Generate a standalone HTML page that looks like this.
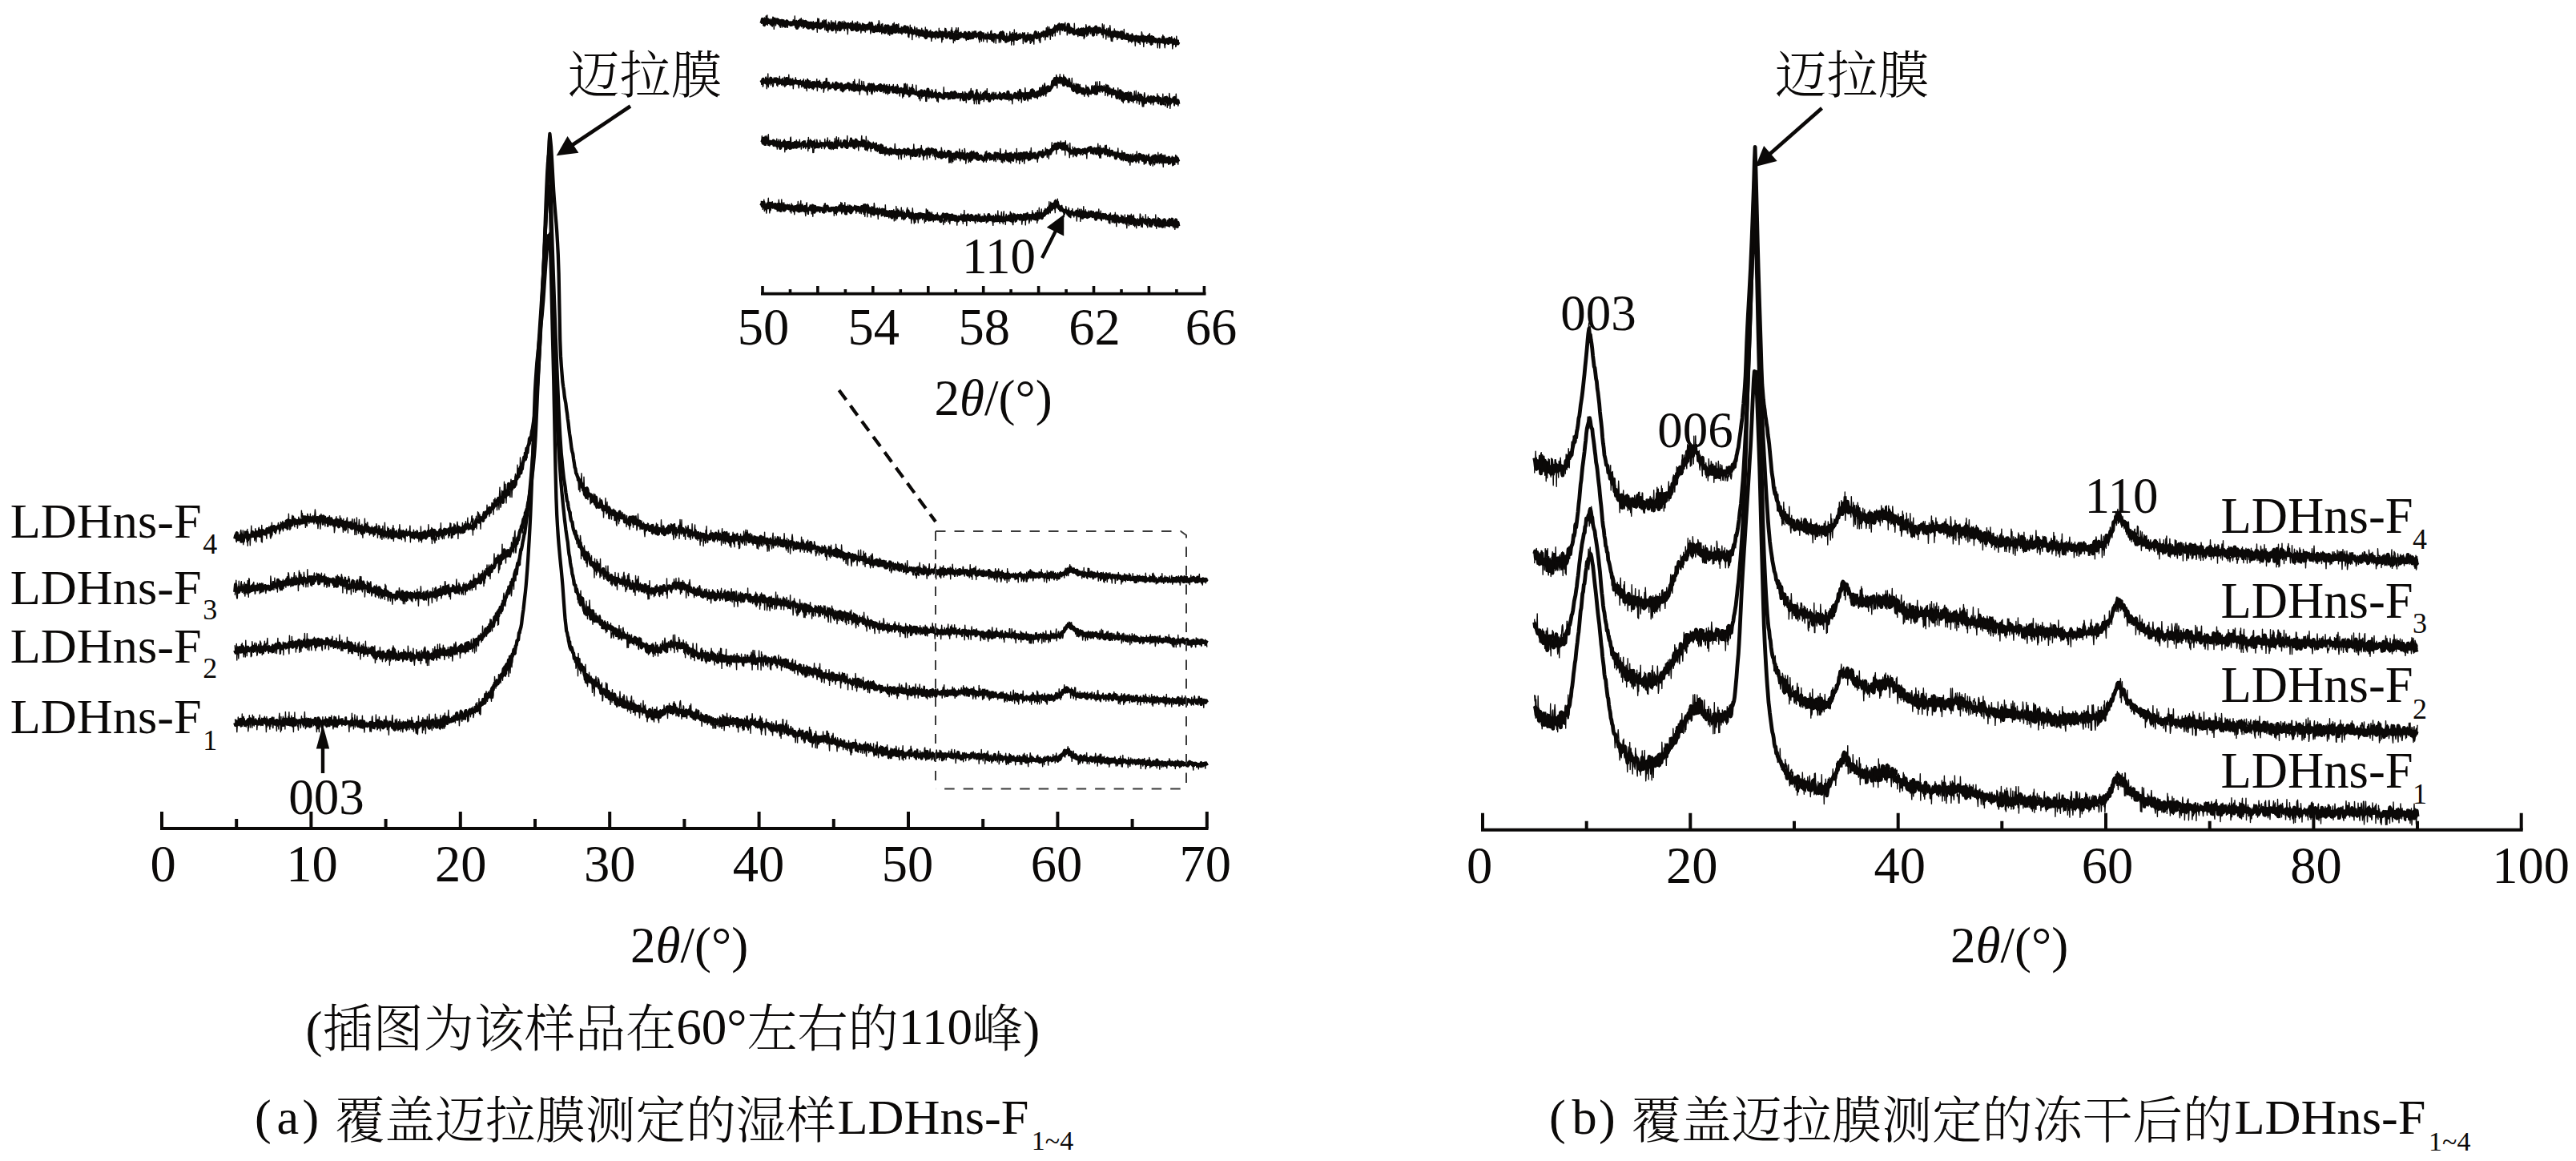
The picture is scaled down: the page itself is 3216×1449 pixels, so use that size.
<!DOCTYPE html><html><head><meta charset="utf-8"><style>html,body{margin:0;padding:0;background:#fff}svg{display:block}</style></head><body><svg width="3216" height="1449" viewBox="0 0 3216 1449">
<rect width="3216" height="1449" fill="#fff"/>
<path d="M293.3 672.5l.8 -3.7 .8 -1.3 .8 -2.3 .8 4.7 .8 3.4 .8 -2.7 .8 .9 .8 1 .8 -4.2 .8 7.4 .8 -7.6 .8 2.6 .8 4.7 .8 -6 .8 .3 .8 -1.4 .8 1.7 .8 -5.5 .8 3.1 .8 4.9 .8 -3.4 .8 -1.1 .8 1.2 .8 -.1 .8 -.7 .8 .8 .8 -5 .8 4.7 .8 -2.9 .8 3 .8 -2 .9 -2.3 .8 1.8 .8 -2.2 .8 4.1 .8 -2.4 .8 1.7 .8 -4.5 .8 5.7 .8 -4.4 .8 3.3 .8 -1.3 .8 -4.5 .8 2.9 .8 -2.1 .8 1.7 .8 2 .8 -1.9 .8 .6 .8 -5.1 .8 2.7 .8 .1 .8 1.3 .8 -3.9 .8 2.3 .8 -.5 .8 -4.5 .8 .8 .8 2.9 .8 -3.7 .8 -.4 .8 4.4 .8 -1.6 .8 -1.4 .8 .5 .8 -1.4 .8 -.5 .8 -.1 .8 1.5 .8 1.7 .8 -4.1 .8 .6 .8 -.6 .8 -2.6 .8 3 .8 1 .8 -3.9 .8 3.3 .8 -3.3 .8 3.4 .8 -.1 .8 -3.7 .8 -3.8 .8 3.3 .8 -2.5 .8 -.1 .8 2.1 .8 3.2 .8 -3.4 .8 -.5 .8 -3.7 .8 2.5 .8 -1.9 .8 3.9 .8 -2.5 .8 .9 .8 -.1 .8 -.6 .8 2.3 .8 -1.2 .8 -1.9 .8 .9 .8 .6 .8 1.6 .8 -2.8 .8 2.6 .8 -4.5 .8 .6 .8 -2.9 .8 4.8 .8 -4.1 .8 -.2 .8 3.9 .8 -3.1 .8 -.6 .8 3.6 .8 -2.6 .8 2.3 .8 -3 .8 2.4 .8 .7 .8 -2.2 .8 3.6 .8 -4.7 .8 .3 .8 .7 .8 2 .8 -2.8 .8 -.2 .8 1.6 .8 2.2 .8 -3.4 .8 -1.8 .8 2.7 .8 1.8 .8 -2.4 .8 1.7 .8 -4.1 .8 4.3 .8 .4 .8 1.3 .8 -.4 .8 1.2 .8 -3.5 .8 3.8 .8 -4.8 .8 2.5 .8 3.9 .8 -.3 .8 -5.6 .8 5.5 .8 -2 .8 -.6 .8 2.3 .8 0 .8 2.9 .8 -5.9 .8 2.3 .8 .8 .8 -3.5 .8 6.7 .8 1.4 .8 -5 .8 2.4 .8 -1.3 .8 1.4 .8 -1.9 .8 3.4 .8 -4.1 .8 5.6 .8 -2 .8 4.6 .8 -8.6 .8 3.5 .8 -2.4 .8 2.6 .8 1.4 .8 -2.7 .8 -1 .8 -.5 .8 4.4 .8 2.4 .8 0 .8 -2.3 .8 -2 .8 1.4 .8 -2.3 .8 0 .8 5.9 .8 -2.8 .8 1.4 .8 -1.1 .8 3.6 .8 .4 .8 -4.6 .8 1 .8 -.5 .8 4.4 .8 0 .8 -3.2 .8 5.7 .8 -4.7 .8 -2.6 .8 -1.6 .8 4.2 .8 1.2 .8 -1.8 .8 2.1 .8 2 .8 -2.6 .8 2.1 .8 1.9 .8 -2.4 .8 -2.2 .8 2.4 .8 .4 .8 3.6 .8 -5.4 .8 -2.3 .8 4.2 .8 .2 .8 -1.4 .8 2.3 .8 -.4 .8 2.1 .8 -4.2 .8 .4 .8 1.7 .8 -.9 .8 4 .8 -1.3 .8 -1.2 .8 3.6 .8 -2.1 .8 1.2 .8 -.2 .8 -1.9 .8 .1 .8 .5 .8 -2.3 .8 1.8 .8 2.7 .8 -1.1 .8 -2.6 .8 7.3 .8 -7.3 .8 3.7 .8 .3 .8 1.3 .8 -4.6 .8 2 .8 -.5 .8 3 .8 -1.7 .8 .1 .8 .3 .8 3.1 .8 -2.7 .8 .4 .8 -3.9 .9 3.6 .8 -4.2 .8 4.7 .8 -1.6 .8 -2.2 .8 -.6 .8 2.3 .8 .5 .8 -1.5 .8 .5 .8 .1 .8 -.5 .8 .8 .8 1 .8 2.2 .8 -1.4 .8 -2.6 .8 4.7 .8 -.9 .8 -3 .8 2.7 .8 -3.3 .8 -.5 .8 .1 .8 5 .8 -3.1 .8 .4 .8 -.6 .8 -.9 .8 1.9 .8 .4 .8 2.7 .8 -6 .8 5.1 .8 -1.8 .8 -5.1 .8 5.8 .8 1.3 .8 -1.1 .8 -1.8 .8 -.2 .8 -4.5 .8 4.8 .8 -.3 .8 -2.4 .8 2.3 .8 -1.9 .8 6.1 .8 -7.4 .8 .5 .8 -2.8 .8 3.6 .8 1 .8 -.4 .8 -1.5 .8 3.1 .8 -1.6 .8 1.9 .8 -2.9 .8 -3.7 .8 3.3 .8 -2 .8 3.7 .8 -3.2 .8 .6 .8 .3 .8 -3.4 .8 2.3 .8 2.5 .8 -3.3 .8 .7 .8 .6 .8 -1.9 .8 .6 .8 1.4 .8 -1.9 .8 .8 .8 -.6 .8 -2 .8 -.7 .8 6.8 .8 -1.4 .8 -3.3 .8 2.1 .8 .2 .8 -.5 .8 -2.9 .8 -2.4 .8 .2 .8 2 .8 3.2 .8 .3 .8 -4 .8 -.4 .8 3.1 .8 1.6 .8 -6.5 .8 2.8 .8 -.9 .8 -1.2 .8 -.2 .8 -.3 .8 .5 .8 -3.5 .8 3 .8 1.4 .8 -.4 .8 -.2 .8 -1.2 .8 -.6 .8 3.4 .8 -5 .8 .2 .8 1.8 .8 -3.2 .8 -3.5 .8 .9 .8 -.5 .8 -.1 .8 -1.4 .8 2.3 .8 -1.4 .8 -1.2 .8 -2.7 .8 2.4 .8 -.8 .8 1.9 .8 -6.9 .8 .4 .8 2.6 .8 -6.3 .8 2.3 .8 -.9 .8 -1.1 .8 -3.1 .8 1.5 .8 -4.4 .8 5.5 .8 -4.8 .8 .7 .8 -1.2 .8 -.4 .8 -1 .8 -.1 .8 -2.7 .8 .1 .8 -3.7 .8 -.8 .8 -.4 .8 -1.3 .8 -1.8 .8 1.1 .8 2.4 .8 -1.4 .8 -3.1 .8 1.2 .8 -.7 .8 5.4 .8 -12.5 .8 4.3 .8 -5.3 .8 6.5 .8 -5.1 .8 1 .8 -1.6 .8 .6 .8 -10.9 .8 3.4 .8 2.7 .8 -5.3 .8 4.6 .8 1 .8 -8.8 .8 1.4 .8 2 .8 2.3 .8 -3.8 .8 -2.3 .8 -6.1 .8 1 .8 -1.4 .8 -3.8 .8 1 .8 -3.9 .8 -2.3 .8 4.9 .8 -8.2 .8 3.2 .8 -8.1 .8 -1.4 .8 -5.2 .8 -.6 .8 3.1 .8 -6.3 .8 -7.3 .8 5.5 .8 -8 .8 -1.7 .8 -2.2 .8 -6.7 .8 3 .8 -4.2 .8 -6.6 .8 -3.2 .8 -5.5 .8 -5.3 .8 -5.1 .8 -7.1 .8 -5.7 .8 -7.4 .8 -8.1 .8 -12.2 .8 -11.4 .8 -13.3 .8 -13.6 .8 -14.3 .8 -15 .8 -16.5 .8 -17.3 .8 -17.4 .8 -17.4 .8 -16.9 .8 -17.3 .8 -16.9 .8 -17 .8 -17.7 .8 -17.6 .8 -22.2 .9 -23.1 .8 -17.6 .8 -9.7 .8 7.6 .8 8.2 .8 12.5 .8 14.5 .8 14.5 .8 14 .8 11.4 .8 9.9 .8 9.6 .8 9.4 .8 10.3 .8 13.5 .8 15.5 .8 23.6 .8 41.7 .8 40.9 .8 20.4 .8 12 .8 10.2 .8 10 .8 5.9 .8 4.9 .8 7.6 .8 4.4 .8 4.3 .8 7 .8 4.9 .8 7.1 .8 5.6 .8 7.5 .8 6.2 .8 5.2 .8 6.4 .8 6.4 .8 3.8 .8 2.3 .8 6.5 .8 4.7 .8 5.8 .8 2 .8 5.7 .8 .8 .8 2.8 .8 1.4 .8 2.6 .8 1.5 .8 3 .8 -1.2 .8 .8 .8 4 .8 2.1 .8 -.2 .8 3.5 .8 1 .8 4.9 .8 -7.8 .8 10.8 .8 -11.4 .8 2.6 .8 6.7 .8 -2.6 .8 2.7 .8 .3 .8 -1.6 .8 .6 .8 3.5 .8 2.7 .8 1.3 .8 -.5 .8 -.7 .8 4.7 .8 -8.4 .8 6.4 .8 3.9 .8 1.4 .8 -.5 .8 .9 .8 -.3 .8 -1.7 .8 -5.3 .8 4.8 .8 1.2 .8 5 .8 -4.3 .8 .7 .8 3 .8 -3.3 .8 2.9 .8 1.7 .8 -1.5 .8 1.1 .8 -3.4 .8 1.7 .8 2.7 .8 3.6 .8 -3.4 .8 -.3 .8 .7 .8 3.7 .8 -4.2 .8 3.9 .8 -.7 .8 1.3 .8 -1.4 .8 2.2 .8 3.2 .8 -3.3 .8 -.1 .8 -4 .8 6.8 .8 -2.2 .8 2.6 .8 -.3 .8 -1.7 .8 .6 .8 -1.2 .8 7.7 .8 -2.1 .8 .1 .8 1.1 .8 .7 .8 -.8 .8 .7 .8 3.5 .8 -8.9 .8 4.6 .8 -1.5 .8 1.8 .8 -5.2 .8 3.4 .8 4.5 .8 -4.2 .8 4.3 .8 -2.6 .8 1.8 .8 -2.7 .8 2.3 .8 -1.6 .8 4.9 .8 -4.7 .8 4.8 .8 -1.6 .8 1.2 .8 3.8 .8 -3.4 .8 -.6 .8 1.8 .8 1.8 .8 -2.5 .8 5.3 .8 -3 .8 -.9 .8 -.3 .8 1.4 .8 1.9 .8 1.4 .8 -1.9 .8 -1.1 .8 1.4 .8 -4.2 .8 7.3 .8 -.5 .8 -2 .8 2.1 .8 -3.6 .8 6.3 .8 -4.2 .8 -.6 .8 5.7 .8 -6.6 .8 3.1 .8 -2.8 .8 .7 .8 .6 .8 -.7 .8 4.5 .8 -.9 .8 -3.6 .8 6.3 .8 -5.2 .8 -.4 .8 1.3 .8 -3.2 .8 5.1 .8 -4.9 .8 -.8 .8 5 .8 -4.4 .8 1.4 .8 -2.2 .8 1.7 .8 1.1 .8 -5.5 .8 5 .8 -1.6 .8 4.7 .8 1.4 .8 -3.3 .8 .1 .8 1 .8 0 .8 -5.3 .8 .3 .8 1.9 .8 -1.9 .8 2.5 .8 1.1 .8 -1.7 .8 3 .8 2.3 .8 -2.7 .8 1.1 .8 -.7 .8 .2 .8 -.6 .8 -1 .8 4 .8 1.4 .8 -2.1 .8 .7 .8 -2.9 .8 2.8 .8 1.4 .8 -.5 .8 .6 .9 -2 .8 -.4 .8 2.4 .8 4 .8 -3.9 .8 -2.3 .8 2 .8 1 .8 3.1 .8 -.2 .8 -3.9 .8 -.4 .8 1.7 .8 .5 .8 -2 .8 4.2 .8 -2.9 .8 1.5 .8 -.9 .8 1.6 .8 -1.3 .8 .8 .8 2.1 .8 -2.1 .8 2.6 .8 -5.7 .8 2.3 .8 -1.8 .8 -.7 .8 3 .8 4.1 .8 -3.5 .8 1.7 .8 -6.2 .8 4.6 .8 -2.9 .8 3 .8 1.8 .8 -3.2 .8 3.4 .8 -4 .8 2 .8 -1.5 .8 1.5 .8 -.4 .8 -4.3 .8 3.9 .8 -.2 .8 4.7 .8 -8.8 .8 5.5 .8 1.7 .8 2.3 .8 -1.2 .8 -2.8 .8 3.3 .8 -3.3 .8 -.1 .8 -.2 .8 0 .8 4.1 .8 -6.7 .8 .3 .8 5.3 .8 -.9 .8 .9 .8 -2.3 .8 2 .8 -1.9 .8 -.5 .8 .2 .8 1.3 .8 -.1 .8 -.9 .8 4.3 .8 -2.3 .8 -1.7 .8 -1.9 .8 2.7 .8 -3.3 .8 1.7 .8 -.5 .8 .6 .8 2.3 .8 -5.4 .8 8.2 .8 -2.1 .8 -1.8 .8 -.3 .8 2.9 .8 -1.7 .8 4 .8 -3.9 .8 -1.5 .8 -1 .8 2.9 .8 2.4 .8 -4.6 .8 5.3 .8 -.8 .8 -2.4 .8 3.5 .8 -6.3 .8 -.9 .8 5.3 .8 .4 .8 0 .8 -.8 .8 -2.9 .8 4.3 .8 -1.8 .8 2.7 .8 -1.3 .8 -2.8 .8 3.8 .8 .5 .8 .1 .8 -3.1 .8 -.7 .8 4 .8 -1.7 .8 0 .8 2.4 .8 .2 .8 -1.1 .8 -1.4 .8 3.7 .8 -5.3 .8 2.3 .8 .8 .8 -3.5 .8 1.4 .8 3.5 .8 -1.9 .8 -2 .8 5.8 .8 -3 .8 -.1 .8 3.7 .8 -6.9 .8 2.1 .8 -.7 .8 4.8 .8 -4.4 .8 6.8 .8 -3.9 .8 -.2 .8 1.5 .8 -2.5 .8 -1.3 .8 .7 .8 1.4 .8 -2 .8 2.4 .8 -1.5 .8 1 .8 .4 .8 3.6 .8 1.6 .8 -.7 .8 -4 .8 -1 .8 3.8 .8 .7 .8 -.6 .8 -3.1 .8 2 .8 -1.1 .8 2.9 .8 -.1 .8 -1.3 .8 -1.3 .8 4.7 .8 -3.1 .8 1.5 .8 -.5 .8 .6 .8 1 .8 -3 .8 -.1 .8 2.4 .8 -6.7 .8 5.5 .8 -.7 .8 2.7 .8 -.6 .8 -1 .8 -1.8 .8 2.2 .8 -.1 .8 .9 .8 .5 .8 -1.7 .8 2.7 .8 -2 .8 2.1 .8 0 .8 2.2 .8 -2.5 .8 3.6 .8 -3.9 .8 -.9 .8 3.4 .8 -3.8 .8 3.6 .8 .2 .8 -.2 .8 .7 .8 -.3 .8 2.5 .8 -2.7 .8 -3.6 .8 3.5 .8 2.7 .8 .5 .8 -.4 .8 -1.1 .8 -1.8 .8 5.3 .8 -4.2 .8 -.9 .8 -2.5 .8 9.1 .8 -3.7 .8 -3.6 .8 5.8 .8 -.2 .8 -4.6 .8 5.2 .9 -1.3 .8 1.5 .8 1.6 .8 -3.4 .8 5.4 .8 -4.4 .8 -.8 .8 3.8 .8 -3.6 .8 .8 .8 2.6 .8 -3.3 .8 -.7 .8 3.4 .8 -.4 .8 -1 .8 3.2 .8 -4 .8 4 .8 -3.4 .8 3.2 .8 -3.1 .8 3.8 .8 -1.2 .8 -.5 .8 1.2 .8 -.3 .8 2.1 .8 -2.7 .8 2.3 .8 -1.2 .8 -.4 .8 .4 .8 -1 .8 3 .8 -.3 .8 .7 .8 -3.6 .8 2.4 .8 4 .8 -.3 .8 -2.4 .8 .4 .8 .6 .8 1.9 .8 1 .8 -2.1 .8 .1 .8 -.3 .8 .9 .8 2.9 .8 -4.4 .8 2.7 .8 -3.2 .8 .3 .8 -1 .8 2.3 .8 4 .8 .5 .8 -1.4 .8 -1.4 .8 2.3 .8 -3.8 .8 -.5 .8 1.1 .8 1.4 .8 -2.8 .8 2.1 .8 4.7 .8 -3.3 .8 -.2 .8 -.3 .8 2.6 .8 0 .8 -.9 .8 -.3 .8 -3.5 .8 1.4 .8 2.1 .8 -.2 .8 .6 .8 -.1 .8 4.2 .8 -1 .8 -3.9 .8 3.5 .8 -.5 .8 -.7 .8 -.2 .8 1.3 .8 2.8 .8 -4.1 .8 .8 .8 .2 .8 -2.6 .8 3.1 .8 -1.3 .8 2.1 .8 .4 .8 2.6 .8 -3.4 .8 0 .8 2 .8 2.3 .8 -3 .8 .7 .8 .2 .8 .1 .8 -1.7 .8 -.3 .8 .3 .8 .7 .8 1.2 .8 -1.9 .8 .3 .8 1.5 .8 -.2 .8 .5 .8 -2.2 .8 5.5 .8 -3.5 .8 0 .8 -.9 .8 2.3 .8 1 .8 -1.7 .8 0 .8 -.2 .8 4.2 .8 -2.7 .8 -1.6 .8 1.1 .8 1.5 .8 -1.4 .8 .3 .8 -.2 .8 -.6 .8 1.3 .8 1.8 .8 -1.9 .8 -1.2 .8 -.9 .8 1.3 .8 -.8 .8 -.4 .8 2.4 .8 -.5 .8 1.3 .8 -1 .8 -1.3 .8 2.1 .8 -.8 .8 1.6 .8 -3.8 .8 1 .8 .7 .8 2.4 .8 -1.7 .8 -2.6 .8 .4 .8 2.3 .8 -3.3 .8 1.4 .8 .9 .8 -.3 .8 1 .8 .8 .8 -.8 .8 -2.5 .8 4.1 .8 -.4 .8 -2.9 .8 .8 .8 -1.6 .8 4.3 .8 -2.9 .8 1.4 .8 .1 .8 1.3 .8 -1.8 .8 -.7 .8 1.5 .8 .6 .8 -2.4 .8 .7 .8 -2.2 .8 4.6 .8 -3.2 .8 2.5 .8 -.1 .8 -.1 .8 .2 .8 -2.6 .8 1.5 .8 -1.3 .8 .9 .8 -1 .8 4.9 .8 -3.3 .8 1.2 .8 -2.5 .8 3.8 .8 -2.8 .8 -.1 .8 -.2 .8 -1.8 .8 -.7 .8 3.4 .8 -1.9 .8 1.4 .8 3.4 .8 -3.4 .8 3.6 .8 -2.5 .8 -2.1 .8 2.6 .8 .9 .8 -.4 .8 -2.2 .8 -.5 .8 3.1 .8 1.6 .8 -.1 .8 -3.1 .8 .3 .8 .9 .8 1.3 .8 -.9 .9 .1 .8 -.5 .8 -3.9 .8 2.3 .8 2.1 .8 -2.4 .8 5.5 .8 -4.2 .8 2.4 .8 .5 .8 .4 .8 -3.4 .8 1.6 .8 2.6 .8 -2 .8 1.2 .8 -4.8 .8 4.3 .8 -.3 .8 -.3 .8 -2.4 .8 1.6 .8 .8 .8 -.1 .8 -1 .8 3.3 .8 -.1 .8 -1.9 .8 2.8 .8 -3.9 .8 2.3 .8 2 .8 -1.6 .8 -1 .8 1 .8 -.9 .8 -.6 .8 -.4 .8 1.2 .8 -.2 .8 .7 .8 -1.7 .8 1.6 .8 1 .8 -2.3 .8 3.3 .8 -3.5 .8 0 .8 .2 .8 -.9 .8 -.5 .8 .5 .8 1.4 .8 -.8 .8 3.3 .8 -2.4 .8 -.4 .8 -.2 .8 1.5 .8 -.5 .8 .3 .8 .8 .8 1 .8 -3.5 .8 2.3 .8 -.9 .8 .3 .8 -1.2 .8 1.7 .8 0 .8 -.3 .8 -1.7 .8 2.1 .8 -2.3 .8 -.9 .8 3.4 .8 -1.4 .8 -2.1 .8 1.3 .8 1 .8 1.4 .8 -1.7 .8 -.9 .8 -.3 .8 -.5 .8 1.8 .8 -1 .8 2 .8 -1.9 .8 2.5 .8 -1.8 .8 .3 .8 -.2 .8 -.1 .8 2.5 .8 -3.3 .8 .2 .8 .4 .8 1.2 .8 -2.3 .8 3.3 .8 -3.4 .8 .6 .8 .8 .8 0 .8 -1.5 .8 2.4 .8 1.3 .8 -2.7 .8 1 .8 -.2 .8 2.5 .8 -3.4 .8 .1 .8 -1.1 .8 .6 .8 -1.1 .8 -.4 .8 -.2 .8 1.2 .8 -2.1 .8 1.1 .8 -1.9 .8 1.1 .8 -3.8 .8 -.5 .8 1.8 .8 .8 .8 -2.9 .8 -2.3 .8 4.5 .8 -.7 .8 -1.5 .8 3.2 .8 .3 .8 -2.3 .8 .6 .8 1.8 .8 .4 .8 1.3 .8 -.8 .8 2.3 .8 -2.9 .8 -.4 .8 .6 .8 .1 .8 1 .8 -.7 .8 2.4 .8 .7 .8 .7 .8 -2.7 .8 -.9 .8 1.3 .8 .7 .8 -.6 .8 1.4 .8 .1 .8 -.2 .8 -1.5 .8 2.4 .8 -2.3 .8 -2.1 .8 3.1 .8 1.8 .8 -1.6 .8 -2.1 .8 1.7 .8 2.1 .8 -1.3 .8 -.4 .8 -1.4 .8 1.6 .8 -.8 .8 2.9 .8 -1.5 .8 .8 .8 -3.2 .8 2.2 .8 1.1 .8 1.3 .8 -.5 .8 -2.7 .8 5 .8 -4 .8 -.1 .8 .1 .8 -1 .8 1.1 .8 -.4 .8 .4 .8 -.2 .8 .6 .8 1.3 .8 -1.7 .8 -.6 .8 2.4 .8 -.7 .8 1.1 .8 -2.1 .8 1.2 .8 -.9 .8 -.6 .8 1.2 .8 .6 .8 .6 .8 -1.8 .8 2.6 .8 .5 .8 -.9 .8 -.9 .8 -.5 .8 2.5 .8 -2.3 .8 2.9 .8 -4.1 .8 0 .8 3.1 .8 -2.1 .8 3 .8 -1.8 .8 0 .8 1.1 .8 1.1 .8 -.3 .8 -1.3 .8 -.1 .8 1.5 .9 -2 .8 -.2 .8 .1 .8 5.1 .8 -1.8 .8 -1.3 .8 -1 .8 1.2 .8 -2.8 .8 1.8 .8 1.6 .8 -.9 .8 -1.8 .8 1.5 .8 -.2 .8 2.1 .8 -.7 .8 -.8 .8 2.7 .8 -3.5 .8 2.2 .8 -.8 .8 -.7 .8 -.5 .8 1.3 .8 1.3 .8 -4 .8 2.3 .8 1 .8 -2.1 .8 .1 .8 2.7 .8 -2.1 .8 -.1 .8 1 .8 -.1 .8 .4 .8 0 .8 1.1 .8 -1.3 .8 .7 .8 -2.2 .8 1.4 .8 -1 .8 2.6 .8 -1.5 .8 1.2 .8 -1.8 .8 -.9 .8 2.2 .8 -1.2 .8 -1.6 .8 1.5 .8 -.6 .8 2.8 .8 -1.9 .8 1 .8 -.2 .8 .9 .8 -.9 .8 0 .8 -.1 .8 -2.2 .8 1.7 .8 -1.5 .8 0 .8 1.6 .8 -2.4 .8 1.9 .8 1.6 .8 -1.4 .8 1 .8 -2.3 .8 1.3 .8 -3.2 .8 1.8 .8 .6 .8 3 .8 .3 .8 -4.9 .8 1.9 .8 -.4 .8 3 .8 -.9 .8 -1.5 .8 1.4 .8 .5 .8 -2.3 .8 2.1 .8 -.5 .8 .3 .8 -3.1 .8 2 .8 -2.8 .8 3.3 .8 -1.3 .8 2.7 .8 .1 .8 -3.9 .8 4.1 .8 -2.5 .8 1.8 .8 -1.1 .8 -.6 .8 .2 .8 -.3 .8 2.4 .8 -1.7 .8 -1.4 .8 2.1 .8 -1.4 .8 1.2 .8 -1.6 .8 1.4 .8 -1.6" fill="none" stroke="#0b0908" stroke-width="4.3" stroke-linejoin="round"/>
<path d="M293.3 666.9l.5 5.1 .5 -5.4 .5 8.5 .5 1.5 .5 -4.9 .5 -2.8 .5 2.4 .5 -1.9 .5 -2.1 .5 1.2 .5 2.5 .5 3.4 .5 -2.1 .5 -8.9 .5 -1.9 .5 3.8 .5 2 .5 7 .5 -5.6 .5 -6.8 .5 17.8 .5 -4.8 .5 -4.8 .5 -7.1 .5 4.1 .5 2.9 .5 .4 .5 -5.1 .5 .4 .5 10.8 .5 -16 .5 20.8 .5 -17.5 .5 10.9 .5 -3.7 .5 .1 .5 -2.1 .5 11.7 .5 -10.2 .5 -2.5 .5 -11.9 .5 14 .5 -.7 .5 -3.6 .5 -3.2 .5 5.4 .5 .7 .5 -3.8 .5 9.8 .5 -2.4 .5 -12.6 .5 2.9 .5 13.9 .5 -7.9 .5 1.1 .5 -6.2 .5 2.2 .5 -1.2 .5 -4.5 .5 -1.7 .5 4 .5 1.9 .5 -3.6 .5 3.8 .5 -3 .5 14.7 .5 -20.7 .5 21.6 .5 -12.2 .5 1.2 .5 -2.5 .5 3.1 .5 .7 .6 -3.7 .5 -.6 .5 1.7 .5 1.5 .5 2.3 .5 3.7 .5 -12.9 .5 4.9 .5 -2.1 .5 -2.7 .5 -.7 .5 -1.5 .5 1.3 .5 .3 .5 11.3 .5 2 .5 -9.6 .5 7.5 .5 -17.7 .5 15.6 .5 -11.4 .5 4.7 .5 -5 .5 4.5 .5 3.7 .5 -6.7 .5 5.2 .5 3.2 .5 -.4 .5 -2.4 .5 -1.1 .5 -2.8 .5 .1 .5 -2.8 .5 -4.2 .5 3.6 .5 -.2 .5 10.3 .5 -7 .5 3.5 .5 -11.3 .5 4.2 .5 1.7 .5 -.8 .5 3.7 .5 -9.7 .5 12.3 .5 -3.3 .5 -4.3 .5 -2.8 .5 4.9 .5 -.9 .5 -7 .5 10.1 .5 -10.7 .5 4 .5 8.6 .5 -6.9 .5 -6.8 .5 12.8 .5 -19.3 .5 14.7 .5 -4.6 .5 10.1 .5 -4.1 .5 2.4 .5 -7.9 .5 2.7 .5 -8 .5 -3.4 .5 10.9 .5 1.6 .5 -11.5 .5 6.2 .5 1.5 .5 5.8 .5 -6.1 .5 -.7 .5 3.5 .5 .1 .5 -5.4 .5 4.3 .5 5.9 .5 -4.5 .5 -4.5 .5 -5.1 .5 3 .5 7.2 .5 -5.2 .5 4.9 .5 -3.7 .5 2 .5 -16.2 .5 7.8 .5 -4.1 .5 6.3 .5 5.9 .5 -9.4 .5 4.5 .5 -1.6 .5 7.3 .5 -5.4 .5 10 .5 -5.9 .5 3 .5 -7.4 .5 8.5 .5 -15.4 .5 1.3 .5 8 .5 -2.4 .5 5.1 .5 -4.1 .5 1.8 .5 -9.6 .5 10.6 .5 -1 .5 1.2 .5 -4.6 .5 1.1 .5 -4.5 .5 -.5 .5 6.2 .5 4.2 .5 -7.8 .5 -4.1 .5 -6.2 .5 4.6 .5 7.3 .5 6 .5 -2.1 .5 -6.9 .5 4.5 .5 10.3 .5 -4.5 .5 -2 .5 -2.1 .5 -6.2 .5 5.8 .5 9.5 .5 -9.8 .5 -8.8 .5 2.6 .5 7.6 .5 2.8 .5 .7 .5 -11.3 .5 10.7 .5 -7 .5 4.5 .5 -3.6 .5 8.2 .5 -12.2 .5 6.1 .5 2.2 .5 -5.2 .5 3.1 .5 6.7 .5 -5.7 .5 5.1 .5 -7.7 .5 -2.4 .5 -3.1 .5 11.4 .5 -4.6 .5 5.4 .5 -5 .5 .7 .5 3.6 .5 0 .5 -5.4 .5 7.3 .5 -5.8 .5 1.1 .5 12.4 .5 -3.1 .5 -7.7 .5 -2.5 .5 -4.5 .5 -2.1 .5 9.6 .5 -1.8 .5 -2.2 .5 3.4 .5 -1.6 .5 4 .5 -7.5 .5 5 .5 -10 .5 9.5 .5 .9 .5 -7.3 .5 3.4 .5 4.6 .5 -5.7 .5 7.9 .5 7.3 .5 -16.9 .5 12.3 .5 -3.9 .5 -5 .5 11.8 .5 -8.5 .5 3.6 .5 -4.7 .5 -4.8 .5 -2.2 .5 6.1 .5 13 .5 -13.8 .5 .6 .5 -.5 .5 7.3 .5 -6.4 .5 1.4 .5 .1 .5 0 .5 2.5 .5 -5.9 .5 -2.8 .5 9.3 .5 3.1 .5 -.5 .5 -4.4 .5 -7.1 .5 19.4 .5 -12.9 .5 -2.3 .5 7 .5 8.2 .5 -21.4 .5 12.5 .5 0 .5 -2.3 .5 9.4 .5 -10.5 .5 -6.6 .5 7.9 .5 2.1 .5 7.1 .5 -3.4 .5 .8 .5 4.2 .5 -12.9 .5 8.5 .5 8.3 .5 -10.8 .5 -2.6 .5 -.4 .5 5.3 .5 -15.4 .5 16.3 .5 -9.7 .5 8.2 .5 -2.8 .5 5.3 .5 -12.3 .5 -.2 .5 11.5 .5 -3.2 .5 -3.5 .5 2.2 .5 8.9 .5 -9.9 .5 1 .5 2.5 .5 -.7 .5 -.5 .5 -3.6 .5 4.5 .5 2.9 .5 -1.6 .5 7 .5 -11 .5 6.7 .5 -.1 .5 -2.4 .5 -4.9 .5 2.2 .5 -6.4 .5 6.2 .5 -3.1 .5 14.6 .5 -7.5 .5 2.5 .5 -10.5 .5 5.2 .5 -4.4 .5 3.8 .5 11.3 .5 -2.7 .5 -2.3 .5 -6.7 .5 13.4 .5 -7.2 .5 -9.8 .5 10.4 .5 3.6 .5 1.5 .5 -10.3 .5 -9.5 .5 12.6 .5 -2.3 .5 8.6 .5 -.4 .5 -1.6 .5 -2.4 .5 -8.9 .5 15 .5 -9.9 .5 -3.4 .5 12.1 .5 -7.3 .5 5 .5 -7.4 .5 -1.1 .5 10.6 .5 -6.1 .5 1.6 .5 -7.9 .5 4.1 .5 -7.2 .5 19.6 .5 -15.8 .5 5.7 .5 4.9 .5 -.6 .5 -6.6 .5 5.5 .5 -4.5 .5 -2.2 .5 3.2 .5 .6 .5 6.4 .5 -4.1 .5 -7.8 .5 12.4 .5 -17.7 .5 9.6 .5 4.2 .5 1 .5 -8.2 .5 12.3 .5 -10.4 .5 .8 .5 -2.2 .5 -.5 .5 8.4 .5 1.8 .5 -9 .5 8.6 .5 4.7 .5 -11.4 .5 .1 .5 -4.5 .5 4.6 .5 4.5 .5 -3.9 .5 -1.7 .5 4.7 .5 -5.5 .5 4.1 .5 -4 .5 -6.8 .5 20.6 .5 -12.9 .5 4.6 .5 -2.3 .5 -1 .5 4.8 .5 -2.7 .5 3.8 .5 -9.9 .5 3.9 .5 7.9 .5 -6.6 .5 -2.8 .5 7.9 .5 -7 .5 2.4 .5 -5.1 .5 7.8 .5 -6.7 .5 4.6 .5 .9 .5 7.7 .5 -11.2 .5 7.1 .5 .4 .5 1.9 .5 -17.3 .5 12.7 .5 7.3 .5 -8.4 .5 -.1 .5 3.2 .5 -4.3 .5 2.6 .5 .3 .5 -1.4 .5 3.7 .5 -5.6 .5 -2.2 .5 8.5 .5 -4.2 .5 .6 .5 -6.6 .5 -.8 .5 6.7 .5 -14.2 .5 13.1 .5 .5 .5 -1.9 .5 -4.5 .5 3.6 .5 -4.9 .5 6.3 .5 -8.5 .5 20.1 .5 -18.7 .5 1 .5 7.5 .5 .2 .5 6.4 .5 -8.1 .5 11 .5 -5.2 .5 .7 .5 -6.6 .5 7.6 .5 -7.1 .5 1.6 .5 -2 .5 -1.1 .5 2.5 .5 5.1 .5 -12.5 .5 4.2 .5 -4.7 .5 3.9 .5 -11.5 .5 18 .5 -1 .5 -5.2 .5 8.1 .5 -5.8 .5 -3.4 .5 .9 .5 8.2 .5 -7.4 .5 .6 .5 -4.6 .5 6.9 .5 -8.2 .5 7.4 .5 -6.9 .5 4.3 .5 -3.3 .5 -2.1 .5 12.1 .5 -9.6 .5 -3.5 .5 10.6 .5 -16.2 .5 3.1 .5 -2.3 .5 18.3 .5 -10.6 .5 .6 .5 9.6 .5 -12.4 .5 4.2 .5 -3.6 .5 -5.9 .5 3.1 .5 5 .5 -6.5 .5 8.9 .5 1.7 .5 -5.3 .5 -4.4 .5 -4.8 .5 4.4 .5 16.7 .5 -11.3 .5 -2.6 .5 2.7 .5 -2.5 .5 7.3 .5 -7 .5 1.4 .5 -1.1 .5 4.1 .5 2.4 .5 -13.4 .5 8.5 .5 -.6 .5 .3 .5 -4.2 .5 -2.6 .5 10.5 .5 -2.2 .5 -11.3 .5 6.5 .5 3.6 .5 -6.9 .5 -.2 .5 -7.7 .5 15.3 .5 -.3 .5 -6.1 .5 4.9 .5 -4.7 .5 1.1 .5 .6 .5 -5.7 .5 .1 .5 -7 .5 -.6 .5 11.2 .5 13.1 .5 -20.5 .5 13.7 .6 -.2 .5 -8.5 .5 -.8 .5 -4 .5 7.6 .5 -11 .5 15.7 .5 -6.4 .5 -2.1 .5 -12.7 .5 7.3 .5 -6.2 .5 5.4 .5 2.6 .5 -5.6 .5 4.6 .5 13.3 .5 -11.3 .5 -2.5 .5 .1 .5 1.5 .5 -2.3 .5 -4.4 .5 -2.7 .5 9.7 .5 -9.2 .5 3 .5 3.8 .5 -2.7 .5 -2 .5 -1.5 .5 5.9 .5 -15.5 .5 8.4 .5 -3.8 .5 3.4 .5 -1.7 .5 .6 .5 7.5 .5 -4.5 .5 -5.1 .5 -.6 .5 -1.1 .5 2.1 .5 -7.8 .5 8.7 .5 -8.2 .5 3.6 .5 10.6 .5 -18.6 .5 11.4 .5 -6.8 .5 -6.6 .5 9.3 .5 -2.1 .5 3.2 .5 -8.3 .5 12.9 .5 -5 .5 -1.6 .5 -4.4 .5 1.1 .5 9.3 .5 -18.1 .5 -9.8 .5 17.4 .5 7.7 .5 -1.6 .5 -15.3 .5 -4 .5 9 .5 -7.1 .5 12.2 .5 -8.8 .5 5.9 .5 -22.2 .5 19.5 .5 -13.6 .5 -3 .5 15.1 .5 8.6 .5 -16.8 .5 8.2 .5 -15.1 .5 10.3 .5 4 .5 -1.2 .5 .5 .5 -4.7 .5 6.9 .5 .4 .5 -18.1 .5 -4.1 .5 5.8 .5 16.6 .5 -10.3 .5 -10.6 .5 2.5 .5 5.7 .5 -8.4 .5 9.7 .5 -9.2 .5 -4.2 .5 -4.3 .5 11.5 .5 2.6 .5 -.2 .5 -8.5 .5 -16.8 .5 18.4 .5 -1.3 .5 -13 .5 12.2 .5 -14.3 .5 13.4 .5 -24.5 .5 11.3 .5 2.8 .5 -6.9 .5 6.9 .5 1.7 .5 -12.5 .5 -.8 .5 7.2 .5 -4.4 .5 -11.6 .5 3.5 .5 -3.1 .5 4.5 .5 -8 .5 5.2 .5 -4 .5 8.6 .5 -14.7 .5 1.3 .5 -10.6 .5 1.7 .5 6.3 .5 -6.5 .5 .5 .5 4.3 .5 -8.7 .5 3.9 .5 -12.6 .5 .5 .5 5 .5 -6.5 .5 -8.6 .5 1.3 .5 -5.3 .5 -.6 .5 -8.3 .5 -3.6 .5 1.8 .5 -10 .5 -2.1 .5 -4.4 .5 -8.5 .5 -5.4 .5 -7 .5 -7.3 .5 -8.5 .5 -8.4 .5 -8.3 .5 -9 .5 -8.5 .5 -10.9 .5 -9.7 .5 -10.5 .5 -10.6 .5 -10.9 .5 -9.9 .5 -11.5 .5 -10.8 .5 -9.7 .5 -11.9 .5 -9.9 .5 -10.7 .5 -11 .5 -10.2 .5 -11.2 .5 -10.7 .5 -10.9 .5 -12.9 .5 -14.6 .5 -14.7 .5 -12.8 .5 -10.4 .5 -7.3 .5 3.1 .5 -3.9 .5 5.7 .5 6.7 .5 8.2 .5 8.4 .5 9.3 .5 9.9 .5 9.5 .5 8.2 .5 7.7 .5 7.8 .5 4.3 .5 5.8 .5 8.2 .5 3.8 .5 6 .5 7.6 .5 6.8 .5 8.9 .5 9.5 .5 10.5 .5 15.8 .5 24.1 .5 27.8 .5 26 .5 19 .5 10.1 .5 6.4 .5 8.8 .5 5.2 .5 5.3 .5 8.4 .5 1.6 .5 7.4 .5 -1.7 .5 6.4 .5 4 .5 4 .5 -1.1 .5 1.4 .5 7.3 .5 1.6 .5 8.9 .5 -1.6 .5 6.6 .5 4 .5 4.2 .5 6 .5 .4 .5 8.7 .5 2.4 .5 1.7 .5 .7 .5 5.7 .5 3.5 .5 2.3 .5 4.4 .5 7.4 .5 -6.8 .5 6.7 .5 -.5 .5 3.6 .5 5.3 .5 .3 .5 3.5 .5 5.4 .5 -5.4 .5 11.7 .5 -5.7 .5 1.6 .5 4.2 .5 11.3 .5 -8.9 .5 2.9 .5 8.6 .5 -14.4 .5 -1.9 .5 8.7 .5 -15.4 .5 10.7 .5 10.8 .5 -.1 .5 -8.8 .5 13.7 .5 -21.9 .5 14.9 .5 2.5 .5 -1.1 .5 -2.9 .5 4.7 .5 3.6 .5 .4 .5 -9.2 .5 12.7 .5 2.7 .5 -6 .5 -1.2 .5 .9 .5 .9 .5 -.4 .5 11.3 .5 -2.5 .5 -7.1 .5 8.2 .5 -9.8 .5 8.3 .5 .1 .5 .1 .5 -7 .5 -3.1 .5 10 .5 -4.5 .5 -4.5 .5 15.3 .5 .6 .5 1.5 .5 -8.3 .5 3.6 .5 -.6 .5 .5 .5 3.5 .5 -4.5 .5 -2.4 .5 5.2 .5 -9.8 .5 8.2 .5 1.7 .5 -5.6 .5 -1.9 .5 12.3 .5 -5 .5 2.5 .5 -1.6 .5 13.5 .5 -7.6 .5 -6.5 .5 3 .5 -.4 .5 -12.8 .5 17.5 .5 2.5 .5 -10.1 .5 -5 .5 13.6 .5 -.9 .5 1.3 .5 6.9 .5 -11.5 .5 11.9 .5 -8.3 .5 1.6 .5 -.6 .5 -1.6 .5 9.1 .5 -11 .5 3.5 .5 -2.8 .5 5.3 .5 -7.8 .5 3.1 .5 11.2 .5 -8.2 .5 8.2 .5 -12 .5 2.4 .5 14.1 .5 2.2 .5 -8.3 .5 -1.3 .5 -2.2 .5 .4 .5 8.9 .5 -11.3 .5 7.9 .5 -13.1 .5 6.5 .5 -.4 .5 -2.2 .5 1.4 .5 .2 .5 -3.2 .5 5.5 .5 .7 .5 2.9 .5 1.2 .5 2 .5 -3.6 .5 -4.1 .5 3.9 .5 .1 .5 9.4 .5 -14.1 .5 10.8 .5 -5.8 .5 .4 .5 -2.6 .5 4.1 .5 -.4 .5 10.9 .5 -7.1 .5 -5.9 .5 8.2 .5 -7.4 .5 1.5 .5 .6 .5 -6.1 .5 1.8 .5 11.9 .5 -7.4 .5 -7.1 .5 10.7 .5 -1.2 .5 -8.9 .5 8.7 .5 -9.4 .5 4.8 .5 13.4 .5 -2.4 .5 -10.7 .5 -7.6 .5 7.8 .5 5.8 .5 -1.8 .5 -3.5 .5 11.3 .5 -3.1 .5 -.3 .5 -3.7 .5 -3.7 .5 5.6 .5 -.6 .5 5.4 .5 -5.8 .5 -2.7 .5 6.1 .5 7 .5 4.8 .5 -6.7 .5 -7 .5 .4 .5 2 .5 -3.7 .5 2.7 .5 -4.6 .5 5.4 .5 -4.8 .5 9.2 .5 -6.3 .5 6 .5 -7 .5 5.7 .5 -1.6 .5 -3.3 .5 9.6 .5 -6.6 .5 7.6 .5 -6.7 .5 -5.6 .5 11.4 .5 -5.7 .5 .1 .5 -.8 .5 -1 .5 -2.1 .5 3.5 .5 -6.9 .5 10.4 .5 2.1 .5 -11 .5 9.9 .5 -1.6 .5 -4.5 .5 8.7 .5 -3.8 .5 -2.3 .5 1.7 .5 .3 .5 -14.1 .5 8.6 .5 -.1 .5 1.1 .5 5.5 .5 -8.2 .5 6.4 .5 -5.1 .5 5.6 .5 -2 .5 1.4 .5 .7 .5 3.9 .5 -5.2 .5 1.1 .5 -1 .5 -4.4 .5 -1.4 .5 10.8 .5 -11.5 .5 5.5 .5 -4.3 .5 6.4 .5 1.3 .5 -10.3 .5 8.1 .5 -7.4 .5 4.3 .5 8.4 .5 -11.3 .5 12.7 .5 5.1 .5 -19.9 .5 10.6 .5 -10.4 .5 8.6 .5 9 .5 -7.3 .5 -5.6 .5 10.2 .5 -7.7 .5 1.6 .5 -.2 .5 -4.1 .5 -2.8 .5 16.9 .5 -8.4 .5 -15.6 .5 8.2 .5 9.6 .5 .7 .5 -18.1 .5 13.2 .5 3.5 .5 -1.5 .6 -1.8 .5 7.1 .5 -.6 .5 -.6 .5 -1.6 .5 6.8 .5 -16.7 .5 4.2 .5 -.5 .5 4 .5 -6.2 .5 11.4 .5 -13.8 .5 4.8 .5 10.3 .5 -1.6 .5 -.4 .5 -8.3 .5 13 .5 -5.1 .5 -3 .5 1.6 .5 -13.3 .5 18.2 .5 -3.5 .5 -4.1 .5 4.2 .5 -.9 .5 -8.3 .5 -4.4 .5 15.8 .5 -10 .5 1.2 .5 5.8 .5 -3.1 .5 2.1 .5 7.7 .5 -6.9 .5 -2.1 .5 -1.2 .5 8.2 .5 -5 .5 13.1 .5 -16.3 .5 5.1 .5 6.3 .5 -10 .5 1.5 .5 3.8 .5 -5.1 .5 15.8 .5 -12.6 .5 1.3 .5 4.1 .5 -4.1 .5 7.8 .5 -16.5 .5 15.3 .5 -20.2 .5 15.2 .5 -.1 .5 5.4 .5 -4 .5 .2 .5 -6 .5 4.3 .5 -5.8 .5 1.1 .5 1.3 .5 -6.5 .5 8.4 .5 -4.6 .5 -.5 .5 9.9 .5 -.3 .5 -7.3 .5 6 .5 3.1 .5 -7.1 .5 -4.3 .5 6.4 .5 -2.7 .5 -4 .5 4.9 .5 -3.5 .5 9.5 .5 -4.9 .5 -5.9 .5 -3.5 .5 3.9 .5 2.1 .5 7.1 .5 -9.3 .5 2.3 .5 1.7 .5 11.4 .5 -14.6 .5 -6.3 .5 13.4 .5 2.7 .5 2.4 .5 -12.8 .5 2.2 .5 -4.1 .5 14 .5 1.4 .5 -10.3 .5 -.6 .5 4.7 .5 -9.3 .5 8.6 .5 -3.3 .5 -2.4 .5 11.3 .5 -12.4 .5 10.8 .5 5.2 .5 -9.2 .5 -.6 .5 11.7 .5 -9.5 .5 2.7 .5 -.4 .5 -4.2 .5 -7.4 .5 12.2 .5 2.4 .5 -5.2 .5 8.9 .5 -12 .5 -1.8 .5 1.6 .5 -2.6 .5 -1.5 .5 4 .5 -4.8 .5 2 .5 11.9 .5 -6.2 .5 11.5 .5 -8.6 .5 7.9 .5 -11.9 .5 -5.7 .5 7.6 .5 -4.9 .5 5.5 .5 2.3 .5 1.8 .5 -7 .5 3.3 .5 -12 .5 4.7 .5 12.7 .5 -8.8 .5 -6 .5 -4.3 .5 19.2 .5 -15.9 .5 7.8 .5 -10.6 .5 5.6 .5 7 .5 1.3 .5 -5.4 .5 2.9 .5 1.2 .5 -9 .5 4.5 .5 2.2 .5 1.1 .5 -6.3 .5 2.3 .5 2.3 .5 8.9 .5 -5.7 .5 -6 .5 7.7 .5 2 .5 -5.5 .5 3.9 .5 1.9 .5 -2.5 .5 -.4 .5 8.5 .5 -7.6 .5 .8 .5 7.8 .5 -7.8 .5 -1.3 .5 -4 .5 9.5 .5 -6.7 .5 -1.5 .5 3.8 .5 3.3 .5 -6.5 .5 7.8 .5 -10.6 .5 -1.9 .5 2.4 .5 8.2 .5 -1.3 .5 -14.6 .5 13.5 .5 -2.9 .5 4.6 .5 1.2 .5 -.6 .5 -1.5 .5 9.7 .5 -14 .5 4.3 .5 4.5 .5 4.8 .5 -5.7 .5 -1.7 .5 -5.7 .5 -3.6 .5 4.9 .5 -2.3 .5 11.4 .5 -4 .5 -11.4 .5 -4.5 .5 18.8 .5 -8.2 .5 4.3 .5 -5.4 .5 -4.8 .5 4.7 .5 3.2 .5 -1.7 .5 -1.7 .5 -2.5 .5 -2.2 .5 13.2 .5 -8.1 .5 -4.7 .5 5.3 .5 -.1 .5 1.9 .5 -6.8 .5 5.8 .5 5.9 .5 -1.9 .5 0 .5 -5.6 .5 3.6 .5 -2 .5 -.3 .5 6.7 .5 -16.7 .5 9.8 .5 4.4 .5 .7 .5 1.9 .5 4.1 .5 -10.9 .5 -4.1 .5 9.4 .5 -1.4 .5 9.6 .5 -15.8 .5 5.9 .5 -.6 .5 -.5 .5 12.8 .5 -12.6 .5 -3.8 .5 9.1 .5 -12.8 .5 -4 .5 4.6 .5 13.7 .5 2 .5 -1.8 .5 -5.3 .5 1.9 .5 -5.8 .5 2.4 .5 3 .5 .9 .5 -7 .5 5.1 .5 1.6 .5 2.5 .5 -8.5 .5 8.7 .5 -3.9 .5 -.7 .5 -2 .5 10.5 .5 -3.5 .5 -1.2 .5 -13.9 .5 7.1 .5 9.2 .5 -3.3 .5 -9.6 .5 4.9 .5 -2 .5 12.8 .5 -10.2 .5 3 .5 -.1 .5 -3.9 .5 -.7 .5 -1.7 .5 13 .5 .4 .5 -15.2 .5 4.5 .5 8.8 .5 -9.6 .5 3 .5 8.1 .5 -6.2 .5 -2.3 .5 10.4 .5 -1.5 .5 -10.2 .5 5.8 .5 -1.9 .5 -1.8 .5 2.3 .5 1.1 .5 -8.8 .5 1.2 .5 11.3 .5 .4 .5 5.2 .5 -2.4 .5 -6.8 .5 5.5 .5 -5.1 .5 -1 .5 .3 .5 3.8 .5 4.9 .5 -9.2 .5 4.5 .5 -1.4 .5 -3 .5 6 .5 1.4 .5 -10.4 .5 5.3 .5 -3.5 .5 5.3 .5 -2.6 .5 -1.9 .5 1.3 .5 -4.4 .5 12.1 .5 2 .5 -10.9 .5 7.4 .5 8.1 .5 -8.3 .5 .5 .5 -.8 .5 -6.9 .5 -2 .5 12.6 .5 -11.8 .5 12.3 .5 1.5 .5 -7.2 .5 -8.7 .5 9.9 .5 4 .5 -6.7 .5 2.5 .5 -3.7 .5 .6 .5 1 .5 -2.1 .5 1.5 .5 4.8 .5 2.1 .5 -14.9 .5 7 .5 5.8 .5 -1.4 .5 5.3 .5 -2 .5 -2.6 .5 2.8 .5 -8.4 .5 9.8 .5 -4.1 .5 2.1 .5 2.9 .5 -2.4 .5 -14.1 .5 6.7 .5 8.1 .5 -2 .5 -4.4 .5 11.9 .5 -11.1 .5 .4 .5 3.6 .5 2.3 .5 -4.2 .5 12.2 .5 -11.4 .5 -1.6 .5 .1 .5 13.7 .5 1.2 .5 -16.5 .5 7.7 .5 -6.9 .5 5.7 .5 -3.2 .5 .8 .5 1.8 .5 7.7 .5 3.9 .5 -12.9 .5 -2.8 .5 7.6 .5 3.1 .5 -6.4 .5 2.4 .5 2.9 .5 -1 .5 -1.4 .5 -1.1 .5 -4.6 .5 2.9 .5 -1.5 .5 12.3 .5 -10.9 .5 1.7 .5 -10.1 .5 8.9 .5 1.6 .5 4 .5 -4.3 .5 -2.2 .5 -8.4 .5 12.5 .5 .6 .5 -3.1 .5 -1.9 .5 1.1 .5 9.3 .5 -16.9 .5 11.7 .5 -8.5 .5 12.7 .5 3.4 .5 -17.1 .5 12 .5 -4.8 .5 5 .5 -3.6 .5 .7 .5 -1.7 .5 -.9 .5 6.6 .5 -8.8 .5 7.8 .5 .5 .5 6 .5 -15.6 .5 10.6 .5 2.1 .5 -13.6 .5 -1.4 .5 5.3 .5 12.2 .5 -8.3 .5 .4 .5 1.2 .5 2.1 .5 -1.6 .5 3.5 .5 -5.7 .5 -2.1 .5 5.6 .5 -.9 .5 2.3 .5 -5.7 .5 -.9 .5 3.2 .5 4.9 .5 -10.1 .5 8.6 .5 -.1 .5 -7 .5 8.3 .5 -1.7 .5 2.5 .5 -4.6 .5 4.4 .5 -6.2 .5 3.7 .5 4.2 .5 -5.8 .5 2.1 .5 5.3 .5 -9.9 .5 -.4 .5 10.2 .5 -3.8 .5 -1.7 .5 5.2 .5 -3.8 .5 -1.9 .5 1.6 .5 -5.6 .5 12.5 .5 -5.3 .5 -3 .5 -3 .5 13.7 .5 -2.9 .5 .6 .5 -3.8 .6 -5.6 .5 -1.4 .5 3 .5 6.2 .5 -3.9 .5 5 .5 -3.4 .5 -.2 .5 -2.2 .5 -1.6 .5 5.6 .5 1.5 .5 -10.5 .5 8.6 .5 -2 .5 -4.9 .5 10.5 .5 -6.4 .5 -2.8 .5 6.9 .5 -2 .5 3.9 .5 -9.1 .5 -.1 .5 6.5 .5 -2.9 .5 7 .5 -1.5 .5 .7 .5 -4.7 .5 3.8 .5 -9.8 .5 3.1 .5 10.5 .5 -5 .5 -3.5 .5 -8.5 .5 8.2 .5 .4 .5 1.1 .5 1.7 .5 -1.8 .5 -1.9 .5 2.7 .5 1.6 .5 -3.4 .5 2.2 .5 3.5 .5 -1.8 .5 -2 .5 7.5 .5 -4 .5 4.1 .5 -8.7 .5 5.1 .5 -4.1 .5 8 .5 -2.5 .5 1.9 .5 4.3 .5 -7.4 .5 3.2 .5 -3.1 .5 -7.6 .5 11.2 .5 .4 .5 -6.8 .5 -9.5 .5 10.3 .5 -4 .5 4.7 .5 3.9 .5 -7.7 .5 5.5 .5 -4.3 .5 3.5 .5 -9.4 .5 8.7 .5 -1.9 .5 -2.9 .5 -2.3 .5 8.8 .5 -.5 .5 -6.8 .5 6.5 .5 8 .5 -10.5 .5 -2.2 .5 8.1 .5 1.2 .5 -10.2 .5 -5 .5 7.3 .5 1.6 .5 2 .5 -3.3 .5 3.6 .5 -4.2 .5 1.7 .5 1.7 .5 -1.1 .5 3.8 .5 -1.9 .5 -.2 .5 -6.4 .5 .3 .5 -4.9 .5 2.9 .5 16.3 .5 -11.6 .5 1 .5 2.3 .5 3.1 .5 -3.3 .5 1.5 .5 .3 .5 1.6 .5 2.2 .5 -12.7 .5 12.4 .5 1.9 .5 -12.7 .5 8.9 .5 -3.8 .5 -5.8 .5 9.5 .5 -11.7 .5 14.4 .5 -6.3 .5 4.3 .5 -5.7 .5 4.9 .5 -3.8 .5 -1 .5 5 .5 0 .5 -7.9 .5 3.5 .5 -4.5 .5 3.7 .5 .6 .5 2.3 .5 -3.2 .5 -4.4 .5 14.9 .5 -12.2 .5 .4 .5 -2.3 .5 7 .5 -11.5 .5 8.2 .5 -.2 .5 4.8 .5 0 .5 2.5 .5 0 .5 -3.3 .5 -6.8 .5 4 .5 -1.4 .5 1.9 .5 5.5 .5 -8.6 .5 1.1 .5 5.9 .5 -8.1 .5 5.5 .5 3.3 .5 -6.5 .5 .7 .5 3.5 .5 -2.1 .5 1.6 .5 -1.5 .5 -1.2 .5 -5.8 .5 1 .5 3.8 .5 1.8 .5 5.4 .5 -2.4 .5 -6.3 .5 4 .5 1.1 .5 -3.8 .5 -1.4 .5 3.7 .5 0 .5 2.7 .5 -1 .5 1.9 .5 3.4 .5 -5.3 .5 -11 .5 10.6 .5 4.4 .5 -9.8 .5 1.9 .5 11.5 .5 -13.2 .5 .9 .5 5.7 .5 -5.1 .5 -3 .5 6.2 .5 .2 .5 -5.1 .5 -3.2 .5 16.8 .5 -7 .5 .1 .5 -2.6 .5 -1.6 .5 1.5 .5 2.8 .5 .1 .5 -6.9 .5 6 .5 -1.6 .5 2.2 .5 -1.2 .5 4 .5 -5.5 .5 2.1 .5 -3.3 .5 3 .5 -4.7 .5 6.8 .5 -4.4 .5 3.7 .5 -4.8 .5 5.7 .5 1 .5 -5.9 .5 -.3 .5 2.1 .5 2.7 .5 -3.6 .5 4.8 .5 1.1 .5 2.8 .5 -3.2 .5 -4.9 .5 3.1 .5 -3.8 .5 3.5 .5 -2.3 .5 3.5 .5 -4.7 .5 .8 .5 0 .5 -.4 .5 7.7 .5 -6.4 .5 8.4 .5 -6.6 .5 -7.6 .5 3.6 .5 1.4 .5 5.4 .5 6.3 .5 -6.2 .5 1.1 .5 -5.3 .5 -6.1 .5 6 .5 1.8 .5 4.3 .5 .1 .5 -1.7 .5 5.8 .5 -2.1 .5 -11 .5 -1.4 .5 7.7 .5 2.4 .5 -7.4 .5 .4 .5 8.2 .5 -7 .5 8.2 .5 -8.5 .5 6.2 .5 -3.4 .5 .4 .5 8.5 .5 -17.7 .5 9.2 .5 -5.3 .5 6.6 .5 5.2 .5 -10 .5 3.4 .5 3.3 .5 -1.1 .5 -1.1 .5 -1.1 .5 0 .5 .1 .5 1.1 .5 -2 .5 -2.8 .5 4.4 .5 -.2 .5 -.2 .5 4.4 .5 -8.6 .5 4.7 .5 -1.3 .5 1 .5 .2 .5 -.2 .5 1 .5 6.5 .5 -9.8 .5 2 .5 -4.2 .5 5.1 .5 -3.3 .5 -2.9 .5 1.3 .5 10.4 .5 -3.4 .5 -.5 .5 .4 .5 .8 .5 3.2 .5 -7 .5 5.8 .5 -2.4 .5 -6.4 .5 1.1 .5 2.5 .5 6.5 .5 -11.9 .5 11.7 .5 -9.9 .5 5.4 .5 -8.3 .5 5.9 .5 -1.2 .5 -5.4 .5 4.3 .5 -6.1 .5 11 .5 -10 .5 9.3 .5 -1.4 .5 -5.4 .5 -1.2 .5 12 .5 -3.6 .5 -7 .5 0 .5 4.1 .5 1.3 .5 .9 .5 -.2 .5 -.8 .5 .7 .5 -1.4 .5 -.4 .5 -1.4 .5 2.6 .5 -3.6 .5 -2.6 .5 4 .5 -1.4 .5 -2.1 .5 7 .5 -1.8 .5 -8.7 .5 9.2 .5 -5 .5 4.9 .5 -.8 .5 -2.6 .5 2.5 .5 7.2 .5 -9.3 .5 -1.1 .5 -.3 .5 3.9 .5 -1.1 .5 9 .5 -14.8 .5 9 .5 -5.8 .5 5.5 .5 -6.7 .5 3.6 .5 7 .5 -10 .5 .5 .5 -2.1 .5 4.9 .5 -3 .5 -2.1 .5 1.6 .5 5.1 .5 .4 .5 -6.9 .5 9.9 .5 .6 .5 -4.5 .5 -2.6 .5 -1.9 .5 6.5 .5 -2.7 .5 1.4 .5 4.4 .5 -4.6 .5 -5.1 .5 1.9 .5 1.8 .5 3.3 .5 -6.8 .5 5.8 .5 -7.2 .5 0 .5 5.5 .5 -4.3 .5 5.5 .5 -1.7 .5 -1.8 .5 -.2 .5 -.9 .5 1.1 .5 4.5 .5 -9.7 .5 4.1 .5 -6.4 .5 6.8 .5 -4.8 .5 7.5 .5 -9.6 .5 .2 .5 7.4 .5 2 .5 -4 .5 -2.7 .5 -3.8 .5 -3.5 .5 6.1 .5 -.4 .5 -1.9 .5 .2 .5 3.9 .5 -.6 .5 -.7 .5 2.7 .5 -4.2 .5 -1 .5 .4 .5 5.3 .5 -2.5 .5 -1.3 .5 .7 .5 -1 .5 5.6 .5 -4.1 .5 -1.5 .5 .7 .5 4.9 .5 -3.4 .5 5.2 .5 -2.9 .5 0 .5 3.3 .5 -4.2 .5 1.8 .5 -1.3 .5 7.5 .5 -9.3 .5 6.3 .5 -1.6 .5 1.2 .5 -10 .5 12.1 .5 -4.3 .5 1.4 .5 -3 .5 .5 .5 3.5 .5 2.6 .5 -6.6 .5 7.6 .5 -13 .5 9.9 .5 -9.8 .5 .2 .5 5.5 .5 .5 .5 4.1 .5 1.1 .5 -3.3 .5 -3.1 .5 2 .5 -2.5 .5 7.8 .5 1.3 .5 -4 .5 2.7 .5 -6.4 .5 -.2 .5 .3 .5 3.7 .5 1.1 .5 -2.6 .5 -.5 .5 1.7 .5 -6.2 .5 3 .5 9.6 .5 -9.5 .5 4.1 .5 -2.7 .5 3 .5 4.5 .5 -.4 .5 -4.2 .5 -.7 .5 3.6 .6 -3.9 .5 -.3 .5 -4.5 .5 11.8 .5 -6.9 .5 7.9 .5 -9.6 .5 2.3 .5 4.4 .5 -9.5 .5 .4 .5 5 .5 6.4 .5 -8.7 .5 4.6 .5 -7 .5 6.9 .5 -2.8 .5 1.8 .5 -6.4 .5 3.6 .5 4.4 .5 -1.7 .5 2.1 .5 4.7 .5 -10.3 .5 3.1 .5 -.5 .5 -2.5 .5 3.6 .5 -3.3 .5 -.9 .5 11.2 .5 -6.2 .5 -.8 .5 -.2 .5 -1.7 .5 5 .5 -6.7 .5 5.9 .5 -9.2 .5 4 .5 2.8 .5 -.5 .5 -1 .5 3.4 .5 -5.3 .5 11.2 .5 -6 .5 -1.1 .5 4.2 .5 -.2 .5 -4.1 .5 -1.2 .5 -1.2 .5 -3.4 .5 4.7 .5 -1.8 .5 7.1 .5 -5 .5 -1.3 .5 -1.9 .5 6.5 .5 -4.4 .5 1.4 .5 -3 .5 1.2 .5 -4 .5 3.9 .5 -1.2 .5 -.6 .5 1.3 .5 4 .5 -.3 .5 .6 .5 -1.5 .5 -6 .5 8.9 .5 -1.7 .5 .4 .5 4 .5 -5.2 .5 4.8 .5 -3 .5 -4.5 .5 7.8 .5 -.2 .5 -9.4 .5 1.1 .5 4.5 .5 2.8 .5 -2.2 .5 -2.2 .5 -3.7 .5 3.5 .5 1 .5 -1.1 .5 2.8 .5 -3.8 .5 5.4 .5 -6.8 .5 4.4 .5 1.4 .5 -5.6 .5 3.3 .5 -2.8 .5 2.6 .5 1.2 .5 -8.3 .5 10.4 .5 -5.7 .5 2.2 .5 2 .5 .8 .5 -.5 .5 -2.5 .5 -.3 .5 1.7 .5 -5.3 .5 5.1 .5 2.1 .5 -1.8 .5 2 .5 -3.2 .5 2.5 .5 -8.6 .5 7.9 .5 -8.6 .5 5.7 .5 -3.4 .5 9.1 .5 -7.6 .5 4 .5 1.9 .5 3.9 .5 -8.3 .5 7.2 .5 -2.8 .5 2.8 .5 -2 .5 .6 .5 -6.2 .5 2 .5 1.9 .5 0 .5 -4.8 .5 .6 .5 3.5 .5 -2.1 .5 -5.7 .5 10 .5 -2.3 .5 -1.9 .5 7 .5 -2.1 .5 -2 .5 -5.6 .5 7.8 .5 -2.8 .5 2.4 .5 -1.5 .5 .4 .5 -3.1 .5 5.4 .5 -1.5 .5 -1.7 .5 .3 .5 -2.3 .5 -3.2 .5 4.5 .5 3.5 .5 -3.7 .5 3 .5 -8 .5 3.1 .5 7.9 .5 -3.4 .5 -5.1 .5 6 .5 -3 .5 2.8 .5 -1.6 .5 1.9 .5 -1.6 .5 -5.7 .5 7.8 .5 -5 .5 2.8 .5 -1.2 .5 -2.5 .5 -2.6 .5 3.2 .5 5.3 .5 -6.6 .5 9.5 .5 -3.1 .5 -4 .5 .4 .5 .8 .5 -2.3 .5 1.1 .5 1.1 .5 -2.1 .5 -.3 .5 -3.2 .5 5.8 .5 -5.2 .5 6.9 .5 -1.6 .5 -5.4 .5 .2 .5 6.4 .5 -6 .5 3.9 .5 4.1 .5 -1.7 .5 -.5 .5 0 .5 4.1 .5 -4.7 .5 -1.9 .5 -5 .5 6.7 .5 .2 .5 -3.6 .5 3.7 .5 -1.9 .5 1.4 .5 -1.9 .5 1.4 .5 -1.6 .5 -1.2 .5 6.3 .5 .1 .5 -6.6 .5 4.5 .5 -6.2 .5 8.2 .5 -6.3 .5 -2.3 .5 4.5 .5 2.7 .5 -9.7 .5 7.5 .5 1.9 .5 -3.7 .5 2.6 .5 -.3 .5 4.1 .5 -1.8 .5 3.4 .5 -6.8 .5 -.9 .5 -1 .5 5.1 .5 -4.5 .5 .2 .5 3.5 .5 2 .5 -5.7 .5 3 .5 -3.5" fill="none" stroke="#0b0908" stroke-width="1.4" stroke-linejoin="round"/>
<path d="M293.3 738.9l.8 -9.5 .8 7.7 .8 -2 .8 2.7 .8 -2 .8 3.1 .8 -3.9 .8 -1.2 .8 2.3 .8 -.3 .8 -1.8 .8 .2 .8 2.1 .8 -.1 .8 -2.6 .8 .2 .8 -3.1 .8 7.5 .8 -4.2 .8 3.3 .8 -2 .8 3.2 .8 -.9 .8 -2.7 .8 2.4 .8 -5.3 .8 4.7 .8 -5.9 .8 3.8 .8 1.5 .8 -1.9 .9 -1.3 .8 -1 .8 .9 .8 3 .8 -.5 .8 -2.5 .8 -2.2 .8 4.1 .8 -4.7 .8 1.9 .8 -.5 .8 3.1 .8 -1.2 .8 .4 .8 -.5 .8 -2.1 .8 2.5 .8 1.8 .8 -3.3 .8 1.3 .8 -1.7 .8 2.3 .8 -.9 .8 .3 .8 -1.3 .8 2.7 .8 -4.5 .8 -.1 .8 -.7 .8 2.4 .8 -2.8 .8 -.2 .8 2.8 .8 .7 .8 -1.4 .8 -7 .8 3.4 .8 -.5 .8 -.4 .8 1.5 .8 4.7 .8 -4.8 .8 -1.1 .8 3 .8 -1.5 .8 -.1 .8 -1.9 .8 1.4 .8 .7 .8 -5.2 .8 .6 .8 5.6 .8 -.6 .8 -3 .8 -1.3 .8 1.7 .8 -2.3 .8 1.7 .8 4.1 .8 -3.4 .8 2.1 .8 -3.1 .8 1.1 .8 2 .8 -6 .8 2 .8 .3 .8 .8 .8 2.6 .8 -2 .8 -4.9 .8 2.5 .8 -1.5 .8 -.2 .8 6.3 .8 -6.8 .8 2.6 .8 -2.1 .8 3.3 .8 -1.2 .8 -.6 .8 -.6 .8 2.5 .8 -4.5 .8 .3 .8 -.9 .8 5.2 .8 -3.5 .8 -1.7 .8 1.3 .8 6.3 .8 -5.7 .8 2.1 .8 -.9 .8 -1 .8 -1.5 .8 .8 .8 0 .8 -4 .8 10.4 .8 -3.5 .8 -1.7 .8 -.6 .8 -1.2 .8 3.8 .8 -2.3 .8 1.5 .8 -3.9 .8 3.9 .8 3.6 .8 -4.8 .8 2.5 .8 -1.5 .8 2.4 .8 .1 .8 -2 .8 -1.2 .8 1.9 .8 -.3 .8 -1.3 .8 2.5 .8 .1 .8 -2.7 .8 1.8 .8 6 .8 -3.7 .8 -1.4 .8 5.4 .8 -6.3 .8 -4.2 .8 1.4 .8 1 .8 4 .8 1.7 .8 -6.7 .8 7.2 .8 -4.9 .8 3.4 .8 .6 .8 0 .8 -.7 .8 .5 .8 -2.7 .8 3.2 .8 1.7 .8 0 .8 3.8 .8 -3.1 .8 -.6 .8 2.2 .8 -2.9 .8 -3.2 .8 -1.8 .8 7.7 .8 -1.3 .8 .7 .8 -2.3 .8 1.6 .8 3.5 .8 -3.2 .8 -2.9 .8 1.6 .8 4.1 .8 -5.1 .8 -3.1 .8 .8 .8 2.3 .8 4.8 .8 -1.4 .8 -1.6 .8 -.9 .8 2.7 .8 .1 .8 -.7 .8 .8 .8 -.9 .8 5.7 .8 -8.8 .8 5.6 .8 -2.3 .8 3.9 .8 -1.8 .8 1.5 .8 .6 .8 -.5 .8 1.9 .8 -4.8 .8 5.3 .8 -2.3 .8 1.6 .8 2.8 .8 -.7 .8 2.1 .8 -8.8 .8 3.1 .8 4.4 .8 -4.2 .8 2.3 .8 4.4 .8 -1.5 .8 -3.7 .8 3.3 .8 .7 .8 -1 .8 -.1 .8 .8 .8 -3.3 .8 3.7 .8 -2.1 .8 3.2 .8 .2 .8 -2.6 .8 3.4 .8 -.4 .8 -.7 .8 1.8 .8 -2.1 .8 .2 .8 .8 .8 -.2 .8 2.6 .8 -7.5 .8 4.4 .8 -3.6 .8 3.2 .8 1.6 .8 -.5 .8 2 .8 -1.4 .9 -6.2 .8 3.1 .8 5.8 .8 0 .8 -3.2 .8 -3.5 .8 7.9 .8 -9.1 .8 5.1 .8 -.7 .8 .6 .8 -3.1 .8 1.7 .8 3.1 .8 -3.3 .8 -1.9 .8 2.9 .8 .2 .8 -.5 .8 -1.4 .8 2.9 .8 -1.5 .8 -2.2 .8 3 .8 -.6 .8 .4 .8 -3.9 .8 2 .8 2.6 .8 1 .8 -1.2 .8 -.4 .8 1.2 .8 .6 .8 1.6 .8 -2.8 .8 -2.2 .8 2.1 .8 -5.2 .8 4.2 .8 -1.2 .8 .8 .8 1 .8 -1.1 .8 -3.4 .8 2.2 .8 -1.1 .8 1.5 .8 .6 .8 -3 .8 3.4 .8 1 .8 -3.6 .8 1.9 .8 -4.9 .8 1.7 .8 3 .8 -6 .8 2.4 .8 -1 .8 4.1 .8 -.3 .8 -4 .8 1.4 .8 -6 .8 7.1 .8 -1.3 .8 1.9 .8 -8.1 .8 5.6 .8 -1.7 .8 -4.9 .8 3.8 .8 1.2 .8 1.7 .8 -1.5 .8 -1.6 .8 1.8 .8 -1.3 .8 -1.3 .8 -.9 .8 2.4 .8 -.2 .8 3.5 .8 -5 .8 4.2 .8 -2.8 .8 1.6 .8 -4.5 .8 -.1 .8 1.1 .8 2.3 .8 -1.6 .8 1 .8 -1.1 .8 1.4 .8 -2 .8 -1.7 .8 2 .8 -1.1 .8 3.3 .8 -4.3 .8 .3 .8 -1.1 .8 2.8 .8 -1 .8 -.8 .8 -4.4 .8 -1 .8 3.3 .8 .5 .8 1.1 .8 -7.5 .8 2.9 .8 -3.8 .8 1 .8 1 .8 1.9 .8 -3.8 .8 -1 .8 .2 .8 2.8 .8 1.9 .8 -9.2 .8 2.1 .8 -1 .8 2.9 .8 -2.3 .8 1.7 .8 -6.4 .8 1.5 .8 -1.9 .8 -2.2 .8 1.3 .8 -3.2 .8 6.9 .8 -4.9 .8 -4.2 .8 .1 .8 4.6 .8 -6.1 .8 1.9 .8 -1.1 .8 .4 .8 -2 .8 -2.9 .8 -1.9 .8 -3.9 .8 3.6 .8 -.3 .8 -2.1 .8 -.2 .8 -3.7 .8 8.6 .8 -8.1 .8 -2.2 .8 .6 .8 .5 .8 2 .8 -9.9 .8 7.9 .8 -4 .8 .6 .8 2.9 .8 -1.4 .8 -5.1 .8 1 .8 5.3 .8 -2.4 .8 -2.4 .8 -3.5 .8 2 .8 -2.7 .8 -4 .8 -2.4 .8 3.5 .8 -1.7 .8 1.1 .8 -6.6 .8 3.8 .8 -6.9 .8 2.5 .8 -4 .8 -5.1 .8 -3.2 .8 -.2 .8 -2.8 .8 .4 .8 -6.5 .8 -4.5 .8 .7 .8 1.6 .8 -3.7 .8 -7.9 .8 -2.5 .8 -2.5 .8 -5.5 .8 -3.4 .8 -4.5 .8 -5.8 .8 -4.5 .8 -5.4 .8 -5.4 .8 -7.8 .8 -6.4 .8 -8.8 .8 -8.8 .8 -10.7 .8 -13.5 .8 -17.3 .8 -18.2 .8 -18.1 .8 -16.8 .8 -16.4 .8 -16.4 .8 -16.6 .8 -16.5 .8 -16.5 .8 -17.3 .8 -16.4 .8 -16.5 .8 -18.9 .8 -21.1 .8 -22.1 .8 -22.2 .8 -20.3 .8 -18 .8 -13.6 .9 -9.6 .8 -2.6 .8 12.5 .8 20.3 .8 26.5 .8 28.7 .8 27.4 .8 22.7 .8 22.2 .8 22.3 .8 22.3 .8 21.1 .8 19.7 .8 18.7 .8 18.8 .8 18.7 .8 17.9 .8 16.2 .8 14.8 .8 12.4 .8 11.7 .8 7.3 .8 9 .8 7.3 .8 7.5 .8 4.8 .8 5.1 .8 7 .8 5.3 .8 5.6 .8 1.1 .8 5.7 .8 4.3 .8 2.1 .8 5.4 .8 4.9 .8 1.8 .8 .5 .8 6.1 .8 3.8 .8 2 .8 3 .8 -3 .8 6.9 .8 2.5 .8 -.2 .8 2.7 .8 .1 .8 6.9 .8 -2.3 .8 -.2 .8 4.5 .8 1.2 .8 2.9 .8 -2.9 .8 1.8 .8 4.2 .8 6.4 .8 -3.8 .8 -4 .8 5.4 .8 -1.6 .8 -2 .8 4.3 .8 1.3 .8 3.8 .8 3.4 .8 .4 .8 -.1 .8 -2.6 .8 2.4 .8 .3 .8 4.6 .8 -4.8 .8 1 .8 6.1 .8 -1.7 .8 -2 .8 2.2 .8 .7 .8 .7 .8 2.2 .8 -.5 .8 -.7 .8 -.2 .8 -2.4 .8 3.7 .8 4.4 .8 -1.7 .8 -1.5 .8 1.5 .8 -.9 .8 3.2 .8 4.5 .8 0 .8 -1 .8 -.5 .8 -1.9 .8 -1.8 .8 3.2 .8 -.6 .8 3.3 .8 -1.2 .8 -1.3 .8 2.7 .8 5.1 .8 -7.5 .8 4.9 .8 -.9 .8 -1.3 .8 -1.2 .8 2 .8 .8 .8 1.4 .8 .1 .8 -.6 .8 -1.9 .8 2.4 .8 -1.5 .8 -1.1 .8 4.6 .8 -3.3 .8 -.9 .8 3 .8 -4.3 .8 4.4 .8 1.3 .8 -1.7 .8 1.7 .8 4.4 .8 -1.4 .8 -.9 .8 -.5 .8 -2.3 .8 1 .8 -.1 .8 .9 .8 .4 .8 -1.9 .8 5.6 .8 -5.6 .8 3.3 .8 1.7 .8 -2.1 .8 -1.2 .8 1.8 .8 4.5 .8 -2.7 .8 -1.7 .8 2.1 .8 -1.5 .8 -3.4 .8 4.9 .8 2 .8 .5 .8 -2.5 .8 -2.8 .8 6 .8 -2.8 .8 2.2 .8 1 .8 -1.6 .8 -.7 .8 -1.1 .8 .5 .8 1.1 .8 -1 .8 1.9 .8 -5.1 .8 2.1 .8 2.2 .8 -1.5 .8 .3 .8 -1.4 .8 3.9 .8 1.9 .8 -5.9 .8 4.5 .8 -5.9 .8 3.3 .8 -5 .8 5.2 .8 -1.2 .8 0 .8 2 .8 -1.6 .8 -1.6 .8 -2.1 .8 1.7 .8 -1.9 .8 .3 .8 3.9 .8 -1.6 .8 -1.5 .8 .5 .8 -4.7 .8 3.2 .8 -4.1 .8 2.1 .8 2.2 .8 -.1 .8 .7 .8 -1.2 .8 -.3 .8 0 .8 3.2 .8 -.1 .8 -5.9 .8 3.7 .8 2.8 .8 -3.1 .8 1.3 .8 -1.5 .8 -1 .8 3.3 .8 -.8 .8 .9 .8 -2.4 .8 1 .8 2.6 .8 -.3 .8 2.5 .8 -3 .8 4.2 .8 0 .8 -.6 .8 1.5 .8 -1.2 .9 .1 .8 .7 .8 -2.4 .8 2.9 .8 2 .8 -5 .8 5.2 .8 -2.7 .8 .7 .8 1.2 .8 .4 .8 2.6 .8 -3.1 .8 4.1 .8 -3.4 .8 1.1 .8 .5 .8 -2.8 .8 -.8 .8 2.8 .8 1.4 .8 .5 .8 -2.6 .8 4.7 .8 -3.9 .8 -1.1 .8 4.1 .8 .3 .8 -4.6 .8 3.9 .8 -4.4 .8 3 .8 4.9 .8 -2.1 .8 -1.1 .8 -.1 .8 -3.1 .8 2.6 .8 .3 .8 -3.1 .8 2.7 .8 .8 .8 -.6 .8 .5 .8 -1.4 .8 -1.9 .8 2.6 .8 -4.2 .8 2.6 .8 4 .8 1.5 .8 -3 .8 -6 .8 8.1 .8 -1.7 .8 -1.5 .8 2 .8 -.4 .8 -3.7 .8 -.2 .8 5.1 .8 -7.1 .8 6.2 .8 -.5 .8 1.5 .8 1.6 .8 -.8 .8 .6 .8 -1.6 .8 -.6 .8 1.3 .8 -2.3 .8 -1.8 .8 1.8 .8 -3.1 .8 2.3 .8 5.6 .8 -3.2 .8 -1.4 .8 -.8 .8 -2.5 .8 2.8 .8 -.5 .8 1.8 .8 .2 .8 -.2 .8 -3.8 .8 7.2 .8 -2 .8 -.9 .8 -.6 .8 1.7 .8 1.9 .8 -1.3 .8 -3.7 .8 -.1 .8 -2.3 .8 5.4 .8 1.4 .8 1.2 .8 -2.2 .8 1.5 .8 -3.6 .8 3.2 .8 -1.3 .8 -1 .8 -2.1 .8 6.2 .8 -7.2 .8 6.3 .8 -3 .8 3.1 .8 -2.3 .8 2.9 .8 -2 .8 -1.6 .8 1.2 .8 -2.2 .8 4.2 .8 1.7 .8 -1.1 .8 -.6 .8 2.7 .8 -5.1 .8 3.8 .8 -1 .8 -.9 .8 2.3 .8 -3.4 .8 2.3 .8 1.1 .8 -3 .8 2.1 .8 1.8 .8 1 .8 -3.8 .8 4.1 .8 -2.4 .8 1 .8 -1.2 .8 2.9 .8 -2.9 .8 2.2 .8 .4 .8 1 .8 -3.7 .8 4 .8 -1.4 .8 3.2 .8 -3.6 .8 -.3 .8 1.2 .8 -.4 .8 .5 .8 -2.1 .8 -1.6 .8 1.5 .8 2 .8 2.3 .8 -1.4 .8 -1.2 .8 1.9 .8 .6 .8 5.5 .8 -2.6 .8 -2.1 .8 -3.3 .8 2.8 .8 -.1 .8 2 .8 3.5 .8 -4.5 .8 -3.8 .8 4 .8 -3.1 .8 5.5 .8 .7 .8 -1.5 .8 -3.6 .8 2.9 .8 3 .8 -4.4 .8 1 .8 1.9 .8 .7 .8 -.7 .8 .7 .8 -.2 .8 -1.5 .8 1.2 .8 1 .8 -2.8 .8 2.9 .8 -.1 .8 1 .8 -.1 .8 -2.8 .8 -.3 .8 3.3 .8 -.7 .8 .7 .8 -1.2 .8 -1.3 .8 3.3 .8 -.6 .8 1.7 .8 1.1 .8 .2 .8 -.1 .8 -3.9 .8 -2.2 .8 3.3 .8 -1.1 .8 -.1 .8 4.3 .8 -4.6 .8 5.5 .8 .5 .8 3.3 .8 -3.1 .8 2.4 .8 -5.6 .8 .1 .8 3.6 .8 -4.5 .8 5.2 .8 -2.7 .8 -3.4 .8 8.1 .9 -6 .8 7.6 .8 -7.9 .8 1.4 .8 2.4 .8 -.3 .8 -3 .8 3.6 .8 .3 .8 .8 .8 -4 .8 2.2 .8 1.2 .8 2 .8 -1 .8 -.9 .8 .1 .8 4 .8 -4.4 .8 2.5 .8 -4.7 .8 8 .8 -2.3 .8 -4.2 .8 5 .8 1.8 .8 -.9 .8 -1.2 .8 1.7 .8 -2.8 .8 1.2 .8 0 .8 1.1 .8 -1.9 .8 5 .8 -2.7 .8 -1.6 .8 1.9 .8 1.4 .8 -.3 .8 2.3 .8 -2.6 .8 -.6 .8 2.7 .8 1.8 .8 -4.1 .8 -.9 .8 2 .8 1.3 .8 -1.5 .8 2.5 .8 -1.8 .8 3.6 .8 -3.7 .8 .7 .8 2.1 .8 1.4 .8 .7 .8 -2.9 .8 1.5 .8 1.2 .8 1.9 .8 -4.2 .8 -.5 .8 3.4 .8 -1.2 .8 3.2 .8 -2.4 .8 .7 .8 -1.9 .8 2.1 .8 1.9 .8 -2.6 .8 -1.7 .8 4 .8 -2.1 .8 .8 .8 -1.4 .8 3.2 .8 -3 .8 .5 .8 1 .8 -.3 .8 -3.6 .8 5 .8 -2.9 .8 2.7 .8 -1.1 .8 .5 .8 -1 .8 -.5 .8 2.3 .8 .2 .8 1.5 .8 -.8 .8 -2.2 .8 3.4 .8 2 .8 -2.6 .8 -1.6 .8 -1.3 .8 1.9 .8 -2.6 .8 4 .8 -2 .8 -.3 .8 1.5 .8 -2.6 .8 -.8 .8 2.4 .8 2.9 .8 -3.5 .8 3 .8 -4.7 .8 3.2 .8 1.1 .8 2.2 .8 -6.1 .8 3 .8 -1.4 .8 2.1 .8 -1.4 .8 1.2 .8 -1.4 .8 .4 .8 1.6 .8 2 .8 -2.2 .8 -.1 .8 -.9 .8 3.5 .8 -6 .8 0 .8 2.1 .8 2.1 .8 .9 .8 -.6 .8 .4 .8 -.9 .8 -1.1 .8 -.9 .8 2.6 .8 -2.3 .8 2.3 .8 .6 .8 -2.2 .8 .3 .8 -.1 .8 2.1 .8 -.9 .8 -1.3 .8 1.6 .8 2.1 .8 -2 .8 -.2 .8 -.9 .8 -.8 .8 1.6 .8 .1 .8 -.6 .8 2.5 .8 -2.3 .8 .2 .8 .6 .8 .6 .8 -3.8 .8 3.4 .8 1.7 .8 -3.9 .8 2.5 .8 -1.4 .8 -.8 .8 2.1 .8 -.5 .8 -3.2 .8 2.4 .8 2.3 .8 -2.2 .8 -.2 .8 .6 .8 0 .8 1.9 .8 -2.5 .8 -.5 .8 2.6 .8 .9 .8 -.4 .8 .3 .8 -2.4 .8 -1.2 .8 1.2 .8 1.2 .8 -2.7 .8 2.3 .8 1.4 .8 -1.9 .8 4.3 .8 -2 .8 -3 .8 .1 .8 .8 .8 2.2 .8 -.3 .8 -1.6 .8 1.2 .8 1.1 .8 -.4 .8 -3.3 .8 .9 .8 .3 .8 -1.2 .8 4.1 .8 -2.3 .8 .1 .8 -.3 .8 1.9 .8 .5 .8 .2 .8 .9 .8 -3.3 .8 4.1 .8 1.4 .8 -4.6 .8 .3 .8 1.6 .8 1 .8 -2.2 .8 -.8 .9 4.5 .8 -3.9 .8 -3.2 .8 5 .8 .7 .8 1.2 .8 .2 .8 1.4 .8 -4.9 .8 -.6 .8 -.6 .8 4.9 .8 -3.2 .8 -1.9 .8 -.5 .8 3.5 .8 -.8 .8 1.2 .8 -1.8 .8 .3 .8 1.9 .8 -1 .8 1.3 .8 -1 .8 -.2 .8 1 .8 -1 .8 .8 .8 .5 .8 -1.4 .8 .6 .8 .4 .8 .9 .8 -.6 .8 0 .8 .4 .8 -1.1 .8 1 .8 -1.6 .8 -1.6 .8 3.4 .8 -3.6 .8 2.8 .8 2.6 .8 -1.2 .8 -2.6 .8 2.6 .8 -.7 .8 -1.6 .8 1.2 .8 -.7 .8 .4 .8 1 .8 -2.8 .8 3.6 .8 1.8 .8 -3.3 .8 -1.1 .8 .8 .8 2.5 .8 -2.6 .8 1.5 .8 2.7 .8 -4.4 .8 1.2 .8 -1 .8 .4 .8 .7 .8 -1.3 .8 1.8 .8 -.4 .8 1.5 .8 -.7 .8 -.4 .8 1.6 .8 -2.4 .8 1.2 .8 -1.9 .8 3.1 .8 -3.2 .8 2.5 .8 -2.4 .8 1.3 .8 -1.8 .8 .4 .8 -.3 .8 2.1 .8 .1 .8 .3 .8 -.5 .8 -.9 .8 1.3 .8 1.2 .8 -2.8 .8 -.6 .8 1.9 .8 2.1 .8 -3.1 .8 -.4 .8 -1 .8 .3 .8 -.4 .8 -.1 .8 2.8 .8 .2 .8 -1.8 .8 -.1 .8 .9 .8 -1.3 .8 -.1 .8 .5 .8 -1.2 .8 1.5 .8 1.4 .8 -4 .8 -.1 .8 -2.2 .8 -.2 .8 -.1 .8 -.6 .8 -1.9 .8 -2.6 .8 .8 .8 -2.5 .8 .2 .8 -1.5 .8 0 .8 .2 .8 -2.6 .8 5.1 .8 -2.4 .8 2.3 .8 1 .8 -.9 .8 -.4 .8 3.3 .8 -1.4 .8 1.8 .8 1.3 .8 -.8 .8 -1.3 .8 1.9 .8 2.1 .8 -1.5 .8 2.7 .8 -3.1 .8 1.1 .8 -.9 .8 1.4 .8 3.6 .8 -1.1 .8 -1.1 .8 -.3 .8 2.6 .8 -1.6 .8 -1.1 .8 3.6 .8 -3.9 .8 2.2 .8 .7 .8 .6 .8 1.4 .8 -1.5 .8 -2.1 .8 2.7 .8 -1.1 .8 -2.1 .8 .2 .8 .5 .8 -1.9 .8 3.7 .8 .2 .8 0 .8 -1.8 .8 1.1 .8 1.8 .8 -1 .8 -.7 .8 -.8 .8 1.1 .8 1.9 .8 -1.7 .8 3.2 .8 .3 .8 -2.4 .8 -3.1 .8 1.9 .8 2.2 .8 -2.4 .8 -.1 .8 1 .8 3.7 .8 -4.2 .8 -2 .8 3.2 .8 .2 .8 .6 .8 -.8 .8 .4 .8 -1 .8 2 .8 -1.2 .8 .8 .8 -1.7 .8 3.1 .8 -1.5 .8 -.9 .8 .8 .8 -1.5 .8 .7 .8 2.1 .8 -.2 .8 .4 .8 -.1 .8 -1.3 .8 .6 .8 2.5 .8 -2.7 .8 -1.8 .8 2.1 .8 -.5 .8 .5 .8 .2 .8 -1.3 .8 2 .8 -.7 .8 1.1 .8 -1.7 .9 -.4 .8 .8 .8 2.9 .8 -4.6 .8 4 .8 -1.6 .8 1.7 .8 -2 .8 1.1 .8 0 .8 2.4 .8 -3 .8 .5 .8 -1.3 .8 1.5 .8 -1.4 .8 .9 .8 .8 .8 .2 .8 -1.9 .8 .1 .8 2.8 .8 -2.2 .8 1 .8 -.6 .8 -1.7 .8 2 .8 0 .8 2.6 .8 -4.9 .8 1.9 .8 1.6 .8 -1.5 .8 -2.2 .8 3.8 .8 -.6 .8 -1.3 .8 -.1 .8 .4 .8 1.2 .8 -.4 .8 -.6 .8 1.4 .8 .9 .8 -2.1 .8 2.9 .8 -2 .8 .8 .8 -.2 .8 .1 .8 -.3 .8 -3.3 .8 1.8 .8 2.5 .8 -2.5 .8 1.5 .8 -2.1 .8 1.2 .8 2.9 .8 -1.7 .8 -1.4 .8 .4 .8 -1.4 .8 2.9 .8 -.9 .8 1.3 .8 .1 .8 -1.4 .8 -.8 .8 -.3 .8 1 .8 .6 .8 1.8 .8 -3 .8 1.9 .8 -1.9 .8 .6 .8 1.8 .8 -.3 .8 -1.3 .8 -.2 .8 2.4 .8 -1.7 .8 -.1 .8 -1 .8 4.7 .8 -.8 .8 -1.7 .8 2.3 .8 -2.3 .8 -1 .8 1.2 .8 1.1 .8 -3.2 .8 3.1 .8 0 .8 .4 .8 -1.3 .8 .9 .8 -3.7 .8 2.2 .8 1.5 .8 -.6 .8 -.4 .8 -1.9 .8 1.4 .8 -2 .8 2 .8 .7 .8 -1 .8 1.3 .8 -.6 .8 1.2 .8 -1.6 .8 -1.6" fill="none" stroke="#0b0908" stroke-width="4.3" stroke-linejoin="round"/>
<path d="M293.3 742.7l.5 -5.2 .5 -2.8 .5 -10.4 .5 19.2 .5 3.3 .5 .1 .5 -9.5 .5 -5.4 .5 7.4 .5 -14.1 .5 7.3 .5 5.4 .5 -.9 .5 -.3 .5 -9.1 .5 -2.1 .5 10.6 .5 3.2 .5 -6.3 .5 -3.9 .5 7.4 .5 4.3 .5 -5.9 .5 -8.3 .5 17.4 .5 -4.4 .5 -6.3 .5 .9 .5 -3.8 .5 11 .5 -10.1 .5 -6.9 .5 9.6 .5 11.2 .5 -23.5 .5 1 .5 15.9 .5 -2.5 .5 -.1 .5 -1.4 .5 -2.1 .5 5.6 .5 -2.1 .5 -3.2 .5 -4.7 .5 2.3 .5 -4.1 .5 9.9 .5 -2.4 .5 7.4 .5 -.8 .5 -7.5 .5 3.9 .5 -4.6 .5 4.6 .5 -9.2 .5 6.3 .5 -2.2 .5 4 .5 -1.6 .5 -6.2 .5 12.9 .5 -6.4 .5 -5.1 .5 10.2 .5 -9.7 .5 -2.1 .5 11.1 .5 -3.1 .5 -7.5 .5 4.5 .5 5.9 .5 -4.8 .6 1.4 .5 -2.7 .5 3.7 .5 4.2 .5 -5.1 .5 -3.9 .5 -.6 .5 3.5 .5 -2.6 .5 3.5 .5 -.2 .5 2.3 .5 -3.9 .5 3.3 .5 .7 .5 -18.5 .5 4.4 .5 8.4 .5 2.5 .5 .5 .5 -9.1 .5 2.5 .5 -2.6 .5 10.6 .5 -5.7 .5 -9.3 .5 8.7 .5 -2.2 .5 7.2 .5 -7.2 .5 -.6 .5 .8 .5 11.1 .5 -13.8 .5 .4 .5 .5 .5 2.3 .5 6.3 .5 -.5 .5 2.7 .5 -5.4 .5 -3.3 .5 8.2 .5 -8.6 .5 8.8 .5 -6.2 .5 -7.3 .5 11.7 .5 -5.6 .5 2.5 .5 -.7 .5 -3.3 .5 -4.3 .5 9.7 .5 -7.6 .5 .3 .5 -6 .5 9.8 .5 .2 .5 -15.2 .5 1.1 .5 5.3 .5 3.3 .5 2 .5 -2.8 .5 8.7 .5 -1.4 .5 -10.6 .5 8.2 .5 -2.6 .5 -1.4 .5 -3.6 .5 6.5 .5 -6.8 .5 -5.7 .5 13.4 .5 -3.6 .5 .9 .5 -7 .5 1.8 .5 1 .5 6.7 .5 0 .5 -4.8 .5 14.2 .5 -15.2 .5 -9.9 .5 17.6 .5 -15.1 .5 5.7 .5 7 .5 -10.6 .5 5.4 .5 2.6 .5 1.8 .5 1.8 .5 -7.4 .5 11 .5 -17.9 .5 4.4 .5 2.2 .5 1.2 .5 1.4 .5 9.3 .5 -6.9 .5 2.5 .5 -1.5 .5 -16.2 .5 22 .5 -5.9 .5 -6 .5 -1.7 .5 5.5 .5 -2.8 .5 5.5 .5 3.4 .5 -5.7 .5 5.7 .5 .8 .5 -7.8 .5 1.5 .5 -2.9 .5 -2.3 .5 -2 .5 -2.9 .5 5.6 .5 -1.3 .5 5.5 .5 1.4 .5 -5.2 .5 -5.9 .5 6.6 .5 -1.8 .5 .7 .5 9.1 .5 -2.1 .5 -3.1 .5 2.3 .5 -5.3 .5 -3.7 .5 .8 .5 1.4 .5 -4.7 .5 11.6 .5 -1.8 .5 -5.5 .5 4.8 .5 -1.7 .5 3.9 .5 5.5 .5 -15.9 .5 11.7 .5 -6.4 .5 -1.4 .5 -.1 .5 13.2 .5 -12.3 .5 10.7 .5 -6.7 .5 -4.4 .5 5.3 .5 6.3 .5 -.6 .5 -9.3 .5 4.8 .5 -1 .5 -1.4 .5 2.2 .5 1.1 .5 -5.9 .5 8.2 .5 -9.3 .5 5.1 .5 7.2 .5 -9 .5 .2 .5 5.5 .5 -5.3 .5 -5.4 .5 4.9 .5 -3.2 .5 .8 .5 -4 .5 14.9 .5 -5.6 .5 -4.5 .5 2.3 .5 -.5 .5 -.5 .5 6.7 .5 .1 .5 -9.7 .5 -4.3 .5 3.2 .5 .7 .5 19.4 .5 -13.1 .5 1.6 .5 3.7 .5 -8.5 .5 -3.5 .5 14.7 .5 -14.4 .5 11.7 .5 -6.2 .5 14.8 .5 -7.1 .5 -4.2 .5 -6.8 .5 3.1 .5 -6.3 .5 6.6 .5 -3.6 .5 10.7 .5 -2 .5 -1 .5 11.8 .5 -12 .5 4 .5 -1.6 .5 -5.3 .5 -2.1 .5 13.8 .5 -14 .5 6.9 .5 -3.6 .5 5.4 .5 6 .5 -14.4 .5 7.2 .5 4.8 .5 -13.6 .5 .7 .5 5.2 .5 .3 .5 4.2 .5 -10.6 .5 9.2 .5 -13 .5 13.2 .5 -2.2 .5 -10.7 .5 16.8 .5 -11.5 .5 13.8 .5 -3.8 .5 -9.5 .5 -.6 .5 5.7 .5 -4.4 .5 18.8 .5 -7.2 .5 -7.7 .5 4.1 .5 -3.6 .5 4.6 .5 -9.9 .5 6 .5 4.5 .5 -8.9 .5 7 .5 -3.4 .5 10 .5 -1.8 .5 -11.9 .5 -1 .5 5.9 .5 12.2 .5 -1.1 .5 -2.6 .5 -3.8 .5 -1.3 .5 4.9 .5 -2.5 .5 -6.2 .5 1.7 .5 11.4 .5 .7 .5 -7.6 .5 -7.6 .5 4.5 .5 -1.6 .5 8 .5 -2.2 .5 -5.9 .5 13.5 .5 -5 .5 -5.2 .5 3.9 .5 -1.8 .5 9.3 .5 -3.3 .5 -2.5 .5 2.5 .5 2.5 .5 -10.2 .5 .8 .5 .2 .5 5.3 .5 -7.9 .5 13.5 .5 -19 .5 6.6 .5 -4.9 .5 13.1 .5 -8 .5 5.7 .5 3 .5 5.4 .5 -2 .5 -9.1 .5 1.7 .5 4.6 .5 -.9 .5 5.6 .5 -10.6 .5 6.3 .5 -.4 .5 1 .5 7.8 .5 -8.6 .5 -2.6 .5 1 .5 2.5 .5 -5 .5 5.5 .5 2.9 .5 -2.1 .5 -8.7 .5 1.7 .5 7.1 .5 -.2 .5 -.1 .5 -3.7 .5 -2.5 .5 2.9 .5 -10.7 .5 3.1 .5 6.1 .5 6.1 .5 -4.2 .5 2.3 .5 -2.4 .5 5 .5 -4.9 .5 1.9 .5 7 .5 -11.2 .5 8.3 .5 -10.4 .5 13.4 .5 -9 .5 -4.4 .5 3.1 .5 7.1 .5 -9.6 .5 3 .5 5.6 .5 -7.7 .5 1.4 .5 -.2 .5 -3 .5 2.3 .5 5.4 .5 -9.1 .5 3.6 .5 7.7 .5 -6.5 .5 .9 .5 6.7 .5 -8.7 .5 3 .5 -2.4 .5 3.7 .5 -9.1 .5 2.3 .5 3.8 .5 6.1 .5 -7.3 .5 .9 .5 4.2 .5 -12.3 .5 12.1 .5 -1.4 .5 10.4 .5 -9.5 .5 -6.1 .5 3.9 .5 -.7 .5 -2.3 .5 -9.9 .5 8.5 .5 .4 .5 1.1 .5 .9 .5 -3.1 .5 5 .5 -6.3 .5 -.1 .5 2.7 .5 5.5 .5 .5 .5 -1.7 .5 3.5 .5 .4 .5 -4.9 .5 1.8 .5 -9.4 .5 6.7 .5 12.5 .5 -10.2 .5 -.3 .5 -3.1 .5 3.9 .5 -3.4 .5 -4 .5 2.6 .5 4.4 .5 6.9 .5 -10.2 .5 -8.7 .5 11.1 .5 .5 .5 -3.9 .5 -.3 .5 -6.8 .5 12.7 .5 -14.1 .5 .4 .5 6.6 .5 10.4 .5 -4.4 .5 -2.2 .5 .2 .5 -.7 .5 -6 .5 6.1 .5 -8.7 .5 7.7 .5 -11.5 .5 5.8 .5 10.5 .5 -3.1 .5 -1.2 .5 -3.4 .5 1.5 .5 -3.8 .5 3.3 .5 -1.2 .5 -.3 .5 -12.9 .5 -.2 .5 9.7 .5 2.1 .5 .3 .5 -5.2 .5 7.4 .5 -3.9 .5 5.2 .5 .4 .5 -12.4 .5 15.5 .5 -7.7 .5 -1.4 .5 12.1 .5 -12.6 .5 -1.9 .5 1.6 .5 1 .5 -6 .5 -.3 .5 9.3 .5 -8.1 .5 -.1 .5 2.9 .5 -.8 .5 3.6 .5 -4.6 .5 3.6 .5 -12.4 .5 7.2 .5 .5 .5 4.6 .5 5.4 .5 -3.1 .5 -10.1 .5 14.3 .5 -12.5 .5 2.7 .5 .5 .5 1.5 .5 5.6 .5 2.3 .5 -4.4 .5 2.4 .5 -10.2 .5 12.5 .5 -14.9 .5 4.8 .5 1.5 .5 -4.1 .5 13 .5 -4.4 .5 -10 .5 2.6 .5 3 .5 3.9 .5 -7.6 .5 -.5 .5 -1.2 .5 2.2 .5 1.1 .5 -6.1 .5 11.2 .5 -12.6 .5 9.7 .5 -4 .5 .7 .5 6.3 .5 -7.4 .5 -.7 .5 .9 .5 -12.6 .6 8.5 .5 2.5 .5 -1.4 .5 -1.5 .5 10.8 .5 -10.9 .5 -2.2 .5 .9 .5 4.6 .5 -3.5 .5 -.6 .5 -8.9 .5 1 .5 9.3 .5 -5.1 .5 4.8 .5 -6 .5 -.2 .5 -3.5 .5 5.9 .5 0 .5 -9.6 .5 12.8 .5 -3.2 .5 10.1 .5 -19.6 .5 16 .5 -6.4 .5 -3.8 .5 -8.1 .5 5.9 .5 -1.2 .5 -9.4 .5 9.5 .5 1.1 .5 .1 .5 -8.5 .5 -2.3 .5 3.5 .5 -.9 .5 15 .5 -14.6 .5 -2.7 .5 -1 .5 7 .5 1.6 .5 -2.4 .5 -1.9 .5 -4.6 .5 -2.2 .5 -10.7 .5 14.1 .5 3 .5 -1.4 .5 -7.6 .5 -2.8 .5 4.3 .5 2.4 .5 -9.8 .5 6.5 .5 -7.8 .5 23 .5 -14.6 .5 10.8 .5 -1.9 .5 -10.8 .5 -4.5 .5 -1.7 .5 2.6 .5 -3.3 .5 -12.4 .5 20 .5 -.6 .5 -3.5 .5 -4.4 .5 5.1 .5 -6.2 .5 -.6 .5 5.9 .5 8.1 .5 -16.7 .5 3.3 .5 3.9 .5 -4.8 .5 3.3 .5 1.6 .5 -4.1 .5 1.3 .5 -2.8 .5 1.1 .5 -5.8 .5 11.9 .5 -9.3 .5 -9 .5 9.6 .5 -1.7 .5 -2.4 .5 -11.8 .5 8.1 .5 11.5 .5 -18.5 .5 -6.4 .5 -2.9 .5 25.8 .5 1.9 .5 -4.8 .5 -8.7 .5 2.1 .5 -5.8 .5 -5 .5 6.7 .5 -11.3 .5 2.1 .5 -.1 .5 3 .5 -12.1 .5 5.2 .5 -7 .5 .2 .5 2.5 .5 8.3 .5 -.8 .5 -17 .5 -3.2 .5 4.5 .5 -9.6 .5 16.8 .5 -13.2 .5 .3 .5 -3.2 .5 5.6 .5 -10.5 .5 .3 .5 -1.2 .5 -7.8 .5 4 .5 -7 .5 1.4 .5 -3.3 .5 -3.4 .5 -4.5 .5 -1.5 .5 -9.2 .5 1 .5 -7 .5 -3.4 .5 -3.8 .5 -4.7 .5 -3.7 .5 -7.7 .5 -1.5 .5 -9 .5 -6 .5 -8.9 .5 -10.4 .5 -9.9 .5 -12 .5 -10.8 .5 -11.6 .5 -10.7 .5 -10.6 .5 -10.6 .5 -10.7 .5 -10.3 .5 -9.4 .5 -11.1 .5 -9.8 .5 -10.8 .5 -10 .5 -10.8 .5 -10.2 .5 -10.4 .5 -11.3 .5 -9.1 .5 -12.3 .5 -12.8 .5 -13.2 .5 -14.1 .5 -14 .5 -13.6 .5 -13.7 .5 -12.2 .5 -11 .5 -9.9 .5 -7.3 .5 -6.6 .5 -3.6 .5 .4 .5 4.3 .5 8.6 .5 13.1 .5 15.5 .5 16.9 .5 18 .5 17.9 .5 16.9 .5 14.7 .5 14.1 .5 13.7 .5 13.9 .5 14.1 .5 13.8 .5 14 .5 12.9 .5 12.5 .5 11.8 .5 12 .5 11.4 .5 11.9 .5 11.3 .5 11.5 .5 11.2 .5 10.9 .5 9.5 .5 10.6 .5 8.8 .5 6.1 .5 6.7 .5 7.2 .5 6.8 .5 1.8 .5 6.5 .5 3.8 .5 6.5 .5 2.3 .5 2.5 .5 .5 .5 8.4 .5 3.9 .5 2.6 .5 5 .5 2.8 .5 8.1 .5 -.5 .5 -4.8 .5 9.1 .5 4.4 .5 -1.8 .5 1 .5 5.9 .5 -4.3 .5 5.4 .5 -6.5 .5 7.8 .5 .5 .5 6.6 .5 4.8 .5 -4.2 .5 6.2 .5 -.7 .5 6.8 .5 2.8 .5 -6.9 .5 .3 .5 -.8 .5 2.8 .5 13.8 .5 -4.7 .5 -6.1 .5 0 .5 12.1 .5 -2.8 .5 0 .5 5.9 .5 -4 .5 -10.7 .5 4.9 .5 24.2 .5 -20.9 .5 16.9 .5 -11.7 .5 7.1 .5 6 .5 -4.5 .5 -3.7 .5 -5.8 .5 10.5 .5 -3.2 .5 -.2 .5 14.7 .5 -4.6 .5 -1.1 .5 10.5 .5 -7.4 .5 -10.5 .5 -1.3 .5 7.3 .5 2.4 .5 5.4 .5 -4.8 .5 -2.3 .5 .2 .5 1.8 .5 -4.8 .5 13.2 .5 -4.7 .5 6.3 .5 -.6 .5 -3 .5 2.7 .5 13.6 .5 -23.9 .5 14.7 .5 -9 .5 2.5 .5 12.5 .5 -19.5 .5 16.4 .5 -14 .5 1.4 .5 8.8 .5 -3.2 .5 -4.3 .5 1.3 .5 16.2 .5 -23.5 .5 14.7 .5 7 .5 -6.5 .5 2.1 .5 -1.8 .5 3.4 .5 -5.3 .5 11 .5 1.1 .5 -13.9 .5 7.8 .5 -1.4 .5 6.6 .5 -15.9 .5 10.6 .5 1.6 .5 4.3 .5 -1.6 .5 -14.9 .5 19.2 .5 -11 .5 5.4 .5 -.4 .5 -.5 .5 1.5 .5 8.5 .5 -4.7 .5 -3.7 .5 10.3 .5 -2.1 .5 -.3 .5 -5.7 .5 -2.8 .5 1.2 .5 7.8 .5 -2.9 .5 -11.7 .5 17 .5 -8 .5 -2.7 .5 2.9 .5 12.4 .5 -13.4 .5 3.4 .5 -10.7 .5 8.3 .5 -2 .5 5.8 .5 1.8 .5 -5.8 .5 2.5 .5 -3.1 .5 6 .5 -8.8 .5 7.2 .5 4.6 .5 -7.4 .5 -8 .5 -2.3 .5 17.6 .5 -13.1 .5 5.1 .5 14.9 .5 -5.7 .5 1.2 .5 1.8 .5 -3.9 .5 -14 .5 14.2 .5 -5.5 .5 -10.9 .5 5.4 .5 14.2 .5 -11.6 .5 7.2 .5 -2.1 .5 .5 .5 1.8 .5 -1.4 .5 -5.4 .5 .4 .5 9.4 .5 4.9 .5 -.6 .5 -8.1 .5 4.1 .5 8.8 .5 -24.9 .5 9.7 .5 -4.1 .5 12.6 .5 -11.5 .5 -2.7 .5 12.3 .5 -15.5 .5 19.6 .5 -1.6 .5 -5.4 .5 .6 .5 -5 .5 6.1 .5 .6 .5 -2.7 .5 4.9 .5 -7.1 .5 1.4 .5 7.3 .5 -3.8 .5 5.9 .5 -11.3 .5 11 .5 -2.7 .5 -3.3 .5 1.3 .5 3.3 .5 3 .5 -5.6 .5 2.2 .5 10 .5 -6.7 .5 -2.4 .5 8.7 .5 -22.8 .5 15.7 .5 -5.2 .5 3.1 .5 4.4 .5 -9.4 .5 6.2 .5 1.2 .5 .6 .5 -7.5 .5 .9 .5 10.1 .5 -4.8 .5 -4.8 .5 8 .5 -6.9 .5 -.2 .5 3.7 .5 -10.2 .5 5.3 .5 -1.8 .5 5.2 .5 1 .5 3.5 .5 .2 .5 1.5 .5 -13.7 .5 1.1 .5 2.7 .5 -3.3 .5 3.7 .5 -.6 .5 -.3 .5 9.2 .5 -10.8 .5 3.6 .5 -3.9 .5 5.3 .5 -2.5 .5 -1.8 .5 5 .5 -3.6 .5 7.2 .5 -19.8 .5 24.8 .5 -12.7 .5 -1.1 .5 -.4 .5 1.3 .5 -4 .5 1.5 .5 .2 .5 7.2 .5 -3.4 .5 .1 .5 4.5 .5 -4.9 .5 -5.1 .5 1.2 .5 4.2 .5 -1.9 .5 -10.9 .5 4.4 .5 4.8 .5 4.2 .5 -.8 .5 -13.5 .5 14.4 .5 -2 .5 -7.4 .5 3.9 .5 -4.4 .5 4.2 .5 -9.2 .5 6.3 .5 3.5 .5 -3.8 .5 14.2 .5 -11.8 .5 5.4 .5 4.5 .5 -12.6 .5 8.6 .5 -11.1 .6 10.5 .5 -2 .5 -6.4 .5 10.3 .5 -7.6 .5 4.7 .5 -2.3 .5 14.7 .5 -11.4 .5 -2.7 .5 1.4 .5 6 .5 .7 .5 3.3 .5 -16.5 .5 2.2 .5 -5.8 .5 6.6 .5 6.3 .5 -4.1 .5 5.7 .5 -.6 .5 -1.3 .5 -.4 .5 4.8 .5 -7.7 .5 6.9 .5 6.1 .5 -12.9 .5 10.6 .5 -1.7 .5 -1.9 .5 2.9 .5 1.2 .5 -1.7 .5 -8.9 .5 6.8 .5 2.6 .5 -6.1 .5 -5.1 .5 11 .5 -11.9 .5 3.7 .5 5.1 .5 -1.9 .5 4.2 .5 -6.9 .5 8.8 .5 -.3 .5 -1.2 .5 -4.4 .5 5.2 .5 -.6 .5 -6.7 .5 -.3 .5 10.1 .5 -6.3 .5 2.7 .5 -7 .5 8.2 .5 6.2 .5 -4.2 .5 -2.1 .5 4.2 .5 -11.3 .5 3.6 .5 4.7 .5 -5.2 .5 1.6 .5 12.3 .5 -6.7 .5 -7.6 .5 5.4 .5 -8 .5 5.7 .5 -4.6 .5 3.2 .5 .1 .5 .2 .5 -1.7 .5 2 .5 .3 .5 -.5 .5 6.3 .5 1.2 .5 -12.5 .5 2.9 .5 2.9 .5 -3.7 .5 3.1 .5 4.2 .5 4.6 .5 -.3 .5 -11.4 .5 2.2 .5 -6 .5 7.6 .5 .4 .5 6.6 .5 -2.2 .5 -5.1 .5 1.6 .5 -5.4 .5 4.3 .5 -6 .5 14.6 .5 -2.8 .5 1.6 .5 -6.2 .5 3.8 .5 -2.8 .5 4.8 .5 -4.6 .5 4.3 .5 -.4 .5 -9 .5 0 .5 10.2 .5 .8 .5 -8.5 .5 -7.1 .5 11.1 .5 5.7 .5 -12.4 .5 1.7 .5 -1.5 .5 5.7 .5 12.3 .5 -9 .5 -.1 .5 -3.1 .5 3.5 .5 -11.2 .5 1.2 .5 5.9 .5 6.7 .5 5.9 .5 -14.7 .5 5.5 .5 -8 .5 4.2 .5 -.1 .5 6.9 .5 -12 .5 13.4 .5 -10.3 .5 5.7 .5 -7.6 .5 8.9 .5 -4.7 .5 -2.3 .5 3.9 .5 -1.8 .5 -1.9 .5 -.8 .5 4.4 .5 -2.5 .5 -1.5 .5 2.6 .5 3 .5 1.2 .5 -14.7 .5 16.8 .5 -5.8 .5 6.3 .5 -8 .5 2.2 .5 -1.2 .5 7.9 .5 -7.8 .5 4.4 .5 -4.2 .5 5.8 .5 3.2 .5 -2.7 .5 -5.8 .5 2.8 .5 .3 .5 -4.3 .5 9.3 .5 1.7 .5 -15.9 .5 18.3 .5 -5.5 .5 3.8 .5 -2.6 .5 -5.3 .5 3.6 .5 -5.5 .5 -1.3 .5 1.9 .5 13.9 .5 -18.3 .5 13.6 .5 -10 .5 -5.6 .5 7.4 .5 -5.4 .5 6.4 .5 -2.9 .5 4.5 .5 -.1 .5 -3.2 .5 14.6 .5 -14.3 .5 5 .5 -6.8 .5 2.5 .5 7 .5 7.1 .5 -6.9 .5 -4.8 .5 6.7 .5 -9.9 .5 8.8 .5 1.9 .5 4.7 .5 -7.3 .5 -8.4 .5 10.8 .5 -13.3 .5 4.7 .5 10.5 .5 -11.9 .5 6.8 .5 -4 .5 4.1 .5 -6.5 .5 12.8 .5 -7.8 .5 .2 .5 -13.9 .5 20.9 .5 -2.3 .5 -8.7 .5 -6.2 .5 13 .5 -1.3 .5 -3.5 .5 -4.4 .5 4.5 .5 5 .5 -2.4 .5 -6.7 .5 13.6 .5 -7 .5 -2.6 .5 3.8 .5 -7.6 .5 4.4 .5 -6.5 .5 16 .5 -14.5 .5 7.6 .5 -6.6 .5 3.6 .5 1.4 .5 2 .5 -9 .5 2.6 .5 4.9 .5 6.7 .5 -2.4 .5 -8 .5 5.8 .5 -.6 .5 4.2 .5 -16.1 .5 17.6 .5 -1.7 .5 -5.4 .5 -1 .5 -2 .5 5.4 .5 12.2 .5 -5.7 .5 -8.1 .5 -7 .5 6.7 .5 3.4 .5 -1.9 .5 5.4 .5 4.4 .5 -2 .5 5.9 .5 -11.1 .5 5.3 .5 4.2 .5 -6.6 .5 4 .5 -6.1 .5 -10.3 .5 9.7 .5 -3.2 .5 4.4 .5 -2 .5 -1.9 .5 -2.3 .5 6.2 .5 2.1 .5 2.5 .5 6.8 .5 -3 .5 -9 .5 12.3 .5 -14.2 .5 2.1 .5 9.2 .5 -5 .5 -4 .5 3.1 .5 1.6 .5 -5.6 .5 3.7 .5 4.8 .5 -4.4 .5 -3.8 .5 -6.5 .5 11.6 .5 -5.3 .5 1.8 .5 12.2 .5 -5.6 .5 -5.4 .5 5.9 .5 2 .5 -5.8 .5 .1 .5 -4.5 .5 -3.4 .5 13.4 .5 -8.8 .5 -3.6 .5 6.4 .5 1.7 .5 .4 .5 -2.3 .5 -7 .5 14.4 .5 -9.7 .5 -3.7 .5 11.9 .5 .7 .5 -13.5 .5 8.5 .5 -5.8 .5 -.7 .5 9.6 .5 -.1 .5 -.6 .5 -7.3 .5 -3.4 .5 4.4 .5 11.2 .5 -15.2 .5 10.1 .5 1.7 .5 -1.8 .5 3.4 .5 -11.9 .5 2.5 .5 10.3 .5 5.8 .5 -9.4 .5 -.9 .5 .6 .5 -.2 .5 -2.4 .5 12.9 .5 -11.5 .5 1.8 .5 -11.2 .5 8.8 .5 -5.5 .5 10 .5 .8 .5 -8 .5 12 .5 -9.6 .5 4.3 .5 -7.2 .5 .7 .5 1.8 .5 5.5 .5 8.9 .5 -12.9 .5 .8 .5 -.7 .5 8.8 .5 -8.2 .5 4 .5 -6.2 .5 -1.1 .5 6.1 .5 -.9 .5 -4.8 .5 4.9 .5 5.3 .5 1.8 .5 -5.2 .5 3.2 .5 -7.1 .5 1.1 .5 -5.2 .5 14.4 .5 -12.7 .5 11.1 .5 4.5 .5 -9.2 .5 -.5 .5 2.7 .5 1.8 .5 -6.8 .5 10.8 .5 -11.2 .5 4.1 .5 -8 .5 8.7 .5 .2 .5 -11 .5 8.9 .5 9.6 .5 -12 .5 2.6 .5 7.5 .5 -12.9 .5 8.3 .5 3.1 .5 -6.6 .5 4.4 .5 4.5 .5 5.1 .5 -6.3 .5 -1.8 .5 .5 .5 3.2 .5 -8.4 .5 10.6 .5 -10.2 .5 6.1 .5 -9.1 .5 1.9 .5 .5 .5 4.5 .5 -4.6 .5 2.9 .5 .7 .5 -5.3 .5 9.2 .5 -2.4 .5 -.6 .5 -10.9 .5 9 .5 1.9 .5 5.7 .5 -.8 .5 2.4 .5 -7.9 .5 13.2 .5 -7.9 .5 -10.8 .5 4.5 .5 -1.3 .5 8.9 .5 -3.7 .5 6.4 .5 1.5 .5 -7 .5 2.4 .5 -1.6 .5 -1.5 .5 2.9 .5 3 .5 .9 .5 -4.7 .5 4.1 .5 -7.1 .5 7.5 .5 6.4 .5 -10.1 .5 2.4 .5 -3.8 .5 -.5 .5 -2 .5 6.2 .5 2.2 .5 .7 .5 -5.2 .5 -1.2 .5 11 .5 -15.4 .5 8.7 .5 .7 .5 -1 .5 -2 .5 -1.8 .5 -.1 .5 6.8 .5 1.4 .5 -2.6 .5 -13.2 .5 2.8 .5 12 .5 -6.1 .5 3.8 .5 -1.3 .5 -.9 .5 2.4 .5 -3 .5 -4.2 .5 11.7 .5 1.2 .5 -2.3 .5 -2.3 .5 -7.3 .5 9.9 .5 -2.4 .5 .2 .5 1.4 .5 -3.2 .5 -2.5 .5 7 .5 -5.7 .6 -1 .5 1.6 .5 1.6 .5 -5.3 .5 9.2 .5 -13.2 .5 12.7 .5 -6.1 .5 1.6 .5 -.9 .5 -.5 .5 -1.2 .5 4.3 .5 -5.3 .5 8.2 .5 -11.4 .5 6 .5 -.5 .5 11.8 .5 -8.4 .5 -5.5 .5 2.5 .5 2.9 .5 2 .5 -.9 .5 -1.6 .5 2.9 .5 -.4 .5 -5.7 .5 8.5 .5 -4.4 .5 9.2 .5 -17.6 .5 4.8 .5 2.2 .5 -.6 .5 11.3 .5 -6.9 .5 1.2 .5 -.2 .5 -1.1 .5 -2.8 .5 -6.3 .5 9.3 .5 4.3 .5 -12.6 .5 12.5 .5 -8.2 .5 7.1 .5 -5 .5 .5 .5 2.2 .5 -3.3 .5 -4.8 .5 5.3 .5 -3.6 .5 -1.9 .5 10.2 .5 -4.9 .5 -4.9 .5 10 .5 -4.8 .5 .9 .5 -3.1 .5 4.6 .5 1.5 .5 -7.4 .5 4.9 .5 -7.7 .5 11.4 .5 -5.9 .5 -2.9 .5 6.4 .5 1.7 .5 -.5 .5 -8.2 .5 -.4 .5 5.7 .5 -.1 .5 -2.2 .5 7 .5 -12.6 .5 13.3 .5 -4.2 .5 -1.5 .5 2.6 .5 3.4 .5 -3.1 .5 -6.2 .5 .6 .5 2 .5 2.4 .5 -.9 .5 -2.4 .5 -3.7 .5 2.5 .5 3 .5 -1.1 .5 -2.8 .5 -6.3 .5 8.3 .5 -1.7 .5 -2.3 .5 5.3 .5 .2 .5 9.7 .5 -12 .5 6.4 .5 .4 .5 -6.8 .5 -1.3 .5 10.3 .5 -6.2 .5 3.3 .5 -5.6 .5 2.6 .5 3 .5 -4.2 .5 4 .5 -1 .5 7.4 .5 -9 .5 -8.4 .5 10.9 .5 1.4 .5 -3 .5 -2.8 .5 5.8 .5 -2.5 .5 -6.9 .5 8.7 .5 -2.3 .5 2.7 .5 -6.1 .5 2.9 .5 2.6 .5 -2.4 .5 -3.8 .5 -6.4 .5 13.1 .5 1.6 .5 -4.6 .5 8 .5 -10.7 .5 -4.4 .5 10.8 .5 -1 .5 -11.9 .5 7 .5 -.9 .5 .4 .5 3.6 .5 1 .5 -2.9 .5 -8.3 .5 10.1 .5 -5.8 .5 5.9 .5 -6.3 .5 12 .5 -5.5 .5 -4 .5 1.4 .5 1.8 .5 -2.5 .5 1.5 .5 -4.2 .5 0 .5 5.5 .5 .1 .5 .8 .5 -.8 .5 4.7 .5 -3.8 .5 3.4 .5 -5.8 .5 .8 .5 -1.9 .5 1.9 .5 9.6 .5 -18.6 .5 9.7 .5 2.7 .5 -1.5 .5 -5.3 .5 1.6 .5 0 .5 7.6 .5 -7.9 .5 10.9 .5 -11.5 .5 4.9 .5 -4.8 .5 1.6 .5 3.7 .5 6.4 .5 -11.5 .5 -4.7 .5 5.6 .5 .8 .5 2.5 .5 -4.3 .5 -.7 .5 6.1 .5 -1.1 .5 3.3 .5 -6.8 .5 7.5 .5 -4.7 .5 -5.4 .5 9.3 .5 -5.1 .5 2.3 .5 -2.1 .5 .8 .5 -.5 .5 2.3 .5 -1.2 .5 .5 .5 8.5 .5 -5.6 .5 -2.1 .5 -2.9 .5 5.2 .5 -2.7 .5 -4.2 .5 10.8 .5 -8.5 .5 1.4 .5 -.2 .5 7.4 .5 -6.2 .5 1.1 .5 0 .5 -1.3 .5 1.1 .5 -2.8 .5 6.7 .5 3.7 .5 -8.4 .5 4.7 .5 .1 .5 -5.5 .5 2.3 .5 -2.9 .5 1.1 .5 -3.4 .5 -.3 .5 -5.3 .5 6.4 .5 .8 .5 2 .5 .3 .5 .1 .5 .5 .5 1.8 .5 -7.4 .5 1.6 .5 1.2 .5 -6.3 .5 7.8 .5 -1.1 .5 2.1 .5 .5 .5 -4.1 .5 3.2 .5 4.5 .5 -3.4 .5 -3.6 .5 -2.5 .5 .9 .5 8.7 .5 -4.6 .5 -5.8 .5 2.9 .5 .8 .5 7.3 .5 -6.1 .5 10.1 .5 -8.6 .5 -4.9 .5 -.3 .5 2.7 .5 1.8 .5 -2.7 .5 4.3 .5 1.3 .5 -5.5 .5 2.5 .5 3 .5 -2.6 .5 -7.8 .5 0 .5 9.2 .5 0 .5 -2.3 .5 5.4 .5 -12.2 .5 3.6 .5 2.5 .5 2 .5 .3 .5 -.9 .5 -3.6 .5 -.4 .5 -1.7 .5 8.6 .5 7.3 .5 -7.2 .5 -1.4 .5 1.5 .5 .2 .5 -2.7 .5 .6 .5 4.9 .5 -4.9 .5 4.1 .5 -1.8 .5 2.1 .5 -10.3 .5 13.8 .5 -9.8 .5 -2.5 .5 5.3 .5 3.6 .5 -5 .5 -2.9 .5 4.4 .5 .6 .5 -.1 .5 -3.8 .5 1.8 .5 -.1 .5 -4.4 .5 3.2 .5 4.8 .5 -4.8 .5 -.7 .5 6.5 .5 -6 .5 5.4 .5 5.8 .5 -6.2 .5 -1.3 .5 7.7 .5 -10 .5 9.9 .5 -4.2 .5 -.8 .5 -4 .5 -.5 .5 9.7 .5 -10.9 .5 4.6 .5 1.2 .5 -1.6 .5 -6.5 .5 1.5 .5 .4 .5 -2.2 .5 7.5 .5 -2.1 .5 2.9 .5 3.3 .5 -9.7 .5 7.5 .5 -5.5 .5 -2 .5 1 .5 -1.9 .5 4.7 .5 -3.4 .5 11.2 .5 -9.2 .5 1.9 .5 -6.6 .5 11.8 .5 -10.2 .5 1.6 .5 -1 .5 10 .5 -5.7 .5 -8.5 .5 5.3 .5 1.6 .5 1.7 .5 -1 .5 -.7 .5 -.3 .5 8.4 .5 -7.6 .5 -1.1 .5 0 .5 7.2 .5 -13.5 .5 3.7 .5 6.2 .5 -6.8 .5 6.4 .5 -2.6 .5 -1.2 .5 -1.4 .5 -1.3 .5 1.1 .5 2.7 .5 2.1 .5 -4.8 .5 -1.5 .5 -4.8 .5 15 .5 -4.5 .5 -1.2 .5 -1.1 .5 -4.4 .5 -.6 .5 6.3 .5 0 .5 -1 .5 -4.5 .5 4.9 .5 -3.8 .5 3.2 .5 -2.1 .5 -4.4 .5 9.8 .5 -2.4 .5 -5.1 .5 -6 .5 1.9 .5 .4 .5 .8 .5 -4.6 .5 5.2 .5 -7.3 .5 2.1 .5 -.6 .5 -3.5 .5 0 .5 5.3 .5 -4 .5 -2.6 .5 6 .5 .6 .5 -1.7 .5 4.5 .5 -5.6 .5 -3.1 .5 4.5 .5 .3 .5 -1.3 .5 5.1 .5 -3.3 .5 .6 .5 4 .5 -2.4 .5 -.1 .5 7 .5 -3.4 .5 -2.4 .5 8.8 .5 -5.7 .5 5.6 .5 -6.6 .5 5.2 .5 2.2 .5 -4 .5 2.1 .5 .9 .5 -8.2 .5 4.2 .5 2.7 .5 -2.8 .5 1 .5 2.4 .5 5.8 .5 -5 .5 -1.9 .5 -2.1 .5 3.8 .5 0 .5 2.1 .5 3.8 .5 -5.8 .5 -.6 .5 -2.2 .5 .7 .5 6.9 .5 -3.4 .5 -7.9 .5 7.3 .5 -3.2 .5 3.3 .5 -5.9 .5 -.5 .5 3.3 .5 -2.8 .5 5.1 .5 -1.7 .5 -3.8 .5 .7 .5 -.7 .5 8.6 .5 -3.2 .5 .5 .5 -2.7 .5 2.5 .5 -5.6 .5 2.7 .5 3.8 .5 -1.4 .5 -1 .5 4.7 .5 -6.4 .5 2.2 .5 -2 .5 7.1 .5 -6.6 .5 -4.4 .5 10.4 .5 -1.3 .5 -3.4 .5 -7.7 .5 2.5 .6 6.3 .5 -7.5 .5 7.6 .5 1.8 .5 -4.8 .5 5.7 .5 -2.2 .5 3.5 .5 -6 .5 .2 .5 2.3 .5 -6.2 .5 3.3 .5 2.3 .5 -6.4 .5 4.5 .5 6.9 .5 -1.3 .5 -7.3 .5 .5 .5 3.4 .5 -3.6 .5 0 .5 7.4 .5 -7.8 .5 9 .5 -5.2 .5 -.1 .5 -.1 .5 -3.2 .5 3.2 .5 5.3 .5 -1.9 .5 -3.1 .5 3.6 .5 -4.1 .5 -1.8 .5 -2.9 .5 -.7 .5 1.2 .5 8.5 .5 -6.6 .5 -1 .5 7.1 .5 -2.2 .5 1.3 .5 -.4 .5 1.1 .5 5.5 .5 -9.1 .5 -2.9 .5 1.5 .5 8.5 .5 -10.7 .5 5.3 .5 1.6 .5 -1.1 .5 -3.9 .5 4.3 .5 .3 .5 -2.5 .5 4.4 .5 2.6 .5 -1.9 .5 -.1 .5 2.2 .5 -3.5 .5 -.1 .5 -5.9 .5 12.9 .5 -7.1 .5 .5 .5 -1.2 .5 5.8 .5 -12.2 .5 8.7 .5 -2.5 .5 -3.5 .5 7.4 .5 -5.8 .5 -3.4 .5 4.5 .5 -1 .5 3.7 .5 2.4 .5 -2 .5 -2.7 .5 3.8 .5 -5.8 .5 1.7 .5 2.2 .5 .7 .5 2.8 .5 1.4 .5 -3.4 .5 2.8 .5 -8.7 .5 5.9 .5 -3.5 .5 3.9 .5 -4.6 .5 8.2 .5 -7.5 .5 5.4 .5 1 .5 -2.9 .5 -.9 .5 -2.5 .5 -.3 .5 1.7 .5 -4.7 .5 3.3 .5 4.4 .5 .3 .5 0 .5 -5.6 .5 3.2 .5 1.5 .5 -2.7 .5 6.2 .5 -11.8 .5 5.9 .5 -1 .5 3.9 .5 -.7 .5 -4.5 .5 4.5 .5 -2.4 .5 4.3 .5 -1.5 .5 -1.7 .5 .4 .5 7.4 .5 -2.6 .5 -6.4 .5 -1.5 .5 .6 .5 5.1 .5 -7.6 .5 6.9 .5 2.4 .5 -3.8 .5 -5.9 .5 7.5 .5 -8.1 .5 5.7 .5 -.9 .5 2.6 .5 -2.5 .5 -1.5 .5 6 .5 -1.5 .5 -4.8 .5 -.1 .5 2.3 .5 2.1 .5 -3 .5 -3.2 .5 1.7 .5 1.6 .5 -1.3 .5 -.6 .5 .6 .5 -.2 .5 -.2 .5 1.9 .5 -5.9 .5 10.3 .5 -6.9 .5 2 .5 6 .5 -4.2 .5 3.4 .5 -.1 .5 2.6 .5 -8.2 .5 10.4 .5 -8.7 .5 4.6 .5 4.5 .5 -9.3 .5 5.8 .5 -4.4 .5 .1 .5 7.9 .5 -7.9 .5 -.2 .5 -.8 .5 5.6 .5 -11.9 .5 10.3 .5 -2.2 .5 2.3 .5 .6 .5 3.8 .5 -3.9 .5 -.6 .5 -3.1 .5 -1 .5 -1.7 .5 -1.3 .5 2 .5 4.7 .5 -6.4 .5 7.5 .5 .7 .5 -.5 .5 -2.6 .5 -1.3 .5 -1.6 .5 -1.5 .5 8.5 .5 -7.6 .5 -1 .5 7 .5 -.1 .5 -3.4 .5 3.8 .5 -1 .5 -1.9 .5 .2 .5 4.8 .5 1.9 .5 -4.7 .5 3.5 .5 -8 .5 2 .5 1.3 .5 2.4 .5 -4.1 .5 .3 .5 -1.2 .5 6.7 .5 1.6 .5 -11.8 .5 8.1 .5 0 .5 -4.2 .5 4 .5 -2.4 .5 -1.2 .5 2.9 .5 -4.5 .5 6.1 .5 -2.5 .5 2.5 .5 -2.3 .5 4.2 .5 -1.2 .5 -5.8 .5 3.5 .5 -3.5 .5 2.5 .5 -1 .5 -.3 .5 -1 .5 5.8 .5 -7.3 .5 5.3 .5 1.7 .5 -3.9 .5 6.3" fill="none" stroke="#0b0908" stroke-width="1.4" stroke-linejoin="round"/>
<path d="M293.3 811.7l.8 2.2 .8 -.7 .8 0 .8 1.9 .8 -6.2 .8 1.2 .8 -1.5 .8 2.6 .8 2.3 .8 -2.2 .8 1 .8 -5.2 .8 4.4 .8 -2.3 .8 5.7 .8 -2 .8 .1 .8 -2.2 .8 1.4 .8 0 .8 -2.2 .8 -.4 .8 .8 .8 -1.1 .8 0 .8 .6 .8 -1 .8 3.1 .8 -5.1 .8 5.1 .8 -3.2 .9 .1 .8 -1.8 .8 2.6 .8 -.3 .8 .9 .8 -1.6 .8 1.2 .8 3.7 .8 -3.1 .8 -2.2 .8 3.2 .8 -2.4 .8 1.5 .8 0 .8 -2.2 .8 -3.4 .8 3.3 .8 1.9 .8 -2.1 .8 1.7 .8 1.1 .8 -3.4 .8 3.8 .8 .7 .8 -1.2 .8 .1 .8 -.3 .8 2.4 .8 -4.5 .8 -.5 .8 1.2 .8 -3.4 .8 -1.5 .8 1.4 .8 2.6 .8 .1 .8 -4.4 .8 -.9 .8 3.3 .8 .2 .8 .2 .8 1.4 .8 1.1 .8 -2.2 .8 .7 .8 -3.8 .8 -.3 .8 3 .8 .8 .8 0 .8 -.4 .8 .3 .8 0 .8 -5.6 .8 2.1 .8 2.4 .8 .3 .8 -4.7 .8 5.7 .8 -3.6 .8 .4 .8 1 .8 .9 .8 -4.8 .8 5.1 .8 -2.1 .8 -1.9 .8 .9 .8 -4.2 .8 3.2 .8 1.7 .8 -2.1 .8 .7 .8 .3 .8 .3 .8 2 .8 -2.4 .8 -.6 .8 1.6 .8 3.2 .8 -5.3 .8 1.7 .8 -4.6 .8 6.2 .8 -1.5 .8 1.3 .8 -3.1 .8 -2.2 .8 4.1 .8 -.3 .8 -3.6 .8 -1.4 .8 4.1 .8 -1.4 .8 6 .8 -7 .8 .2 .8 .9 .8 -3.4 .8 1.7 .8 5.5 .8 -3.9 .8 -1 .8 -1.4 .8 4.1 .8 .2 .8 -.8 .8 -1.3 .8 1.6 .8 .2 .8 -2.2 .8 2.9 .8 -5.8 .8 1.9 .8 2.2 .8 .5 .8 -2.1 .8 3.3 .8 1.7 .8 -1.2 .8 -.3 .8 1.4 .8 -.8 .8 -3.2 .8 2.2 .8 3.4 .8 -5.1 .8 2.7 .8 -.9 .8 -.9 .8 -.1 .8 2.5 .8 .6 .8 .1 .8 -3.6 .8 2.6 .8 1.5 .8 1.5 .8 -.5 .8 .5 .8 .8 .8 -.4 .8 -3.4 .8 2.1 .8 -1.5 .8 -3.4 .8 1.7 .8 8.4 .8 -6.7 .8 -2.2 .8 3.7 .8 4.8 .8 -3.2 .8 1.2 .8 -1.2 .8 .6 .8 3.1 .8 -.7 .8 -1.7 .8 2.3 .8 .6 .8 -2.5 .8 1.2 .8 .2 .8 -1.8 .8 4.2 .8 -2.7 .8 -.7 .8 -2.1 .8 1.1 .8 6.2 .8 -5.5 .8 3.5 .8 -1.5 .8 2.1 .8 .3 .8 -2.8 .8 1.2 .8 1 .8 .2 .8 -.2 .8 -.4 .8 2.1 .8 1.7 .8 -1.6 .8 -2.6 .8 2.6 .8 -.6 .8 1.1 .8 3.1 .8 -4.3 .8 .6 .8 -1.8 .8 1.5 .8 -.5 .8 4.8 .8 -2.6 .8 -1.8 .8 5.6 .8 -6.9 .8 4.8 .8 .5 .8 -.9 .8 -1.6 .8 .4 .8 -.4 .8 2.6 .8 -6.6 .8 4 .8 1.5 .8 -1.5 .8 -2.6 .8 3.5 .8 -1 .8 3.4 .8 1.3 .8 -2.8 .8 -4.3 .8 3.8 .8 -1.5 .8 3.5 .8 2.1 .8 -2.9 .8 3.7 .8 -1.1 .8 -1.8 .8 -3.3 .8 2.2 .8 -3.3 .9 5.4 .8 -2 .8 2.7 .8 -2.3 .8 -4.8 .8 5.6 .8 .6 .8 1.6 .8 -5.7 .8 .1 .8 2.2 .8 -2.4 .8 -.7 .8 .6 .8 7.6 .8 -6.7 .8 -.8 .8 1.2 .8 .9 .8 2.8 .8 -.8 .8 -.3 .8 -1.6 .8 .3 .8 -1.7 .8 -1.9 .8 7.6 .8 -5.4 .8 3.2 .8 -2.9 .8 .5 .8 -.1 .8 -2.6 .8 2.7 .8 1 .8 .9 .8 -.7 .8 1.1 .8 -1.6 .8 -.7 .8 -4.3 .8 3 .8 4.3 .8 -3.1 .8 1.3 .8 -2.2 .8 -1.1 .8 5.7 .8 -3.8 .8 2.3 .8 -2.1 .8 -1.9 .8 -4.3 .8 4.8 .8 -3.7 .8 -1.5 .8 7.2 .8 -1.3 .8 -.3 .8 -1.4 .8 -.4 .8 .8 .8 -.7 .8 -.3 .8 1.2 .8 -6.9 .8 6.9 .8 -3.4 .8 3 .8 .5 .8 -4.4 .8 3.3 .8 -.2 .8 -3.3 .8 .2 .8 1.2 .8 -5.1 .8 3.6 .8 1.2 .8 -1.5 .8 -2.6 .8 2.4 .8 3.9 .8 -.6 .8 -3.2 .8 -1.6 .8 1.5 .8 -.1 .8 -1.7 .8 .6 .8 1.8 .8 .5 .8 -7.3 .8 7 .8 -2 .8 1.9 .8 -2.7 .8 .8 .8 2.2 .8 -9.2 .8 8.6 .8 -3.2 .8 -4.6 .8 -1.9 .8 5.8 .8 -3.2 .8 3.9 .8 -2.2 .8 -1.2 .8 1.9 .8 -2.3 .8 .6 .8 -.4 .8 -1.7 .8 .3 .8 -.7 .8 -5.2 .8 1.6 .8 -.4 .8 -1.3 .8 -3.4 .8 1.5 .8 1.2 .8 -1.1 .8 2.1 .8 -5.5 .8 -.4 .8 -1.2 .8 -.3 .8 -1.6 .8 -3.7 .8 3.9 .8 .4 .8 -.8 .8 -5.9 .8 .9 .8 3.4 .8 -5.5 .8 -.1 .8 -2.3 .8 1.4 .8 -1.3 .8 1.9 .8 -5.5 .8 -1.4 .8 -5.2 .8 .6 .8 -2.1 .8 -.5 .8 -3.7 .8 4.8 .8 -7 .8 1.8 .8 -5.3 .8 2.4 .8 1.7 .8 -7.8 .8 1.3 .8 -2.8 .8 -.9 .8 -1.4 .8 -4.5 .8 -.7 .8 -2.9 .8 -2.5 .8 -3 .8 3.6 .8 -6.4 .8 1.5 .8 -2.4 .8 -6 .8 3 .8 -7 .8 1.5 .8 -.2 .8 -7.7 .8 -2.9 .8 -2.5 .8 5.2 .8 -9 .8 -4.7 .8 1.8 .8 -5.1 .8 -2.8 .8 -5.2 .8 -5.7 .8 -.6 .8 -4.3 .8 -5 .8 -3.5 .8 -4.5 .8 -2.8 .8 -5.6 .8 -6 .8 -7 .8 -6.9 .8 -5.1 .8 -6.9 .8 -7.2 .8 -8.7 .8 -8.7 .8 -9 .8 -10.5 .8 -10.5 .8 -11.1 .8 -14.6 .8 -16.5 .8 -17.6 .8 -17.5 .8 -15.5 .8 -14.4 .8 -13.2 .8 -13.1 .8 -12.3 .8 -12.4 .8 -12.3 .8 -11.6 .8 -12.5 .8 -12.5 .8 -12.7 .8 -14.1 .8 -15.9 .8 -16.3 .8 -16.7 .8 -16 .8 -14.6 .8 -12.4 .8 -9 .9 -3.3 .8 -2 .8 10.4 .8 22.9 .8 30.9 .8 35.7 .8 36.5 .8 34 .8 27.8 .8 20 .8 18.4 .8 17.4 .8 17 .8 15.7 .8 15.1 .8 14.1 .8 13.2 .8 12.7 .8 11.5 .8 11.2 .8 9.3 .8 9.2 .8 8.2 .8 8.1 .8 7.6 .8 8.1 .8 6 .8 7.2 .8 5.2 .8 5.9 .8 4.4 .8 8.2 .8 6.8 .8 3.4 .8 7.1 .8 4.6 .8 3.3 .8 6.4 .8 2.1 .8 4.7 .8 6 .8 1.2 .8 0 .8 8 .8 -3 .8 4.4 .8 1.7 .8 2.4 .8 .1 .8 -.4 .8 10.8 .8 -6.1 .8 1.5 .8 -3 .8 8.3 .8 4.6 .8 1.5 .8 4.3 .8 -1.8 .8 -2.1 .8 -.1 .8 5.1 .8 -3.3 .8 1.6 .8 -2.5 .8 3.9 .8 6.1 .8 -5 .8 2.1 .8 -7 .8 11.1 .8 -2 .8 3.5 .8 -2.4 .8 -2.3 .8 -.6 .8 5.5 .8 -.7 .8 -1.8 .8 2.9 .8 -.8 .8 3.9 .8 -2.2 .8 -1.4 .8 3.3 .8 -.6 .8 5.5 .8 -4.2 .8 -1.5 .8 3.5 .8 0 .8 1.8 .8 .3 .8 -2.4 .8 2.8 .8 .3 .8 -2 .8 1.9 .8 2.2 .8 -3.6 .8 1.6 .8 1.8 .8 1.3 .8 1.8 .8 -3.8 .8 4.2 .8 1.1 .8 2.5 .8 -3.9 .8 -.7 .8 -1 .8 5 .8 2.1 .8 -4 .8 2.9 .8 1.3 .8 .6 .8 -2.5 .8 2.7 .8 -1.2 .8 -1.6 .8 3.1 .8 .6 .8 -2.6 .8 3.5 .8 3.8 .8 -7.3 .8 5.2 .8 .8 .8 -1.6 .8 1 .8 -1 .8 3.9 .8 -4.7 .8 2.1 .8 -3.6 .8 5.3 .8 .5 .8 -4.2 .8 2.1 .8 3.3 .8 -1.7 .8 -1.2 .8 -2.4 .8 6.6 .8 3.9 .8 -4.8 .8 2.3 .8 .4 .8 -.6 .8 .8 .8 .4 .8 -1.7 .8 7.7 .8 .8 .8 -4.8 .8 3.6 .8 -5.3 .8 1.6 .8 3.3 .8 -4.7 .8 0 .8 3.8 .8 -4.8 .8 8.3 .8 -1.9 .8 -1 .8 1.1 .8 -3.4 .8 0 .8 3.9 .8 .2 .8 -1.8 .8 -.6 .8 -1.2 .8 4 .8 -6.5 .8 1.1 .8 .4 .8 -2.5 .8 .1 .8 .3 .8 4.1 .8 1.4 .8 -3.6 .8 -4.6 .8 1.8 .8 .7 .8 -.7 .8 -.5 .8 1.6 .8 -5.6 .8 2.7 .8 1.5 .8 .9 .8 -1.1 .8 -.7 .8 -.4 .8 -1.1 .8 1.7 .8 -.6 .8 -1 .8 4.3 .8 .2 .8 -3.2 .8 2.4 .8 1.5 .8 -1.7 .8 0 .8 1.2 .8 -4.3 .8 .9 .8 4.6 .8 -.1 .8 2.7 .8 -3.5 .8 3.8 .8 .4 .8 2.4 .8 -5.5 .8 1.4 .8 1.8 .8 .4 .8 -2.2 .8 1.3 .8 -1.1 .8 8.1 .8 -4.7 .9 .5 .8 -.9 .8 1.7 .8 2 .8 -2.2 .8 .9 .8 5 .8 -2.4 .8 -1.3 .8 -1.2 .8 1 .8 -1.3 .8 2.4 .8 -1.9 .8 .1 .8 .8 .8 -1.2 .8 2.9 .8 5.2 .8 -6.6 .8 -2.1 .8 5.8 .8 -2.1 .8 4.6 .8 -3.3 .8 1.3 .8 -3.5 .8 -1.7 .8 3.2 .8 2 .8 -3.2 .8 -1.4 .8 2.2 .8 .5 .8 .3 .8 .8 .8 5.3 .8 -5 .8 -1.1 .8 -1.1 .8 4.1 .8 -5 .8 6.6 .8 -3.1 .8 -3.1 .8 3.7 .8 -.5 .8 2.9 .8 -5.8 .8 3.8 .8 -.4 .8 2.1 .8 -4.4 .8 .9 .8 5.9 .8 -2.9 .8 -4.3 .8 3.9 .8 -2.3 .8 .2 .8 -1.1 .8 4.8 .8 -3.2 .8 1.6 .8 -.2 .8 -3.4 .8 1.7 .8 3.2 .8 -5 .8 3.9 .8 -.7 .8 1.6 .8 .1 .8 .3 .8 -1.6 .8 .5 .8 -2.1 .8 .4 .8 3.1 .8 -3.2 .8 3.5 .8 -.1 .8 -3.8 .8 2.9 .8 -2.9 .8 2.5 .8 -2.4 .8 2.4 .8 -.4 .8 -2.5 .8 6.6 .8 -2.3 .8 -5.5 .8 4.2 .8 -1.7 .8 5.3 .8 -4.5 .8 1 .8 -1.2 .8 1.8 .8 -2.5 .8 -.8 .8 .9 .8 .2 .8 2.2 .8 -1.1 .8 -1.1 .8 .1 .8 -1.1 .8 2.3 .8 -4.6 .8 3.9 .8 3 .8 -3.2 .8 -.6 .8 1.6 .8 -2 .8 .4 .8 3.1 .8 -2.7 .8 5.6 .8 -2.9 .8 -1.2 .8 -1 .8 .9 .8 -4.1 .8 5.4 .8 1.5 .8 -.5 .8 -1.9 .8 2.3 .8 .2 .8 -1.4 .8 1.2 .8 1.6 .8 -1 .8 -1.6 .8 1 .8 .5 .8 -3.5 .8 3.9 .8 -.4 .8 -4.1 .8 1.2 .8 7.6 .8 -3.3 .8 2.8 .8 -3.4 .8 4.3 .8 -1.8 .8 -2.4 .8 2.2 .8 3 .8 2 .8 -3.7 .8 -1.8 .8 -.7 .8 3.6 .8 1.1 .8 -1.8 .8 -.3 .8 2.2 .8 -.4 .8 0 .8 -3.8 .8 2.8 .8 4.9 .8 -3.7 .8 5.3 .8 -4 .8 -1.2 .8 1.5 .8 .9 .8 -2.6 .8 2.3 .8 -1.2 .8 4.2 .8 -3.8 .8 1.4 .8 -3.1 .8 .5 .8 2.9 .8 -1.5 .8 1.5 .8 1.3 .8 .9 .8 -4 .8 2.8 .8 2 .8 -2.6 .8 -1.1 .8 1.4 .8 5.1 .8 -3.2 .8 3.4 .8 -3.7 .8 3.4 .8 -5.3 .8 2.7 .8 .9 .8 3.7 .8 -2.5 .8 1.5 .8 -3 .8 .2 .8 3.8 .8 .5 .8 -.2 .8 .1 .8 -3.4 .8 5.8 .8 -3.9 .8 2.5 .8 -.9 .8 -5 .8 -.2 .8 .9 .8 3.5 .8 2.6 .8 -2.7 .8 2.5 .8 -4.1 .8 1.5 .8 -.4 .8 2.1 .8 -2.2 .8 2.4 .8 1.6 .8 -2 .9 -.7 .8 1.2 .8 -1.4 .8 .6 .8 3.9 .8 -.7 .8 -3.5 .8 2.6 .8 1.7 .8 .9 .8 -.1 .8 .9 .8 -1.9 .8 .3 .8 -.2 .8 2.9 .8 -.3 .8 2.1 .8 -1.2 .8 -3.6 .8 -1.1 .8 .4 .8 1.2 .8 3.2 .8 -3.8 .8 -1.1 .8 3.9 .8 2.2 .8 .1 .8 2 .8 -3.2 .8 -.8 .8 .7 .8 -1.9 .8 1.5 .8 4.1 .8 1.8 .8 -1.5 .8 -1.7 .8 -.9 .8 1.2 .8 -4 .8 4.9 .8 .6 .8 -1.6 .8 .5 .8 -3.2 .8 5 .8 .1 .8 -6.3 .8 4 .8 1.9 .8 2.7 .8 -4.7 .8 1.7 .8 3 .8 -1.7 .8 -1.2 .8 -.3 .8 1 .8 -1.4 .8 3.6 .8 -3.4 .8 2.8 .8 .9 .8 .6 .8 -1.9 .8 0 .8 .7 .8 -.3 .8 2.1 .8 -2.2 .8 4 .8 1.2 .8 -5.8 .8 2.1 .8 -2.8 .8 3.7 .8 -.6 .8 -1 .8 -1.5 .8 2.1 .8 3.8 .8 -.7 .8 -2.1 .8 -1.8 .8 1.2 .8 -1.3 .8 -1 .8 .9 .8 2.9 .8 -.5 .8 -.2 .8 -2.2 .8 -.5 .8 4.5 .8 -2.4 .8 2.8 .8 -3.4 .8 3.2 .8 -1.3 .8 -1.1 .8 .1 .8 4.3 .8 -1.7 .8 -2.1 .8 .9 .8 -3 .8 5.9 .8 -.5 .8 -3.2 .8 1.6 .8 -5.4 .8 6.5 .8 -.9 .8 -.3 .8 1.1 .8 -.9 .8 -2.2 .8 .6 .8 .9 .8 2 .8 -1.5 .8 -1.2 .8 1.8 .8 -2.7 .8 5.8 .8 -3 .8 -2.2 .8 2 .8 1.6 .8 -.9 .8 2.6 .8 -5.9 .8 5.2 .8 -2.8 .8 1.6 .8 1.4 .8 -5 .8 -.3 .8 1.7 .8 -2.1 .8 -.6 .8 3.5 .8 1.8 .8 -2.7 .8 1.6 .8 3.5 .8 -3.8 .8 -1.1 .8 .3 .8 1 .8 -1.2 .8 1.6 .8 -.8 .8 1.1 .8 -1.2 .8 -.4 .8 -1.4 .8 -.8 .8 1.8 .8 -.2 .8 1.1 .8 -.6 .8 -.5 .8 4.3 .8 -3.2 .8 1.5 .8 -3.7 .8 3.3 .8 .3 .8 -1.2 .8 -2.2 .8 3.5 .8 -3.3 .8 -1.4 .8 -.1 .8 2.8 .8 -.9 .8 2.1 .8 -.3 .8 1.2 .8 -1.7 .8 -.4 .8 -.2 .8 -1.3 .8 -.1 .8 .2 .8 1.5 .8 -1.7 .8 1.2 .8 1.9 .8 -5.7 .8 2.5 .8 -.2 .8 1.6 .8 -2.4 .8 1.3 .8 4.7 .8 -5.8 .8 2 .8 .5 .8 -.8 .8 -1.5 .8 3.6 .8 -4.7 .8 1.6 .8 1.2 .8 -.6 .8 2.9 .8 -2.4 .8 3.6 .8 -3 .8 2.6 .8 -1.7 .8 -1 .8 0 .8 2.2 .8 -2.4 .8 .9 .8 -1.1 .8 -1.9 .8 4.2 .8 .2 .8 -2.8 .8 2.8 .8 -1 .8 -2.5 .9 1.6 .8 2.7 .8 .7 .8 -.9 .8 3.7 .8 -3.5 .8 -1.6 .8 -1 .8 4.8 .8 -2.9 .8 .3 .8 -.6 .8 .2 .8 .8 .8 1.4 .8 .3 .8 -.2 .8 1.1 .8 -2.1 .8 -.7 .8 1.6 .8 -3 .8 4.6 .8 -.4 .8 .1 .8 -2.4 .8 1.1 .8 .8 .8 -1.5 .8 0 .8 1.4 .8 .7 .8 -1.2 .8 2.7 .8 1.8 .8 -2.4 .8 -1.1 .8 -.2 .8 3 .8 -2 .8 .5 .8 -.5 .8 -1.2 .8 3.2 .8 -2.7 .8 .7 .8 -3.5 .8 6.6 .8 -2.1 .8 -1.3 .8 -1 .8 .3 .8 -1.7 .8 3.4 .8 -2 .8 1.9 .8 .1 .8 2.2 .8 -2.5 .8 .1 .8 .4 .8 -1.7 .8 .6 .8 .9 .8 1.3 .8 -.6 .8 -1.5 .8 2.2 .8 -2.3 .8 -1.7 .8 4.6 .8 -2.3 .8 -.7 .8 -1.1 .8 1.2 .8 3.2 .8 -2.6 .8 3.4 .8 -3.3 .8 1.7 .8 -1.6 .8 -.8 .8 .1 .8 .2 .8 -1.4 .8 0 .8 2.3 .8 1.3 .8 -1.6 .8 -.1 .8 -1.5 .8 3 .8 -.1 .8 -3.3 .8 1.8 .8 -.7 .8 -1.7 .8 4.5 .8 -.7 .8 -1.3 .8 1.5 .8 -2.9 .8 1 .8 1.5 .8 -2.5 .8 .7 .8 -2.1 .8 2.2 .8 .5 .8 -3.4 .8 -.1 .8 .7 .8 1.6 .8 -3.3 .8 -1.1 .8 .3 .8 .8 .8 -4.6 .8 .8 .8 1 .8 -2.7 .8 -1 .8 1.4 .8 -2.9 .8 4.9 .8 -1.9 .8 -.8 .8 1.2 .8 .4 .8 .2 .8 -.7 .8 1.9 .8 -1.6 .8 4.9 .8 -3.1 .8 .9 .8 .3 .8 2.5 .8 -1 .8 2.6 .8 -2.5 .8 1.1 .8 -.1 .8 -.3 .8 2.3 .8 .3 .8 .2 .8 -3.7 .8 2.5 .8 -2 .8 .1 .8 -.9 .8 1.3 .8 2.2 .8 1.2 .8 .6 .8 -3.7 .8 .4 .8 1.3 .8 -.1 .8 .1 .8 -2.7 .8 2.2 .8 1.1 .8 -.4 .8 -.5 .8 -.8 .8 .9 .8 2.4 .8 -1.5 .8 .8 .8 .9 .8 -3.9 .8 2.5 .8 -.2 .8 1.2 .8 -2.1 .8 0 .8 -.5 .8 1.2 .8 -.6 .8 .2 .8 .7 .8 -1 .8 -.7 .8 .8 .8 -.2 .8 1.5 .8 1.1 .8 -2.1 .8 -2.9 .8 4.3 .8 -.9 .8 -1.1 .8 1 .8 3 .8 -4.6 .8 .5 .8 1.6 .8 -3.4 .8 2.9 .8 2.1 .8 -.6 .8 -.2 .8 -.9 .8 .3 .8 4 .8 -3.3 .8 1.6 .8 -3.5 .8 2.1 .8 .2 .8 -.2 .8 -3.2 .8 2.5 .8 2.6 .8 -1.2 .8 -1.7 .8 2.3 .8 -3.7 .8 3.4 .8 -.3 .8 -1.2 .8 -.6 .8 -.8 .8 2 .8 2.8 .8 -1.2 .9 -.6 .8 .8 .8 -2.1 .8 1.6 .8 -4.2 .8 2.9 .8 0 .8 .6 .8 -.1 .8 1.1 .8 -1.6 .8 2.1 .8 -1.5 .8 1.5 .8 -1 .8 1.1 .8 -.5 .8 -1.4 .8 1.1 .8 -2 .8 1.8 .8 .5 .8 -.8 .8 .2 .8 1.5 .8 .4 .8 .3 .8 -2.6 .8 .2 .8 1.7 .8 .1 .8 -3.6 .8 5.2 .8 -1.1 .8 -3.2 .8 3.3 .8 -2.1 .8 .4 .8 -1.1 .8 .3 .8 .6 .8 .6 .8 -1.5 .8 1.4 .8 -.8 .8 .3 .8 -.5 .8 .4 .8 3 .8 -4.3 .8 .5 .8 1.7 .8 -.6 .8 -.7 .8 2 .8 -2.1 .8 1.6 .8 1.3 .8 -.5 .8 -1.1 .8 .4 .8 .3 .8 .6 .8 -2 .8 2.9 .8 -.6 .8 1.5 .8 -1.3 .8 .2 .8 -4.7 .8 2.9 .8 3 .8 -1.9 .8 -1.1 .8 1.6 .8 -.8 .8 .4 .8 -1.4 .8 1.7 .8 1.3 .8 -1.6 .8 .3 .8 -1.5 .8 1.6 .8 -1.2 .8 -1.2 .8 1.3 .8 .2 .8 1.1 .8 .5 .8 -1.4 .8 -.2 .8 1.3 .8 -2 .8 .8 .8 .1 .8 .2 .8 -.6 .8 3 .8 -.9 .8 -1.4 .8 -1.7 .8 1.3 .8 1.4 .8 -3.3 .8 5.9 .8 -3.4 .8 .1 .8 .9 .8 -2.6 .8 1.9 .8 0 .8 .9 .8 -2.2 .8 2.2" fill="none" stroke="#0b0908" stroke-width="4.3" stroke-linejoin="round"/>
<path d="M293.3 805.3l.5 10.9 .5 -7.3 .5 3.8 .5 -9.3 .5 20.7 .5 -17.2 .5 5.5 .5 -2.4 .5 11.9 .5 -9 .5 -6.3 .5 2.9 .5 -2.1 .5 -.5 .5 3.9 .5 -6.3 .5 10.3 .5 -12.2 .5 9 .5 3.3 .5 -1.3 .5 6.3 .5 -6.7 .5 3 .5 -7.9 .5 11.7 .5 -20.7 .5 13.1 .5 -5.4 .5 11.6 .5 -12.4 .5 4.3 .5 2.5 .5 -6.5 .5 4.6 .5 2.6 .5 -4.6 .5 -1.2 .5 2.7 .5 9.1 .5 -12.9 .5 12 .5 -18.2 .5 5.2 .5 5.1 .5 3.5 .5 -5.2 .5 3.6 .5 -9.4 .5 -1.2 .5 11.7 .5 -3 .5 -1.2 .5 -6.7 .5 15.2 .5 -1.2 .5 -7.9 .5 3.3 .5 -8.1 .5 9.3 .5 -3.1 .5 -2.3 .5 -8.2 .5 2.5 .5 -.2 .5 11.9 .5 -7.7 .5 10.9 .5 -5.6 .5 -5.9 .5 10 .5 -.5 .5 -4.9 .6 -10.3 .5 12.4 .5 .6 .5 -1.3 .5 -6.8 .5 -2.3 .5 -1.3 .5 -5.1 .5 8.4 .5 9.2 .5 1.4 .5 -8 .5 -1.5 .5 7 .5 -2.5 .5 2.5 .5 -5.2 .5 -1.5 .5 8.5 .5 -10.6 .5 7.8 .5 -7.7 .5 4.9 .5 -3.7 .5 2.4 .5 -2.5 .5 9.7 .5 -7.4 .5 -2.9 .5 1.6 .5 9.3 .5 -10.1 .5 -2.4 .5 -6.6 .5 11.8 .5 -3.3 .5 .4 .5 3.4 .5 7.6 .5 -7 .5 6.3 .5 -11.8 .5 6.9 .5 -.1 .5 -1.7 .5 .8 .5 -8.7 .5 16.4 .5 -12.1 .5 -3.2 .5 4.9 .5 .6 .5 -3.3 .5 5.9 .5 -1.4 .5 -4.8 .5 -1.3 .5 1.6 .5 -1.5 .5 .7 .5 8.2 .5 4.3 .5 -23 .5 14.1 .5 -5.7 .5 -.8 .5 5.3 .5 .8 .5 -12.4 .5 12.2 .5 -.6 .5 -6.4 .5 8 .5 -2.9 .5 -3.6 .5 -.2 .5 4.9 .5 -2.8 .5 11 .5 -9.2 .5 -3.1 .5 7.9 .5 -10.4 .5 4.3 .5 -1.1 .5 3.7 .5 -2.8 .5 11.1 .5 -11.3 .5 1.8 .5 5.8 .5 2.6 .5 -14.1 .5 .5 .5 9 .5 -8.2 .5 -.3 .5 -2.5 .5 7.9 .5 -2.1 .5 -13 .5 15 .5 .4 .5 -2.3 .5 -5.3 .5 6.8 .5 -14.5 .5 20.3 .5 -10.7 .5 -1.1 .5 5.1 .5 7.5 .5 -13.2 .5 4.6 .5 -4.6 .5 1.3 .5 6.3 .5 5.5 .5 -9.8 .5 -1.6 .5 1.2 .5 .5 .5 -2.4 .5 -.3 .5 -4.1 .5 2.7 .5 1.5 .5 12.7 .5 -15.1 .5 11.7 .5 -9.1 .5 -.3 .5 6 .5 1.5 .5 -8.8 .5 -.5 .5 4.4 .5 .4 .5 -1.8 .5 1.2 .5 -1.2 .5 -2.8 .5 6.4 .5 6.6 .5 1.3 .5 -10.9 .5 2.8 .5 -.9 .5 -3.7 .5 .5 .5 .4 .5 9.9 .5 -1.4 .5 -12.7 .5 5.4 .5 2 .5 -7.9 .5 7.6 .5 -5.9 .5 7.7 .5 6.1 .5 -9.6 .5 3.3 .5 -.1 .5 .2 .5 2.7 .5 -9.9 .5 5.6 .5 2.3 .5 -11.2 .5 12.9 .5 -3.9 .5 6.2 .5 -4.4 .5 2.6 .5 .6 .5 -3.6 .5 3.9 .5 -4.3 .5 -8.1 .5 6.6 .5 1.7 .5 5.4 .5 -6.4 .5 2.2 .5 2.9 .5 1.3 .5 -17.6 .5 12.9 .5 -4.2 .5 8.4 .5 3 .5 -.6 .5 -13.1 .5 4.6 .5 9.2 .5 -4.9 .5 -5.1 .5 6.9 .5 -1.3 .5 -6.8 .5 7.8 .5 -6.4 .5 5.5 .5 -2 .5 1.6 .5 -12.4 .5 13.9 .5 -3.8 .5 10.2 .5 -7.4 .5 .9 .5 -7.6 .5 -.1 .5 5 .5 6.3 .5 -11.8 .5 14.6 .5 -2.8 .5 -10.2 .5 13.4 .5 -11.2 .5 6.4 .5 -6.2 .5 4.5 .5 3.9 .5 -11.5 .5 11.1 .5 -7.7 .5 2.4 .5 6.2 .5 -2.6 .5 1.3 .5 -9.3 .5 15.2 .5 -13.1 .5 -4 .5 7.9 .5 -.4 .5 14.1 .5 -11.3 .5 -4.2 .5 -2.1 .5 9.4 .5 -3.7 .5 -1.7 .5 -5.5 .5 15.8 .5 -8.7 .5 4 .5 -2 .5 -3.9 .5 -8.8 .5 14.4 .5 1.6 .5 -8.5 .5 2.6 .5 9 .5 -8.1 .5 5 .5 -8.6 .5 2.4 .5 1.9 .5 2.2 .5 -6 .5 5.5 .5 0 .5 -7 .5 9.7 .5 2.5 .5 -11.9 .5 14 .5 -13.3 .5 14.3 .5 -7.8 .5 -8.1 .5 21.4 .5 -5.9 .5 .3 .5 -7.1 .5 8.6 .5 -4.2 .5 -4.2 .5 4.4 .5 -.1 .5 -3.3 .5 -.7 .5 6.5 .5 -14 .5 15.4 .5 -10.4 .5 3.4 .5 -1.5 .5 4.6 .5 6.6 .5 -11 .5 7.8 .5 -10.3 .5 8.2 .5 -2.4 .5 2.4 .5 -3.9 .5 9.2 .5 -10.1 .5 8.5 .5 -3.4 .5 -5.8 .5 1.5 .5 7 .5 -11.7 .5 8.9 .5 -10.5 .5 20.1 .5 -16.6 .5 11.3 .5 -1.8 .5 -2.6 .5 -3.2 .5 -.2 .5 -8.6 .5 14.5 .5 -17.2 .5 5.8 .5 -3.3 .5 1.8 .5 6.2 .5 -6.1 .5 14.5 .5 -5.9 .5 1.9 .5 -5.1 .5 4.9 .5 2.4 .5 -4.2 .5 -6.5 .5 9.7 .5 -.3 .5 .1 .5 -6.9 .5 3 .5 -3.1 .5 4.6 .5 -3.8 .5 -.9 .5 7.3 .5 3.8 .5 -1.1 .5 -14.2 .5 6.2 .5 6 .5 -.8 .5 -5.2 .5 4.6 .5 -1.6 .5 -2.7 .5 -1.8 .5 7.2 .5 -3.2 .5 -13.1 .5 6.7 .5 5.1 .5 -2.3 .5 2.7 .5 4.3 .5 -8.2 .5 -1.5 .5 11.3 .5 -8.6 .5 5.7 .5 -1 .5 -3 .5 -8 .5 9.9 .5 6.4 .5 4.7 .5 -6.1 .5 -4.3 .5 .3 .5 .8 .5 -10.4 .5 7.3 .5 -3.3 .5 6 .5 -3.9 .5 1.5 .5 .9 .5 -.7 .5 -5.5 .5 4.5 .5 .2 .5 10.9 .5 -11.3 .5 -5.8 .5 13 .5 -8 .5 -2.5 .5 7.3 .5 -8.4 .5 -3.8 .5 10.7 .5 -12.5 .5 1.2 .5 7.7 .5 11.1 .5 -12.3 .5 1.1 .5 14.6 .5 -18.6 .5 7.3 .5 -1.1 .5 12.2 .5 -13.7 .5 3.6 .5 -1.2 .5 1.3 .5 1.6 .5 -3.2 .5 -.2 .5 4.1 .5 .9 .5 -14 .5 9.5 .5 5.2 .5 -10.2 .5 -3.8 .5 -3.4 .5 13.6 .5 -7.4 .5 5.4 .5 4.7 .5 .9 .5 -10.8 .5 -9.2 .5 11.8 .5 -3.3 .5 0 .5 8.8 .5 -17.8 .5 18.3 .5 -13.1 .5 5.1 .5 -4.6 .5 2.4 .5 1.6 .5 3.1 .5 -5.7 .5 -5.6 .5 8.2 .5 .2 .5 9.9 .5 -6.6 .5 -2.8 .5 -1 .5 2.7 .5 -.2 .5 3.3 .5 -6.1 .5 .3 .5 -5.2 .5 10 .5 3.6 .5 -8.1 .5 -.2 .5 5.1 .5 -7 .5 8.2 .5 -2.2 .5 -3.7 .5 -1 .5 12.5 .5 -6.8 .5 -4.2 .5 -3.1 .5 -7.5 .5 8.2 .5 2.8 .5 -8.3 .5 -4.9 .5 3.4 .5 5 .5 4.3 .5 3.2 .5 -9.2 .5 2.7 .5 -3.8 .5 6.4 .5 -7.6 .5 3.6 .5 12.1 .5 -9.8 .5 4 .5 -3 .5 -8.9 .5 2.5 .5 -.4 .5 4.4 .5 -4.2 .5 4.7 .5 3.3 .5 -5 .5 -3.8 .5 10.7 .5 -3.2 .5 -3.2 .5 -8.1 .5 11.1 .5 -5.3 .5 -.9 .5 2.9 .5 4.5 .5 -6.5 .5 .5 .5 2.6 .5 -.3 .5 -3.5 .5 -3.6 .5 -4.9 .5 8.1 .5 -1.5 .5 9 .5 -9 .5 -8.1 .5 12.3 .6 -11.3 .5 17.7 .5 -17.3 .5 5.6 .5 -6.3 .5 15.8 .5 -9.5 .5 3.1 .5 -3.4 .5 -4.1 .5 4.3 .5 2.7 .5 -13 .5 5.9 .5 -1.8 .5 -1.8 .5 -4.8 .5 3.8 .5 7.2 .5 -5.3 .5 -1 .5 -14 .5 10.6 .5 .6 .5 3.9 .5 -5.6 .5 -3.6 .5 7.6 .5 -11.2 .5 2 .5 7.7 .5 1 .5 -5.8 .5 -5.7 .5 1.2 .5 2.5 .5 -6.9 .5 -1.1 .5 8.7 .5 -8 .5 -6.4 .5 5.1 .5 2.3 .5 -6.7 .5 9.5 .5 4.9 .5 -10.5 .5 -2.2 .5 -5.3 .5 8.2 .5 -4 .5 .5 .5 2.8 .5 -12.4 .5 5 .5 2.5 .5 2.1 .5 -1.5 .5 -4.3 .5 11.7 .5 -14.6 .5 13.5 .5 -16.9 .5 2.6 .5 0 .5 -4.6 .5 -1.3 .5 6.5 .5 .2 .5 -8 .5 -8.5 .5 5 .5 6.2 .5 -15.5 .5 -4.9 .5 11.7 .5 2.6 .5 -6.1 .5 8.2 .5 -14.5 .5 -2.8 .5 3.8 .5 3.2 .5 -4.6 .5 -10 .5 4.4 .5 5.4 .5 -10.9 .5 6.7 .5 -3.7 .5 -7.7 .5 .6 .5 13.5 .5 3.9 .5 -6 .5 -5.4 .5 -4.2 .5 -4.7 .5 -4.9 .5 16.8 .5 -16 .5 1.4 .5 -5.2 .5 5.8 .5 3.3 .5 -14.2 .5 3.8 .5 -10.2 .5 2.3 .5 4.5 .5 -10.2 .5 3.1 .5 1.7 .5 .5 .5 -7.7 .5 6.8 .5 -12.9 .5 -.2 .5 -5.2 .5 -6.2 .5 6.7 .5 -9.8 .5 -2.1 .5 -6.9 .5 -1 .5 2.1 .5 -4.3 .5 -9.1 .5 .5 .5 -.3 .5 -2.3 .5 -3.6 .5 -6.3 .5 -6.2 .5 -.1 .5 -10.9 .5 2.1 .5 -6.3 .5 -2.3 .5 -7.6 .5 -3 .5 -6.1 .5 -9 .5 -3.7 .5 -7.9 .5 -5.3 .5 -6 .5 -9.5 .5 -8.2 .5 -9.1 .5 -10.6 .5 -11.2 .5 -11.1 .5 -10.5 .5 -11.8 .5 -8.9 .5 -9 .5 -8 .5 -8.6 .5 -7.9 .5 -9 .5 -7.4 .5 -6.3 .5 -10.3 .5 -6.4 .5 -7.3 .5 -8.1 .5 -7.8 .5 -7.7 .5 -7.6 .5 -7.1 .5 -8.5 .5 -7.4 .5 -9.8 .5 -11.2 .5 -9.4 .5 -10.4 .5 -10.4 .5 -10.3 .5 -9.8 .5 -8.9 .5 -9.6 .5 -6.8 .5 -8.3 .5 -5 .5 .8 .5 -3.3 .5 -.9 .5 3.5 .5 9.9 .5 14 .5 17.7 .5 20.4 .5 21.9 .5 22.9 .5 22.8 .5 22 .5 20.1 .5 17.5 .5 14.1 .5 11.5 .5 12.5 .5 10.5 .5 11.2 .5 10.2 .5 11 .5 9 .5 9.5 .5 9.3 .5 9.7 .5 8.3 .5 7.9 .5 8.4 .5 7.3 .5 6.9 .5 6.8 .5 6.7 .5 5.1 .5 7.7 .5 5.1 .5 5.6 .5 5.2 .5 4.1 .5 4.9 .5 4.5 .5 5.5 .5 5.1 .5 5.3 .5 -.9 .5 8.8 .5 2.6 .5 7 .5 -4.6 .5 8.1 .5 4.5 .5 1 .5 4.3 .5 4.5 .5 1.9 .5 1.2 .5 7.3 .5 4.2 .5 7.1 .5 -3.8 .5 11.7 .5 -4.5 .5 6 .5 -.7 .5 4.4 .5 -.3 .5 1.3 .5 -2.6 .5 5.8 .5 3.6 .5 -.9 .5 3.9 .5 5 .5 -1.1 .5 8.6 .5 -1.5 .5 5.9 .5 -9.3 .5 1.4 .5 -2.7 .5 11.5 .5 2.7 .5 -19.1 .5 11.1 .5 -2.4 .5 -1.1 .5 8 .5 5 .5 4.9 .5 -5 .5 1.6 .5 -5.9 .5 3.1 .5 5.8 .5 4.3 .5 1.9 .5 -18.4 .5 17.5 .5 -9.9 .5 14.9 .5 -15.9 .5 1.9 .5 .3 .5 8.3 .5 -18.2 .5 8.8 .5 11.3 .5 -8.7 .5 .5 .5 4.2 .5 -2.4 .5 2.1 .5 14.5 .5 -9.6 .5 1.8 .5 3.1 .5 -9.4 .5 6 .5 3 .5 -.9 .5 -8.1 .5 8.3 .5 -2 .5 4.1 .5 .9 .5 -2.2 .5 1.2 .5 -1.5 .5 -5.9 .5 10.7 .5 -11 .5 2 .5 3.8 .5 -.1 .5 10.9 .5 .1 .5 -3.4 .5 -1.6 .5 -1.8 .5 4.3 .5 1.1 .5 -6.8 .5 -1.7 .5 11.5 .5 -8.6 .5 12.2 .5 -8.8 .5 5.5 .5 1.8 .5 -12.5 .5 2.6 .5 7 .5 -4.7 .5 1 .5 1.5 .5 1.5 .5 -4 .5 -2.8 .5 18.6 .5 -1.6 .5 -3.1 .5 -2.5 .5 -1.2 .5 2.9 .5 5.4 .5 -13.7 .5 8.9 .5 .1 .5 -4.6 .5 7.2 .5 -9.9 .5 3.9 .5 4.9 .5 -6 .5 -2.4 .5 5.6 .5 7.9 .5 -5.1 .5 -12.7 .5 16.8 .5 -8.6 .5 2.5 .5 -6.5 .5 13.2 .5 1.2 .5 -6.2 .5 1.7 .5 -10.3 .5 -1 .5 5.2 .5 3.8 .5 -3.4 .5 3.4 .5 .5 .5 .6 .5 1.6 .5 -.2 .5 -.2 .5 14 .5 -19.2 .5 10.8 .5 8.2 .5 -10.3 .5 -5.8 .5 3.5 .5 7.4 .5 -2.4 .5 -5.4 .5 6.8 .5 -10.2 .5 9.9 .5 .2 .5 -.5 .5 -3.5 .5 .5 .5 6.5 .5 -10.9 .5 5.6 .5 -1.1 .5 2.9 .5 1.6 .5 2.4 .5 -4.1 .5 3.4 .5 -2.8 .5 2.3 .5 5.3 .5 1 .5 -15.3 .5 7 .5 -3.5 .5 2.5 .5 1.6 .5 7 .5 -.3 .5 -8.2 .5 1.6 .5 5.3 .5 -4.8 .5 -1.2 .5 .4 .5 4.1 .5 -3.7 .5 6.5 .5 2.4 .5 -3.1 .5 -7 .5 6.8 .5 -4.6 .5 -.5 .5 2.3 .5 11.2 .5 -9.6 .5 8.4 .5 -5.9 .5 4.7 .5 -8.5 .5 1.8 .5 -3 .5 -1.1 .5 4.5 .5 1.1 .5 -6.8 .5 16.8 .5 -11.3 .5 7.4 .5 -6.8 .5 -.9 .5 10.2 .5 -16.7 .5 6.2 .5 3.5 .5 -4.7 .5 -1.6 .5 .3 .5 13.9 .5 -11.5 .5 5.5 .5 -4.8 .5 4.5 .5 -.6 .5 -8.2 .5 4.5 .5 .6 .5 -.3 .5 -6.1 .5 1 .5 -3.9 .5 9.7 .5 2.5 .5 -4.8 .5 -5.3 .5 -5.7 .5 3.4 .5 12.4 .5 -6.1 .5 9.1 .5 -10.2 .5 4.4 .5 5.2 .5 -10 .5 -3.3 .5 5 .5 -1.8 .5 -.6 .5 -.9 .5 .9 .5 8.1 .5 -13.1 .5 3.5 .5 5.5 .5 .1 .5 -2.9 .5 -12.4 .5 16.9 .5 -3.6 .5 8.9 .5 -22.3 .5 12.5 .5 -3.6 .5 .2 .5 8.8 .5 -1 .5 -5.1 .5 9.7 .5 -6.3 .5 -1.4 .5 -10.7 .5 11.5 .5 -8.5 .5 7.1 .5 -.6 .5 -1.1 .5 -2 .5 5.6 .5 -3.9 .5 -.6 .5 6.5 .6 -10.6 .5 15.4 .5 -9.8 .5 11.6 .5 -7.7 .5 12.5 .5 -17 .5 -2.8 .5 4.2 .5 2.8 .5 -3.7 .5 2.3 .5 -1.6 .5 12.2 .5 -6.3 .5 0 .5 2 .5 -1.6 .5 5.4 .5 5.6 .5 -8.3 .5 .7 .5 4.6 .5 -4 .5 -12.4 .5 7.4 .5 2.7 .5 -.4 .5 12 .5 -13.6 .5 3.3 .5 -1.1 .5 5.4 .5 -15.3 .5 15.3 .5 1.4 .5 2.2 .5 -6.2 .5 -.1 .5 1.3 .5 -1.4 .5 5.6 .5 -4.6 .5 -2.8 .5 -4.2 .5 15.1 .5 -16.2 .5 10.7 .5 5.3 .5 -13.2 .5 10 .5 -6.6 .5 .7 .5 .9 .5 4.9 .5 -9.6 .5 9.7 .5 6.4 .5 -9.7 .5 7.6 .5 -6.9 .5 3.3 .5 -6.7 .5 4.1 .5 -2.9 .5 3.5 .5 -3.7 .5 2 .5 -5 .5 6.7 .5 -10.9 .5 8.8 .5 -3.5 .5 -1.6 .5 11.7 .5 -9.4 .5 -.8 .5 4 .5 11.5 .5 -10.3 .5 0 .5 5.5 .5 -1.1 .5 -5.9 .5 3.1 .5 -6.2 .5 5 .5 7.2 .5 -3.1 .5 -11.3 .5 12.1 .5 -1.7 .5 -6.2 .5 -7.8 .5 9.1 .5 -9 .5 25 .5 -17.6 .5 4 .5 5.4 .5 -7.2 .5 6.1 .5 1.5 .5 -4.2 .5 2.1 .5 -6.4 .5 2.5 .5 -10.5 .5 20.2 .5 -8.2 .5 9.3 .5 -7.9 .5 .4 .5 1.1 .5 -3.3 .5 -1.5 .5 11.9 .5 -11.5 .5 3.3 .5 2.2 .5 3.7 .5 -11.7 .5 7.9 .5 -4.6 .5 0 .5 -3.3 .5 2.6 .5 -4.2 .5 8.8 .5 1.6 .5 -2.2 .5 -6.6 .5 8.3 .5 9.4 .5 -20.4 .5 7.6 .5 1.2 .5 -3.7 .5 6.6 .5 -.4 .5 -.5 .5 -.8 .5 -4.7 .5 2.1 .5 2.4 .5 -8.9 .5 9 .5 3.5 .5 2.1 .5 -7.9 .5 -3.1 .5 11.6 .5 -10.7 .5 6.4 .5 -10.6 .5 6.3 .5 .1 .5 -.1 .5 -2.5 .5 -3 .5 8.2 .5 -8.2 .5 6.9 .5 -3.7 .5 6.2 .5 -.2 .5 -6.4 .5 -2.3 .5 4 .5 -.9 .5 -7 .5 8.8 .5 13.3 .5 -19.1 .5 -5.6 .5 13 .5 -7.5 .5 9.4 .5 -14.6 .5 7.6 .5 -.8 .5 11.1 .5 -1.7 .5 -1.4 .5 -5.7 .5 5.1 .5 9.8 .5 -10.1 .5 -.9 .5 -12.8 .5 14.4 .5 -3.6 .5 -.6 .5 2.5 .5 11.6 .5 -22.7 .5 10.5 .5 -7 .5 13.5 .5 -7.2 .5 8.7 .5 -10 .5 .4 .5 -3.9 .5 .2 .5 10.3 .5 1.3 .5 -1.3 .5 -.3 .5 -.7 .5 -5.5 .5 9.6 .5 -12.2 .5 6.8 .5 -3.4 .5 2.9 .5 -1.8 .5 10.6 .5 -7.4 .5 8.5 .5 -15 .5 -1.4 .5 2.4 .5 2.9 .5 -2.5 .5 1.1 .5 -2.9 .5 7.1 .5 -2 .5 2.6 .5 -5.1 .5 7.6 .5 -4.8 .5 -3.6 .5 11.2 .5 -.6 .5 -7.9 .5 -2.8 .5 -5 .5 10.6 .5 -5.1 .5 7.4 .5 -.7 .5 -9.7 .5 9 .5 7.8 .5 -14.1 .5 7.3 .5 2.4 .5 -3.1 .5 .4 .5 -6.1 .5 8.8 .5 .9 .5 -1.1 .5 -9.7 .5 3 .5 5.8 .5 .1 .5 -3.6 .5 .5 .5 -4.1 .5 -1.1 .5 7.9 .5 3.7 .5 -2.4 .5 -3.5 .5 7.6 .5 -2.4 .5 -2.1 .5 2.6 .5 -9.7 .5 1.4 .5 -3.6 .5 10.7 .5 1.8 .5 -6.5 .5 1.9 .5 10.1 .5 -9.8 .5 -6.4 .5 9.4 .5 .8 .5 -4.3 .5 4.1 .5 3.8 .5 4.5 .5 -5.2 .5 .4 .5 -2.7 .5 -3.7 .5 -.5 .5 4 .5 -.6 .5 -4.5 .5 5.3 .5 5.7 .5 -6.1 .5 8 .5 -4.1 .5 -9.1 .5 0 .5 12.8 .5 -5.1 .5 7.9 .5 -5.6 .5 -4.7 .5 10.1 .5 -14.7 .5 11.3 .5 2 .5 -11.9 .5 5 .5 -.8 .5 7.6 .5 -9.6 .5 7.3 .5 -7.7 .5 8.5 .5 -3.8 .5 4.9 .5 -.9 .5 -2.7 .5 2.2 .5 4.1 .5 -2.1 .5 -6 .5 -9.9 .5 12.3 .5 1 .5 -2.9 .5 -4.8 .5 1.3 .5 9.2 .5 4.4 .5 -4.9 .5 -2.2 .5 -1.9 .5 -6.1 .5 1.8 .5 6.6 .5 -13.2 .5 17.9 .5 -5.4 .5 4.7 .5 5.9 .5 -.9 .5 -5.5 .5 -3.1 .5 -.3 .5 -1.3 .5 4.1 .5 7.9 .5 -8.7 .5 -.3 .5 .3 .5 -7.9 .5 9.7 .5 -4.9 .5 2.7 .5 1.5 .5 -2.8 .5 -1.7 .5 3.3 .5 -7.9 .5 19.8 .5 -13.1 .5 4.5 .5 2.4 .5 -8.2 .5 4 .5 -.6 .5 6.3 .5 -.1 .5 -5.4 .5 -4 .5 7.8 .5 -6.9 .5 1.3 .5 5.4 .5 5.3 .5 -10.3 .5 1.7 .5 4.3 .5 -8.2 .5 1.8 .5 6.2 .5 -.7 .5 -3.3 .5 -6.6 .5 2.7 .5 2.4 .5 7.7 .5 7 .5 -16.8 .5 10.3 .5 -3.3 .5 -9.6 .5 8.5 .5 -7.5 .5 4.4 .5 2.5 .5 -6.9 .5 .4 .5 12.7 .5 -.4 .5 -6.5 .5 2.5 .5 -.9 .5 -6.9 .5 6.1 .5 13.5 .5 -11 .5 -.9 .5 3.5 .5 -1.2 .5 -4.9 .5 3.7 .5 4 .5 -3.6 .5 .3 .5 2.2 .5 7.7 .5 -14.5 .5 6 .5 -4.7 .5 2.9 .5 2.1 .5 -3.7 .5 9.5 .5 -17.8 .5 6.5 .5 8 .5 7.7 .5 -12.3 .5 7.9 .5 -12 .5 .7 .5 7.1 .5 -7.6 .5 5.1 .5 -3.7 .5 4.7 .5 -4.3 .5 -.7 .5 10.7 .5 -6.5 .5 2.2 .5 -1 .5 -7.9 .5 12 .5 4 .5 -3.4 .5 .9 .5 .4 .5 -8 .5 5.4 .5 -3.9 .5 -1.5 .5 9.4 .5 -2.6 .5 6.5 .5 -15.1 .5 1.2 .5 6.8 .5 7.6 .5 -5.4 .5 -9.3 .5 1.3 .5 .8 .5 3.8 .5 3.4 .5 -4.4 .5 2.6 .5 .9 .5 -8.7 .5 6.5 .5 2.3 .5 -5.8 .5 1.3 .5 2.9 .5 -.5 .5 1.7 .5 .4 .5 -.3 .5 -.8 .5 1.4 .5 .6 .5 -4.4 .5 -.9 .5 5.1 .5 -.2 .5 5.8 .5 -3.7 .5 -1.7 .5 4.9 .5 -8.2 .5 -.7 .5 4.2 .5 -2.3 .5 4.4 .5 -3.7 .5 2.9 .5 .4 .5 -4.3 .5 .7 .5 4.8 .5 -1.3 .5 2.6 .5 -5.2 .5 -4.8 .5 7.5 .5 -3.2 .5 1.3 .5 10.1 .5 -7.1 .5 -5.6 .5 1.4 .5 4 .5 4.6 .5 .7 .5 -5.5 .5 -3.3 .6 .2 .5 -.9 .5 -1.1 .5 .1 .5 1.8 .5 -1.9 .5 5.2 .5 1.4 .5 -4.9 .5 9.1 .5 -9.1 .5 13.1 .5 -11.7 .5 -.6 .5 9.2 .5 -7.7 .5 -7.8 .5 7.1 .5 4.3 .5 -4.1 .5 4.4 .5 -8.8 .5 -1.1 .5 3.5 .5 4.2 .5 1.8 .5 -6.5 .5 2.7 .5 .9 .5 -2.9 .5 .7 .5 4.8 .5 -3.4 .5 -8.5 .5 1.8 .5 9 .5 -2.6 .5 12.6 .5 -6.2 .5 -6.1 .5 7 .5 -12.2 .5 8.1 .5 .1 .5 -3.3 .5 8.1 .5 -4.1 .5 -4.5 .5 8.4 .5 -3.2 .5 0 .5 -5.8 .5 3 .5 4.9 .5 -2 .5 5.7 .5 -10 .5 -7.4 .5 9.8 .5 -1.3 .5 2.7 .5 -2.2 .5 -4.9 .5 13.6 .5 -9.8 .5 -2.7 .5 8.6 .5 -13.4 .5 7.2 .5 5.4 .5 -3.9 .5 -2.1 .5 -1.4 .5 8.5 .5 -5.3 .5 -2.3 .5 3.5 .5 -7.3 .5 13 .5 -12.8 .5 7.1 .5 3.6 .5 -5.3 .5 9 .5 -.9 .5 -7.7 .5 10.2 .5 -5.5 .5 -2.7 .5 -1 .5 .8 .5 5.4 .5 -5.7 .5 6.9 .5 -2.3 .5 -6.3 .5 6 .5 -4.1 .5 6.4 .5 -6.9 .5 5.2 .5 -5.4 .5 -.8 .5 2.5 .5 -2 .5 -2.3 .5 1.6 .5 -2.3 .5 0 .5 5.5 .5 -.8 .5 -2.5 .5 -2.2 .5 3.7 .5 -.2 .5 .6 .5 .9 .5 2.7 .5 .2 .5 -5.2 .5 -.7 .5 .1 .5 -.5 .5 9.7 .5 -5 .5 -8.3 .5 9.5 .5 -9.3 .5 -3.4 .5 12.7 .5 2.6 .5 -1.4 .5 -7.5 .5 6 .5 -5.7 .5 7.1 .5 -8.5 .5 6.7 .5 -.9 .5 -2.3 .5 3.3 .5 -1.5 .5 -3 .5 1.7 .5 -2.9 .5 .1 .5 1.9 .5 0 .5 -2 .5 -3.9 .5 6.4 .5 1.4 .5 3.2 .5 -9.6 .5 5.7 .5 7 .5 -4.1 .5 -4.2 .5 4.1 .5 2.3 .5 -5.3 .5 -2.2 .5 2 .5 2.6 .5 -6.6 .5 4.6 .5 .2 .5 1 .5 1.7 .5 -5.2 .5 -.4 .5 -3.7 .5 7.2 .5 -1.4 .5 -2.6 .5 -1.1 .5 -4.6 .5 5.5 .5 -.4 .5 7.8 .5 -6 .5 -1.2 .5 2.7 .5 4.7 .5 -11.3 .5 5 .5 3 .5 -6.2 .5 .4 .5 4.9 .5 -3 .5 7.4 .5 -6.2 .5 3.2 .5 -5.5 .5 -1.2 .5 5.4 .5 2.1 .5 -6 .5 3.7 .5 7.8 .5 -3.7 .5 -11.4 .5 7.8 .5 -2 .5 6.9 .5 -8.5 .5 11 .5 -6.8 .5 2 .5 .1 .5 .6 .5 -4.7 .5 -.4 .5 6.6 .5 -14.4 .5 12.7 .5 -3.5 .5 -4.9 .5 6.8 .5 1.7 .5 -4.2 .5 1.2 .5 .2 .5 7.8 .5 -.9 .5 -2.4 .5 -4.1 .5 5.7 .5 -5.1 .5 -6.4 .5 3.6 .5 1.1 .5 -1.6 .5 .8 .5 6.1 .5 -3 .5 -5.8 .5 4.1 .5 6.4 .5 -5.1 .5 7.4 .5 -11.1 .5 .6 .5 6.1 .5 -3.8 .5 -.5 .5 2.6 .5 1.4 .5 -2.1 .5 -.9 .5 4.8 .5 -8 .5 6.9 .5 -2.5 .5 3 .5 -6.7 .5 4.9 .5 -5.1 .5 6.7 .5 -3 .5 3.9 .5 1.9 .5 -6.6 .5 2.1 .5 2.5 .5 -4.8 .5 .4 .5 4.9 .5 -5.8 .5 1.4 .5 3.2 .5 -2.9 .5 1.5 .5 -2.2 .5 -3.5 .5 6.2 .5 -2.3 .5 7.1 .5 2 .5 -5.1 .5 3.4 .5 -3.6 .5 -3.5 .5 -2.6 .5 10.7 .5 -6.9 .5 1.7 .5 2.2 .5 -4.6 .5 2.3 .5 1.2 .5 -1.9 .5 2.4 .5 -8.6 .5 10.7 .5 -4.4 .5 .4 .5 5.2 .5 -2 .5 -7.3 .5 -4.8 .5 5.5 .5 2.5 .5 8.8 .5 -11.2 .5 -2.1 .5 4.7 .5 -2.8 .5 2 .5 1.1 .5 6 .5 -.9 .5 -2.9 .5 7.1 .5 -6.4 .5 -.2 .5 -1 .5 .2 .5 -3.8 .5 4 .5 1 .5 -1.1 .5 -5.2 .5 10.7 .5 -15.1 .5 8.2 .5 4.6 .5 -4.2 .5 3.3 .5 -2.9 .5 -1.8 .5 1.1 .5 -2.1 .5 6.7 .5 -5 .5 0 .5 .3 .5 1.8 .5 -.8 .5 .8 .5 -2.5 .5 6.7 .5 -6.1 .5 .5 .5 .1 .5 8.5 .5 -9.9 .5 .5 .5 -5.8 .5 2.4 .5 -1.5 .5 4.3 .5 -1.6 .5 9.2 .5 -4.1 .5 -4.5 .5 5.3 .5 -1.6 .5 2.6 .5 -12.3 .5 16.5 .5 -15 .5 5.3 .5 6.4 .5 -8 .5 11.4 .5 -11.2 .5 2.1 .5 -1.8 .5 1.8 .5 7.4 .5 -10 .5 -.8 .5 4.4 .5 -.2 .5 3.3 .5 -2.3 .5 -4.3 .5 -2 .5 10.1 .5 -5.3 .5 3.2 .5 3.9 .5 -6.9 .5 8.8 .5 -3.9 .5 -9 .5 5.9 .5 1.3 .5 -.6 .5 -.4 .5 1 .5 -3.2 .5 -2.8 .5 5.6 .5 -6.7 .5 3.7 .5 -2.1 .5 5 .5 -2.2 .5 4.8 .5 -5.5 .5 -.3 .5 5 .5 -1.4 .5 -8.9 .5 3.3 .5 -3.1 .5 1.1 .5 -1.5 .5 .9 .5 3.9 .5 -2.6 .5 2.9 .5 -9.6 .5 8.2 .5 -4.2 .5 .4 .5 9.3 .5 -8 .5 5.4 .5 -8.8 .5 2.4 .5 2.3 .5 -2.7 .5 -.9 .5 1 .5 -9.3 .5 6.1 .5 -2.9 .5 7.3 .5 -7 .5 2.1 .5 -.1 .5 1.9 .5 1.5 .5 -3.5 .5 -2.5 .5 2 .5 1.2 .5 3.7 .5 -1.1 .5 -.9 .5 8.6 .5 -10.4 .5 -2.3 .5 8 .5 -4.5 .5 5.2 .5 -3.5 .5 8.2 .5 -3.7 .5 -4 .5 -6.3 .5 10.5 .5 -10.1 .5 15.4 .5 -6.6 .5 -1.7 .5 1.3 .5 -.6 .5 -2.5 .5 3 .5 3.5 .5 1.1 .5 -.4 .5 -8 .5 6 .5 1.4 .5 -1.4 .5 2.4 .5 -1.6 .5 -2 .5 1.1 .5 -1.2 .5 2.3 .5 -2.3 .5 3.2 .5 -7.1 .5 5.9 .5 2.9 .5 -3.9 .5 4.2 .5 -7.6 .5 1.9 .5 -3.1 .5 3.3 .5 2.6 .5 -2.3 .5 .1 .5 2.7 .5 -4.8 .5 .2 .5 2.5 .5 4.9 .5 -2.8 .5 -6.9 .5 4.2 .5 3.6 .5 -2.7 .5 -.9 .5 2.3 .5 -5.4 .5 4 .5 1.7 .5 -1.3 .5 6.1 .5 -5.6 .5 -3 .5 3.4 .5 -6.6 .5 -1.8 .5 6.5 .5 -.1 .5 -.7 .5 4.6 .5 3 .5 -4.1 .5 5.3 .5 -4.7 .5 -.2 .5 -3.4 .6 3.9 .5 -6.2 .5 -.3 .5 8.5 .5 -2.5 .5 2.1 .5 -4.5 .5 1.9 .5 .8 .5 3.9 .5 -5.6 .5 2.4 .5 -4.2 .5 2.9 .5 -1.8 .5 1.3 .5 4.9 .5 -3.1 .5 -.1 .5 -1.6 .5 -2.7 .5 0 .5 .4 .5 1.3 .5 5.4 .5 -3.2 .5 -5.2 .5 1.8 .5 1.8 .5 -6.5 .5 8.7 .5 -6.6 .5 5 .5 -1 .5 2.9 .5 -3.6 .5 -.5 .5 -1.9 .5 5.6 .5 0 .5 6.3 .5 -7.1 .5 -.8 .5 2.9 .5 5.7 .5 -10.2 .5 4.2 .5 -3.3 .5 -4.1 .5 9.2 .5 -5.9 .5 4.8 .5 -2.6 .5 8.4 .5 -12.4 .5 -1.4 .5 11.4 .5 -6.3 .5 0 .5 .3 .5 -2.6 .5 4.9 .5 -4.6 .5 4.9 .5 -6.8 .5 6.9 .5 -4.7 .5 -2.6 .5 10.9 .5 -6.3 .5 .3 .5 1.9 .5 .1 .5 -3.1 .5 .6 .5 -.1 .5 -.3 .5 -1.4 .5 -1 .5 4.9 .5 -1.6 .5 4.4 .5 -3.4 .5 -3.6 .5 5.3 .5 -.9 .5 1.5 .5 -3.4 .5 8.2 .5 -4 .5 -2.5 .5 3 .5 -4.2 .5 .1 .5 -2.7 .5 10.8 .5 -11.2 .5 5.6 .5 .5 .5 -2.2 .5 -1.1 .5 2.8 .5 -6.9 .5 7 .5 3.2 .5 -9.2 .5 3.6 .5 3.5 .5 -9.5 .5 4.1 .5 7 .5 .4 .5 -7.1 .5 1.7 .5 -.1 .5 -1.2 .5 3 .5 -5.6 .5 9 .5 -2 .5 .8 .5 -4.9 .5 -.1 .5 -4.6 .5 13.1 .5 -10 .5 11.6 .5 -7.9 .5 -.1 .5 .3 .5 -4.7 .5 6.2 .5 .5 .5 -1.3 .5 3.6 .5 -4.1 .5 -4.9 .5 2.9 .5 -2.3 .5 7.6 .5 -2.6 .5 4.9 .5 -4.8 .5 -.7 .5 -1.6 .5 4.7 .5 -4.7 .5 2.1 .5 1 .5 1.1 .5 .1 .5 -6.1 .5 6.7 .5 -8.1 .5 3.4 .5 4 .5 .6 .5 4.8 .5 -10.4 .5 7.4 .5 -12.4 .5 12.2 .5 -2.1 .5 -2.6 .5 1.6 .5 1.1 .5 2.2 .5 -2.7 .5 2.7 .5 -3.7 .5 .3 .5 -.2 .5 -3 .5 9.9 .5 -10.2 .5 -1.4 .5 1.8 .5 6.9 .5 -2.8 .5 -4.2 .5 5.6 .5 -5 .5 3.2 .5 -3.1 .5 -1.1 .5 2.2 .5 -1.3 .5 3.2 .5 -4 .5 -2.4 .5 3.6 .5 8.2 .5 -8 .5 7.5 .5 -8 .5 -1.8 .5 .2 .5 8.2 .5 -.1 .5 -11.1 .5 7.4 .5 4.8 .5 -5.4 .5 -.9 .5 -3.2 .5 1.2 .5 2.7 .5 -6.4 .5 8 .5 -4.4 .5 4.6 .5 2.1 .5 1.3 .5 -7.9 .5 .2 .5 2.4 .5 -1.4 .5 -.1 .5 2.2 .5 -2.7 .5 5.1 .5 -.5 .5 2.8 .5 -10 .5 8.3 .5 .7 .5 -4.3 .5 1.3 .5 3.9 .5 -10.3 .5 -1.3 .5 3.3 .5 1.3 .5 3.2 .5 2.1 .5 -6.1 .5 5.3 .5 -3.1 .5 1.6 .5 3.9 .5 -10.7 .5 7.3 .5 -7.2 .5 6.2 .5 1.5 .5 2.3 .5 -4.4 .5 3.4 .5 -7.2 .5 1 .5 1.8 .5 2.9 .5 -2.6 .5 9.1 .5 -10 .5 4 .5 -.3 .5 -3.1 .5 -1 .5 4.2 .5 -1.5 .5 0" fill="none" stroke="#0b0908" stroke-width="1.4" stroke-linejoin="round"/>
<path d="M293.3 902.1l.8 2.8 .8 -.3 .8 -3.8 .8 .5 .8 -.5 .8 2.3 .8 -1.4 .8 1.7 .8 -5.6 .8 7.4 .8 -3.6 .8 1.6 .8 -1.8 .8 -.5 .8 1.8 .8 .8 .8 -2.3 .8 .1 .8 1.8 .8 -3.4 .8 -1.4 .8 4.1 .8 -2.3 .8 -2.7 .8 2.3 .8 .8 .8 -1.6 .8 -.7 .8 3.3 .8 1.8 .8 -2.4 .9 -1.1 .8 2.4 .8 .7 .8 -2.2 .8 1.8 .8 1 .8 -2.7 .8 -1.3 .8 2.5 .8 -.2 .8 1.8 .8 -5.2 .8 1.4 .8 -.4 .8 -2 .8 4 .8 .9 .8 -2.8 .8 4.6 .8 -1.2 .8 -.4 .8 -.5 .8 1.2 .8 -5 .8 4.2 .8 0 .8 -5.2 .8 4.6 .8 -1.3 .8 2.2 .8 -2.6 .8 .9 .8 .8 .8 -2.7 .8 3.2 .8 -1.5 .8 1.3 .8 -2.2 .8 3.4 .8 -1 .8 -1.7 .8 1.8 .8 1.3 .8 1.2 .8 -7.3 .8 5.3 .8 -.9 .8 -1.2 .8 -2 .8 4.9 .8 -5.4 .8 3.9 .8 1.6 .8 -6.3 .8 2.8 .8 -2.1 .8 3.3 .8 2.8 .8 1.1 .8 -8.2 .8 2.6 .8 2.7 .8 1.9 .8 -2.5 .8 -2.5 .8 2.2 .8 -.6 .8 -.4 .8 -1.2 .8 2.4 .8 -.1 .8 -.9 .8 -.3 .8 -2.3 .8 1.7 .8 3.7 .8 -3 .8 -2.7 .8 6 .8 -1.8 .8 3.5 .8 -4.5 .8 -1.1 .8 -2.1 .8 6 .8 2.6 .8 -7.3 .8 .4 .8 2.7 .8 -3.1 .8 1.2 .8 -.2 .8 1.2 .8 2 .8 -2.4 .8 2 .8 -2.9 .8 1.6 .8 -5.3 .8 1.5 .8 4.8 .8 -3 .8 2.6 .8 -.1 .8 1.7 .8 -1.1 .8 .4 .8 -2.4 .8 -1.3 .8 -.1 .8 .5 .8 -1.3 .8 1.2 .8 1 .8 .8 .8 -1.3 .8 -3.4 .8 4 .8 .7 .8 1.8 .8 -1 .8 -2.6 .8 -.2 .8 6 .8 -2.7 .8 2.3 .8 .7 .8 -6.3 .8 2.6 .8 .2 .8 .3 .8 0 .8 -.7 .8 0 .8 -3.6 .8 3 .8 -1.3 .8 2 .8 -1.2 .8 2.4 .8 .4 .8 -1 .8 .1 .8 -.5 .8 -1.1 .8 .7 .8 -.7 .8 2 .8 -.7 .8 1.2 .8 -4 .8 4.8 .8 -3.5 .8 .1 .8 1.3 .8 -.8 .8 1.9 .8 -1.8 .8 -1 .8 .5 .8 4.8 .8 -2.7 .8 -2.6 .8 2.6 .8 -3.3 .8 7.3 .8 -7.2 .8 4.4 .8 .2 .8 -4.2 .8 3.8 .8 1.5 .8 -1.1 .8 -.4 .8 1.5 .8 -1.6 .8 .4 .8 -1 .8 1.7 .8 -3.4 .8 3.8 .8 -2.8 .8 -1.2 .8 3.2 .8 2.9 .8 -1.6 .8 -3.1 .8 2.6 .8 -2.4 .8 .7 .8 .5 .8 -5.2 .8 5.5 .8 -2.6 .8 .7 .8 -1.6 .8 -.1 .8 1.3 .8 3.8 .8 1.9 .8 -3.7 .8 2.5 .8 -2.9 .8 -3.6 .8 4.5 .8 .7 .8 -1.9 .8 1.6 .8 .6 .8 -3.1 .8 -1.3 .8 2.8 .8 0 .8 -.3 .8 2.9 .8 1.6 .8 -4.6 .8 2.4 .8 .6 .8 -.5 .8 .7 .8 -3.1 .8 2.5 .8 2.7 .8 -2.6 .8 -3 .8 2.6 .8 1.4 .8 -1.9 .9 -2 .8 4.5 .8 -6 .8 3.7 .8 -1.1 .8 -2.5 .8 5.1 .8 -1.9 .8 -3.2 .8 3.7 .8 -2.2 .8 -3.2 .8 2.6 .8 2 .8 .8 .8 -1.1 .8 -.3 .8 .9 .8 -1.5 .8 2.9 .8 -2.2 .8 .2 .8 .5 .8 -3.5 .8 .7 .8 4.8 .8 -2.6 .8 -1.4 .8 1.3 .8 -1.8 .8 1.5 .8 -2.1 .8 2 .8 -4 .8 6.1 .8 -4 .8 -2.3 .8 2.8 .8 -.4 .8 1.1 .8 -2.9 .8 3.3 .8 4.6 .8 -8.3 .8 3.3 .8 -1.4 .8 1 .8 -4.4 .8 1.3 .8 3.3 .8 -1.2 .8 3.4 .8 -5.1 .8 1.8 .8 5 .8 -7.3 .8 -.5 .8 1.7 .8 -.2 .8 1.7 .8 -1.7 .8 -2.1 .8 1.9 .8 4.8 .8 -3 .8 -8.4 .8 5 .8 -1.7 .8 2.9 .8 -1.8 .8 4.2 .8 -2.3 .8 -.3 .8 -1.7 .8 -.7 .8 .6 .8 1.8 .8 -1.8 .8 -2.1 .8 3.2 .8 -2.5 .8 -.7 .8 -1.8 .8 .3 .8 -.4 .8 -4.4 .8 7.4 .8 -1.2 .8 -1.8 .8 2.4 .8 -1.6 .8 -.4 .8 -6.2 .8 4.4 .8 1.3 .8 2 .8 .2 .8 -1.1 .8 -5.8 .8 -2.5 .8 5.5 .8 -1.5 .8 1.6 .8 -2.6 .8 .4 .8 -4.1 .8 3.8 .8 -2.3 .8 1.3 .8 -.2 .8 -1.7 .8 .4 .8 -1.2 .8 1 .8 -1.1 .8 -2.9 .8 -.8 .8 4.2 .8 -4.7 .8 1.5 .8 -2.1 .8 -2.8 .8 -1.3 .8 1.1 .8 -.6 .8 -.1 .8 -5 .8 .6 .8 .1 .8 2.7 .8 -9.7 .8 5.2 .8 -3.3 .8 1.1 .8 -3.1 .8 .8 .8 1.6 .8 -3.9 .8 -1 .8 -1.3 .8 -3.7 .8 1.7 .8 -2.9 .8 -2.7 .8 .6 .8 -1.7 .8 1.2 .8 -3.2 .8 -2.5 .8 3.7 .8 -2.4 .8 -.5 .8 -2.9 .8 -3 .8 -2 .8 -.9 .8 2.1 .8 -3.4 .8 -5.6 .8 2.7 .8 -5 .8 3.1 .8 -5.1 .8 -1.5 .8 2.5 .8 -2 .8 -5.8 .8 5.2 .8 2.4 .8 -11.7 .8 7.4 .8 -8.6 .8 -1.2 .8 -1.1 .8 -5.3 .8 5.2 .8 -4.2 .8 -5.5 .8 -1.3 .8 -5.5 .8 -.4 .8 -.5 .8 -8.6 .8 -1.2 .8 -2.9 .8 -2.7 .8 -4.2 .8 -7.5 .8 -5.8 .8 -5 .8 -7.5 .8 -7.3 .8 -6.9 .8 -8 .8 -9.9 .8 -10.4 .8 -11.1 .8 -13.1 .8 -12.9 .8 -15 .8 -16.6 .8 -19.4 .8 -20.5 .8 -21 .8 -21.2 .8 -23.7 .8 -24.9 .8 -21.8 .8 -14.1 .8 -11.6 .8 -11.1 .8 -7.9 .8 -7.8 .8 -8.1 .8 -7.2 .8 -6.2 .8 -8.6 .8 -6 .8 -7.2 .8 -9.7 .8 -9.1 .8 -11.6 .8 -12.3 .8 -11.4 .8 -11.9 .8 -10.4 .8 -10.1 .8 -6.3 .9 -7 .8 -.4 .8 3.8 .8 17.7 .8 26.9 .8 32.2 .8 33.8 .8 31.6 .8 33.4 .8 39 .8 40.7 .8 38.1 .8 31.3 .8 20.5 .8 14.1 .8 12.3 .8 10.2 .8 8.6 .8 8.9 .8 7.9 .8 7.7 .8 9 .8 9.3 .8 10.9 .8 11.3 .8 10.7 .8 10 .8 6.6 .8 7.8 .8 1.7 .8 4.6 .8 1.6 .8 6.4 .8 4.3 .8 2.4 .8 2.1 .8 -2.8 .8 3.7 .8 2.6 .8 .7 .8 6.8 .8 -.6 .8 1.1 .8 2.8 .8 -2.4 .8 1.4 .8 1.2 .8 5.1 .8 .7 .8 1.8 .8 2.5 .8 -5.9 .8 3.4 .8 3.1 .8 -3.2 .8 3.5 .8 5.5 .8 1.3 .8 .9 .8 -1.9 .8 .3 .8 4.7 .8 -3.2 .8 3 .8 3.7 .8 -3.8 .8 .2 .8 2.6 .8 2.5 .8 .5 .8 0 .8 1.8 .8 -5 .8 2.8 .8 3.4 .8 -2.1 .8 -.4 .8 1.1 .8 1.5 .8 2.6 .8 -1.4 .8 3.8 .8 4.3 .8 -3.9 .8 4.1 .8 -1.8 .8 -2.8 .8 2.7 .8 -1.1 .8 4.8 .8 -4 .8 6.4 .8 -1.2 .8 -5.4 .8 7 .8 2.3 .8 -4.8 .8 4.5 .8 -5.8 .8 5.1 .8 -3.8 .8 5.3 .8 -4.6 .8 -1.4 .8 7.1 .8 4.7 .8 -6 .8 3.5 .8 -1.2 .8 -.6 .8 2.5 .8 2.7 .8 -6.1 .8 4.4 .8 -.2 .8 -3.5 .8 7 .8 1.1 .8 -6.1 .8 6.3 .8 -3.5 .8 -.1 .8 4 .8 -2.6 .8 .5 .8 3 .8 -.2 .8 -.6 .8 -4.8 .8 -.1 .8 6.3 .8 -4.3 .8 2.7 .8 -2.4 .8 2.2 .8 -2.1 .8 6.7 .8 -5.6 .8 2.3 .8 .2 .8 3.3 .8 -5.4 .8 3.4 .8 -.1 .8 2 .8 .2 .8 -1.7 .8 1.9 .8 -1 .8 2.2 .8 -.9 .8 -.8 .8 1.7 .8 1.2 .8 4.5 .8 -5.8 .8 2.1 .8 2.8 .8 -7.5 .8 1 .8 1.5 .8 2.6 .8 5.8 .8 -4.3 .8 2 .8 -3 .8 -4.8 .8 .4 .8 7.4 .8 -1.8 .8 -3.3 .8 5.3 .8 -6 .8 5.7 .8 .4 .8 -5.2 .8 -1.1 .8 3.8 .8 -4.6 .8 3.7 .8 -4.9 .8 3.9 .8 -2.1 .8 -1.6 .8 -1.4 .8 2 .8 -5 .8 3.2 .8 -.5 .8 2.1 .8 -4.4 .8 6.5 .8 -4.5 .8 -1.8 .8 5.6 .8 .7 .8 -4 .8 -1.5 .8 2.1 .8 -1.4 .8 .9 .8 4.3 .8 -2.4 .8 -.4 .8 .6 .8 -.7 .8 2.2 .8 .3 .8 -2.5 .8 1.2 .8 5.3 .8 -4.1 .8 -1.1 .8 5.1 .8 -4.2 .8 -2.1 .8 4.1 .8 -3.2 .8 1.2 .8 2 .8 -.7 .8 -1.1 .8 .7 .8 .2 .8 4.1 .8 -3.9 .8 .6 .8 5.9 .9 -5.3 .8 4.6 .8 -.1 .8 -3 .8 -2.5 .8 4.3 .8 .7 .8 .8 .8 -1.7 .8 2.7 .8 .6 .8 -5 .8 5.6 .8 -2.4 .8 -1.4 .8 .8 .8 5 .8 -1.6 .8 -5.7 .8 4.3 .8 -.2 .8 .2 .8 -.5 .8 -1.8 .8 5.3 .8 -3.7 .8 1.5 .8 -.3 .8 0 .8 3.4 .8 -.6 .8 -2.1 .8 -.4 .8 1.1 .8 3.3 .8 -1.7 .8 .3 .8 -1.1 .8 .2 .8 1.1 .8 -4.4 .8 7.5 .8 -5.2 .8 .5 .8 4.2 .8 -2.4 .8 -.4 .8 -1.3 .8 -2.1 .8 3.8 .8 2.2 .8 -4.5 .8 4.9 .8 -5.4 .8 .9 .8 2.7 .8 -1.1 .8 1.5 .8 -3.1 .8 -.6 .8 -1.8 .8 1.5 .8 .3 .8 -.7 .8 3.7 .8 -2 .8 -2.9 .8 9.7 .8 -7.1 .8 -.9 .8 5.4 .8 -.1 .8 -4.9 .8 -.6 .8 1 .8 4.7 .8 -3.1 .8 -1 .8 1.8 .8 2.7 .8 -5.5 .8 2.2 .8 -2.1 .8 7.7 .8 -.7 .8 -1.7 .8 -2.3 .8 1.8 .8 -5.8 .8 5.1 .8 -3.3 .8 .1 .8 1.4 .8 .8 .8 2.1 .8 .4 .8 -.9 .8 -2.4 .8 3.5 .8 -1.6 .8 2.9 .8 -4.4 .8 -3.5 .8 4.7 .8 5.7 .8 -3.5 .8 -1.3 .8 2.4 .8 -.7 .8 0 .8 -2 .8 1.4 .8 .4 .8 -1.7 .8 -.9 .8 2.9 .8 1.9 .8 -.6 .8 -.1 .8 .1 .8 4.6 .8 -4.8 .8 1.9 .8 2.1 .8 -3.9 .8 .7 .8 1.8 .8 1.5 .8 -2.7 .8 .3 .8 -.3 .8 -2.6 .8 5.1 .8 -2.7 .8 -2.8 .8 3.5 .8 -3.1 .8 1.7 .8 2.4 .8 -1.7 .8 4.4 .8 -5.1 .8 3.9 .8 .8 .8 2.1 .8 -.9 .8 -1.2 .8 -.1 .8 0 .8 2.8 .8 -3.6 .8 2.7 .8 -1 .8 .9 .8 -.8 .8 5.3 .8 -5.6 .8 2.1 .8 .3 .8 1 .8 -.1 .8 .2 .8 1.4 .8 -5 .8 3.4 .8 -2.4 .8 3.4 .8 -2.8 .8 .7 .8 2.1 .8 3.3 .8 -1.5 .8 -.3 .8 2.5 .8 -4.7 .8 -2.2 .8 3.7 .8 .6 .8 3.3 .8 2.2 .8 -7.1 .8 8.2 .8 -1.8 .8 -1.3 .8 -.8 .8 4.5 .8 -4.7 .8 -1 .8 1.5 .8 -3 .8 4 .8 -1 .8 1.1 .8 .2 .8 -2.8 .8 5.1 .8 -4.7 .8 4.2 .8 -5.1 .8 4.3 .8 -2.3 .8 2 .8 -1.3 .8 -3.1 .8 2.4 .8 2.7 .8 1.3 .8 -4.2 .8 -1.3 .8 2.8 .8 1.5 .8 -.7 .8 -.2 .8 3.6 .8 .4 .8 -.3 .8 -3.3 .8 2.2 .8 -.4 .8 -2.4 .8 5 .8 -1.5 .8 -1.1 .8 4.1 .8 -1.2 .8 .4 .8 .8 .8 -.8 .8 -3.9 .9 2 .8 3 .8 -3.5 .8 1.8 .8 .9 .8 2.3 .8 -.1 .8 -.7 .8 -2 .8 2.4 .8 -.6 .8 -1.2 .8 3.2 .8 -1.5 .8 -2.4 .8 4.3 .8 -2.9 .8 1.9 .8 -4.1 .8 3.2 .8 -1.7 .8 .2 .8 -1.7 .8 8.3 .8 -4.4 .8 .9 .8 1.9 .8 -2.2 .8 1.4 .8 -3.5 .8 3.2 .8 -1 .8 2 .8 -.5 .8 -2.9 .8 -.7 .8 1.8 .8 3.6 .8 -.5 .8 .1 .8 -4.5 .8 -1 .8 4 .8 .7 .8 -.4 .8 2 .8 -.8 .8 -1.9 .8 .8 .8 2.1 .8 -.1 .8 -.1 .8 4.6 .8 -4.7 .8 .8 .8 -2 .8 1.4 .8 1.8 .8 .2 .8 -1.3 .8 1.2 .8 -.5 .8 -3.6 .8 -1.2 .8 9.4 .8 -2.7 .8 -1.6 .8 -3 .8 1 .8 5 .8 -7.3 .8 4.4 .8 2.3 .8 -1.3 .8 1.3 .8 -1.6 .8 4.8 .8 -6.2 .8 -.6 .8 3.2 .8 2.2 .8 -2.7 .8 2.1 .8 -2.8 .8 -1.1 .8 4.8 .8 .4 .8 0 .8 -3.5 .8 -1.2 .8 0 .8 1.8 .8 1.5 .8 -.1 .8 -3.4 .8 3 .8 -.3 .8 .2 .8 -.1 .8 -.3 .8 1.5 .8 -.8 .8 .2 .8 -1.6 .8 2 .8 -.8 .8 -3.5 .8 4.6 .8 -1.2 .8 2.1 .8 -1.9 .8 .2 .8 .6 .8 -.4 .8 -.7 .8 -2.3 .8 6.4 .8 -5.9 .8 2.2 .8 1.8 .8 -.5 .8 .4 .8 .4 .8 .9 .8 -1.7 .8 4 .8 -6.2 .8 2.2 .8 -1 .8 -.2 .8 1.4 .8 2 .8 -3.6 .8 0 .8 2.5 .8 -.3 .8 2.4 .8 -1.5 .8 -1.4 .8 -.9 .8 1 .8 -.7 .8 -1.9 .8 2.3 .8 -.3 .8 -.1 .8 -.3 .8 3.6 .8 -1.7 .8 .5 .8 -2.6 .8 -.7 .8 1.3 .8 .9 .8 -1 .8 .3 .8 1.9 .8 -1.1 .8 -2.1 .8 1 .8 -.4 .8 1.4 .8 -2.2 .8 1.6 .8 1.5 .8 -1.1 .8 -1.5 .8 .5 .8 1.2 .8 .6 .8 .6 .8 -1.6 .8 -1.9 .8 4.5 .8 -1.8 .8 .1 .8 -.1 .8 -2.2 .8 1.2 .8 1 .8 1.2 .8 -1.5 .8 -4.3 .8 3.8 .8 1 .8 1.5 .8 -.9 .8 2.9 .8 -1.7 .8 -.1 .8 -.7 .8 -3.7 .8 3.6 .8 -.4 .8 -1.7 .8 1.8 .8 -.3 .8 -1.4 .8 .6 .8 -.2 .8 .8 .8 -1 .8 1.6 .8 -3.9 .8 2.6 .8 -2.2 .8 2 .8 1.6 .8 -.7 .8 -.2 .8 .3 .8 2.4 .8 -4.1 .8 3.2 .8 -3.8 .8 1.7 .8 1.1 .8 -1.5 .8 1.7 .8 .9 .8 -3 .8 1.8 .8 -.4 .8 -2.3 .8 2.8 .8 -.9 .8 3.4 .8 -3.4 .9 4.1 .8 -3.4 .8 3.9 .8 -2.1 .8 0 .8 .6 .8 .2 .8 .9 .8 .6 .8 -3.2 .8 -1.3 .8 -2 .8 3.5 .8 1.8 .8 -.5 .8 -.3 .8 -.7 .8 -.4 .8 .7 .8 1.1 .8 -3.3 .8 3.9 .8 -3.3 .8 2.1 .8 -.7 .8 .5 .8 -1 .8 -.1 .8 1.5 .8 -1.3 .8 5.5 .8 -4.4 .8 -.3 .8 .2 .8 -.8 .8 -2 .8 3.4 .8 .9 .8 -2.8 .8 2.4 .8 -1.9 .8 1.8 .8 .7 .8 .2 .8 -.1 .8 -1.7 .8 2.5 .8 -2 .8 1.2 .8 .6 .8 -1.5 .8 -1.5 .8 2.9 .8 -2.6 .8 .4 .8 -.3 .8 2.9 .8 -1.4 .8 -3.1 .8 4.4 .8 2.1 .8 -.4 .8 -3.5 .8 .9 .8 .7 .8 .6 .8 -1.3 .8 -1.6 .8 2.7 .8 -.2 .8 -2.8 .8 1.4 .8 1 .8 -.4 .8 .8 .8 .4 .8 -.4 .8 -1 .8 -1.8 .8 2.9 .8 1.2 .8 .8 .8 -2.9 .8 0 .8 2.2 .8 -.1 .8 -1.6 .8 .6 .8 -2.2 .8 1.9 .8 -2 .8 .9 .8 0 .8 -.5 .8 -2.4 .8 1.8 .8 1.7 .8 -.6 .8 -.6 .8 1.1 .8 .4 .8 .1 .8 -2.5 .8 1.1 .8 -.6 .8 -1 .8 -1 .8 1.8 .8 -1.4 .8 4.1 .8 -3.5 .8 -.6 .8 -.7 .8 2.7 .8 -4.6 .8 .4 .8 -1.7 .8 -.1 .8 -.9 .8 .6 .8 -4.3 .8 1.3 .8 2.2 .8 -3 .8 .7 .8 -.6 .8 -1.9 .8 4.1 .8 2.3 .8 -1.6 .8 -1.3 .8 3.5 .8 .3 .8 1.8 .8 .3 .8 -1.2 .8 1.4 .8 -2.8 .8 4.5 .8 -1 .8 1.5 .8 .2 .8 -1.7 .8 .4 .8 -.8 .8 -1.6 .8 2.9 .8 .6 .8 -1.7 .8 2.7 .8 -.8 .8 .6 .8 -1.6 .8 -1.3 .8 3.6 .8 -.1 .8 -1 .8 -.4 .8 .3 .8 .3 .8 -.5 .8 -2.1 .8 4 .8 -3.2 .8 1.7 .8 .1 .8 .8 .8 -2.6 .8 4 .8 -.7 .8 .2 .8 .7 .8 -2.8 .8 -2.5 .8 4.1 .8 1.4 .8 -.1 .8 -2.4 .8 .7 .8 .6 .8 -2.9 .8 1.6 .8 .1 .8 3.1 .8 -3 .8 3.1 .8 -2.1 .8 -2.3 .8 5.5 .8 -4.4 .8 2.2 .8 1.6 .8 -3.1 .8 -.9 .8 3.2 .8 -1.3 .8 -1.7 .8 .2 .8 1.1 .8 1.9 .8 -1.7 .8 1.4 .8 1.4 .8 -.5 .8 .3 .8 -.2 .8 -3.9 .8 4 .8 -1.2 .8 -.6 .8 -1.3 .8 -.6 .8 .7 .8 1.6 .8 -1.6 .8 .6 .8 .3 .8 1.8 .8 -1.3 .8 .3 .8 2 .8 -2.2 .8 1.3 .8 -2.2 .8 1.9 .8 -.2 .8 .1 .8 -.8 .9 -.8 .8 1.1 .8 -.2 .8 2.1 .8 -.2 .8 -2.8 .8 2.5 .8 -1.5 .8 1.3 .8 -1.2 .8 -1.3 .8 3.4 .8 -.7 .8 -2.3 .8 -.9 .8 1.9 .8 -.8 .8 1.1 .8 1.4 .8 1.1 .8 -2.4 .8 2.4 .8 -.3 .8 -2.1 .8 -1.7 .8 3.5 .8 -.3 .8 2.4 .8 -1.3 .8 -.8 .8 1.2 .8 -3.6 .8 1.7 .8 -.6 .8 2.7 .8 -1.5 .8 -4.3 .8 5.4 .8 -3 .8 2.3 .8 -1.7 .8 1 .8 .6 .8 -.6 .8 -1.5 .8 3.2 .8 -1.3 .8 -.6 .8 1 .8 -1.6 .8 3.2 .8 -2.1 .8 .2 .8 0 .8 -1.7 .8 -.3 .8 1.9 .8 .2 .8 1.3 .8 -1.1 .8 -2.1 .8 2.2 .8 .4 .8 .3 .8 -.9 .8 -2 .8 3.2 .8 -2.5 .8 1.7 .8 -2.8 .8 3.1 .8 -2 .8 2.5 .8 .9 .8 -.7 .8 -3.1 .8 .3 .8 .1 .8 2.1 .8 -.4 .8 -.3 .8 .3 .8 .3 .8 .2 .8 1.3 .8 -2.2 .8 .3 .8 -2.7 .8 .8 .8 .8 .8 -.6 .8 1.8 .8 1.1 .8 -1.9 .8 0 .8 0 .8 .8 .8 -.8 .8 1.2 .8 -.1 .8 .1 .8 .5 .8 -.9 .8 .2 .8 2.1 .8 -2.4 .8 1.2 .8 -1 .8 -.7 .8 .1 .8 -.5 .8 1.1 .8 -.8 .8 .3 .8 2.1" fill="none" stroke="#0b0908" stroke-width="4.3" stroke-linejoin="round"/>
<path d="M293.3 899.3l.5 -1.3 .5 4.6 .5 -3.8 .5 3.9 .5 10.9 .5 -9.6 .5 1.6 .5 -10.6 .5 2.5 .5 8.2 .5 -8.5 .5 .2 .5 6.4 .5 -4.2 .5 7.6 .5 -9.7 .5 8.5 .5 -15.1 .5 6.6 .5 -2.2 .5 7.3 .5 -8.1 .5 12 .5 -9.6 .5 9.4 .5 -4.8 .5 5.1 .5 .5 .5 -8.3 .5 3.5 .5 2.9 .5 -2.8 .5 10.4 .5 -5 .5 -7.6 .5 -7.4 .5 8.6 .5 6.7 .5 -8.1 .5 -.6 .5 .3 .5 6.8 .5 1.7 .5 -15.9 .5 12.7 .5 -6.2 .5 -4.5 .5 11.8 .5 -7 .5 -.5 .5 2.5 .5 -4.4 .5 7.7 .5 -6.2 .5 12.6 .5 -6.7 .5 -4.7 .5 .6 .5 -3.7 .5 7.8 .5 .3 .5 -12.1 .5 9.7 .5 2.7 .5 1 .5 -6.3 .5 -3.3 .5 5.2 .5 3.6 .5 .5 .5 -1.8 .5 -3.5 .5 -2.8 .6 -3.2 .5 9.2 .5 -4.2 .5 3.4 .5 11.1 .5 -19.1 .5 12.9 .5 -10.4 .5 2.8 .5 -1.5 .5 3.3 .5 4.6 .5 -1.5 .5 5.4 .5 -10.7 .5 7.1 .5 -6.7 .5 -2 .5 4 .5 -7 .5 12.9 .5 1 .5 -8.6 .5 -4.8 .5 9.5 .5 -2.3 .5 2.8 .5 -7.2 .5 5.3 .5 1.7 .5 7.2 .5 -14.1 .5 8 .5 -6.4 .5 3.1 .5 7.1 .5 -14.9 .5 -4.9 .5 11.1 .5 -1 .5 13.2 .5 -19 .5 16.8 .5 -9.9 .5 4.7 .5 -7.2 .5 -4.7 .5 6.2 .5 5.5 .5 -7 .5 -2 .5 13.1 .5 -21.5 .5 11.8 .5 3 .5 -7 .5 2.6 .5 6 .5 -3.9 .5 -6.9 .5 7.1 .5 -12.4 .5 16.3 .5 .8 .5 -1.7 .5 1.5 .5 -3.9 .5 -8.5 .5 4.4 .5 3.9 .5 5.2 .5 -5.4 .5 12.1 .5 -16.9 .5 9.4 .5 -17.1 .5 15 .5 -7.2 .5 7.5 .5 -4.3 .5 -1.8 .5 4.8 .5 3.5 .5 -.4 .5 5.2 .5 -12 .5 2.5 .5 -3.9 .5 4.6 .5 3.4 .5 2.7 .5 -7.2 .5 -7.6 .5 5 .5 3.1 .5 1.7 .5 2.4 .5 1.7 .5 -9 .5 -2.7 .5 -7.4 .5 13 .5 8.1 .5 -8.3 .5 6.3 .5 -11.7 .5 2.8 .5 1.3 .5 -3 .5 .5 .5 5.2 .5 -1.7 .5 3.5 .5 -1.8 .5 .6 .5 -7 .5 2.8 .5 .9 .5 7 .5 -7 .5 -.9 .5 -1.1 .5 7.7 .5 -7.2 .5 -1.9 .5 -1.1 .5 .4 .5 9.9 .5 -10.3 .5 10.1 .5 7.9 .5 -13.5 .5 5.5 .5 4.2 .5 -14 .5 5.1 .5 12.7 .5 -10.8 .5 1.4 .5 3.3 .5 -8.6 .5 2.4 .5 .2 .5 12.1 .5 -8.9 .5 -9.9 .5 12.3 .5 -6.1 .5 1.2 .5 -.6 .5 -3.2 .5 7.6 .5 -11.1 .5 10.2 .5 2.5 .5 .1 .5 -5.7 .5 4.8 .5 -.4 .5 -3.7 .5 4 .5 -11.6 .5 11.6 .5 -.3 .5 -10.5 .5 4.9 .5 4.2 .5 -11.9 .5 5.5 .5 3.9 .5 2.6 .5 4.8 .5 -4.3 .5 -11 .5 -.5 .5 .7 .5 5.6 .5 1.2 .5 -6.7 .5 3.2 .5 5.2 .5 2.5 .5 2.1 .5 -9.6 .5 6.9 .5 -12 .5 5.7 .5 4.1 .5 -3.5 .5 -1.6 .5 1.3 .5 1.5 .5 2.7 .5 2.8 .5 -8.4 .5 -1 .5 7.7 .5 -3.6 .5 -1.5 .5 1.7 .5 2.1 .5 -7.8 .5 8.4 .5 -9 .5 .4 .5 5.4 .5 2.8 .5 -3.6 .5 3.2 .5 .6 .5 3 .5 6.9 .5 -12 .5 -.3 .5 -1.6 .5 7.8 .5 -9.2 .5 1.5 .5 -9.5 .5 12.8 .5 -6.9 .5 5.5 .5 8.4 .5 -5.6 .5 -2.6 .5 -9.8 .5 15.7 .5 -9.2 .5 .4 .5 .9 .5 -2.4 .5 -3.7 .5 8.1 .5 .7 .5 1 .5 1.2 .5 3.4 .5 -3.2 .5 -2.7 .5 .5 .5 -.3 .5 4.6 .5 .3 .5 -1.2 .5 -12.7 .5 15.9 .5 -5.4 .5 -2.4 .5 6.6 .5 6 .5 -7.3 .5 -4 .5 -.5 .5 5 .5 -3.6 .5 -2.3 .5 4.8 .5 1.6 .5 -1.1 .5 -3.4 .5 3.3 .5 -2.1 .5 1.7 .5 6.9 .5 -8.6 .5 .2 .5 8.6 .5 -5 .5 -13 .5 -1.4 .5 9.2 .5 4.7 .5 -5.2 .5 7 .5 -7.2 .5 7.4 .5 -7.1 .5 .2 .5 -10.8 .5 11 .5 3.2 .5 4.6 .5 -.8 .5 -6.1 .5 4.2 .5 .9 .5 -14.4 .5 9.8 .5 5.5 .5 2.3 .5 -11.5 .5 1.1 .5 4.7 .5 1.5 .5 -1.2 .5 .8 .5 -2.6 .5 -4.2 .5 -2.6 .5 0 .5 6.3 .5 -5.1 .5 2.2 .5 -7.8 .5 10.3 .5 -2.6 .5 9.2 .5 -11.4 .5 3.9 .5 4.4 .5 9.6 .5 -15.2 .5 -.9 .5 5.7 .5 -.9 .5 -1.1 .5 -.6 .5 4.6 .5 -12 .5 -4.4 .5 8.2 .5 4.8 .5 6.2 .5 -7.3 .5 -1.9 .5 10 .5 -14.2 .5 3.4 .5 9.8 .5 -8.4 .5 -5.7 .5 8.2 .5 -.9 .5 7.3 .5 -11.1 .5 4.5 .5 3 .5 -10.6 .5 10.1 .5 -4.7 .5 9.6 .5 -11.9 .5 6.5 .5 1.5 .5 1.5 .5 3.5 .5 -13.8 .5 6.7 .5 -3.2 .5 -.7 .5 -1.3 .5 .4 .5 8.2 .5 -4.2 .5 6.1 .5 -6.9 .5 5.6 .5 -13.1 .5 10.7 .5 -4.2 .5 4.6 .5 2 .5 -6.2 .5 -1.1 .5 -3.4 .5 8.8 .5 -3.1 .5 -10.4 .5 15.1 .5 -5.2 .5 -6.1 .5 7.4 .5 6.5 .5 -5.4 .5 -3.5 .5 3.1 .5 -.2 .5 3.9 .5 4.2 .5 -13.5 .5 6.4 .5 7.6 .5 1 .5 -7.8 .5 -15.3 .5 9.4 .5 -1.8 .5 .5 .5 1.8 .5 3.7 .5 -3.6 .5 1.6 .5 -6.1 .5 -.5 .5 16.2 .5 -19 .5 6.5 .5 8.9 .5 -9.8 .5 -3.7 .5 8.1 .5 -.2 .5 10.3 .5 -17.3 .5 6.7 .5 .9 .5 -11.8 .5 13.4 .5 -.4 .5 -5 .5 -3.3 .5 -7.7 .5 9.2 .5 -.4 .5 1.9 .5 -1 .5 -2.4 .5 10.4 .5 2.5 .5 -10.2 .5 -3.3 .5 -.8 .5 11.8 .5 -8.6 .5 -.2 .5 6.1 .5 -15.1 .5 17.4 .5 .1 .5 -7.3 .5 -6.3 .5 11.6 .5 -.8 .5 -.8 .5 -6.2 .5 5.2 .5 5.3 .5 -11.6 .5 12.7 .5 -17.7 .5 6.8 .5 9.5 .5 -1.2 .5 -11.9 .5 7.7 .5 5.8 .5 -8.5 .5 6.2 .5 -2.1 .5 4 .5 -19.2 .5 16.7 .5 -4.5 .5 -8.4 .5 1 .5 3.1 .5 -3.5 .5 3.8 .5 -4.7 .5 -7.2 .5 14.9 .5 -6.9 .5 8.2 .5 -4.8 .5 3.5 .5 -3.6 .5 -.1 .5 -2.3 .5 .8 .5 4.4 .5 0 .5 -7.5 .5 5.4 .5 1.9 .5 -6.2 .5 -1.3 .5 9.5 .5 -11.7 .5 8.4 .5 -3.3 .5 -5.5 .5 3.5 .5 1.1 .5 1 .5 .4 .5 -4 .5 13.7 .5 -8.8 .5 -10 .5 9.4 .5 -10.4 .5 1.4 .5 12.7 .5 .2 .5 -9.5 .5 4 .5 .9 .5 -.5 .5 1.1 .5 -6.6 .5 6.9 .5 -10.1 .5 11.9 .5 -9.8 .5 -2.9 .5 7.2 .5 .8 .5 7.3 .5 -8.4 .5 7.4 .5 -8.7 .5 -4.2 .5 -2.7 .5 .3 .5 10.2 .5 -5.9 .5 -5.3 .5 3.2 .5 3.2 .5 -6.1 .5 -1.8 .5 13.4 .5 -2.1 .6 -7.4 .5 -4.6 .5 2.6 .5 6 .5 -11.8 .5 4.5 .5 .8 .5 -6.9 .5 4.1 .5 5.5 .5 -2.6 .5 3.4 .5 -15.2 .5 18.7 .5 -7.7 .5 9.3 .5 -.5 .5 -14 .5 3 .5 .7 .5 -4.3 .5 2.6 .5 .7 .5 -1.1 .5 -.9 .5 -5.6 .5 6.6 .5 -.5 .5 -9.5 .5 8.7 .5 -15.3 .5 4 .5 6.9 .5 1.8 .5 -5.1 .5 -6.9 .5 8.3 .5 -3.7 .5 -.6 .5 -5.4 .5 8.8 .5 .4 .5 -.9 .5 5 .5 -18.1 .5 -.7 .5 14.9 .5 -.5 .5 -3 .5 -16.3 .5 9.9 .5 -17.1 .5 7.9 .5 -2.6 .5 9.4 .5 -11.3 .5 3.2 .5 5.2 .5 -7.5 .5 .2 .5 3.3 .5 -10.4 .5 11.2 .5 -7.7 .5 -3.2 .5 5.6 .5 4.8 .5 -4 .5 -3.7 .5 -3.1 .5 2.7 .5 4.8 .5 -8.7 .5 2.4 .5 -.1 .5 .8 .5 -7.7 .5 2.2 .5 6.2 .5 -.8 .5 -14.1 .5 11.8 .5 -12.1 .5 4.9 .5 2.8 .5 -9.2 .5 17 .5 -25.8 .5 5.9 .5 9.2 .5 6.1 .5 -15.1 .5 1.3 .5 -10.8 .5 17.3 .5 -9.7 .5 -10.1 .5 -.2 .5 7.2 .5 -5.4 .5 2.2 .5 -11 .5 0 .5 5.8 .5 4.4 .5 -7.6 .5 -.7 .5 -6.5 .5 -2.8 .5 1.4 .5 .9 .5 -9.5 .5 -1 .5 2 .5 -5.3 .5 -2.5 .5 6.2 .5 -6.9 .5 -4.9 .5 -7.9 .5 -2.8 .5 -.5 .5 -5.1 .5 -.6 .5 -9.8 .5 1.3 .5 -2.2 .5 -7.6 .5 -7.9 .5 -6.6 .5 -5 .5 -2.2 .5 -6.2 .5 -7.2 .5 -6.3 .5 -8.3 .5 -7.4 .5 -8.3 .5 -8.2 .5 -9.4 .5 -11 .5 -10.8 .5 -12.2 .5 -12.5 .5 -12.6 .5 -13.5 .5 -13.5 .5 -12.8 .5 -14.5 .5 -15.3 .5 -15.8 .5 -15 .5 -12.1 .5 -10.7 .5 -6.2 .5 -7.9 .5 -6.3 .5 -5.9 .5 -5.1 .5 -5.5 .5 -5 .5 -5.8 .5 -1.4 .5 -6 .5 -4.5 .5 -4.5 .5 -2.6 .5 -10.5 .5 -.6 .5 -7.1 .5 -2.8 .5 -6.9 .5 -4 .5 -7.2 .5 -7.5 .5 -5.9 .5 -8.1 .5 -9 .5 -6.5 .5 -5.6 .5 -8.6 .5 -8 .5 -2.7 .5 -3.6 .5 -5 .5 -3.1 .5 -3.7 .5 -2.9 .5 -2.1 .5 10 .5 10.6 .5 14.5 .5 17.8 .5 20 .5 20.8 .5 21.2 .5 20.6 .5 18.9 .5 20.7 .5 23.5 .5 24.8 .5 25.6 .5 25.1 .5 23.4 .5 21.1 .5 17.6 .5 12.9 .5 9.7 .5 8.7 .5 7.3 .5 7.5 .5 5.2 .5 7.5 .5 4.6 .5 5 .5 4.9 .5 2.8 .5 5.9 .5 5.4 .5 4.6 .5 8 .5 6 .5 6.6 .5 7.3 .5 6.1 .5 7 .5 7.3 .5 5.5 .5 3.5 .5 10.3 .5 2.6 .5 -4.6 .5 10.7 .5 6.1 .5 -6.8 .5 3.6 .5 9.2 .5 -3.6 .5 -2.3 .5 2 .5 2.8 .5 -5.5 .5 6.6 .5 2.9 .5 1.6 .5 -2.9 .5 6.6 .5 -5.3 .5 8.2 .5 1.2 .5 4.1 .5 3.8 .5 -1.1 .5 -6.2 .5 14.6 .5 -1.2 .5 -12.8 .5 .3 .5 4.4 .5 18.8 .5 -28.3 .5 13.4 .5 -7.4 .5 9.4 .5 -8.9 .5 11.7 .5 7.2 .5 -10.3 .5 7 .5 -3.1 .5 -2.6 .5 7.2 .5 -.9 .5 -4 .5 10.6 .5 4 .5 -14 .5 17.2 .5 -22.6 .5 11.6 .5 12.2 .5 -10.4 .5 3.4 .5 10.6 .5 -7.8 .5 1.8 .5 .5 .5 -11.9 .5 5 .5 1.5 .5 2.7 .5 -3.3 .5 -1.4 .5 2.3 .5 7 .5 11.3 .5 -17.4 .5 1.5 .5 10.6 .5 1.4 .5 8.3 .5 -15 .5 -1.1 .5 -2.6 .5 -6 .5 5.2 .5 8 .5 -4.4 .5 3.6 .5 -10.7 .5 8.9 .5 -7.3 .5 3.1 .5 5.2 .5 -.4 .5 4.3 .5 -5.2 .5 1.6 .5 1.6 .5 -5.3 .5 22.6 .5 -.3 .5 -9.6 .5 -2.1 .5 -2.7 .5 2.1 .5 5.3 .5 -.4 .5 3.2 .5 -18.4 .5 15.1 .5 -8.7 .5 -5.2 .5 12.9 .5 -.6 .5 -2.3 .5 5 .5 -3.7 .5 -2 .5 5.5 .5 11.4 .5 -9.9 .5 -4.1 .5 3.6 .5 7.6 .5 -15.8 .5 13.3 .5 -2.4 .5 -4 .5 5.3 .5 3 .5 -4.1 .5 -3.6 .5 -.7 .5 4.4 .5 8.1 .5 2.4 .5 -10.7 .5 10 .5 -12.3 .5 6.2 .5 .5 .5 4.8 .5 -8.5 .5 -9.5 .5 10.7 .5 4.5 .5 -6.8 .5 11.1 .5 -9.2 .5 2.8 .5 -6.7 .5 14.1 .5 -6.1 .5 -10.5 .5 2.1 .5 15 .5 -9.3 .5 2.4 .5 .1 .5 3.1 .5 -11.3 .5 4.6 .5 14.2 .5 -13.2 .5 3 .5 2.8 .5 6.1 .5 -3.1 .5 -8.4 .5 5.5 .5 9.8 .5 -19.1 .5 -2.5 .5 11.4 .5 -2.7 .5 2.2 .5 9.8 .5 -15.4 .5 14.8 .5 -11.6 .5 6.1 .5 9.5 .5 -11.1 .5 3.6 .5 -3.4 .5 5.9 .5 -4.2 .5 2.6 .5 -1.9 .5 -4 .5 7.8 .5 2.2 .5 5.7 .5 -6.9 .5 -3.8 .5 -7.5 .5 8.6 .5 -2.7 .5 3 .5 5.8 .5 -6.8 .5 -11.2 .5 12.9 .5 -.9 .5 -5.4 .5 4 .5 -5.4 .5 5 .5 1.9 .5 3.8 .5 1.2 .5 9.2 .5 -4.5 .5 -1.1 .5 .9 .5 -3.1 .5 1.5 .5 -.8 .5 .2 .5 -6.4 .5 3.6 .5 -.3 .5 -3.2 .5 7 .5 -12 .5 8.7 .5 -2.6 .5 9.3 .5 3 .5 -5.6 .5 -9.5 .5 9.3 .5 -6.4 .5 4.7 .5 -6.6 .5 -4.6 .5 9.5 .5 -2.4 .5 9.4 .5 -10.2 .5 13.3 .5 -12.1 .5 -1.8 .5 -2.2 .5 -.2 .5 4.4 .5 3.8 .5 -3.4 .5 -4.4 .5 3.4 .5 -.3 .5 2.7 .5 .4 .5 -12.2 .5 5.2 .5 6.5 .5 -4.5 .5 -2.3 .5 -3.2 .5 4.2 .5 -4.7 .5 6.1 .5 9.2 .5 -13.7 .5 1.1 .5 5.7 .5 -11.8 .5 6.2 .5 1.2 .5 -1.3 .5 -3.2 .5 6.6 .5 1.9 .5 -6.8 .5 9.4 .5 -.6 .5 -13.4 .5 6.6 .5 -8.6 .5 11.5 .5 -9.6 .5 8.2 .5 -6.4 .5 14.1 .5 -10.5 .5 -.6 .5 8 .5 2.9 .5 -5.2 .5 -3.7 .5 10.1 .5 -1.7 .5 -13 .5 -4 .5 -1.5 .5 6.3 .5 7.6 .5 9 .5 -7.5 .5 -2.2 .5 2.4 .6 -9.2 .5 .9 .5 8.3 .5 2.9 .5 .8 .5 -5.8 .5 -2.5 .5 -.3 .5 11.3 .5 .2 .5 -7.5 .5 -1.7 .5 -.1 .5 -2.4 .5 3 .5 -.2 .5 -6.9 .5 14.1 .5 -1.5 .5 -14.9 .5 12 .5 5.3 .5 -8.5 .5 7.6 .5 -3.7 .5 1.3 .5 -.2 .5 -1.7 .5 -2.1 .5 4.2 .5 6.7 .5 -11.9 .5 -2.5 .5 2.7 .5 8.1 .5 -.5 .5 -9.6 .5 5.6 .5 -1.9 .5 -2.8 .5 10.9 .5 .5 .5 1.6 .5 -.8 .5 -9.7 .5 1.7 .5 15.6 .5 -5.9 .5 -6.7 .5 4.5 .5 -4.9 .5 3.5 .5 -3.6 .5 2.2 .5 6.2 .5 -3 .5 -6.4 .5 9 .5 -5 .5 2.9 .5 5.3 .5 -4.1 .5 -2.8 .5 4.7 .5 -3.5 .5 -2.5 .5 -1.8 .5 -.1 .5 9.7 .5 -1.9 .5 3 .5 -10.6 .5 1.7 .5 7 .5 5.8 .5 -13.5 .5 6.1 .5 1.6 .5 5.7 .5 -5 .5 1.6 .5 3.4 .5 -9.1 .5 -.8 .5 5.3 .5 -8.3 .5 10.2 .5 -8 .5 2.4 .5 1 .5 5.9 .5 -13.6 .5 3.7 .5 9 .5 -1 .5 -4.3 .5 8 .5 -6.1 .5 -11.6 .5 14.5 .5 -3.1 .5 -10 .5 18.7 .5 -7.2 .5 -10.5 .5 10.7 .5 .9 .5 -10.8 .5 9.7 .5 -14.3 .5 8 .5 -1.2 .5 -1.5 .5 6.5 .5 1.1 .5 4.3 .5 -12.6 .5 5.7 .5 -7.9 .5 6.7 .5 -2.1 .5 5 .5 -5.2 .5 3.5 .5 6.1 .5 -.3 .5 -4.6 .5 1.7 .5 -.8 .5 -.8 .5 2.6 .5 -3.8 .5 -3.4 .5 -.4 .5 7.4 .5 -.2 .5 -8.5 .5 18.2 .5 -16.7 .5 1.8 .5 .7 .5 .7 .5 6.8 .5 -7.3 .5 5.6 .5 -2 .5 -3.8 .5 9.4 .5 -7.8 .5 10.5 .5 -8.3 .5 5.9 .5 1.6 .5 -14.6 .5 7.4 .5 -3.8 .5 2.4 .5 3.7 .5 -12.4 .5 11.6 .5 -11.5 .5 14.9 .5 2.8 .5 -2.2 .5 -1.2 .5 -4.6 .5 -3.3 .5 .5 .5 14.6 .5 -15.6 .5 2.8 .5 -2.8 .5 -9 .5 6.4 .5 7 .5 -1.2 .5 2.3 .5 -7.3 .5 2.9 .5 -2.3 .5 -2.2 .5 12.1 .5 -.5 .5 -1.6 .5 .4 .5 2.1 .5 -.2 .5 -2.3 .5 1.4 .5 -4.1 .5 -4.1 .5 7.1 .5 -12.7 .5 4.2 .5 13.8 .5 4.9 .5 -20.8 .5 16.1 .5 -11.6 .5 5.3 .5 .9 .5 -1.5 .5 -1.1 .5 4.8 .5 0 .5 8.6 .5 -15.8 .5 -4.3 .5 7.1 .5 .1 .5 -1.4 .5 2.3 .5 .3 .5 -2.8 .5 8.3 .5 -6.2 .5 -2.5 .5 2.1 .5 4.3 .5 -5 .5 .6 .5 -3.7 .5 11.3 .5 5.8 .5 -12.4 .5 -2.7 .5 4.4 .5 -2.9 .5 3.8 .5 1 .5 2 .5 -8.1 .5 -3.4 .5 8.3 .5 6.7 .5 -4.6 .5 -2.2 .5 .3 .5 -3.2 .5 8.7 .5 .2 .5 4.8 .5 -7.8 .5 -4 .5 14.7 .5 -14 .5 .6 .5 8.3 .5 -18.8 .5 .1 .5 12 .5 -4.4 .5 10.9 .5 -2.1 .5 -2.3 .5 -8.6 .5 .3 .5 5.6 .5 -10.1 .5 16 .5 2.7 .5 -7.1 .5 -5.9 .5 13.6 .5 -8.8 .5 5.2 .5 1 .5 -2.8 .5 -6 .5 -.4 .5 3.8 .5 5.4 .5 1.8 .5 -8.8 .5 1.6 .5 3 .5 4.3 .5 .1 .5 -6.1 .5 6.7 .5 8.4 .5 -8.1 .5 .3 .5 -3.9 .5 .2 .5 11.8 .5 -13.4 .5 -.1 .5 2 .5 1.1 .5 -7.7 .5 1.9 .5 4.6 .5 -3.2 .5 6.4 .5 4.4 .5 -11.8 .5 3.2 .5 7.5 .5 -10.8 .5 13.7 .5 -7.5 .5 9.9 .5 -12.4 .5 11.8 .5 -6.3 .5 -7.1 .5 2.8 .5 -.2 .5 -3.3 .5 6.8 .5 -.4 .5 2.1 .5 -2.3 .5 2.5 .5 -13.8 .5 8.4 .5 2.6 .5 -7.6 .5 1.9 .5 2.1 .5 4 .5 13.7 .5 -7.4 .5 3.2 .5 -7.9 .5 -2.1 .5 -.1 .5 -2.8 .5 6 .5 12 .5 -21 .5 5.9 .5 1.5 .5 14.1 .5 -3.7 .5 -12.1 .5 5.8 .5 5.1 .5 -1.2 .5 -5.9 .5 .3 .5 2.6 .5 -5.8 .5 6 .5 -2.5 .5 3.5 .5 -6.9 .5 6.6 .5 -12.7 .5 8.1 .5 6.3 .5 -3.8 .5 -3.1 .5 1.2 .5 .8 .5 0 .5 .4 .5 -10.6 .5 16.7 .5 -16.6 .5 14.1 .5 1.4 .5 -12.6 .5 15 .5 6.7 .5 -12.6 .5 -.8 .5 3.1 .5 .1 .5 -7.9 .5 8 .5 -9.3 .5 3.3 .5 -5.7 .5 9.2 .5 -.1 .5 1.7 .5 -.9 .5 1.9 .5 -6.8 .5 7.1 .5 1.1 .5 2.4 .5 6.9 .5 -16.9 .5 3.6 .5 -1.1 .5 10.2 .5 -7.9 .5 2.1 .5 -3.1 .5 -.9 .5 -2 .5 8.6 .5 -5.3 .5 5.3 .5 -5.2 .5 1.4 .5 9.2 .5 -6.6 .5 -5.8 .5 8 .5 -7.4 .5 6 .5 1.1 .5 4.5 .5 -8.2 .5 5.5 .5 -.3 .5 4.2 .5 -7.7 .5 .9 .5 -5.7 .5 8.4 .5 -.2 .5 5.1 .5 -2.6 .5 7 .5 .1 .5 -11.7 .5 9.1 .5 -11.2 .5 2.8 .5 3 .5 -2.6 .5 -4.8 .5 4.5 .5 2.4 .5 -.4 .5 -10.3 .5 7.8 .5 -3.4 .5 1.5 .5 5.2 .5 4.6 .5 -5.7 .5 6.2 .5 -3.7 .5 -6.8 .5 -.9 .5 5.8 .5 -.9 .5 6.8 .5 -9.6 .5 .7 .5 .5 .5 9.3 .5 -8 .5 -.5 .5 3.9 .5 -6 .5 10.5 .5 -3.7 .5 -8.5 .5 -1.9 .5 12.4 .5 5.5 .5 -8.9 .5 .6 .5 .7 .5 -5.5 .5 1.1 .5 7.6 .5 -4.6 .5 -4.1 .5 5.5 .5 -8.5 .5 1.9 .5 2.2 .5 2.3 .5 -1.7 .5 3.5 .5 -.5 .5 3.4 .5 -11 .5 16 .5 -4 .5 -1.5 .5 -1 .5 -3.7 .5 -3.8 .5 9.4 .5 3.3 .5 -16.7 .5 9.5 .5 1.3 .5 9.1 .5 -7.6 .5 -5.9 .5 0 .5 2.5 .5 6.1 .5 -10.2 .5 1.5 .5 5.4 .5 -4 .5 6.2 .5 1.5 .5 -.4 .5 -4.5 .5 -3.5 .5 9.4 .5 -4.3 .5 4 .5 -5.7 .5 6 .5 -6.6 .5 5.4 .5 -11.5 .5 13.1 .5 3.7 .5 -2.9 .5 3.4 .5 -7.5 .5 5.3 .5 .3 .5 1.6 .5 -12.9 .5 9.2 .5 3.6 .5 -11.5 .5 -.4 .6 2 .5 3 .5 -3.6 .5 -1.5 .5 5.2 .5 -5.1 .5 7.6 .5 -5.3 .5 -5.7 .5 3.9 .5 2.8 .5 1.1 .5 3.3 .5 -6.4 .5 9 .5 -11.7 .5 15.2 .5 -5.4 .5 -3.6 .5 -.2 .5 3 .5 -.2 .5 -3.8 .5 9.3 .5 -9.9 .5 -6.9 .5 18.3 .5 -11.5 .5 4.6 .5 3.3 .5 -1.4 .5 -2 .5 5.2 .5 -5 .5 1.6 .5 -2.8 .5 .5 .5 -2.1 .5 .8 .5 .6 .5 -2.5 .5 8.7 .5 -7.8 .5 -3.6 .5 1.8 .5 -6.3 .5 6 .5 -2.3 .5 2.6 .5 3.4 .5 .6 .5 -.3 .5 .5 .5 3.7 .5 -5.2 .5 3.2 .5 -4.1 .5 8.6 .5 -8.2 .5 8.4 .5 -13 .5 6.2 .5 -6.1 .5 8.4 .5 3 .5 -3.3 .5 -2.8 .5 .9 .5 -4.4 .5 3.7 .5 1.2 .5 .5 .5 4.1 .5 -6.9 .5 1 .5 2.9 .5 .9 .5 -3.1 .5 -.4 .5 -6.5 .5 -1.4 .5 10 .5 6.1 .5 -12.5 .5 10.6 .5 .9 .5 -11.5 .5 5.1 .5 -4.6 .5 2.4 .5 6.9 .5 -.8 .5 -6.7 .5 -4 .5 9.6 .5 -3.7 .5 7.9 .5 -6.5 .5 0 .5 -2 .5 7.5 .5 -5.2 .5 .6 .5 -2.3 .5 8.9 .5 -5.3 .5 -2.8 .5 6.6 .5 -8.3 .5 -3.9 .5 3.2 .5 1.5 .5 5.1 .5 -4.1 .5 2.9 .5 -3.6 .5 7.5 .5 -12.3 .5 8.5 .5 -5.2 .5 -2.4 .5 1.5 .5 11 .5 -8.1 .5 8.2 .5 -8.1 .5 2.6 .5 4.6 .5 -4.2 .5 3 .5 -6.4 .5 3.3 .5 -4 .5 8.2 .5 -6.2 .5 -1.6 .5 -.3 .5 1.2 .5 1.7 .5 -.5 .5 -5.7 .5 5.6 .5 -.6 .5 1.3 .5 .2 .5 -6.1 .5 7.6 .5 -10 .5 6.9 .5 -.4 .5 1.1 .5 3.2 .5 1.1 .5 -1.5 .5 -9.9 .5 7.8 .5 -1.8 .5 10.8 .5 -6.6 .5 .4 .5 -6.4 .5 .9 .5 -1.2 .5 7.5 .5 -1.1 .5 -.6 .5 -.8 .5 2.4 .5 1.2 .5 -3.8 .5 -2.1 .5 1.4 .5 -1.5 .5 4.3 .5 -7 .5 3.6 .5 7.6 .5 -4.9 .5 -6 .5 -.5 .5 6.4 .5 -2.8 .5 6.6 .5 -9.8 .5 3.5 .5 -.4 .5 .4 .5 .6 .5 -2.1 .5 1.1 .5 6.2 .5 -5.8 .5 3.6 .5 .6 .5 -2.7 .5 -.4 .5 1.1 .5 1.5 .5 -7.5 .5 1.1 .5 4.2 .5 -6.8 .5 8 .5 1.3 .5 -4.3 .5 -3.5 .5 3 .5 -1.1 .5 5.5 .5 -1.1 .5 -4.2 .5 -.5 .5 5.3 .5 -3.5 .5 -.7 .5 11.2 .5 -13.2 .5 8.2 .5 -1.5 .5 -.3 .5 1.3 .5 -12.4 .5 10.5 .5 -3.6 .5 2.1 .5 5.3 .5 -4.6 .5 -2.1 .5 .7 .5 -1 .5 10.5 .5 -6 .5 -1.7 .5 .8 .5 -6.4 .5 6 .5 -.8 .5 -8 .5 7.5 .5 -2.6 .5 .1 .5 8.3 .5 -4.4 .5 -1.7 .5 -1.5 .5 -.8 .5 8.2 .5 2.2 .5 -3.8 .5 -5.5 .5 1 .5 .1 .5 -1.3 .5 4.7 .5 .2 .5 -2.2 .5 4 .5 -2.4 .5 -2.3 .5 .8 .5 0 .5 5.4 .5 -8.9 .5 -1.2 .5 -3.6 .5 16.3 .5 -2.7 .5 -6.1 .5 -4.3 .5 6.9 .5 -.9 .5 -3.4 .5 4.9 .5 -4 .5 7 .5 -2.6 .5 .7 .5 -1.9 .5 -.9 .5 1.5 .5 -3.7 .5 -.6 .5 -3.4 .5 13.9 .5 .2 .5 -6.2 .5 -1.5 .5 5.7 .5 -6.6 .5 8.1 .5 -7.9 .5 -5.5 .5 11 .5 -9.7 .5 7.2 .5 2.5 .5 -3.7 .5 -2.7 .5 2 .5 -1.3 .5 4.5 .5 -2.2 .5 -5.1 .5 6.6 .5 -2 .5 -1.5 .5 8.8 .5 -8.8 .5 -1.1 .5 .9 .5 1.8 .5 -5 .5 7.6 .5 -3.5 .5 1.1 .5 -5.1 .5 0 .5 3.3 .5 8.1 .5 -9.3 .5 6 .5 -.9 .5 4.3 .5 -6.9 .5 .2 .5 -5.5 .5 2.6 .5 -.3 .5 -4.2 .5 3.9 .5 7.5 .5 -3.2 .5 1 .5 .9 .5 1.3 .5 -9.8 .5 5.9 .5 3.8 .5 5.3 .5 -8.7 .5 3.3 .5 -1.6 .5 -3.3 .5 -6.8 .5 3.1 .5 2.9 .5 6.9 .5 -9 .5 1.9 .5 1.1 .5 .6 .5 3 .5 -2 .5 -.5 .5 -1.2 .5 .6 .5 .4 .5 3.5 .5 .2 .5 -7.6 .5 5.5 .5 -3.7 .5 -3.1 .5 9.2 .5 -1.9 .5 -3.1 .5 -.6 .5 2.9 .5 -4 .5 6.6 .5 -4.8 .5 2.5 .5 -.3 .5 1.8 .5 6.2 .5 -9.5 .5 2.1 .5 -4.3 .5 9.5 .5 -6.5 .5 -4.1 .5 4.4 .5 1.7 .5 -2.2 .5 -3.2 .5 2.8 .5 .5 .5 2.3 .5 4.9 .5 -9.1 .5 -.9 .5 2.3 .5 .8 .5 -2.2 .5 -1.5 .5 3.9 .5 2.5 .5 -.1 .5 -3.2 .5 1 .5 -7.2 .5 4.3 .5 -.3 .5 3.4 .5 -5.4 .5 8.8 .5 -6.2 .5 2.6 .5 -8.7 .5 5.4 .5 2.4 .5 -2.6 .5 6.3 .5 -3.9 .5 2.7 .5 -8.1 .5 2.5 .5 1.1 .5 3.6 .5 -5.9 .5 -2.1 .5 5.5 .5 -.7 .5 -4.4 .5 2.2 .5 -6 .5 -.4 .5 6.5 .5 -3.4 .5 2.1 .5 2.3 .5 -4.9 .5 -1.6 .5 .7 .5 -2.2 .5 1.6 .5 -.7 .5 -6.1 .5 11.4 .5 -6.5 .5 5.3 .5 -4.6 .5 -.6 .5 3.7 .5 2.3 .5 2.8 .5 -6.9 .5 11.7 .5 -5.8 .5 -3.5 .5 1.7 .5 -5.6 .5 5.8 .5 4.1 .5 -5.7 .5 3.8 .5 1.5 .5 -1 .5 2.2 .5 -4.5 .5 -.4 .5 5.4 .5 -4.8 .5 10.6 .5 -2.2 .5 -3.3 .5 -2.9 .5 7.2 .5 -11.1 .5 9 .5 -4.9 .5 2.1 .5 1.5 .5 -4.9 .5 7.5 .5 -4.5 .5 -5.1 .5 6 .5 1 .5 -7.8 .5 6.8 .5 -3.4 .5 -1.6 .5 2.9 .5 -7 .5 13.6 .5 -4.1 .5 1.5 .5 -1.1 .5 -3.2 .5 7.4 .5 -5.2 .5 -3.4 .5 4 .5 -3.2 .5 2.7 .5 -2.1 .5 4.7 .5 -.8 .5 1 .5 -3.2 .5 -2.9 .5 4.1 .5 -3.3 .5 6.9 .5 -8.1 .5 -4.6 .5 3.5 .5 3.9 .5 -.1 .5 -2 .5 10.6 .5 -9.9 .5 1.1 .5 .1 .5 1.1 .5 -.4 .5 -6.8 .5 7.2 .5 5.5 .5 -12.9 .5 8.1 .5 4 .6 -7 .5 5.9 .5 -1.5 .5 -2.6 .5 1.3 .5 -5.3 .5 6.7 .5 1.9 .5 -.6 .5 -.1 .5 -3 .5 .4 .5 3.4 .5 -7.5 .5 1 .5 3 .5 -1.7 .5 9.8 .5 -5.9 .5 -5.3 .5 3.3 .5 2.8 .5 -.5 .5 -1 .5 -3.3 .5 -.9 .5 .7 .5 -1.2 .5 5.3 .5 1 .5 -2.4 .5 -5.4 .5 1.5 .5 6.1 .5 4 .5 -3.5 .5 -4.6 .5 -.2 .5 8 .5 -6.6 .5 1.3 .5 -3.7 .5 1.3 .5 -.9 .5 1.6 .5 -5 .5 7.8 .5 -.8 .5 5.9 .5 -5.5 .5 5.9 .5 -14.6 .5 10.3 .5 -1.2 .5 -2.6 .5 -.5 .5 .5 .5 1.1 .5 -2.9 .5 6.3 .5 -.4 .5 -3.8 .5 .5 .5 2.5 .5 5.7 .5 -12.7 .5 6.2 .5 -3.3 .5 5 .5 3.2 .5 -5.4 .5 -5 .5 4.5 .5 .1 .5 -1.4 .5 -2 .5 7.1 .5 -2 .5 -.5 .5 -3.4 .5 1.4 .5 -2.4 .5 5.7 .5 1.7 .5 -5.8 .5 1.2 .5 -2.2 .5 5.1 .5 -5.4 .5 2.9 .5 3.4 .5 -7.3 .5 3.4 .5 1.8 .5 -2.5 .5 2 .5 8 .5 -9.7 .5 3.5 .5 -1.7 .5 -1.7 .5 6.3 .5 -2.1 .5 .3 .5 0 .5 -7.9 .5 5.5 .5 2.7 .5 5 .5 -9.4 .5 6.5 .5 -6.2 .5 -2 .5 2.7 .5 -1.4 .5 .6 .5 4.9 .5 -9.9 .5 4.3 .5 8.6 .5 -5.6 .5 -2.4 .5 2.8 .5 2.4 .5 -4.9 .5 1.9 .5 -3.4 .5 5.9 .5 -4.6 .5 .8 .5 -.4 .5 2.3 .5 -.6 .5 -.5 .5 2.3 .5 -6 .5 10.3 .5 -11 .5 6.6 .5 -3.1 .5 -1 .5 5.5 .5 -5.7 .5 10.2 .5 -6.7 .5 -2.1 .5 .5 .5 -1.7 .5 7.4 .5 -.7 .5 -3.6 .5 -2.8 .5 2.8 .5 3.6 .5 -1.6 .5 -4.7 .5 1.3 .5 1.3 .5 -1 .5 .4 .5 2.4 .5 3.8 .5 -8.5 .5 3 .5 -1.7 .5 3.4 .5 -2.3 .5 -5.9 .5 8.4 .5 -6.4 .5 3.6 .5 2.6 .5 .3 .5 -4.6 .5 3.7 .5 .5 .5 -4.1 .5 1.3 .5 .5 .5 3.7 .5 -1.9 .5 -2.6 .5 7.8 .5 -9.7 .5 3.8 .5 1.1 .5 -1.4 .5 1.6 .5 -6.6 .5 4.4 .5 2.7 .5 1.1 .5 -.8 .5 2.4 .5 -7.9 .5 3.6 .5 -.4 .5 -2.2 .5 -1.7 .5 1.7 .5 4 .5 -1.3 .5 .8 .5 1.3 .5 -2.4 .5 -.2 .5 -1.2 .5 -.7 .5 .7 .5 4.4 .5 -2.7 .5 -2.7 .5 2 .5 -1.1 .5 -1.9 .5 5.4 .5 -2.3 .5 -4.2 .5 3.5 .5 1.9 .5 -4.7 .5 1.9 .5 2.3 .5 -1.2 .5 1.3 .5 -.7 .5 2.9 .5 4.8 .5 -8.2 .5 .9 .5 2.6 .5 -1.5 .5 -3.7 .5 4 .5 -3.4 .5 5.8 .5 -2.4 .5 2.1 .5 -4.6 .5 1.4 .5 5.8 .5 -4.7 .5 -1.4 .5 2.4 .5 -2.7 .5 -2.6 .5 -.5 .5 4.7 .5 -4.2 .5 6.9 .5 -1.9 .5 -2.2 .5 1 .5 2.2 .5 -2.8 .5 -1.1 .5 -.7 .5 6.8 .5 -8.3 .5 2.4 .5 -1.8 .5 -.6" fill="none" stroke="#0b0908" stroke-width="1.4" stroke-linejoin="round"/>
<path d="M950.3 29.1l.8 -1.7 .8 -3.4 .8 1.6 .8 -.1 .8 5.6 .8 -6.8 .8 4.9 .8 -2.5 .8 1.9 .8 -2 .8 .9 .8 .2 .8 -.7 .8 1.2 .8 -.5 .8 1.9 .8 1.2 .8 -3.8 .8 -.1 .8 1.3 .8 -4.2 .8 4.1 .8 -1.6 .8 -.6 .8 -1.5 .8 2.9 .8 1.6 .8 -2.1 .8 -.7 .8 .8 .8 .9 .8 -2 .8 1.3 .8 -1 .8 2 .8 4 .8 -3.2 .8 3.8 .8 -5.5 .8 -.8 .8 1.8 .8 .8 .8 .7 .8 .1 .8 -1.4 .8 2.5 .8 -1.9 .8 1.7 .8 -.5 .8 -.3 .8 0 .8 -1.9 .8 2.7 .8 .1 .8 -2.1 .8 6.3 .8 -4.9 .8 -2.9 .8 -.5 .8 1.5 .8 -2.7 .8 5.4 .8 -2.9 .8 3 .8 -3.6 .8 3.4 .8 1.8 .8 -.9 .8 -4.8 .8 3.8 .8 -.8 .8 3.2 .8 -1.5 .8 3.1 .8 -3.4 .8 -2.5 .8 .4 .8 4.4 .8 -4.4 .8 2.4 .8 4.1 .8 -4.3 .8 -1.8 .8 3.7 .8 -1 .8 -3.2 .8 4.1 .8 -1.1 .8 1.1 .8 -2.7 .8 3.7 .8 -3.4 .8 3.7 .8 -4.8 .8 3 .8 .1 .8 -3.4 .8 -1.2 .8 2.5 .8 -.1 .8 .3 .8 1.1 .8 5 .8 -4.2 .8 3 .8 -2.6 .8 1.6 .8 -1.1 .8 -1 .8 .9 .8 3.6 .8 -7.9 .8 3.9 .8 .8 .8 -3.8 .8 3.7 .8 -.7 .8 2.2 .8 -1.3 .8 -1.3 .8 .7 .8 -5.1 .8 8.7 .8 -3.7 .8 -3.3 .8 .8 .8 1.6 .8 -.7 .8 1.5 .8 -1.7 .8 2.5 .8 -2 .8 .8 .8 -2.7 .8 1.3 .8 1.3 .8 -1.7 .8 1.5 .8 -.2 .8 -2.5 .8 5.5 .8 -5.1 .8 6.4 .8 -1.4 .8 -.9 .8 -1.2 .8 -1.7 .8 5.2 .8 .9 .8 -5.6 .8 5.2 .8 -1.3 .8 -.5 .8 -.7 .8 -1.6 .8 .5 .8 .7 .8 2.3 .8 -5.4 .8 3.2 .8 -2.7 .8 2.5 .8 -.7 .8 -.9 .8 2.8 .8 .2 .8 -4 .8 1.2 .8 2.5 .8 -2 .8 1.7 .8 -5.9 .8 4.6 .8 .2 .8 1.3 .8 4 .8 -5 .8 .2 .8 3.4 .8 -3.2 .8 3.7 .8 -1.7 .8 -5.2 .8 4.1 .8 3 .8 -2.8 .8 .2 .8 -.2 .8 0 .8 2.4 .8 -1.4 .8 -.6 .8 4.4 .8 -7.8 .8 1.8 .8 .7 .8 0 .8 -2.7 .8 9 .8 -5.5 .8 1.3 .8 -1 .9 -2.4 .8 7.3 .8 -4.9 .8 .6 .8 -.3 .8 .8 .8 2.4 .8 -2.9 .8 -5.1 .8 4.1 .8 -.8 .8 3.5 .8 -1.9 .8 2 .8 -.5 .8 -1.4 .8 2.8 .8 -2.1 .8 -1.7 .8 -.6 .8 1.2 .8 -3.1 .8 5.3 .8 .7 .8 -2.8 .8 -2.2 .8 2.6 .8 4.3 .8 -2.1 .8 .6 .8 .5 .8 -.4 .8 -.3 .8 1.8 .8 .1 .8 -2.7 .8 .2 .8 1.4 .8 .9 .8 .6 .8 -1.3 .8 0 .8 -2 .8 5 .8 -2.3 .8 1.6 .8 -2.1 .8 -1.6 .8 1.2 .8 0 .8 2.3 .8 -1.7 .8 3.1 .8 -1.1 .8 4.1 .8 -8.6 .8 6.5 .8 -4 .8 1.1 .8 .8 .8 1.8 .8 -2.1 .8 -1 .8 4.5 .8 -4.9 .8 3.5 .8 -2.4 .8 3 .8 -2.6 .8 -1.5 .8 -.6 .8 1 .8 2.9 .8 1.5 .8 -2.7 .8 .6 .8 -3.7 .8 2.7 .8 2.7 .8 -.1 .8 -4.7 .8 1.7 .8 -.2 .8 1.9 .8 -2.1 .8 1.6 .8 2.7 .8 -2.3 .8 -1.1 .8 1.1 .8 -3.2 .8 2.8 .8 .4 .8 3.3 .8 -5.4 .8 4.2 .8 -1 .8 2.6 .8 -.5 .8 -2.1 .8 -1.4 .8 3.8 .8 .5 .8 -4.1 .8 4.1 .8 -3.3 .8 1.7 .8 -4 .8 3.4 .8 -1.1 .8 -.2 .8 -1.3 .8 .3 .8 2.3 .8 -1.8 .8 -3.1 .8 1.6 .8 4.9 .8 -2.6 .8 -.4 .8 3.6 .8 -7.1 .8 1.7 .8 3.6 .8 1 .8 -1.7 .8 -3.1 .8 4.5 .8 -1.6 .8 -2.2 .8 -2.7 .8 4.5 .8 -1.5 .8 -.4 .8 .3 .8 .9 .8 -.3 .8 1.3 .8 2.7 .8 -7.4 .8 2.6 .8 2.1 .8 0 .8 1.1 .8 -1.6 .8 .1 .8 1.1 .8 1.5 .8 -.8 .8 -2 .8 2.3 .8 -.6 .8 -2.4 .8 3.4 .8 -.2 .8 -3.5 .8 4.1 .8 -2.6 .8 4.7 .8 -6.1 .8 2 .8 -.3 .8 -1.7 .8 1.1 .8 1.5 .8 -1.2 .8 1.4 .8 -1.7 .8 1.9 .8 -.1 .8 -2.6 .8 -3.2 .8 6.1 .8 -2.9 .8 -3.2 .8 7.4 .8 -2.6 .8 2.1 .8 .5 .8 3.5 .8 -4.5 .8 1.3 .8 .8 .8 .9 .8 -3.8 .8 .5 .8 1.3 .8 -4.6 .8 4.2 .8 1.9 .8 -2.8 .8 1.7 .8 -3.8 .8 3.6 .8 -5.3 .8 2.7 .8 3.1 .8 -3.9 .8 2.7 .8 -3.5 .8 2.4 .8 .1 .8 -1 .8 -1.2 .8 1 .8 -1.4 .8 .3 .8 -.6 .8 1.8 .8 3 .8 2.6 .8 -4 .8 -.2 .8 -2.7 .8 .2 .8 3.1 .8 .7 .8 -4.1 .8 .7 .8 3.3 .8 .1 .8 -.7 .8 -3 .8 -.1 .8 1 .8 -5.1 .8 5.5 .8 1.2 .8 -1.8 .8 .4 .8 -2.9 .8 2.8 .8 -.2 .8 -2.1 .8 1.3 .8 -3.1 .8 .7 .8 1.2 .8 -1.9 .8 -.8 .8 -.6 .8 2.8 .8 1.1 .8 .2 .8 -2.9 .8 -.8 .8 .1 .8 1.5 .8 -4.4 .8 1.6 .8 -.1 .8 -1.5 .8 2.8 .8 -2.7 .8 -1.8 .8 3.4 .8 -5.9 .8 1.3 .8 -.2 .8 -1.6 .8 3.5 .8 -5.1 .8 2.4 .8 -2.5 .8 1.2 .8 3.1 .8 -4.5 .8 .4 .8 3.3 .8 -2.3 .8 2.5 .8 2.6 .8 -2.9 .8 1 .8 .8 .8 -.2 .9 -5.7 .8 3.4 .8 6.5 .8 -2.7 .8 -1.9 .8 2.4 .8 1 .8 -2.3 .8 2.9 .8 2.4 .8 -2 .8 .1 .8 -1 .8 1.3 .8 -3.1 .8 4.5 .8 -2.1 .8 1.7 .8 1.4 .8 -6.1 .8 2.1 .8 -2.7 .8 7.1 .8 -5.6 .8 -.9 .8 3.1 .8 -.9 .8 2 .8 -4 .8 4.1 .8 .1 .8 -5.9 .8 2.7 .8 -1.6 .8 0 .8 0 .8 .8 .8 .2 .8 -.6 .8 6.6 .8 -7.8 .8 1.9 .8 -.2 .8 -3.9 .8 6.2 .8 .2 .8 -.9 .8 -3.4 .8 3.3 .8 -3.1 .8 2.6 .8 .5 .8 .7 .8 -1 .8 1.3 .8 .4 .8 -.9 .8 -1.3 .8 3 .8 .4 .8 .8 .8 -1.9 .8 2.1 .8 -3.2 .8 1.4 .8 .9 .8 3.3 .8 -4.3 .8 .9 .8 -.7 .8 3.7 .8 -.5 .8 -1.7 .8 -2.5 .8 4.8 .8 -3.9 .8 4.5 .8 -4.7 .8 4.9 .8 -2.6 .8 -1.5 .8 4.2 .8 -.6 .8 -4.6 .8 7.5 .8 -3.1 .8 -2.8 .8 3.8 .8 1.2 .8 -.6 .8 -1.5 .8 3 .8 -2.7 .8 -1 .8 4.5 .8 -3 .8 .1 .8 4.2 .8 -5.1 .8 5.3 .8 -3.4 .8 .9 .8 -.2 .8 -1.1 .8 1.9 .8 1.9 .8 -4.6 .8 .3 .8 2.5 .8 -1.2 .8 4.8 .8 -2.9 .8 -1.1 .8 -1.5 .8 2.3 .8 -1.6 .8 3.5 .8 -4.9 .8 3.1 .8 1.4 .8 -3.7 .8 .5 .8 .1 .8 3.5 .8 -.8 .8 -4.4 .8 4.1 .8 .3 .8 .7 .8 1.7 .8 -6.1 .8 5.6 .8 -5 .8 1.6 .8 .3 .8 .6 .8 -.1 .8 .7 .8 1.6 .8 .7 .8 -.6 .8 -1.5 .8 -1.2 .8 3.4 .8 -.4 .8 -.2 .8 -.6 .8 1 .8 -5.5 .8 6 .8 -.6 .8 -2.5 .8 3.3 .8 -3.1 .8 -.5 .8 2.4 .8 2.3 .8 -2.1 .8 -3.8 .8 1.8 .8 2.7 .8 -.2 .8 -2.4 .8 2.1 .8 2.4 .8 -4 .8 3.3 .8 -1.7 .8 -1.3 .8 .4 .8 .5 .8 2.8 .8 -2" fill="none" stroke="#0b0908" stroke-width="4.2" stroke-linejoin="round"/>
<path d="M950.3 26.7l.5 2.6 .5 -6.1 .5 3.5 .5 -.5 .5 5.1 .5 -4.8 .5 .1 .5 -4.6 .5 4.2 .5 -1.9 .5 1.7 .5 -6.1 .5 4.8 .5 -2.6 .5 -3.2 .5 12.5 .5 -8.3 .5 6.2 .5 -6.1 .5 6.1 .5 -4.6 .5 6.1 .5 -7.2 .5 3.4 .5 -1 .5 -.3 .5 -2 .5 9.4 .5 -11.9 .5 .2 .5 4.7 .5 10.3 .5 -8.9 .5 -5.3 .5 1.3 .5 8.5 .5 -1.2 .5 -6 .5 2.7 .5 1.5 .5 -.5 .5 -4.2 .5 1.1 .5 -1.7 .5 8.5 .5 -6.4 .5 6.3 .5 2.2 .5 -9.4 .5 4.1 .5 2.1 .5 3 .5 -9.1 .5 6.9 .5 -3.6 .5 -1.3 .5 -2.1 .5 4.3 .5 -2.1 .5 6 .5 -3.2 .5 .4 .5 -.3 .5 -5.1 .5 6.1 .5 3.4 .5 -8.2 .5 .4 .5 2.9 .5 -.8 .5 1 .5 -2.5 .5 4.9 .5 -4.1 .5 1.2 .5 -1.5 .5 -1 .5 3.9 .5 -2.9 .5 -3 .5 1.2 .5 -.4 .5 5.6 .5 -11.2 .5 14 .5 .5 .5 -8.4 .5 -.6 .5 8.1 .5 -2.6 .5 1 .5 -2.1 .5 -4.1 .5 6.5 .5 1.6 .5 -3 .5 -2.7 .5 3.2 .5 -6.9 .5 -1.7 .5 10.9 .5 -3.9 .5 -1.8 .5 -3.5 .5 11 .5 -9.6 .5 3.4 .5 2 .5 -2.9 .5 2 .5 -1.9 .5 4.2 .5 1.9 .5 .4 .5 -8.4 .5 9.1 .5 -6.5 .5 -1.8 .5 .4 .5 3.5 .5 -1 .5 4.5 .5 -5.2 .5 -.6 .5 -1.8 .5 6.8 .5 -2.1 .5 2.2 .5 -5.2 .5 -2.1 .5 7.4 .5 -.5 .5 -3.9 .5 -.5 .5 4.1 .5 -2.2 .5 .1 .5 .1 .5 1.6 .5 7.4 .5 -17.3 .5 5.9 .5 -2.7 .5 -2.8 .5 5.2 .5 3.4 .5 4.2 .5 -3 .5 -1.4 .5 1.3 .5 -.8 .5 -1 .5 -5.6 .5 9.1 .5 -1.6 .5 -4.1 .5 -4.4 .5 3.3 .5 9.2 .5 -11.4 .5 4.8 .5 -6.1 .5 6.1 .5 -.1 .5 .9 .5 3.4 .5 5.5 .5 -12.9 .5 5.3 .5 -4.3 .5 4.1 .5 -1.2 .5 1.9 .5 -5.1 .5 -2.3 .5 7 .5 .2 .5 1.3 .5 -2.4 .5 -.8 .5 6.2 .5 -5.8 .5 .3 .5 1.2 .5 4.9 .5 -12 .5 15.4 .5 -7.6 .5 -1 .5 2 .5 3.7 .5 -9.5 .5 4.4 .5 .3 .5 -1.7 .5 -4.4 .5 6.6 .5 -6.5 .5 7.1 .5 -1.6 .5 -3.1 .5 -3.2 .5 8.5 .5 .8 .5 -7.4 .5 1.7 .5 -4.3 .5 12.3 .5 -4.8 .5 -5.9 .5 5.8 .5 -1.1 .5 -.6 .5 5.2 .5 -8 .5 13.7 .5 -8.3 .5 -5.9 .5 3.8 .5 2.7 .5 .2 .5 -.6 .5 2.1 .5 .1 .5 1.6 .5 -9.4 .5 9.4 .5 -12.2 .5 7.6 .5 -.4 .5 1.2 .5 -1.3 .5 .7 .5 -5.5 .5 1.2 .5 2.2 .5 -3.1 .5 7.1 .5 1.5 .5 -10.5 .5 .5 .5 4.8 .5 2.1 .5 -3.6 .5 6.6 .5 -8.4 .5 .7 .5 1.3 .5 10.2 .5 -3 .5 -1.2 .5 -1.1 .5 -6.8 .5 5.1 .5 4.1 .5 -6.7 .5 2.6 .5 4.2 .5 -.8 .5 2.6 .5 -4.9 .5 -1.7 .5 -2.4 .5 6.9 .5 -7.3 .5 4.2 .5 1.5 .5 -7.2 .5 5.9 .5 -7.7 .5 7.8 .5 -4.1 .5 10.9 .5 -2.8 .5 -3.5 .5 2.1 .5 -4.9 .5 7.2 .5 -2.5 .5 -2.5 .5 3.8 .5 -1.5 .5 2.9 .5 -7.1 .5 1.6 .5 -3.5 .5 2 .5 3.6 .5 .1 .5 -3.1 .5 -.2 .5 -2.1 .5 -.1 .5 -5.9 .5 2.2 .5 8.5 .5 -4.2 .5 3.1 .5 2.6 .5 -7.7 .5 12.3 .5 -6.9 .5 -6 .5 11 .5 -5.2 .5 -1.2 .5 1.4 .5 -.1 .5 -2.3 .5 .8 .5 -2.8 .5 9.4 .5 -5.1 .5 3.2 .5 -6.6 .5 7.1 .5 -4.6 .5 -.1 .5 2 .5 .9 .5 7 .5 -6.3 .5 -1.6 .5 -2.8 .5 4.3 .5 3.3 .5 -2.3 .5 -7.6 .5 -1.7 .5 5 .5 .8 .5 -7.3 .5 8.6 .5 -4.8 .5 2.7 .5 2.4 .5 .1 .5 3.8 .5 -1.7 .5 -.6 .5 -6.8 .5 9.6 .5 -11.7 .5 7.9 .5 -.9 .5 4.8 .5 -5.2 .5 4.9 .5 -4 .5 -3.8 .5 9.3 .5 -.6 .5 -7.9 .5 4.4 .5 1.1 .5 1.4 .5 -1.9 .5 -1.6 .5 -.7 .5 4.6 .5 -1.8 .5 -1.9 .5 -2 .5 -.2 .5 1.6 .5 -.5 .5 9.2 .5 -6.2 .5 7.1 .5 -7.5 .5 -.9 .5 -7.1 .5 6.7 .5 -3.3 .5 7.5 .5 -7.7 .5 15.1 .5 -13.3 .5 2 .5 2.7 .5 1.7 .5 -1.4 .5 -8.2 .5 8 .5 -5.8 .5 6.2 .5 4.3 .5 -3 .5 -8 .5 8 .5 -4.3 .5 5.8 .5 -6.1 .5 8.8 .5 -5 .5 -5.1 .5 4.7 .5 2.7 .5 .9 .5 -5.5 .5 -4.5 .5 9.9 .5 -7.5 .5 7.7 .5 -7.9 .5 6.7 .5 2.5 .5 -3.6 .5 -1.6 .5 -7.4 .5 8.7 .5 -4 .5 3 .5 4.7 .5 -3.6 .5 1 .5 -1 .5 -.7 .5 -1.1 .5 .7 .5 -3 .5 4.7 .5 -5.9 .5 6 .5 7.9 .5 -8.2 .5 4.2 .5 -7 .5 3.5 .5 1.2 .5 -.4 .5 -2.6 .5 -1.8 .5 .1 .5 8.3 .5 -5.1 .5 -2.5 .5 3.6 .5 -3.8 .5 4.3 .5 .2 .5 -2.6 .5 3.2 .5 -10.8 .5 9.4 .5 -5.4 .5 1.9 .5 2.7 .5 -3.3 .5 2.2 .5 10.1 .5 -5 .5 1.8 .5 -.4 .5 -5.6 .5 -3.3 .5 .5 .5 -.9 .5 -4.6 .5 9.5 .5 -9.2 .5 2.7 .5 0 .5 5.8 .5 3.6 .5 -1 .5 -2.4 .5 1.4 .5 -2.1 .5 0 .5 5 .5 -6.2 .5 3 .5 -8 .5 7.5 .5 -10.4 .5 5.8 .5 4 .5 -5.2 .5 14.5 .5 -11.8 .5 8.8 .5 -11.4 .5 11.8 .5 -13.3 .5 2.2 .5 -5.3 .5 9.2 .5 .4 .5 -5.9 .5 2.6 .5 -6.2 .5 8.9 .5 1.3 .5 .5 .5 -4.6 .5 1.7 .5 2.2 .5 -5 .5 1.4 .5 1 .5 3.8 .5 -3.2 .5 0 .5 .2 .5 1.3 .5 2.6 .5 -.7 .5 -5.2 .5 3.5 .5 2.5 .5 3.6 .5 -7.5 .5 1.7 .5 -3.2 .5 7.6 .5 -3 .5 -4.8 .5 -1.1 .5 3.9 .5 .8 .5 .8 .5 -4.2 .5 4 .5 1.8 .5 -2.3 .5 -5.7 .5 5 .5 4.2 .5 -4.9 .5 1.4 .5 -.9 .5 .6 .5 1.7 .5 -.9 .5 -6.9 .5 2.3 .5 6.3 .5 -1.9 .5 -1.6 .5 1.7 .5 -5.3 .5 7.2 .5 1.2 .5 4.4 .5 -6.4 .5 -4.6 .5 .6 .5 1.8 .5 7.1 .5 -7.2 .5 -1.3 .5 -2.1 .5 6.2 .5 4.8 .5 -10.9 .5 1.8 .5 1.7 .5 .5 .5 3.2 .5 -6.1 .5 .8 .5 1.8 .5 8.1 .5 -8.1 .5 -4.5 .5 7.3 .5 -4.6 .5 4.1 .5 1.9 .5 .1 .5 .3 .5 -10.2 .5 1.6 .5 -2.4 .5 12.8 .5 -7.5 .5 1.8 .5 6.6 .5 -5.3 .5 6.7 .5 -4.7 .5 -6.8 .5 1.4 .5 4 .5 6.9 .5 -9 .5 .5 .5 0 .5 1.2 .5 -2.3 .5 -1.3 .5 -.3 .5 10.2 .5 -12.2 .5 8.6 .5 .1 .5 3.2 .5 -3.6 .5 -2.3 .5 -1 .5 -1.2 .5 -6.1 .5 10.2 .5 1.7 .5 -6.2 .5 -.8 .5 6.6 .5 .8 .5 -4.5 .5 2.9 .5 .3 .5 -8.2 .5 5.4 .5 5.4 .5 -5.2 .5 3.2 .5 0 .5 -5.6 .5 -1.2 .5 -3.9 .5 5.9 .5 4.8 .5 -6.6 .5 12.5 .5 -9.2 .5 -1.8 .5 -4.7 .5 6.4 .5 -3.9 .5 13.2 .5 -19.2 .5 8.8 .5 -.2 .5 2.8 .5 .4 .5 -.4 .5 -7.8 .5 7.2 .5 1.4 .5 -5.5 .5 5.3 .5 -.3 .5 -.6 .5 .3 .5 -6.8 .5 2.5 .5 4.6 .5 -4.9 .5 3.2 .5 -.1 .5 -2.8 .5 -3.4 .5 14 .5 -10.5 .5 -2.6 .5 3.3 .5 -4 .5 9.9 .5 0 .5 .5 .5 -3.3 .5 -4.3 .5 5.3 .5 -1.2 .5 -7.1 .5 9.7 .5 -6.4 .5 3.3 .5 2.3 .5 .7 .5 4.1 .5 -2.4 .5 1.4 .5 -7 .5 2.7 .5 1.7 .5 -3.7 .5 5 .5 -8 .5 11.1 .5 -13.9 .5 5.1 .5 -7.3 .5 8.2 .5 -6.1 .5 2.5 .5 -1.7 .5 4.7 .5 -1.3 .5 1.2 .5 -6.9 .5 5.8 .5 5.3 .5 -6.5 .5 9 .5 -.2 .5 -11.3 .5 4.4 .5 -2.5 .5 1.5 .5 -.1 .5 -3.3 .5 -3.3 .5 8.1 .5 -3.1 .5 .3 .5 -3.8 .5 10 .5 -5 .5 1 .5 -11.1 .5 5.5 .5 3.4 .5 -10.5 .5 12.9 .5 -5.8 .5 -3.7 .5 -2.8 .5 7.9 .5 -4.3 .5 11.8 .5 -9 .5 .1 .5 -1.2 .5 5.5 .5 -7.5 .5 8.3 .5 -5.7 .5 -2.3 .5 -3.6 .5 6 .5 -8.9 .5 14 .5 -12.5 .5 3.6 .5 -3.2 .5 1.1 .5 .1 .5 6.1 .5 -7.1 .5 1.3 .5 -1.6 .5 -4.1 .5 5.6 .5 9.1 .5 -7 .5 1.1 .5 -.9 .5 .5 .5 -5.1 .5 6.5 .5 -2.8 .5 -1.5 .5 -4.2 .5 5.5 .5 -5.4 .5 .6 .5 -2.5 .5 10.2 .5 -4.2 .5 1.1 .5 -1 .5 9.7 .5 -4.6 .5 -6.6 .5 -1.5 .5 5.4 .5 -.7 .5 1.3 .5 .9 .5 1.2 .5 -3.2 .5 3.4 .5 -5.4 .5 7.5 .5 -2.4 .5 .4 .5 -2.3 .5 3.5 .5 -.2 .5 -11.4 .5 11.5 .5 .5 .5 -3.2 .5 2.7 .5 2.1 .5 -.6 .5 -2.2 .5 -2.9 .5 8.5 .5 -10.7 .5 8.2 .5 -.4 .5 -1.1 .5 .7 .5 -5.6 .5 2.8 .5 2.9 .5 -5.2 .5 3.2 .5 2.6 .5 -5.7 .5 -2.5 .5 8.5 .5 5.2 .5 -9.7 .5 7.7 .5 -11.5 .5 2.3 .5 -6.6 .5 2.6 .5 11.9 .5 -3.6 .5 1.3 .5 1.1 .5 -10.7 .5 3.5 .5 -4.2 .5 7 .5 -7.2 .5 9.6 .5 0 .5 -7.4 .5 5.2 .5 -1.8 .5 1.2 .5 -4.9 .5 1.1 .5 2.3 .5 -2.6 .5 8.5 .5 -7 .5 2.3 .5 -3.9 .5 -1.6 .5 4 .5 7.1 .5 -3.3 .5 -4.5 .5 4.4 .5 .7 .5 -1.7 .5 -5.9 .5 6.8 .5 -1.2 .5 -4.6 .5 3.4 .5 -1.6 .5 5.9 .5 .7 .5 -13.8 .5 5.2 .5 12 .5 -6.7 .5 -9.3 .5 9.7 .5 .3 .5 1.1 .5 -2.6 .5 9.5 .5 -9.1 .5 -4.4 .5 4.5 .5 -.9 .5 7.4 .5 -11.6 .5 8.7 .5 -.9 .5 -5.5 .5 -5.5 .5 5.5 .5 8.5 .5 5.5 .5 -9.5 .5 -1.6 .5 11.5 .5 -13 .5 .8 .5 7.4 .5 -5.1 .5 -5.8 .5 9 .5 -.9 .5 -1.9 .5 -.2 .5 1.6 .5 -3.2 .5 9.2 .5 -5.7 .5 .9 .5 2.1 .5 .3 .5 -5.5 .5 4 .5 -2.5 .5 -4 .5 8.1 .5 -7.8 .5 6.1 .5 -.9 .5 -5.7 .5 2.5 .5 -.9 .5 6.8 .5 -10.9 .5 9.5 .5 3.2 .5 -3 .5 -1.3 .5 2.5 .5 -3.4 .5 -2.6 .5 7.4 .5 -4.7 .5 -2.5 .5 11.2 .5 -9.6 .5 2.1 .5 .7 .5 -1.2 .5 3.9 .5 -.6 .5 -4.1 .5 9.1 .5 -11.3 .5 8.5 .5 -7.3 .5 8.7 .5 -3.1 .5 -3.5 .5 2.6 .5 2.2 .5 7.4 .5 -7.2 .5 -5.5 .5 3.2 .5 -1.3 .5 -.2 .5 5.9 .5 -1.5 .5 -1.4 .5 -4.5 .5 .9 .5 7.8 .5 2 .5 -8.2 .5 3.6 .5 -2.7 .5 -8.3 .5 1.8 .5 8.6 .5 2.3 .5 -8.6 .5 14.5 .5 -12.2 .5 5.9 .5 .3 .5 -6.4 .5 4.6 .5 -4.3 .5 5.3 .5 2.8 .5 -7.3 .5 4.8 .5 -4.2 .5 -4.2 .5 9.7 .5 -6 .5 -5.6 .5 7.7 .5 6.5 .5 -6.1 .5 6.5 .5 -6.6 .5 5.3 .5 .5 .5 -8.7 .5 -.1 .5 -.6 .5 7 .5 -1.6 .5 -4 .5 6.1 .5 -3.8 .5 .8 .5 -2.4 .5 3.4 .5 2 .5 6.2 .5 -11.7 .5 0 .5 4.2 .5 -1.2 .5 9 .5 -8.1 .5 -3.5 .5 1.3 .5 2 .5 -1.5 .5 .1 .5 2.1 .5 -8.7 .5 7.4 .5 1.2 .5 -3.3 .5 7.2 .5 3.5 .5 -6.9 .5 2.3 .5 -4.4 .5 2.1 .5 -3.5 .5 1 .5 -1.5 .5 4.8 .5 .7 .5 -3.6 .5 -2.5 .5 3.4 .5 -4.8 .5 4.2 .5 -1 .5 .5 .5 -4.7 .5 3.3 .5 11.8 .5 -5.3 .5 -2.7 .5 2.3 .5 .2 .5 -8 .5 6.7 .5 -4.4 .5 8.8 .5 -.8 .5 -12.4 .5 8 .5 -.3 .5 -1 .5 2 .5 -4.3" fill="none" stroke="#0b0908" stroke-width="1.4" stroke-linejoin="round"/>
<path d="M950.3 100.0l.8 1.4 .8 .7 .8 -3.2 .8 3.6 .8 -1 .8 1.1 .8 -1 .8 1.9 .8 -4.3 .8 5.6 .8 -1.1 .8 -3.7 .8 2.6 .8 -.4 .8 -4.5 .8 4.9 .8 -2.4 .8 .7 .8 -.7 .8 .5 .8 1 .8 .1 .8 -3.4 .8 2.8 .8 -2.2 .8 .2 .8 1.9 .8 2.6 .8 -.4 .8 -2.5 .8 -.2 .8 -.2 .8 2 .8 1.7 .8 -1.8 .8 1.4 .8 -.7 .8 2.5 .8 -7.2 .8 -.2 .8 4.1 .8 1.7 .8 -2.1 .8 1.8 .8 -3.2 .8 -.2 .8 1.2 .8 3.3 .8 -.2 .8 -2.9 .8 1.9 .8 -1.6 .8 1.4 .8 -2.3 .8 2.3 .8 -1.4 .8 1.5 .8 -1.2 .8 -.3 .8 2 .8 -.8 .8 .8 .8 -.8 .8 2.2 .8 -2.9 .8 3.4 .8 1.2 .8 -3.2 .8 4.2 .8 .7 .8 -3.2 .8 -3.6 .8 -.5 .8 3.1 .8 4.2 .8 -2.4 .8 .4 .8 -2 .8 -.9 .8 2.4 .8 -3 .8 2 .8 1.6 .8 -.9 .8 1.1 .8 -1.9 .8 2.2 .8 -.3 .8 -4.2 .8 1.4 .8 .7 .8 2.9 .8 -.6 .8 0 .8 -.1 .8 1 .8 .7 .8 -3 .8 -2.1 .8 4.7 .8 -1.8 .8 .6 .8 -.4 .8 -1.9 .8 -.8 .8 5.2 .8 .3 .8 -.3 .8 -1.5 .8 .2 .8 -1.4 .8 1 .8 -.9 .8 -.3 .8 1.6 .8 3.1 .8 -7.4 .8 5.2 .8 .2 .8 -3.9 .8 3.2 .8 -.4 .8 -1.2 .8 0 .8 -1.9 .8 6.5 .8 1.3 .8 -1.5 .8 -3.9 .8 1.2 .8 .2 .8 -2.4 .8 1.2 .8 1.6 .8 -1.9 .8 -2.8 .8 1.1 .8 3.1 .8 -1.2 .8 .1 .8 3.5 .8 -2.6 .8 -1.7 .8 1.4 .8 4.6 .8 -6.7 .8 6 .8 -.6 .8 -3.3 .8 -.4 .8 3.7 .8 -2.4 .8 -1.6 .8 4.9 .8 -3.3 .8 .3 .8 -.5 .8 -.7 .8 .9 .8 -1 .8 1.9 .8 1.2 .8 .1 .8 .2 .8 .7 .8 -1.5 .8 -2.7 .8 3.3 .8 -5.4 .8 2 .8 2.1 .8 -4 .8 6.6 .8 -5.1 .8 -1 .8 1.6 .8 0 .8 1.6 .8 -.2 .8 2.5 .8 -2.4 .8 .8 .8 -2.4 .8 3.1 .8 -2.5 .8 -2.4 .8 6.8 .8 -4.8 .8 0 .8 .5 .8 3.2 .8 -4.4 .8 2.4 .8 2 .8 2.8 .8 -4.4 .8 .8 .8 -1.9 .8 6 .8 -4.3 .8 .2 .8 .5 .9 -2.1 .8 1.9 .8 -2.5 .8 5.8 .8 -3.3 .8 .1 .8 2.9 .8 -4.9 .8 5.5 .8 .4 .8 -4.6 .8 3.1 .8 -1.5 .8 2.1 .8 -1.6 .8 -1.8 .8 3.3 .8 -1.6 .8 .9 .8 1.8 .8 .6 .8 -1.1 .8 -4.1 .8 4.5 .8 -1.9 .8 2.9 .8 -2.5 .8 3.5 .8 -1.8 .8 -.9 .8 .7 .8 -4.1 .8 4.9 .8 -.8 .8 -2.4 .8 3.2 .8 0 .8 .2 .8 -.9 .8 1.9 .8 .2 .8 -1.4 .8 -.2 .8 -.8 .8 -.2 .8 2.6 .8 -2.3 .8 -1.7 .8 3.5 .8 1.8 .8 -2.8 .8 2.5 .8 -.8 .8 -3 .8 2.8 .8 -.8 .8 1.7 .8 -6.7 .8 7.1 .8 -.1 .8 -3.4 .8 4.2 .8 -2.5 .8 .8 .8 1.5 .8 1 .8 -2.4 .8 1.2 .8 -.5 .8 -2.3 .8 4.9 .8 -1.7 .8 -1.3 .8 2 .8 -1 .8 -2.3 .8 3.3 .8 -1.9 .8 1.2 .8 .8 .8 0 .8 2 .8 -3.5 .8 -.7 .8 -1.1 .8 .3 .8 2.7 .8 -.5 .8 -2.6 .8 .6 .8 .4 .8 4.2 .8 -5.1 .8 2.7 .8 -4.1 .8 2.9 .8 3.4 .8 -5.4 .8 5 .8 -6.3 .8 4.1 .8 -2.4 .8 2.3 .8 -.4 .8 2.2 .8 -1.1 .8 -.1 .8 -1.5 .8 2.1 .8 -2.5 .8 .3 .8 .1 .8 2.5 .8 3.5 .8 -4.7 .8 4.1 .8 -6 .8 .9 .8 2.3 .8 .2 .8 .4 .8 1.7 .8 -3.7 .8 2.7 .8 -1.7 .8 -5.9 .8 3.4 .8 1 .8 1.3 .8 .9 .8 -1.6 .8 3.3 .8 -4.7 .8 2 .8 1.9 .8 -4.2 .8 5 .8 -.7 .8 -2.3 .8 .4 .8 -.2 .8 .2 .8 2.6 .8 -1.5 .8 -3.9 .8 -.4 .8 4.4 .8 -6.6 .8 2.1 .8 2 .8 1.2 .8 2.9 .8 -2.5 .8 5 .8 -4.9 .8 1.3 .8 .4 .8 -2.3 .8 2.1 .8 -.7 .8 -.7 .8 -1.8 .8 .4 .8 2.5 .8 -1.7 .8 .9 .8 0 .8 -.3 .8 -.5 .8 1.2 .8 .5 .8 1.1 .8 -1.8 .8 -2.2 .8 -.2 .8 2.7 .8 -4.5 .8 2.1 .8 3.2 .8 -2.8 .8 -.7 .8 3.9 .8 -8 .8 5.3 .8 -.8 .8 0 .8 2.8 .8 1.3 .8 -.8 .8 -1 .8 -.7 .8 -1.1 .8 .5 .8 -3.4 .8 2.3 .8 2.3 .8 -1.6 .8 2 .8 -5 .8 2 .8 -1 .8 4.2 .8 -2.8 .8 -.1 .8 -2 .8 1.4 .8 -1.1 .8 .8 .8 5.5 .8 -6.9 .8 1.7 .8 -1.4 .8 4.4 .8 -4.8 .8 .1 .8 2.4 .8 2.5 .8 -3.1 .8 -1.7 .8 -4.3 .8 -.3 .8 5.1 .8 .1 .8 2.2 .8 -1.6 .8 -1.6 .8 3 .8 .7 .8 -5.1 .8 3.1 .8 .3 .8 -4.3 .8 2.5 .8 -1.5 .8 2.2 .8 -.5 .8 -6.9 .8 3.5 .8 3 .8 -2.1 .8 -3.6 .8 .8 .8 -1.6 .8 2.4 .8 -3.8 .8 4.6 .8 -1.4 .8 .9 .8 -2 .8 -.9 .8 -1.1 .8 -1.5 .8 -5.8 .8 4 .8 -3.4 .8 -4 .8 7.2 .8 -3.9 .8 -3.8 .8 3.4 .8 -.1 .8 -.8 .8 2.5 .8 -5.3 .8 4.2 .8 -3.7 .8 3.1 .8 .6 .8 -2 .8 6.5 .8 -8.6 .8 1.1 .8 2.5 .8 -.4 .8 4.6 .8 -3 .9 4.4 .8 -3.1 .8 3.1 .8 .5 .8 -.9 .8 1.7 .8 -.2 .8 4.1 .8 1 .8 -5.1 .8 2.1 .8 1.7 .8 -.8 .8 3.2 .8 1.5 .8 -9 .8 3.3 .8 4.2 .8 -1.3 .8 -2.2 .8 1.3 .8 1.1 .8 3.4 .8 -5.1 .8 2.7 .8 2.8 .8 -.8 .8 -2.3 .8 -.3 .8 -3.1 .8 .1 .8 1.6 .8 3.5 .8 -.1 .8 .8 .8 -.9 .8 -.5 .8 -1.3 .8 -2.2 .8 4 .8 -3.5 .8 -3.1 .8 4.5 .8 -.9 .8 4.7 .8 -5.7 .8 1.1 .8 -3.2 .8 3.7 .8 -.9 .8 -2.3 .8 2.1 .8 -3.1 .8 3.9 .8 -2.1 .8 1.8 .8 -2.5 .8 .4 .8 1.4 .8 2.3 .8 -1.3 .8 -4.9 .8 6.5 .8 -1.4 .8 1.9 .8 1.3 .8 -.4 .8 -2.9 .8 1.1 .8 2.1 .8 1.4 .8 -3.4 .8 .6 .8 -.3 .8 3.2 .8 -2 .8 6.6 .8 -2.7 .8 1 .8 -.8 .8 -2.2 .8 -3.7 .8 8.6 .8 -2.1 .8 -4.2 .8 9.5 .8 -3.5 .8 2 .8 -3.6 .8 -3 .8 2.3 .8 3.4 .8 -5.9 .8 3.4 .8 3.7 .8 -.1 .8 -1.9 .8 -5.4 .8 4.9 .8 3.3 .8 -.7 .8 -2.6 .8 1.7 .8 .6 .8 -2 .8 -.6 .8 .2 .8 -.2 .8 1.7 .8 .1 .8 1.4 .8 .1 .8 -1.4 .8 -4.1 .8 5.7 .8 -2.9 .8 5.5 .8 -4.1 .8 5.3 .8 -3.2 .8 2.2 .8 -3 .8 .7 .8 -1.8 .8 -.1 .8 .1 .8 2.6 .8 -3.8 .8 4.5 .8 -2.6 .8 1.9 .8 -3.3 .8 2.2 .8 -3.6 .8 2.3 .8 1 .8 -1.7 .8 1.7 .8 .8 .8 .1 .8 -4.5 .8 3.7 .8 .2 .8 -1.3 .8 -.2 .8 6.1 .8 -2.2 .8 .3 .8 .5 .8 -4.4 .8 1.5 .8 -3.1 .8 4.1 .8 -4.3 .8 2.5 .8 3.1 .8 -.4 .8 -3.1 .8 .2 .8 4.6 .8 -1.7 .8 -1.9 .8 1.3 .8 0 .8 -2.4 .8 1.1 .8 -3.2 .8 4.9 .8 -.3 .8 2 .8 0 .8 -3 .8 4.3" fill="none" stroke="#0b0908" stroke-width="4.2" stroke-linejoin="round"/>
<path d="M950.3 100.5l.5 4.9 .5 -6.8 .5 .7 .5 8.9 .5 -1.1 .5 -7.3 .5 4.1 .5 -3.3 .5 .7 .5 1.2 .5 -6.2 .5 -.3 .5 4.9 .5 9.8 .5 -4.8 .5 -6.6 .5 -7.4 .5 16.8 .5 -9 .5 2.3 .5 -1.5 .5 2.8 .5 -4.1 .5 7.1 .5 -8.8 .5 2.5 .5 3.9 .5 1.2 .5 3.1 .5 -.6 .5 -4.5 .5 -6.2 .5 4.2 .5 -.8 .5 2.1 .5 -.5 .5 -.1 .5 -.1 .5 4.8 .5 -4.7 .5 5.8 .5 -4.1 .5 -.8 .5 .6 .5 .1 .5 -8.2 .5 8.6 .5 -4.2 .5 1.6 .5 1.8 .5 3.2 .5 -5.7 .5 -1.4 .5 -1.7 .5 9.7 .5 -4.6 .5 .4 .5 -6.7 .5 12.3 .5 -3.5 .5 -2.1 .5 -4.9 .5 4.3 .5 -1.9 .5 -3.6 .5 .9 .5 7.2 .5 -5.1 .5 -6.7 .5 9.2 .5 2.8 .5 1.6 .5 -8.7 .5 2.1 .5 5.2 .5 -3.1 .5 1.7 .5 -6 .5 .3 .5 12.5 .5 -5.9 .5 -1.6 .5 0 .5 -2.2 .5 0 .5 -4.3 .5 5.4 .5 .9 .5 1.5 .5 -2.3 .5 1.7 .5 1.7 .5 .9 .5 3.4 .5 -3.7 .5 -4.6 .5 1.2 .5 -3.3 .5 2.2 .5 .8 .5 6.2 .5 -5.2 .5 2.2 .5 -4.9 .5 2.7 .5 -4.9 .5 7.3 .5 4.2 .5 -3.2 .5 -4.4 .5 -2.5 .5 5.2 .5 1.3 .5 7 .5 -14.9 .5 -.1 .5 6.4 .5 -1.9 .5 6.2 .5 -7 .5 .5 .5 -2 .5 8.5 .5 .1 .5 -3.1 .5 .1 .5 4.5 .5 -7.3 .5 -.2 .5 8.5 .5 -2.9 .5 -7.4 .5 8.5 .5 -7.6 .5 -.5 .5 3.3 .5 2.9 .5 -6 .5 -3.5 .5 14.9 .5 -5.2 .5 -1.8 .5 -2.3 .5 2.7 .5 2.2 .5 -9 .5 5.4 .5 2.9 .5 -5.8 .5 8.2 .5 -4.3 .5 -1.1 .5 3.8 .5 -5.8 .5 -1.2 .5 13 .5 -3.1 .5 -6.3 .5 -4.2 .5 6.7 .5 -4.4 .5 -6.1 .5 9.9 .5 -10.1 .5 7.9 .5 -.9 .5 8.5 .5 -8 .5 5.5 .5 -4.6 .5 -.9 .5 .9 .5 3.1 .5 1.4 .5 -3 .5 1.2 .5 -4.6 .5 5.1 .5 -6.6 .5 7.4 .5 -5.3 .5 4.2 .5 .2 .5 -.8 .5 -2.1 .5 2.2 .5 2.3 .5 -.8 .5 -4.2 .5 3.8 .5 -4.6 .5 1.6 .5 3.4 .5 -1.4 .5 .1 .5 -.4 .5 -2.1 .5 6.9 .5 -7 .5 5.6 .5 -4.9 .5 -1 .5 .8 .5 8.4 .5 -8.2 .5 2.8 .5 4 .5 -3.7 .5 -3.4 .5 -.2 .5 5.6 .5 -4.2 .5 -.4 .5 .4 .5 1.1 .5 0 .5 -2.5 .5 -2.4 .5 8.3 .5 1.2 .5 -8.1 .5 2.6 .5 1.9 .5 -5.4 .5 2.6 .5 -.5 .5 6.7 .5 -5.2 .5 -2.2 .5 -3.9 .5 7.5 .5 -2.2 .5 -8 .5 7.5 .5 2.9 .5 3.4 .5 -1.9 .5 -3.2 .5 5 .5 -8.2 .5 8.3 .5 .7 .5 -2.4 .5 -7.3 .5 -4.9 .5 19.1 .5 -10.2 .5 -1.1 .5 1.2 .5 3 .5 -9.8 .5 9.9 .5 -.1 .5 1.5 .5 -1.7 .5 -9.2 .5 5.6 .5 5.9 .5 -4.6 .5 5.4 .5 -3.1 .5 -2.7 .5 6 .5 1.7 .5 2.8 .5 -5.7 .5 -8.5 .5 4.5 .5 -4.8 .5 .1 .5 10.2 .5 -4.2 .5 -1.7 .5 .7 .5 7.6 .5 -2.8 .5 3.7 .5 -3.4 .5 -4.7 .5 -5.1 .5 -.4 .5 9.7 .5 1.1 .5 -4.9 .5 .3 .5 -.8 .5 -.3 .5 2.7 .5 -5.2 .5 7.5 .5 -6.6 .5 4.1 .5 -6 .5 4.9 .5 1.9 .5 -1.4 .5 1.9 .5 -1.6 .5 1.1 .5 -6.1 .5 -.7 .5 6.2 .5 -3.7 .5 -1.8 .5 9.4 .5 -6.2 .5 -4.9 .5 6 .5 2.3 .5 2.2 .5 1.7 .5 -2.7 .5 -8.2 .5 -.4 .5 4.8 .5 7.5 .5 -7.6 .5 5 .5 .5 .5 -10.4 .5 4.6 .5 .6 .5 .7 .5 0 .5 -1.8 .5 .1 .5 4.1 .5 .3 .5 -2.5 .5 -6.1 .5 8.4 .5 -2.1 .5 3.1 .5 -2.3 .5 -1 .5 -.3 .5 1.6 .5 3.4 .5 -6 .5 -4.8 .5 7.6 .5 -5.7 .5 3.7 .5 .2 .5 3.2 .5 5.6 .5 -7 .5 -1.9 .5 3.2 .5 -4.8 .5 4.3 .5 -2.2 .5 10.5 .5 -12.1 .5 1.5 .5 8.8 .5 -15.6 .5 7.8 .5 -1.2 .5 -7.1 .5 6 .5 3.2 .5 -2 .5 -6.5 .5 1.4 .5 8.2 .5 1.6 .5 -2.3 .5 7.2 .5 -12.1 .5 11.7 .5 -6.5 .5 5.2 .5 -8.7 .5 -1.7 .5 7.5 .5 -1.2 .5 -9.7 .5 5.8 .5 4.7 .5 -5.2 .5 2.3 .5 4 .5 1.3 .5 -1.7 .5 -2.3 .5 -8.3 .5 11.1 .5 -2.9 .5 3.8 .5 2.1 .5 -2.6 .5 1.9 .5 3.8 .5 -8.6 .5 -1.1 .5 12.2 .5 -11.8 .5 5.4 .5 -4 .5 7.4 .5 -5.1 .5 .7 .5 -1.4 .5 1.3 .5 -5.8 .5 1.7 .5 -1.7 .5 5 .5 .3 .5 8.6 .5 -12.3 .5 12.4 .5 -6.3 .5 -.3 .5 -7.8 .5 1 .5 9.7 .5 0 .5 -2.9 .5 -2 .5 -3.8 .5 2.1 .5 2.2 .5 4.1 .5 -10.9 .5 10 .5 -8.6 .5 7 .5 -2.2 .5 0 .5 -2.5 .5 3.5 .5 -1.3 .5 -2.8 .5 -3.2 .5 4.4 .5 5.3 .5 5 .5 -8 .5 -1.7 .5 11 .5 -9.9 .5 -2.3 .5 3.7 .5 1.3 .5 -4.6 .5 1.5 .5 4.8 .5 .7 .5 -4.5 .5 .8 .5 1.9 .5 -4 .5 -.3 .5 -7.8 .5 13.2 .5 1.7 .5 -3 .5 -4.5 .5 5.5 .5 -3.5 .5 .7 .5 -1.3 .5 4.3 .5 -.4 .5 3 .5 -4.5 .5 -1.1 .5 2.7 .5 1.1 .5 .9 .5 -9 .5 2.8 .5 1.9 .5 -2.1 .5 3.8 .5 -4.5 .5 1.2 .5 2.6 .5 2.8 .5 -6.7 .5 6.9 .5 -2.2 .5 0 .5 -2.1 .5 3.6 .5 -4.6 .5 2.6 .5 .4 .5 -1.7 .5 .1 .5 -3.2 .5 4.7 .5 -1.2 .5 -.6 .5 6.8 .5 -2.5 .5 -2.1 .5 1.2 .5 -.4 .5 -3.6 .5 -4.1 .5 2 .5 4.8 .5 -2.2 .5 .8 .5 -3.4 .5 -1.9 .5 5.2 .5 .6 .5 7.8 .5 -8.4 .5 .3 .5 -3 .5 .1 .5 6.4 .5 -8.2 .5 7.1 .5 -8.1 .5 9.8 .5 -10.1 .5 0 .5 -3.6 .5 11.3 .5 -.6 .5 -1.2 .5 -2.5 .5 -4 .5 11.7 .5 -2.1 .5 6.6 .5 -3.2 .5 -1.5 .5 -8.9 .5 5.6 .5 -9.3 .5 17.4 .5 -18.2 .5 5.6 .5 -1.8 .5 8 .5 6.2 .5 -6.6 .5 6.8 .5 -6.2 .5 -1.5 .5 -7.4 .5 10.7 .5 -7.3 .5 2.4 .5 2.2 .5 -2.8 .5 1.1 .5 -5.4 .5 11.1 .5 -2.2 .5 -3.3 .5 -3.2 .5 .5 .5 2.9 .5 3.2 .5 -8.2 .5 -5.7 .5 9.3 .5 2 .5 -5.4 .5 2.1 .5 2.5 .5 -4.6 .5 7.9 .5 -6 .5 .3 .5 .5 .5 -2 .5 2 .5 -4.1 .5 6.9 .5 -4.7 .5 7.8 .5 -10 .5 8.7 .5 -2.6 .5 -.6 .5 -3.4 .5 -1.7 .5 4.2 .5 3.4 .5 -2.1 .5 2.8 .5 -3.8 .5 -2.6 .5 1 .5 5.2 .5 -8.9 .5 2.1 .5 -1.1 .5 3.4 .5 -2.4 .5 8.1 .5 -4.1 .5 1.8 .5 -5.7 .5 4.3 .5 -1.9 .5 1.9 .5 -3.5 .5 1.7 .5 .7 .5 2.7 .5 -4.8 .5 .8 .5 -.7 .5 4.9 .5 -3.7 .5 -3.4 .5 5 .5 -2.2 .5 7.2 .5 -4.7 .5 -2.1 .5 -1.7 .5 1.4 .5 .2 .5 -1.8 .5 2.6 .5 10.1 .5 -9.2 .5 1.1 .5 -3.9 .5 5.1 .5 -.6 .5 -4.8 .5 0 .5 5.6 .5 -.2 .5 -2.3 .5 .3 .5 -4.1 .5 5.9 .5 -8.9 .5 11 .5 1 .5 -11.1 .5 -3.2 .5 6.2 .5 -6.2 .5 2.2 .5 .5 .5 13.8 .5 -6.2 .5 -2 .5 -.9 .5 -1.4 .5 -.7 .5 .8 .5 -.2 .5 5.2 .5 -13 .5 5.6 .5 5.6 .5 -.3 .5 -1.2 .5 -.9 .5 6.2 .5 1.5 .5 -4.4 .5 -5.3 .5 4.2 .5 -1.5 .5 -4.6 .5 1 .5 -2 .5 10.1 .5 -4.7 .5 1.9 .5 -.4 .5 -3.5 .5 .3 .5 -2.8 .5 3.5 .5 -5.1 .5 9.1 .5 -6.9 .5 6.5 .5 -6.4 .5 3.2 .5 -2.9 .5 3.3 .5 4.5 .5 -9.5 .5 2.7 .5 -.3 .5 2 .5 -8.7 .5 4.1 .5 -4.4 .5 11.7 .5 -5 .5 -3.5 .5 3 .5 2 .5 -11.2 .5 3.6 .5 9.8 .5 -5.7 .5 -8.7 .5 -1.3 .5 4 .5 1.6 .5 10.7 .5 -9.5 .5 5.8 .5 -2.5 .5 -5.6 .5 4.9 .5 -6.6 .5 3.7 .5 -.4 .5 .5 .5 -2.9 .5 4.4 .5 -1.8 .5 -1.8 .5 -6.1 .5 .3 .5 3.4 .5 -5.4 .5 5.8 .5 -5.3 .5 .8 .5 -2 .5 6 .5 -8.4 .5 2.2 .5 -.5 .5 -5.7 .5 4.7 .5 11.8 .5 -9.9 .5 -.8 .5 -.2 .5 -1.1 .5 2.5 .5 2 .5 -9.8 .5 10.7 .5 -2.3 .5 3.8 .5 -2.2 .5 -3.7 .5 -1.5 .5 .2 .5 6.8 .5 -11.1 .5 8.7 .5 -1 .5 3.8 .5 -3.8 .5 -.7 .5 1.5 .5 -1.2 .5 5.3 .5 2.5 .5 -5.8 .5 2.9 .5 -4.8 .5 -2.9 .5 7.8 .5 -7.6 .5 3 .5 6.2 .5 -4.1 .5 5.1 .5 1 .5 -11.8 .5 12.4 .5 -2.6 .5 .8 .5 -2 .5 -1.9 .5 4 .5 1.6 .5 3.6 .5 -5.2 .5 -4 .5 8.2 .5 -1.1 .5 -.5 .5 5.2 .5 -9.6 .5 1 .5 2.5 .5 6.1 .5 -1.9 .5 -8.6 .5 9.5 .5 -2.9 .5 -.5 .5 1.8 .5 1.4 .5 -.4 .5 .1 .5 -2.2 .5 1.8 .5 -.3 .5 6.6 .5 -6.7 .5 1.3 .5 .3 .5 -8.9 .5 9 .5 -2.3 .5 5.1 .5 .6 .5 -5.5 .5 7.5 .5 -10.1 .5 1.1 .5 2.3 .5 3.5 .5 -3.3 .5 .9 .5 2.6 .5 -10.5 .5 8.5 .5 -8.9 .5 6.3 .5 -2.3 .5 -.5 .5 .6 .5 2.5 .5 4.4 .5 -3.2 .5 -12.3 .5 12.5 .5 -2.8 .5 .8 .5 -10.8 .5 10.9 .5 -1.8 .5 2.3 .5 -2.7 .5 -.8 .5 -8.3 .5 13.7 .5 -5.1 .5 -2.3 .5 1.3 .5 3.6 .5 -.4 .5 2.6 .5 -4.3 .5 1.3 .5 -2.9 .5 -2.6 .5 2.3 .5 .6 .5 9.8 .5 -9.5 .5 -4.5 .5 9.5 .5 -1.1 .5 .4 .5 5.8 .5 -10.3 .5 7.6 .5 -5.9 .5 6.7 .5 -7.2 .5 -1.1 .5 7.3 .5 -1.5 .5 -1.3 .5 7.5 .5 -5.3 .5 -3.3 .5 2 .5 -4.5 .5 -.8 .5 4.9 .5 -1 .5 -.9 .5 2.6 .5 .5 .5 4.7 .5 -2.1 .5 -2.7 .5 3.3 .5 -3.6 .5 -5.7 .5 12.2 .5 -7.1 .5 9.2 .5 -7 .5 1.2 .5 1.4 .5 2.4 .5 2.8 .5 .4 .5 -6.3 .5 1.6 .5 2.6 .5 5.4 .5 -10.9 .5 1 .5 .2 .5 -.8 .5 2.5 .5 2.8 .5 -7.2 .5 1.8 .5 2.7 .5 2.8 .5 -6.8 .5 11.4 .5 -13.8 .5 12.8 .5 .8 .5 -5.4 .5 -2.8 .5 4.8 .5 .2 .5 -8.5 .5 4.9 .5 3.2 .5 -2.6 .5 1.6 .5 5 .5 -3.3 .5 -6.5 .5 -4.6 .5 9.5 .5 -4.4 .5 5.7 .5 -11.4 .5 8.2 .5 7.3 .5 -5.4 .5 -5 .5 .9 .5 -4 .5 2.7 .5 12.2 .5 -4.5 .5 -8.4 .5 4.3 .5 .1 .5 -1.1 .5 -2 .5 10.1 .5 4.4 .5 -4.2 .5 -2.4 .5 6.6 .5 -13.8 .5 -3.5 .5 2.7 .5 8.7 .5 -.1 .5 -3.8 .5 5.8 .5 -5.1 .5 -3 .5 3.1 .5 -5 .5 7.9 .5 -.4 .5 -4.2 .5 5.4 .5 -3.8 .5 -4.3 .5 10.4 .5 -10.4 .5 7.6 .5 .8 .5 -3.4 .5 -4.6 .5 11 .5 -5.5 .5 1.8 .5 -6.2 .5 5.6 .5 -3.6 .5 .6 .5 2.3 .5 -1.7 .5 -1.2 .5 -6.1 .5 12.1 .5 -4.5 .5 5.1 .5 -7 .5 2.7 .5 1.1 .5 -3 .5 -.1 .5 -1.9 .5 5.7 .5 1.8 .5 -3.8 .5 3.8 .5 -11.9 .5 13.5 .5 -7.2 .5 1 .5 6.2 .5 -.7 .5 2.5 .5 -1.6 .5 -4.7 .5 1.5 .5 -7.4 .5 14.1 .5 -6.5 .5 -5.6 .5 9.3 .5 -6.4 .5 -8.6 .5 5.1 .5 13.8 .5 -6 .5 -7 .5 4.9 .5 .3 .5 -1.4 .5 .1 .5 -5.1 .5 6.6 .5 -1.1 .5 4.9 .5 .3 .5 -5.3 .5 -3.9 .5 .2 .5 -5.8 .5 9.4 .5 -.2 .5 -2.4 .5 2.9 .5 5.3 .5 -2.6" fill="none" stroke="#0b0908" stroke-width="1.4" stroke-linejoin="round"/>
<path d="M950.3 177.6l.8 -.2 .8 -1.5 .8 1.6 .8 -2.6 .8 -2.3 .8 7.4 .8 -2.3 .8 -5.1 .8 2.2 .8 1 .8 2.2 .8 2.1 .8 -1.9 .8 -1.4 .8 1.9 .8 -1.2 .8 .9 .8 -1.6 .8 -1 .8 5.3 .8 -3.2 .8 1 .8 -1.4 .8 .3 .8 .5 .8 2.2 .8 1.2 .8 -1.3 .8 -2.1 .8 6.6 .8 -3.5 .8 .3 .8 -3 .8 .7 .8 1.8 .8 -4.7 .8 2 .8 2.5 .8 4.3 .8 -4.1 .8 -2.9 .8 -.3 .8 4.6 .8 -3.7 .8 1 .8 4.9 .8 -3.9 .8 -.9 .8 -.8 .8 4.4 .8 0 .8 -4.1 .8 -1.5 .8 2.6 .8 3.1 .8 -1.9 .8 -3.4 .8 3.2 .8 .9 .8 -1.7 .8 .4 .8 -.3 .8 -1 .8 -.4 .8 -1.4 .8 .3 .8 -1.1 .8 4.5 .8 .1 .8 -.9 .8 .8 .8 -.8 .8 -1.7 .8 1.9 .8 -1 .8 .2 .8 -3.9 .8 3.2 .8 2 .8 -1.6 .8 -1 .8 -1.7 .8 2 .8 4.3 .8 -4.2 .8 3.5 .8 -3.2 .8 3.2 .8 -3.3 .8 1.9 .8 .6 .8 -.1 .8 -3.2 .8 1.2 .8 -1 .8 1.5 .8 -.4 .8 .1 .8 1.8 .8 -3.4 .8 .5 .8 .5 .8 .7 .8 -1.2 .8 2.7 .8 -3.3 .8 5.9 .8 -3.6 .8 2.3 .8 -4.7 .8 1.6 .8 .9 .8 3.3 .8 -3.4 .8 2.8 .8 -4.6 .8 4.5 .8 -4.6 .8 -2.3 .8 -.5 .8 4.4 .8 -.9 .8 .9 .8 -.8 .8 1.1 .8 2.3 .8 -3.9 .8 .9 .8 -1.4 .8 -2.9 .8 2.9 .8 3.7 .8 -4.9 .8 6.4 .8 -3.7 .8 -.3 .8 1 .8 -2 .8 0 .8 2.6 .8 -4.3 .8 1.1 .8 -2.2 .8 2.7 .8 4.9 .8 -2.8 .8 -4.4 .8 -1.8 .8 4.8 .8 .3 .8 -2.7 .8 4 .8 -1.9 .8 .7 .8 .2 .8 .8 .8 -3.1 .8 -.5 .8 4.5 .8 -3 .8 -2.1 .8 3.5 .8 -1.5 .8 1.8 .8 4.8 .8 -1.3 .8 -4.3 .8 -1.4 .8 2.8 .8 -1.7 .8 2.8 .8 .4 .8 1 .8 -1 .8 -2.6 .8 2.9 .8 .7 .8 .7 .8 2.3 .8 -4.3 .8 2.1 .8 -.6 .8 -.2 .8 3.3 .8 -2.3 .8 5.5 .8 -8.9 .8 8.5 .8 -3.3 .8 -1.9 .8 3.2 .8 .1 .8 1.9 .8 .8 .8 -4 .8 1.7 .8 .8 .8 -.2 .8 -1 .8 3.6 .8 -2.1 .8 -3.4 .9 3.4 .8 -1 .8 -.1 .8 2.4 .8 -.4 .8 -.7 .8 .3 .8 1 .8 -3.1 .8 1.5 .8 2.5 .8 -3.8 .8 .2 .8 -.3 .8 3.5 .8 -3.1 .8 3.2 .8 -3.1 .8 1.3 .8 .3 .8 -1.8 .8 -.9 .8 4 .8 -2.7 .8 1.9 .8 .3 .8 -4.4 .8 5.6 .8 -2.3 .8 -.9 .8 -.1 .8 -.2 .8 1.6 .8 3.8 .8 -4.5 .8 -2.1 .8 1.8 .8 4.9 .8 -4.1 .8 3.9 .8 -5.6 .8 0 .8 -.8 .8 .5 .8 1.8 .8 .5 .8 -3.9 .8 1.5 .8 .6 .8 .8 .8 3.7 .8 .4 .8 -2.2 .8 .7 .8 -3.2 .8 2.4 .8 -4.2 .8 3.5 .8 .8 .8 1.2 .8 -1.9 .8 .1 .8 -1.8 .8 -2.5 .8 3.4 .8 -2.5 .8 3.2 .8 .3 .8 -2.2 .8 -.8 .8 3.5 .8 -.7 .8 2.2 .8 1 .8 1.6 .8 -1.2 .8 -3.8 .8 1.9 .8 4.6 .8 -6.1 .8 1.2 .8 3.5 .8 -1.4 .8 -2.4 .8 2.1 .8 -1.9 .8 3.2 .8 -2 .8 .4 .8 .4 .8 -4.5 .8 3.9 .8 1.2 .8 -.6 .8 -1.2 .8 1 .8 3.2 .8 -1.6 .8 -2.6 .8 3.6 .8 -1.6 .8 -1.6 .8 -2.6 .8 4.9 .8 -3.5 .8 3.1 .8 1.6 .8 -.8 .8 -3.9 .8 .7 .8 3.3 .8 .9 .8 -2.2 .8 -.3 .8 4.2 .8 -.3 .8 -2.9 .8 -1.2 .8 2.1 .8 -3.8 .8 3 .8 .1 .8 2.1 .8 -1.4 .8 -4.9 .8 7.7 .8 -2.7 .8 -5.3 .8 1 .8 4.6 .8 -4.1 .8 4.4 .8 -3.9 .8 -1.1 .8 6.7 .8 .3 .8 -4.2 .8 4 .8 -2.6 .8 .3 .8 -1.4 .8 1.8 .8 1.7 .8 .1 .8 1.3 .8 -.5 .8 -2.4 .8 -2.4 .8 2.8 .8 -.4 .8 -2.2 .8 -1.5 .8 .7 .8 -1.5 .8 1.3 .8 2.3 .8 2.2 .8 -2.4 .8 -1.3 .8 .1 .8 .6 .8 2.9 .8 -2.3 .8 -4 .8 3.7 .8 -3.6 .8 2.1 .8 1.7 .8 -2.1 .8 1.6 .8 2.7 .8 -4.2 .8 3.9 .8 -.3 .8 -.5 .8 -3.2 .8 4.1 .8 -1.5 .8 .7 .8 -1.4 .8 2.6 .8 -5.4 .8 3.6 .8 .8 .8 3.5 .8 -8.4 .8 .8 .8 2 .8 1 .8 -2.3 .8 3.2 .8 -2 .8 .7 .8 -3.1 .8 3.7 .8 -.7 .8 2.8 .8 -1.4 .8 1.4 .8 -2.4 .8 -2.3 .8 3 .8 -4.7 .8 .2 .8 1.6 .8 2.9 .8 .4 .8 -5.8 .8 2.8 .8 3.1 .8 -3.4 .8 -2.6 .8 3.5 .8 2.6 .8 -4.1 .8 0 .8 5.4 .8 -2.9 .8 -3.8 .8 4 .8 .7 .8 -3.2 .8 1 .8 1.3 .8 -1.2 .8 2.5 .8 -.5 .8 -.9 .8 1.2 .8 -4 .8 -1.1 .8 -1.2 .8 1.4 .8 -1.3 .8 1.7 .8 2.3 .8 .8 .8 -1.8 .8 -.5 .8 -.9 .8 .2 .8 -2.4 .8 -.5 .8 -1.5 .8 1.4 .8 .9 .8 -1.5 .8 .2 .8 2.9 .8 -3.5 .8 -.4 .8 -1.7 .8 .5 .8 -3.8 .8 2.7 .8 -.3 .8 0 .8 -5.3 .8 2.2 .8 3 .8 -1.4 .8 -4.4 .8 1.1 .8 -.5 .8 3.3 .8 1.1 .8 -2.1 .8 -2.6 .8 4 .8 -4.1 .8 6.5 .8 -3.6 .8 .2 .8 .2 .8 2.6 .8 .6 .9 1.1 .8 -.7 .8 .4 .8 2.7 .8 1.1 .8 -1.9 .8 .9 .8 .8 .8 -1.8 .8 -.6 .8 -1.4 .8 1.9 .8 4.4 .8 -4.8 .8 -1.1 .8 2.1 .8 .9 .8 .2 .8 -2.6 .8 2.6 .8 -1.9 .8 .1 .8 .3 .8 -1.5 .8 .6 .8 2.4 .8 -3.7 .8 1.4 .8 1.6 .8 -.6 .8 -.1 .8 -3 .8 -.3 .8 2 .8 -.8 .8 -2.5 .8 3.4 .8 .9 .8 2 .8 -3.2 .8 -.3 .8 -1.2 .8 2 .8 -1.1 .8 4.8 .8 -5.6 .8 4.1 .8 -2.9 .8 -1.9 .8 3.2 .8 0 .8 2.5 .8 -1.4 .8 -1.3 .8 -.8 .8 -.4 .8 1.4 .8 .8 .8 -1.9 .8 .3 .8 2.5 .8 -2.3 .8 1.8 .8 -.1 .8 -.7 .8 4.5 .8 -.5 .8 -1.7 .8 -2.3 .8 3.3 .8 -.5 .8 .4 .8 .4 .8 -.8 .8 5.9 .8 -3.1 .8 -1.3 .8 1.2 .8 -1.2 .8 -.5 .8 .1 .8 2.7 .8 1.8 .8 .8 .8 -2.1 .8 .3 .8 -3.9 .8 -.3 .8 3.2 .8 2.8 .8 1 .8 -3 .8 -2 .8 2 .8 .5 .8 -1.7 .8 1.5 .8 2.3 .8 -2.9 .8 1.1 .8 4 .8 -2.7 .8 .1 .8 -1.9 .8 2.8 .8 -4.8 .8 5.8 .8 -2.6 .8 -1.7 .8 .4 .8 1 .8 -4.3 .8 4 .8 .6 .8 -2.8 .8 3.4 .8 1.6 .8 -5.4 .8 1.7 .8 2.8 .8 3.1 .8 -5 .8 1.4 .8 -1.6 .8 1.7 .8 .9 .8 -2.2 .8 2.6 .8 4.1 .8 -2.1 .8 -3.3 .8 .6 .8 -3.3 .8 2.3 .8 -.5 .8 -.8 .8 -2.2 .8 7.1 .8 -2.1 .8 -3.3 .8 3.9 .8 .1 .8 -4.1 .8 5.3 .8 -7.2 .8 6.4 .8 -3.8 .8 2.9 .8 -4.5 .8 4.1 .8 2 .8 .4 .8 -2.3 .8 .2 .8 -1.9 .8 .6 .8 1 .8 -2.6 .8 3.3 .8 -1.2 .8 1.5 .8 .8 .8 -2 .8 -1.6 .8 3 .8 -2 .8 1.2 .8 .3 .8 -2.5 .8 3.8 .8 -3.7 .8 2.3 .8 1.9" fill="none" stroke="#0b0908" stroke-width="4.2" stroke-linejoin="round"/>
<path d="M950.3 176.7l.5 -.1 .5 -6.8 .5 5.6 .5 4.8 .5 -8.7 .5 7.1 .5 -5.8 .5 -.6 .5 7.2 .5 -9.5 .5 4.2 .5 7.3 .5 -6.5 .5 -5.4 .5 3.1 .5 4.1 .5 4.7 .5 -13.7 .5 9.5 .5 .9 .5 4.1 .5 -2.8 .5 -2.5 .5 -.7 .5 4.3 .5 -2.2 .5 -1.7 .5 -1.3 .5 4.9 .5 -3.7 .5 -1.3 .5 5.8 .5 -1.3 .5 -4.5 .5 5.4 .5 1.8 .5 -2.7 .5 3.7 .5 -10.1 .5 12.8 .5 -7.1 .5 3.1 .5 -5.6 .5 -2.2 .5 7.1 .5 -1.6 .5 1.6 .5 -6.9 .5 7.8 .5 -.7 .5 -3.7 .5 1.2 .5 4.1 .5 -3.2 .5 -2.5 .5 5.9 .5 -6.1 .5 -3.3 .5 15.7 .5 -12.7 .5 7.7 .5 1.3 .5 -9.1 .5 6.9 .5 -3.1 .5 -.1 .5 -3.2 .5 8.1 .5 -.8 .5 -8.3 .5 10 .5 -3.4 .5 -11 .5 -.9 .5 8.9 .5 -.9 .5 1.6 .5 -2 .5 5.8 .5 -7.1 .5 1.7 .5 4.8 .5 -4.3 .5 -1.6 .5 1.8 .5 .5 .5 -.2 .5 -5.4 .5 5.7 .5 .6 .5 -1.9 .5 4.2 .5 -5.1 .5 -.7 .5 3.9 .5 -7.1 .5 5.5 .5 -.5 .5 -.8 .5 7.6 .5 -4.1 .5 -2.6 .5 .6 .5 .6 .5 4.3 .5 -.6 .5 -3.7 .5 -2.9 .5 5.6 .5 -7.4 .5 9.6 .5 -3.9 .5 -2 .5 3.2 .5 -1.1 .5 -6.4 .5 13.2 .5 -17.1 .5 5.1 .5 9.1 .5 -1.2 .5 -8.2 .5 -2.2 .5 5.7 .5 4.3 .5 -8 .5 8 .5 -7.2 .5 13.7 .5 -3.1 .5 3.1 .5 -5.7 .5 -2.5 .5 -8.1 .5 5.7 .5 .9 .5 -1.7 .5 4 .5 -9 .5 2.2 .5 2.4 .5 2.8 .5 -.8 .5 4.2 .5 -4.2 .5 3 .5 -8.7 .5 7.3 .5 -2.2 .5 .1 .5 5.2 .5 -3.5 .5 -.3 .5 -1.7 .5 -1.6 .5 2.1 .5 -2.4 .5 7.7 .5 -12.2 .5 10.4 .5 -3.7 .5 -2.5 .5 1.8 .5 -4 .5 5.8 .5 -9.4 .5 10.8 .5 -2.4 .5 -1.6 .5 -1.3 .5 -2.1 .5 7.7 .5 -1.4 .5 .1 .5 4.9 .5 -2.8 .5 -5.5 .5 1.7 .5 5.1 .5 1.4 .5 -6.9 .5 -2.6 .5 5.1 .5 -9.3 .5 7.6 .5 1.3 .5 -2.7 .5 -8.2 .5 7.7 .5 7.1 .5 -7.1 .5 4.1 .5 -10.8 .5 4.8 .5 3.6 .5 -1.7 .5 1.2 .5 1.1 .5 -6.2 .5 7.2 .5 -1.4 .5 -1.3 .5 5.1 .5 -2.1 .5 -4.3 .5 .4 .5 4.1 .5 -3.5 .5 -2.3 .5 7.9 .5 -6 .5 .6 .5 -3.7 .5 4.2 .5 -10 .5 10.5 .5 2 .5 -1.9 .5 .1 .5 -1.3 .5 -3 .5 -.8 .5 -2.8 .5 -.3 .5 10.6 .5 -10.1 .5 9.4 .5 .6 .5 -3 .5 -3.3 .5 2.5 .5 1 .5 6.2 .5 -10.6 .5 7.1 .5 1.1 .5 -6.1 .5 6.6 .5 -.9 .5 -2.3 .5 1.1 .5 -.5 .5 6.5 .5 -8.9 .5 -2 .5 -.5 .5 .7 .5 6.1 .5 -5.5 .5 -2.6 .5 -5.8 .5 9.6 .5 2.1 .5 -6.6 .5 2 .5 3.3 .5 -5.4 .5 5.4 .5 6.8 .5 -4.7 .5 5.5 .5 -17.2 .5 6.9 .5 4.1 .5 7.2 .5 -8.5 .5 -4.7 .5 9.3 .5 -6.1 .5 3.5 .5 1.4 .5 1.9 .5 -1.6 .5 5.5 .5 -10.2 .5 4.3 .5 2.2 .5 -.5 .5 -1 .5 -6.6 .5 3.7 .5 -1.5 .5 2.6 .5 -1.1 .5 -1.7 .5 -.9 .5 4.2 .5 -4.4 .5 8.1 .5 3 .5 -7.4 .5 0 .5 -1.3 .5 6 .5 -.5 .5 -3.8 .5 4.5 .5 -1.4 .5 .9 .5 2.1 .5 1.3 .5 -5.6 .5 7.4 .5 -10.4 .5 10.8 .5 -4 .5 -.2 .5 -3.7 .5 10 .5 -2.7 .5 -7.8 .5 -.4 .5 4.8 .5 4.6 .5 -1.3 .5 -4.5 .5 -1.3 .5 5.1 .5 .3 .5 3.3 .5 -8.3 .5 3 .5 -4.3 .5 8.3 .5 -1.7 .5 1.9 .5 -7.6 .5 5.5 .5 -2.9 .5 -1.8 .5 1.5 .5 3 .5 -4.4 .5 -6.9 .5 6.3 .5 1.4 .5 1.1 .5 5.2 .5 -3.6 .5 -.2 .5 -1 .5 2.1 .5 7.9 .5 -12.6 .5 -.4 .5 5.5 .5 -4.3 .5 1.3 .5 8.6 .5 2 .5 -9.1 .5 -1 .5 0 .5 2.6 .5 -5.3 .5 .2 .5 -.9 .5 10.9 .5 -6.4 .5 -2.8 .5 .4 .5 .9 .5 6.2 .5 -6 .5 2.3 .5 -4.1 .5 1.1 .5 4.5 .5 -4.4 .5 1.1 .5 -2.5 .5 7.3 .5 5 .5 -10 .5 -1.4 .5 2.8 .5 -.2 .5 -3.2 .5 5.4 .5 -2.6 .5 -9.5 .5 10 .5 -4.5 .5 3.3 .5 1 .5 5.7 .5 -3.3 .5 -5.3 .5 -.7 .5 5.6 .5 -2.5 .5 -3.6 .5 3.7 .5 6.7 .5 -7.4 .5 -.5 .5 7.6 .5 -5.7 .5 -.2 .5 -8.4 .5 8.8 .5 3.4 .5 -3.9 .5 -1.5 .5 11.4 .5 -5.8 .5 -4.8 .5 2.2 .5 -1 .5 -1.1 .5 -1.8 .5 -2.2 .5 4.9 .5 8.7 .5 -7.5 .5 -.4 .5 -7 .5 5.2 .5 .4 .5 -4.4 .5 11.5 .5 -7.4 .5 1.2 .5 2.6 .5 -5.4 .5 -.1 .5 -1.6 .5 -.1 .5 8.9 .5 -5.6 .5 2 .5 -1 .5 5.5 .5 -1 .5 4.7 .5 -8.3 .5 -1.4 .5 4.6 .5 1.2 .5 .4 .5 -.3 .5 .9 .5 .2 .5 -4.8 .5 -1 .5 .1 .5 1.2 .5 -1 .5 .2 .5 -7.2 .5 3.3 .5 1.9 .5 7.4 .5 -1.7 .5 1.4 .5 -5.3 .5 .8 .5 -4.5 .5 8.9 .5 -1 .5 2.1 .5 -5.3 .5 .3 .5 1.9 .5 -5.8 .5 5.4 .5 -6.5 .5 3.4 .5 12.3 .5 -9.1 .5 7 .5 1.7 .5 -4.7 .5 -9.2 .5 9.7 .5 4.9 .5 -7.5 .5 3.4 .5 2.3 .5 -7 .5 -.4 .5 -2.4 .5 8.1 .5 -3.8 .5 -2.6 .5 -4.4 .5 10.5 .5 -9.5 .5 3.6 .5 .3 .5 1 .5 -1.7 .5 2.4 .5 -3.3 .5 -6.5 .5 8.8 .5 6.1 .5 -3.4 .5 -2.8 .5 3.4 .5 -1.3 .5 -9.6 .5 8.6 .5 .3 .5 -5.3 .5 2 .5 5.5 .5 -12.8 .5 4.6 .5 2.9 .5 11.3 .5 -4.3 .5 -1 .5 -6.5 .5 3.8 .5 -.5 .5 -1.3 .5 8.2 .5 -5.2 .5 -2.1 .5 5.8 .5 -2 .5 3.2 .5 -4.9 .5 -9.1 .5 6.3 .5 -1.5 .5 4.6 .5 -3 .5 -4 .5 -2.2 .5 8.3 .5 -.2 .5 -1.4 .5 -1.6 .5 -1.9 .5 1 .5 1.2 .5 1.1 .5 -4.8 .5 9 .5 -7.8 .5 8.4 .5 -1.5 .5 -2.5 .5 -.8 .5 .3 .5 3.2 .5 -3.7 .5 3.9 .5 -.4 .5 2.2 .5 -2.5 .5 -.9 .5 5.3 .5 -6.8 .5 -2.4 .5 3.9 .5 -4.4 .5 -3.2 .5 6.2 .5 6.5 .5 -13.7 .5 11.5 .5 -2.3 .5 -.7 .5 .5 .5 -.1 .5 -4 .5 5.8 .5 .9 .5 -1.8 .5 -6.5 .5 7.4 .5 -2.1 .5 -3.3 .5 1.9 .5 3 .5 -.9 .5 0 .5 3.2 .5 -10.7 .5 5.1 .5 -5.5 .5 8.1 .5 3.6 .5 -5.6 .5 -3 .5 1.8 .5 -.5 .5 4.9 .5 -8.4 .5 3.9 .5 -2.3 .5 -.3 .5 -1 .5 -5.6 .5 6.1 .5 6.1 .5 4.6 .5 -2.3 .5 -7.8 .5 11 .5 -3.7 .5 .7 .5 -5.4 .5 .7 .5 6.3 .5 -11.4 .5 7.4 .5 -10.7 .5 5.4 .5 7.3 .5 1.1 .5 -2.8 .5 -1.6 .5 -1.8 .5 4.8 .5 -4.3 .5 1.1 .5 -4.2 .5 2.1 .5 9.4 .5 -13.6 .5 2 .5 8.5 .5 -3 .5 -1.1 .5 5 .5 -.3 .5 -2.7 .5 -2.1 .5 -6.1 .5 7 .5 -3.2 .5 .4 .5 8.5 .5 -17.4 .5 10.6 .5 .9 .5 -4 .5 -2.2 .5 8.7 .5 -8.3 .5 13.3 .5 -14.2 .5 6.7 .5 3 .5 -3.7 .5 -4 .5 5.9 .5 3.5 .5 -1.1 .5 -9.7 .5 5.6 .5 -2.3 .5 10.1 .5 -5.9 .5 -5.3 .5 .5 .5 3.1 .5 -6.3 .5 5.6 .5 1.1 .5 -4.1 .5 .6 .5 7 .5 -8.4 .5 7.7 .5 -8.7 .5 -2.4 .5 5.8 .5 -1.2 .5 -8.9 .5 8.8 .5 -.5 .5 1 .5 2.6 .5 -3.7 .5 -2.2 .5 4.6 .5 -5 .5 2.5 .5 -.8 .5 -1.7 .5 3.9 .5 2.8 .5 0 .5 1.5 .5 4.1 .5 -7.8 .5 -4.3 .5 -.5 .5 .8 .5 4.1 .5 -1.6 .5 -2.7 .5 1 .5 .1 .5 -2.5 .5 5.6 .5 -2.4 .5 -5.6 .5 2.7 .5 2.3 .5 -1.6 .5 2.5 .5 -1.2 .5 1.2 .5 -8 .5 6.8 .5 0 .5 -.1 .5 5.1 .5 -5.4 .5 -1.4 .5 -.3 .5 9 .5 -6.5 .5 -.7 .5 -3.3 .5 -1.9 .5 1.9 .5 4.5 .5 -8.5 .5 -5.9 .5 11.9 .5 -5.7 .5 -.6 .5 4.3 .5 -8.5 .5 5.5 .5 -6.1 .5 7.6 .5 -3.7 .5 -3.7 .5 13.3 .5 -9.4 .5 -3.5 .5 1.6 .5 -3.5 .5 2.9 .5 4.8 .5 -2.1 .5 1.1 .5 -.8 .5 2.2 .5 -9.5 .5 5 .5 3.2 .5 3.4 .5 -.3 .5 -2.3 .5 -3.7 .5 .8 .5 5.3 .5 -5.3 .5 -4.2 .5 15.9 .5 -18 .5 10.7 .5 -1.7 .5 2.9 .5 -1.8 .5 -.1 .5 -5.7 .5 9.6 .5 -2.9 .5 3.7 .5 6.3 .5 -18.2 .5 13.3 .5 .8 .5 0 .5 -5 .5 4.1 .5 0 .5 -8.5 .5 12.5 .5 -4.5 .5 .3 .5 -4.6 .5 -2.9 .5 9.8 .5 -4 .5 1.4 .5 4.4 .5 -5.5 .5 3.1 .5 -3.8 .5 -2 .5 -2.2 .5 5.8 .5 -3.8 .5 -1.8 .5 3.4 .5 4.5 .5 -3.2 .5 -.1 .5 -3.5 .5 5.4 .5 1.5 .5 -.2 .5 -1.3 .5 -4.4 .5 3.9 .5 -5.7 .5 5.6 .5 -2.3 .5 3.2 .5 -5.6 .5 1.8 .5 9.5 .5 -10.2 .5 -.4 .5 1.7 .5 -5.2 .5 4.2 .5 -4.9 .5 2 .5 -.5 .5 3 .5 4 .5 -8.3 .5 6.9 .5 -1.5 .5 1.4 .5 -3.7 .5 .4 .5 -2.3 .5 8.3 .5 -8.1 .5 1.7 .5 .3 .5 2.2 .5 3 .5 -7.5 .5 6.8 .5 1.2 .5 -5.5 .5 -7.6 .5 9.5 .5 5.4 .5 -7.2 .5 10 .5 -15.6 .5 1.7 .5 14.1 .5 -11.4 .5 -.8 .5 2.3 .5 -1.8 .5 6.3 .5 -7.1 .5 1.3 .5 .7 .5 6.3 .5 -9.8 .5 -1.8 .5 11.7 .5 .1 .5 -12 .5 11.4 .5 -3.4 .5 6.3 .5 -3.9 .5 .1 .5 .7 .5 2.5 .5 -10.5 .5 11.3 .5 -3.1 .5 -.6 .5 -2.2 .5 -1.2 .5 3.5 .5 -.3 .5 2.9 .5 -1.6 .5 -1.8 .5 .6 .5 -2.1 .5 3.3 .5 -2.8 .5 4 .5 -1 .5 3.8 .5 -7.6 .5 4.5 .5 1.8 .5 -10.8 .5 9.9 .5 1.5 .5 -1 .5 -.2 .5 3.2 .5 -4.4 .5 -2.9 .5 9 .5 -3.5 .5 -8.7 .5 4.4 .5 4.5 .5 4 .5 -8.2 .5 6.1 .5 -7.8 .5 7.7 .5 1.8 .5 -2.9 .5 .5 .5 -4.9 .5 7.5 .5 -2 .5 -3.7 .5 6.4 .5 1.2 .5 -10 .5 4.8 .5 2.7 .5 6.3 .5 -5.2 .5 -8.7 .5 3.5 .5 .7 .5 1.3 .5 -4 .5 -2 .5 2.5 .5 .8 .5 1.2 .5 2.6 .5 -2 .5 -3.7 .5 6.7 .5 3.1 .5 -6.1 .5 -8.1 .5 9.3 .5 -1 .5 2.7 .5 2.1 .5 1.4 .5 -9.2 .5 5.6 .5 -6.3 .5 -1.8 .5 4.7 .5 -3.4 .5 0 .5 .9 .5 .5 .5 1.9 .5 -2.6 .5 3 .5 8.4 .5 -7.6 .5 -3.9 .5 10.5 .5 -1.3 .5 1 .5 -10.4 .5 3.8 .5 -.6 .5 -1.2 .5 -1.8 .5 6.3 .5 -7.8 .5 11.7 .5 -.9 .5 -5.7 .5 9.2 .5 -9.2 .5 -2 .5 2.2 .5 1 .5 -2.3 .5 11 .5 -13.8 .5 10 .5 -.8 .5 3.2 .5 -1.1 .5 -7.8 .5 -3.4 .5 5.9 .5 -.2 .5 -2.7 .5 7.3 .5 -.8 .5 -12.6 .5 8.8 .5 -4.7 .5 9.7 .5 -6.3 .5 5.4 .5 -4.2 .5 -2.8 .5 -4.6 .5 12.4 .5 -6.8 .5 -1.2 .5 6.8 .5 5.6 .5 -12.3 .5 6.2 .5 .9 .5 -9.9 .5 .9 .5 4.9 .5 4.4 .5 -2.4 .5 -4.5 .5 6.6 .5 0 .5 -4.1 .5 6.3 .5 -.8 .5 -6.5 .5 3.3 .5 3.3 .5 -5.6 .5 4.7 .5 -5.4 .5 1.6 .5 -5 .5 11.9 .5 -3.5 .5 -.9 .5 3.7 .5 -4.3 .5 -.6 .5 4.1 .5 -9 .5 -3 .5 2.1 .5 3.5 .5 -4.1 .5 7.9 .5 -3.6 .5 6.1 .5 -7.6" fill="none" stroke="#0b0908" stroke-width="1.4" stroke-linejoin="round"/>
<path d="M950.3 256.6l.8 -1.9 .8 2.5 .8 -1 .8 -3.3 .8 5.4 .8 -2.2 .8 1.6 .8 2.6 .8 -3.1 .8 -2.7 .8 .9 .8 3.6 .8 -5.1 .8 3.7 .8 .3 .8 -3.1 .8 2.8 .8 .9 .8 -2.6 .8 .6 .8 2.2 .8 -3.7 .8 1 .8 3.8 .8 -1.7 .8 -3 .8 3 .8 4.1 .8 -7.1 .8 4.9 .8 -.1 .8 -1.8 .8 1.6 .8 -2.5 .8 4.6 .8 .5 .8 -5.4 .8 1.5 .8 .7 .8 -1.5 .8 2.1 .8 -2.8 .8 3.4 .8 -1.8 .8 .6 .8 1.1 .8 1 .8 -3.9 .8 3.8 .8 .2 .8 -2 .8 3.4 .8 -4.7 .8 .5 .8 2 .8 -2.2 .8 4.3 .8 -2.4 .8 3.2 .8 -5.7 .8 .2 .8 4.8 .8 -4.9 .8 4.5 .8 -3.9 .8 2.3 .8 1.9 .8 -2.5 .8 -2.3 .8 1.4 .8 3.4 .8 -1.9 .8 1.1 .8 -1.2 .8 .4 .8 -.9 .8 -1.7 .8 3.3 .8 -.8 .8 -4.4 .8 4.1 .8 2.1 .8 2 .8 -6.8 .8 3.1 .8 .9 .8 .5 .8 -3 .8 2.5 .8 -1.9 .8 .8 .8 -1 .8 1.8 .8 -1.5 .8 1.5 .8 -.8 .8 2.1 .8 1.6 .8 -3.7 .8 -1.3 .8 1 .8 -.6 .8 -2.3 .8 3.5 .8 -1.1 .8 2.9 .8 -2.2 .8 2.2 .8 -.3 .8 -2.6 .8 .3 .8 -.4 .8 .2 .8 2.6 .8 -2.8 .8 .2 .8 -.8 .8 4.6 .8 -3.7 .8 .5 .8 -1.5 .8 2.3 .8 -2.1 .8 .2 .8 -2.8 .8 .8 .8 3.8 .8 1.1 .8 -5 .8 3.8 .8 0 .8 5.1 .8 -7.5 .8 .7 .8 -.8 .8 3.9 .8 .4 .8 -2.7 .8 3.7 .8 1.2 .8 -5.3 .8 2.1 .8 -1.5 .8 -1 .8 .4 .8 .5 .8 -2.2 .8 2.5 .8 1.8 .8 -3.6 .8 .9 .8 -.8 .8 2.7 .8 -1 .8 2.1 .8 -2.5 .8 -2.3 .8 4.2 .8 -1.7 .8 3 .8 -.8 .8 -6.8 .8 1.4 .8 4.2 .8 -1.5 .8 -3 .8 3.6 .8 3.9 .8 -1.2 .8 -3.1 .8 2.6 .8 1.6 .8 -2.3 .8 4.1 .8 -5 .8 6 .8 -1.1 .8 -1.9 .8 -.5 .8 -.2 .8 -1.9 .8 4.1 .8 .7 .8 -.8 .8 -.9 .8 -.3 .8 -2 .8 .7 .8 -1.5 .8 4.2 .8 -2.8 .8 3.8 .8 -3 .8 4.4 .8 .4 .8 .1 .8 -.7 .8 -2.9 .8 .1 .8 -.8 .8 2.3 .8 2.9 .9 -5.6 .8 7.3 .8 -6.1 .8 -1.1 .8 3.2 .8 1.6 .8 -2.9 .8 -1.2 .8 5.8 .8 -5.8 .8 4.4 .8 -1.6 .8 -1 .8 .9 .8 -2.2 .8 0 .8 3.1 .8 -2.7 .8 .6 .8 4.7 .8 .8 .8 -1.3 .8 -.4 .8 -2.3 .8 .8 .8 -1.6 .8 -3.8 .8 5.9 .8 .1 .8 1.7 .8 -4.4 .8 4.9 .8 -3.4 .8 -1.4 .8 2.1 .8 2.5 .8 -1.9 .8 1 .8 -2.6 .8 2.8 .8 1.1 .8 -3.8 .8 2.8 .8 -3.6 .8 3.3 .8 -3.6 .8 4 .8 -.8 .8 -2.3 .8 3.1 .8 -2.7 .8 2.2 .8 -2 .8 3 .8 -2.2 .8 4.2 .8 -2 .8 .2 .8 -3.9 .8 -1.5 .8 2.7 .8 5.4 .8 -5.6 .8 4.5 .8 .1 .8 -3.8 .8 .8 .8 3.2 .8 -3.3 .8 -.2 .8 -.4 .8 1.4 .8 -.4 .8 2.8 .8 -2 .8 2 .8 -2.7 .8 5.5 .8 -5.4 .8 -.1 .8 -1.3 .8 -1.8 .8 1.7 .8 2.3 .8 -2.5 .8 3.8 .8 -5.1 .8 0 .8 4.1 .8 .2 .8 -3.1 .8 4.6 .8 .6 .8 -2.1 .8 -3.4 .8 5.3 .8 -3.1 .8 .2 .8 1.4 .8 -2.4 .8 4.6 .8 -4.4 .8 3.5 .8 -.5 .8 2.1 .8 -2.6 .8 .8 .8 -2.6 .8 .4 .8 -.7 .8 2.8 .8 -2.9 .8 4.5 .8 -3.3 .8 -2.1 .8 1.1 .8 3.8 .8 -3.4 .8 2.3 .8 -4.4 .8 4.2 .8 .7 .8 -.5 .8 .6 .8 -3.6 .8 -1.4 .8 .8 .8 4.4 .8 -.9 .8 .9 .8 -2.8 .8 2.9 .8 -4.8 .8 4 .8 -3 .8 1.3 .8 2.3 .8 .4 .8 -2.1 .8 -.4 .8 3.6 .8 -.7 .8 -3.5 .8 2 .8 -1 .8 2.4 .8 -1 .8 -.1 .8 -.7 .8 -1.3 .8 3.4 .8 -1.4 .8 -5.6 .8 4 .8 1.3 .8 -2.1 .8 -.4 .8 .6 .8 2.1 .8 -2.7 .8 2.7 .8 2 .8 -.8 .8 .1 .8 -2.5 .8 2.9 .8 -2.4 .8 1.8 .8 -4.2 .8 4.9 .8 -3.8 .8 1.3 .8 2.1 .8 -2.2 .8 -.9 .8 .6 .8 2.6 .8 0 .8 -.9 .8 -2.7 .8 .5 .8 2.2 .8 .1 .8 -3 .8 .1 .8 2.8 .8 .8 .8 -2 .8 -2.7 .8 5.7 .8 -3.1 .8 .8 .8 -5.4 .8 3 .8 1 .8 1 .8 -2.5 .8 -1.4 .8 -.2 .8 2.5 .8 1.3 .8 -.1 .8 -4.2 .8 2 .8 1.2 .8 2.1 .8 -.9 .8 -.8 .8 -4 .8 5.5 .8 -2.5 .8 .5 .8 -1.9 .8 .8 .8 -.4 .8 -.2 .8 -1.1 .8 3 .8 .4 .8 -3.1 .8 -.7 .8 -.2 .8 .9 .8 3.4 .8 -3.3 .8 3.9 .8 -6.5 .8 .2 .8 .4 .8 -.4 .8 2.2 .8 2.6 .8 -5.3 .8 1.9 .8 1.7 .8 1.9 .8 -4.8 .8 1.3 .8 .3 .8 -2.9 .8 .5 .8 -2.4 .8 -1.7 .8 -.1 .8 2.7 .8 -.4 .8 -2.9 .8 -3.7 .8 4.1 .8 -3.1 .8 2.3 .8 -3.4 .8 -3 .8 1.3 .8 -1.1 .8 4.4 .8 -8 .8 3.5 .8 .8 .8 -3.1 .8 5.4 .8 .9 .8 1.1 .8 .6 .8 -1.1 .8 2.8 .8 -2.1 .8 1.7 .8 1 .8 .3 .8 1.4 .8 -1.9 .8 1.4 .8 -.7 .8 1.5 .8 .7 .9 -2.1 .8 4.7 .8 1.1 .8 -2.7 .8 -.8 .8 -1.3 .8 1 .8 0 .8 2 .8 -1.4 .8 1.6 .8 -.2 .8 -2 .8 -1.7 .8 .4 .8 .3 .8 2.2 .8 2.5 .8 -4.2 .8 3.3 .8 -1.6 .8 3 .8 2 .8 -2.3 .8 -1.4 .8 .4 .8 1.7 .8 -3.2 .8 -.9 .8 2 .8 3 .8 -4.7 .8 3.8 .8 -.4 .8 -2.2 .8 -1.1 .8 -1.7 .8 1.1 .8 2.8 .8 1.2 .8 -2.7 .8 .2 .8 -.3 .8 6.6 .8 -7.7 .8 -.1 .8 5.3 .8 -4.3 .8 4.4 .8 -3.6 .8 3.9 .8 .8 .8 -3.6 .8 1 .8 -1.8 .8 4 .8 -2.3 .8 -1.2 .8 3 .8 0 .8 -.7 .8 -.6 .8 3 .8 -3.2 .8 -.3 .8 1.5 .8 1.7 .8 -1.7 .8 -.4 .8 -.6 .8 .6 .8 .4 .8 5.6 .8 -7.6 .8 2.9 .8 1.2 .8 -1.8 .8 -.5 .8 3.7 .8 1.9 .8 -.5 .8 -2 .8 -.9 .8 2.4 .8 -4.6 .8 1.8 .8 4.8 .8 -2 .8 -.4 .8 -.6 .8 -.3 .8 -.9 .8 3 .8 -.1 .8 .1 .8 -6 .8 7.8 .8 -.8 .8 1.5 .8 -4.3 .8 -3.3 .8 1.9 .8 .9 .8 6.1 .8 -5.7 .8 .7 .8 3.1 .8 -.2 .8 .2 .8 -2.9 .8 4.9 .8 -3 .8 -2.5 .8 2.6 .8 -3.7 .8 .4 .8 1.2 .8 -1 .8 1.5 .8 -.3 .8 .5 .8 -.8 .8 4.1 .8 -4.3 .8 1 .8 -.7 .8 .7 .8 -1.4 .8 7.1 .8 -4.9 .8 2.3 .8 -2.4 .8 -1.9 .8 1.7 .8 -.3 .8 -1.1 .8 2.8 .8 3.1 .8 -2.8 .8 1.8 .8 .5 .8 -6.6 .8 8 .8 -6.6 .8 6.5 .8 -3.3 .8 .9 .8 3.3 .8 -2.3 .8 -5.5 .8 -.3 .8 1.3 .8 4.6 .8 -1.4 .8 1.2 .8 -.9 .8 1.6 .8 -4.6 .8 -1.6 .8 2.4 .8 3.1 .8 -3.7 .8 -2.7 .8 3.7 .8 2.6 .8 -.5 .8 -1.6 .8 -.3 .8 -3.2 .8 4.3 .8 4 .8 -5 .8 4.5" fill="none" stroke="#0b0908" stroke-width="4.2" stroke-linejoin="round"/>
<path d="M950.3 250.7l.5 5.5 .5 -4.3 .5 -.4 .5 9.9 .5 -2.4 .5 -6.5 .5 -3.3 .5 14.3 .5 -3 .5 -4 .5 -1.9 .5 6.2 .5 5.3 .5 -3.8 .5 -5.7 .5 2.9 .5 -7.1 .5 -5.2 .5 10.7 .5 -1.7 .5 9.7 .5 -7.8 .5 4.8 .5 -.9 .5 -9.8 .5 3.6 .5 .6 .5 -4.7 .5 7.9 .5 -2 .5 -3.7 .5 4.5 .5 -1 .5 3.6 .5 -4.5 .5 .4 .5 1.2 .5 1.5 .5 -1.9 .5 5.9 .5 -4 .5 -1.8 .5 -2 .5 -6.6 .5 5.4 .5 4.3 .5 1.3 .5 4.2 .5 -7.6 .5 7.4 .5 -15.2 .5 11.5 .5 -7.6 .5 10.9 .5 -2.2 .5 -7.1 .5 -1.5 .5 9.6 .5 -3.1 .5 -1.1 .5 -2.7 .5 6.4 .5 -5 .5 .1 .5 -2 .5 4.5 .5 -1.4 .5 -2.1 .5 -.5 .5 1.3 .5 -1.9 .5 9 .5 -1 .5 -6.1 .5 9 .5 -12 .5 7.9 .5 -1.5 .5 -3 .5 6.8 .5 -2.2 .5 -1.3 .5 7 .5 -5.8 .5 0 .5 -2.7 .5 -2.3 .5 5.7 .5 -6.8 .5 .1 .5 3.7 .5 -8.1 .5 9 .5 -.3 .5 1.4 .5 -6.7 .5 1.9 .5 -2.7 .5 -3.7 .5 13.2 .5 -3.3 .5 -4.4 .5 -1.1 .5 3.3 .5 -1 .5 1.4 .5 2.2 .5 3.6 .5 -2.4 .5 3.2 .5 4.4 .5 -7.9 .5 -7.4 .5 -1.4 .5 7.6 .5 6.6 .5 -1.9 .5 2.3 .5 -7.1 .5 -1.8 .5 2.2 .5 -5 .5 5.6 .5 1.4 .5 -5.9 .5 10.1 .5 -10.9 .5 7.7 .5 6.5 .5 -9.8 .5 .9 .5 2.4 .5 -7.4 .5 8.5 .5 -2.6 .5 -2.2 .5 .8 .5 -1.5 .5 .2 .5 3.3 .5 -2.9 .5 2.2 .5 .5 .5 -4.7 .5 6.5 .5 -4.7 .5 5.7 .5 -6.1 .5 .6 .5 1.2 .5 1.4 .5 -.5 .5 3.3 .5 -3.2 .5 -1.5 .5 -3.8 .5 5 .5 -7.7 .5 9.5 .5 -9.8 .5 5 .5 6 .5 -7.6 .5 1.4 .5 -1.1 .5 4.5 .5 -2.6 .5 4 .5 -1.3 .5 -.7 .5 -1.1 .5 .1 .5 2.4 .5 -4.4 .5 4.3 .5 -.4 .5 -1.9 .5 0 .5 1.7 .5 -1.1 .5 -2.1 .5 10.3 .5 -5.1 .5 -4.2 .5 6.5 .5 -4.2 .5 .3 .5 6 .5 -8.7 .5 2.8 .5 .6 .5 -2.4 .5 2.1 .5 -6.7 .5 3.8 .5 -4.5 .5 8.6 .5 -1 .5 -10.7 .5 7.7 .5 6.8 .5 -13.4 .5 11.6 .5 -3.2 .5 -2.4 .5 3.5 .5 -3.9 .5 1.1 .5 -7.6 .5 9.7 .5 -3.4 .5 1.2 .5 -.6 .5 8.3 .5 -9.3 .5 3.5 .5 -6.2 .5 7.5 .5 -1.3 .5 -.6 .5 -5.5 .5 .9 .5 -.3 .5 7.1 .5 -1.8 .5 -4.7 .5 2.7 .5 4.7 .5 -.5 .5 -3.1 .5 -1.7 .5 1.9 .5 -5 .5 3.6 .5 1.9 .5 -2.6 .5 7.3 .5 -6.1 .5 -2.9 .5 5.4 .5 -3.9 .5 5.3 .5 -4.2 .5 1.2 .5 2.2 .5 3 .5 -7 .5 .9 .5 4.3 .5 2.3 .5 -6.2 .5 -.9 .5 -3.1 .5 2.8 .5 -4.4 .5 12.5 .5 -4.1 .5 -.1 .5 7 .5 -7.3 .5 2.2 .5 -5.5 .5 2.6 .5 -3.5 .5 11.9 .5 -15.9 .5 5.7 .5 -.8 .5 2.6 .5 -.6 .5 1 .5 4.2 .5 -3.5 .5 7.6 .5 -4.2 .5 -9.2 .5 2.5 .5 .4 .5 -2.2 .5 5.1 .5 .3 .5 -10.3 .5 3.2 .5 9.7 .5 -6.2 .5 .4 .5 3.1 .5 3.5 .5 .5 .5 -8.2 .5 7.6 .5 6.4 .5 -12.2 .5 1.3 .5 -3.2 .5 2.7 .5 .2 .5 2.9 .5 -.3 .5 4.9 .5 -2.1 .5 -6.5 .5 8.3 .5 -1.7 .5 -7.3 .5 8.3 .5 -7.9 .5 9.7 .5 -2.6 .5 -12.1 .5 8 .5 4 .5 -2.2 .5 -3 .5 5.7 .5 -4.9 .5 6.7 .5 -.8 .5 2.7 .5 -9.3 .5 5.5 .5 -1.2 .5 -3.2 .5 -.5 .5 6.7 .5 -3.5 .5 -1.9 .5 3.7 .5 -.9 .5 -1.6 .5 -4.3 .5 14.4 .5 -8 .5 2.1 .5 -1.3 .5 6.4 .5 -17.6 .5 6.6 .5 9 .5 -1 .5 -11.4 .5 8 .5 -5 .5 -1.6 .5 7 .5 -.6 .5 2.1 .5 -3.5 .5 -2.2 .5 -6 .5 14.6 .5 -5.3 .5 4.5 .5 -10.6 .5 8.3 .5 4.2 .5 -.9 .5 -9.2 .5 1.6 .5 6.6 .5 -4.8 .5 -.6 .5 -4 .5 -2.3 .5 -1.9 .5 10.5 .5 -4.2 .5 1.8 .5 -1.2 .5 1 .5 .9 .5 1.4 .5 -.7 .5 .5 .5 9.6 .5 -12.8 .5 8.5 .5 -14.7 .5 8 .5 -1.5 .5 8.1 .5 4.7 .5 -7.3 .5 -1.2 .5 7.1 .5 -8 .5 3.1 .5 -3 .5 4 .5 -5.8 .5 4.5 .5 5.7 .5 -6.7 .5 -3.8 .5 2.4 .5 3.5 .5 -2.4 .5 -1.7 .5 -2 .5 -.1 .5 2.2 .5 1.9 .5 2.9 .5 -3.6 .5 -2.5 .5 4.3 .5 -3.9 .5 9.6 .5 -8.8 .5 .1 .5 6.9 .5 -15.7 .5 1 .5 6.1 .5 -5.1 .5 -.5 .5 13 .5 -10.6 .5 11.5 .5 -9 .5 6.5 .5 -.5 .5 -6.3 .5 7.7 .5 -1.3 .5 -8.4 .5 2.2 .5 1.7 .5 4.9 .5 3.2 .5 -8.5 .5 3.1 .5 -2.3 .5 5.5 .5 .2 .5 -6.8 .5 6.5 .5 -.4 .5 -5.6 .5 -3 .5 8.7 .5 -6.1 .5 1.6 .5 3.8 .5 1.5 .5 .2 .5 -5.8 .5 3.3 .5 0 .5 .8 .5 -1.7 .5 -1.8 .5 5.8 .5 -.5 .5 5.2 .5 -5.8 .5 -1.7 .5 -6 .5 10.8 .5 -3.4 .5 -5.8 .5 1.8 .5 5.8 .5 -2.3 .5 -6.4 .5 -.2 .5 4.7 .5 5.1 .5 -6.3 .5 4.6 .5 4.1 .5 -6.9 .5 -4.6 .5 3.6 .5 -1.4 .5 1.7 .5 -2.6 .5 -2.1 .5 6.2 .5 -5.3 .5 7.1 .5 -3.4 .5 4 .5 -5.9 .5 5.3 .5 -2.3 .5 1.4 .5 0 .5 6.8 .5 -10.7 .5 6.3 .5 -5 .5 -2.5 .5 .7 .5 .5 .5 1.2 .5 2.6 .5 -3.4 .5 -3.8 .5 2.7 .5 4.2 .5 -.1 .5 -5.8 .5 11.3 .5 -11.5 .5 3.8 .5 -9.2 .5 13.7 .5 -2.9 .5 -4.9 .5 4.9 .5 -3.4 .5 11.8 .5 -9.1 .5 -5.2 .5 0 .5 -.4 .5 8.6 .5 -2.1 .5 -4.9 .5 5.1 .5 2.8 .5 -7.2 .5 .6 .5 4.5 .5 1.1 .5 -3.1 .5 1.2 .5 1.4 .5 -3.8 .5 1.3 .5 -2.5 .5 4.2 .5 3.8 .5 .8 .5 -9.5 .5 2.2 .5 -1.3 .5 4.4 .5 2.2 .5 -2.4 .5 -7.3 .5 2 .5 6.9 .5 -4.6 .5 -4 .5 5.7 .5 1.4 .5 -2.5 .5 3.1 .5 -.8 .5 -1.5 .5 -2.4 .5 5.9 .5 -3.4 .5 -1 .5 -5 .5 5.5 .5 -2.9 .5 -.3 .5 4.3 .5 4.9 .5 -7.5 .5 5.6 .5 .7 .5 -8 .5 6 .5 -2.4 .5 1.2 .5 .8 .5 .7 .5 -3.4 .5 3.5 .5 -5.6 .5 .5 .5 5.7 .5 -2.7 .5 4.6 .5 3.4 .5 -12.8 .5 4.1 .5 -1.3 .5 2.7 .5 -.1 .5 -6.8 .5 2.6 .5 -.8 .5 2.8 .5 -2.6 .5 1.1 .5 -7.3 .5 9.3 .5 -.1 .5 -1.2 .5 5.8 .5 2.1 .5 -5.4 .5 -.5 .5 -3.6 .5 -5 .5 8.4 .5 4.3 .5 -5.3 .5 7.5 .5 -12.6 .5 -3 .5 9.6 .5 -1.3 .5 3.7 .5 4.6 .5 -11.2 .5 -1.8 .5 4.3 .5 2.9 .5 -4.7 .5 -.8 .5 2.4 .5 -3.2 .5 .4 .5 6.7 .5 -2.6 .5 -8.6 .5 1.9 .5 10.6 .5 -10.5 .5 1.3 .5 5.8 .5 6.6 .5 .9 .5 -14.5 .5 3.9 .5 3.2 .5 -1.1 .5 5 .5 -1.9 .5 -3.6 .5 4.9 .5 -1.1 .5 -2.1 .5 -6.2 .5 2.9 .5 2.7 .5 -.7 .5 1.5 .5 -4.7 .5 6.3 .5 -.9 .5 -1.6 .5 -1.1 .5 1.2 .5 7.3 .5 -4.5 .5 -7.3 .5 1.7 .5 -3.2 .5 5.4 .5 .3 .5 -1 .5 -1.6 .5 11 .5 -14.4 .5 5.5 .5 -4.3 .5 -2.6 .5 9.2 .5 -8.6 .5 6.5 .5 -.4 .5 6.9 .5 -2.3 .5 -8.4 .5 3.4 .5 .6 .5 3.9 .5 -4.7 .5 -.3 .5 -8.2 .5 11.1 .5 -8 .5 7.1 .5 -2.2 .5 3.3 .5 -4.3 .5 -.8 .5 .5 .5 -3.9 .5 6 .5 -.5 .5 7.4 .5 -16 .5 13.2 .5 -9.4 .5 3.9 .5 -10.9 .5 9.9 .5 -1.8 .5 3.7 .5 -1.4 .5 -3.7 .5 -5 .5 12 .5 -5.4 .5 2 .5 -4 .5 1.5 .5 -4.2 .5 .6 .5 -1.7 .5 -1.6 .5 8.8 .5 -2.7 .5 -3.1 .5 4.3 .5 -3 .5 -5.8 .5 3.4 .5 5.1 .5 -4.7 .5 -10.7 .5 7 .5 4.9 .5 2.3 .5 -13.8 .5 6.6 .5 -4.9 .5 4 .5 2.8 .5 .1 .5 -6.2 .5 1.7 .5 -3.3 .5 3.7 .5 2.4 .5 6.6 .5 -16.3 .5 7.3 .5 -1.2 .5 .4 .5 -4.4 .5 -3.3 .5 5.4 .5 3.5 .5 2.4 .5 -3.8 .5 7.5 .5 -6.1 .5 2.2 .5 -2.3 .5 5.1 .5 -5.4 .5 -.3 .5 5.6 .5 -.8 .5 3.4 .5 -1.5 .5 7.6 .5 -6.3 .5 3.3 .5 -4.1 .5 1.9 .5 -7.9 .5 4.6 .5 4 .5 2.2 .5 -1.6 .5 -1.8 .5 -1.1 .5 -4.6 .5 7 .5 2.3 .5 -4.8 .5 7.7 .5 .4 .5 -7.5 .5 -1.2 .5 4.4 .5 -7.1 .5 6.2 .5 2.8 .5 -1.8 .5 3.4 .5 -6.8 .5 1.1 .5 3.2 .5 -3.8 .5 1.6 .5 .9 .5 8.8 .5 -10.3 .5 1.5 .5 -7.3 .5 10.7 .5 -.3 .5 -1.5 .5 -7.5 .5 -.3 .5 15.4 .5 -10.5 .5 -1.4 .5 -3.2 .5 8.7 .5 -.2 .5 -6.8 .5 5.8 .5 -11.2 .5 11.5 .5 -5.6 .5 7.6 .5 -1.1 .5 -8.2 .5 5.3 .5 4.9 .5 -4.1 .5 .2 .5 2.9 .5 -6.1 .5 5.2 .5 -7.1 .5 5.5 .5 -1.8 .5 1.8 .5 -5.1 .5 3.6 .5 3.2 .5 -3.1 .5 4.5 .5 -4.2 .5 -.8 .5 1.3 .5 -4.3 .5 5.4 .5 3.7 .5 0 .5 -.1 .5 -3 .5 -1 .5 -3.4 .5 .4 .5 4.8 .5 -3 .5 4.2 .5 -5.1 .5 -5.6 .5 8.3 .5 -2.4 .5 3.1 .5 -1.2 .5 -5.4 .5 11.6 .5 .7 .5 -6.4 .5 -1.4 .5 .1 .5 1.9 .5 -1.9 .5 -1.3 .5 5.5 .5 -1.4 .5 2.3 .5 -6.5 .5 8.1 .5 -7.2 .5 4.1 .5 -1.7 .5 .5 .5 1.9 .5 -1.5 .5 7.6 .5 -11.2 .5 8 .5 4 .5 -13.5 .5 4.4 .5 4 .5 -2.4 .5 6 .5 -2.2 .5 -6.9 .5 4.5 .5 -1.3 .5 3.5 .5 2 .5 -2.3 .5 -9.7 .5 5 .5 1.1 .5 11.3 .5 -6.6 .5 -2.3 .5 -5.6 .5 1.7 .5 1 .5 .3 .5 6.9 .5 -1.9 .5 -4.3 .5 .4 .5 4.8 .5 -8.9 .5 5 .5 4.6 .5 -4.6 .5 -1.3 .5 .1 .5 .2 .5 2.7 .5 2.3 .5 -9.1 .5 9.3 .5 2.6 .5 -7.6 .5 4.4 .5 8 .5 -7.7 .5 -8.8 .5 8.9 .5 0 .5 4.6 .5 -2.7 .5 -1.8 .5 1.9 .5 -9.9 .5 7 .5 -8.9 .5 6 .5 5.7 .5 -9 .5 5.4 .5 3.8 .5 -11 .5 4.8 .5 6.6 .5 3.3 .5 -7 .5 4.5 .5 -6.2 .5 10.6 .5 -9.6 .5 2.2 .5 -4.7 .5 4.3 .5 -.6 .5 -.2 .5 2.1 .5 -2.8 .5 -8.6 .5 .9 .5 8.2 .5 7.1 .5 -6.8 .5 -.6 .5 7.8 .5 -13.3 .5 7.4 .5 -2.9 .5 4.4 .5 -.2 .5 .7 .5 -.2 .5 -11.6 .5 12 .5 -5.6 .5 7.4 .5 -.6 .5 2.8 .5 -13.1 .5 4.5 .5 -2.3 .5 5.3 .5 -5.6 .5 1.6 .5 5.5 .5 -4.3 .5 3.2 .5 4.8 .5 -2.7 .5 -.3 .5 .3 .5 -4.6 .5 -1.3 .5 -2 .5 8.7 .5 -2.3 .5 2 .5 -13.2 .5 11.5 .5 5.7 .5 -8.7 .5 -2.5 .5 6.8 .5 -9.3 .5 4.8 .5 -1.1 .5 5.6 .5 .2 .5 -.3 .5 -6.6 .5 6.8 .5 .1 .5 -5.9 .5 4.5 .5 -.4 .5 .4 .5 .2 .5 -2.3 .5 4 .5 -7.4 .5 10.1 .5 -5.7 .5 1.1 .5 -1.5 .5 .5 .5 2.6 .5 -.1 .5 -6.4 .5 5.3 .5 -3.3 .5 6.1 .5 -10.4 .5 10.6 .5 -6.6 .5 .4 .5 1.2 .5 2.8 .5 -8.6 .5 9.9 .5 -4.6 .5 -2.1 .5 8.9 .5 -2.8 .5 .8 .5 -6.1 .5 10.2 .5 -4.4 .5 1.6 .5 -4.2 .5 -2.6 .5 0 .5 3.1 .5 -2.4 .5 .9 .5 -1" fill="none" stroke="#0b0908" stroke-width="1.4" stroke-linejoin="round"/>
<path d="M1915.7 571.5l.8 4 .8 7.1 .8 2.8 .8 -10 .8 8.7 .8 -8.1 .8 3.3 .8 5 .8 -6 .8 12.6 .8 -21.8 .8 10.4 .8 -1.9 .8 2.9 .8 1.7 .8 -7.2 .8 12.5 .8 -10.3 .8 8.3 .8 2.1 .8 -9.2 .8 10.2 .8 -3.7 .8 -2.4 .8 5.2 .8 3.6 .8 -.8 .8 -4.4 .8 -2.7 .8 -1 .8 6 .8 -2.8 .8 -2.6 .8 -.5 .8 -1.2 .8 1.1 .8 5 .8 -5.5 .8 -.8 .8 1.8 .8 -1.3 .8 0 .8 8 .8 3.5 .8 -8.4 .8 .4 .8 -3.5 .8 1.4 .8 -7.6 .8 3.2 .8 3.1 .8 -10.4 .8 1.1 .8 -1.6 .8 -4.1 .8 3.5 .8 -5.4 .8 3.1 .8 -6.9 .8 -4.1 .8 -3.4 .8 -3.6 .8 1.8 .8 -5.6 .8 .1 .8 -7.5 .8 -3.7 .8 -5 .8 -7.9 .8 -2.5 .8 -6.3 .8 -7.1 .8 -5.2 .8 -5.3 .8 -6.6 .8 -7.1 .8 -7.7 .8 -7.2 .8 -8.9 .8 -7.6 .8 -8.2 .8 -8.7 .8 -9.4 .8 -8.2 .9 -6 .8 8.8 .8 -1.2 .8 6.3 .8 4.9 .8 6.4 .8 8.7 .8 6.5 .8 7.1 .8 1.4 .8 6.6 .8 7.1 .8 3.3 .8 9.1 .8 4.8 .8 7 .8 6.8 .8 9.7 .8 7.6 .8 6.7 .8 7.9 .8 10.2 .8 7.6 .8 5.8 .8 8.8 .8 3.1 .8 4 .8 5.2 .8 .1 .8 1.4 .8 7.9 .8 -1.2 .8 2.3 .8 6.6 .8 -.7 .8 -2.2 .8 8.2 .8 -.9 .8 2.9 .8 .9 .8 7.7 .8 -2.6 .8 7.9 .8 -1.5 .8 -1.9 .8 7.6 .8 1.3 .8 -4.2 .8 -1.5 .8 4.7 .8 -.4 .8 -4.8 .8 15.7 .8 -14.4 .8 9.3 .8 -3.3 .8 -.3 .8 -.1 .8 .6 .8 -6.3 .8 .6 .8 11.4 .8 -5.5 .8 7.3 .8 -5.2 .8 -1.1 .8 -.1 .8 .4 .8 -4.1 .8 4.6 .8 3.9 .8 -.3 .8 -4.9 .8 6.2 .8 -3.1 .8 .3 .8 -10.8 .8 8.1 .8 1 .8 -1.8 .8 6.4 .8 -10.9 .8 7.8 .8 0 .8 4.9 .8 -7.9 .8 3.4 .8 -2.7 .8 2.3 .8 1.5 .8 -2.8 .8 1.8 .8 .6 .8 4.4 .8 -10.1 .8 7.6 .8 -7.8 .8 1.9 .8 -1.1 .8 7.3 .8 -6.9 .8 11.3 .8 -7.8 .8 2.5 .8 -4.4 .8 4.5 .8 -8.5 .8 6 .8 -2 .8 8.3 .8 -12.8 .8 -6.4 .8 16.2 .8 -7.5 .8 -2.7 .8 5.3 .8 -2.3 .8 -4.2 .8 -4.7 .8 9 .8 -4.8 .8 -5 .8 2.6 .8 1.3 .8 -3.9 .8 -.2 .8 5.3 .8 -7 .8 2.8 .8 -3.6 .8 -9.1 .8 3.8 .8 -3.4 .8 -8.2 .8 2.5 .8 -3.6 .8 8.5 .8 -12 .8 3 .8 -1.3 .8 -5 .8 -.2 .8 -4.8 .8 3.3 .8 4.5 .8 -6.6 .8 -.2 .8 -9.3 .8 5.1 .8 -6.1 .8 -.9 .8 -.6 .8 5 .8 -13.4 .8 11.4 .8 -12.9 .8 3.6 .8 -9.4 .8 -.5 .8 12.8 .8 -8.7 .8 -2 .8 10.9 .8 -12.3 .8 3.9 .8 3.5 .8 -1.4 .8 1.6 .8 .3 .8 1.7 .8 -1.1 .8 9.5 .8 -3.1 .8 2.9 .8 3.9 .8 -2.3 .8 -4.3 .8 -.6 .8 10.6 .8 2 .8 -2.8 .8 1.7 .8 -.1 .8 3.9 .8 5.1 .8 -5.4 .8 5.9 .8 -5.7 .8 2.4 .8 -5.5 .9 4 .8 3.9 .8 -3.5 .8 1.3 .8 2.3 .8 -6.8 .8 -1.4 .8 12.2 .8 -9.1 .8 8.8 .8 -8.6 .8 6.4 .8 -4.7 .8 7.3 .8 -1.2 .8 -2.4 .8 .1 .8 -3.1 .8 1.7 .8 -2.6 .8 3.1 .8 .8 .8 -4 .8 2.1 .8 -.4 .8 .3 .8 -3 .8 2.1 .8 -5.4 .8 .3 .8 1.3 .8 2.6 .8 0 .8 -4.6 .8 -3.4 .8 .5 .8 -1.6 .8 3.8 .8 -6.9 .8 -.5 .8 -6.1 .8 -3.6 .8 -4.2 .8 -3 .8 -6.5 .8 -6 .8 -5.1 .8 -6.8 .8 -6.7 .8 -5.4 .8 -10.5 .8 -7.5 .8 -10.2 .8 -10.6 .8 -13.2 .8 -19.3 .8 -22.5 .8 -18.2 .8 -16.1 .8 -14.3 .8 -14.5 .8 -14.9 .8 -15.5 .8 -18.8 .8 -18.9 .8 -21 .8 -22 .8 -22.6 .8 -29.1 .8 -18.7 .8 25.4 .8 30.4 .8 31.6 .8 32.1 .8 29.6 .8 26.6 .8 25.2 .8 24.2 .8 25 .8 26.5 .8 19.8 .8 9.6 .8 9.7 .8 7.4 .8 4.8 .8 7.6 .8 4.4 .8 6.4 .8 4.4 .8 8.3 .8 5.4 .8 6.5 .8 8.6 .8 8.6 .8 8.3 .8 9.1 .8 5.2 .8 5.1 .8 8.9 .8 4.3 .8 4.1 .8 -1.8 .8 6 .8 3.7 .8 1.3 .8 1.7 .8 7.8 .8 2 .8 -4.7 .8 6.7 .8 3.7 .8 -3.5 .8 -.7 .8 3.7 .8 4.5 .8 .1 .8 -1.8 .8 2.6 .8 -4.7 .8 6.1 .8 2.9 .8 -3.9 .8 3.3 .8 -2.1 .8 -1 .8 5.1 .8 -4.5 .8 3.1 .8 4.5 .8 -6.4 .8 7.7 .8 3.1 .8 -4 .8 -1.7 .8 2.1 .8 -4 .8 1.7 .8 5.1 .8 -1.9 .8 -5.3 .8 1 .8 1.7 .8 3.5 .8 -.9 .8 2.4 .8 -1.4 .8 3.1 .8 -13.5 .8 10.6 .8 -7.4 .8 12.8 .8 -4.3 .8 -1.3 .8 -3.7 .8 1 .8 -.2 .8 7.5 .8 -6.9 .8 8.4 .8 -8.9 .8 6.5 .8 2.1 .8 -4.5 .8 2.9 .8 -7.8 .8 12.5 .8 -10.6 .8 5.6 .8 1.2 .8 -.4 .8 -.2 .8 -1.1 .8 .9 .8 -5.4 .8 1.3 .8 1.4 .8 -2.6 .8 7.6 .8 -5.2 .8 6.8 .8 -4.4 .8 3.3 .8 -8.2 .8 -.2 .8 4.5 .8 -6.3 .8 6.1 .8 -.5 .8 -3.6 .8 .7 .9 -3.8 .8 2.7 .8 -2.5 .8 .1 .8 -5.2 .8 1.9 .8 .1 .8 -5 .8 -3 .8 1.9 .8 -5.7 .8 -5.5 .8 .7 .8 4.6 .8 -6.8 .8 8.3 .8 -7.6 .8 -2.3 .8 -1.2 .8 -3.1 .8 11.1 .8 -5.8 .8 4 .8 -10.7 .8 5.3 .8 8.1 .8 -6.3 .8 2.7 .8 1.9 .8 -3.2 .8 3.2 .8 -2.2 .8 1.8 .8 2.8 .8 3.4 .8 -5.5 .8 4.8 .8 -4.9 .8 2.9 .8 -6.2 .8 5.8 .8 1 .8 .4 .8 -1.8 .8 11.9 .8 -7.9 .8 2 .8 1 .8 -1.4 .8 2.3 .8 -5.4 .8 .1 .8 8.1 .8 -5.3 .8 -.5 .8 6.4 .8 -6 .8 -4.8 .8 8 .8 -3.6 .8 -4.2 .8 11 .8 -1 .8 -1.9 .8 -.5 .8 4.1 .8 -4 .8 -4.3 .8 0 .8 -4.9 .8 7.2 .8 -1.9 .8 1 .8 -6.7 .8 6.2 .8 -3.1 .8 1.1 .8 -1.2 .8 1.4 .8 -4.9 .8 8.3 .8 -3.8 .8 -1.9 .8 6 .8 -4.1 .8 .6 .8 3.3 .8 2.3 .8 -6.6 .8 1.5 .8 .5 .8 -3.7 .8 2.2 .8 -.6 .8 .5 .8 6.4 .8 3.7 .8 -5.1 .8 -3.5 .8 4.1 .8 2.1 .8 -.6 .8 -2.3 .8 5.9 .8 -.5 .8 -4.7 .8 4.2 .8 -6.1 .8 5.5 .8 2 .8 .9 .8 4.7 .8 -5.6 .8 -.8 .8 5.4 .8 -8.7 .8 7.5 .8 -1.8 .8 .5 .8 -.1 .8 .4 .8 -.4 .8 3.9 .8 4.4 .8 -6.3 .8 4.4 .8 5.2 .8 -9.3 .8 .4 .8 -1.4 .8 5.3 .8 -1.2 .8 3.1 .8 -4.7 .8 2.7 .8 -3.7 .8 -2.3 .8 1.4 .8 1.4 .8 -4.7 .8 4.4 .8 -4.4 .8 2.8 .8 6 .8 -2 .8 1.9 .8 -5.6 .8 7.8 .8 -8 .8 1.4 .8 3.2 .8 -2.1 .8 2.6 .8 .4 .8 -7.1 .8 5.5 .8 .6 .8 -1.3 .8 .7 .8 -3.7 .8 1.2 .8 -1.9 .8 3.6 .8 -3.4 .8 -.5 .8 1.2 .8 2.9 .8 2.4 .8 -6.5 .8 6.6 .8 -.4 .8 -2 .8 -6 .8 1.9 .8 4 .8 -5.5 .8 4.5 .8 4.3 .8 -8.3 .8 6.9 .8 -1.4 .8 -3.3 .8 5.7 .8 3 .8 -5 .8 -1.6 .8 .6 .8 .3 .8 5.9 .8 -7.3 .9 -2.1 .8 6.1 .8 -3.9 .8 2.3 .8 -2.8 .8 -1.7 .8 4.6 .8 -5.4 .8 5.8 .8 3.7 .8 -5.2 .8 -.8 .8 4.8 .8 1.2 .8 -6.6 .8 6.2 .8 -4.9 .8 -3.5 .8 8.5 .8 -9.3 .8 6.8 .8 -3.9 .8 4 .8 -.5 .8 1.3 .8 3.6 .8 -2.4 .8 4.8 .8 -10.5 .8 9.6 .8 -4.6 .8 6.6 .8 -4.6 .8 -4 .8 -2.2 .8 -.9 .8 4.6 .8 6.6 .8 .3 .8 -2.9 .8 -4.7 .8 4 .8 1.2 .8 -2.3 .8 .8 .8 -.6 .8 5.9 .8 -7.3 .8 4.2 .8 8.7 .8 -11 .8 4.4 .8 -2.3 .8 4.2 .8 -6 .8 -1.7 .8 10 .8 -6.3 .8 6.3 .8 -2.4 .8 4.6 .8 -4.5 .8 4.7 .8 -2.1 .8 -4.3 .8 4.4 .8 -1.3 .8 3.3 .8 -1 .8 .3 .8 -3.6 .8 -1.3 .8 8.6 .8 -4.3 .8 .6 .8 2.7 .8 -5.2 .8 4.3 .8 -1.6 .8 -4.2 .8 3.3 .8 -3.3 .8 6.7 .8 -8.5 .8 3.4 .8 .6 .8 -1.6 .8 2.8 .8 3.1 .8 -2.6 .8 1.8 .8 -2.6 .8 1.6 .8 .9 .8 2.8 .8 -7 .8 7.5 .8 -7.9 .8 2.6 .8 1.1 .8 -1.6 .8 -.9 .8 3.5 .8 -1 .8 -1.2 .8 -7.1 .8 10.8 .8 -3.5 .8 -5.4 .8 2.6 .8 8 .8 4.3 .8 -9.4 .8 2.4 .8 1 .8 1.6 .8 1.5 .8 -5 .8 -3.3 .8 4.1 .8 .3 .8 .8 .8 2.8 .8 -4.5 .8 -1.7 .8 5.2 .8 -3.2 .8 -3.2 .8 .7 .8 4 .8 -9.3 .8 10.9 .8 -5.1 .8 -2.5 .8 4.9 .8 -2.5 .8 -.7 .8 -.2 .8 5.2 .8 -6.5 .8 1.6 .8 -5.1 .8 7.3 .8 2.4 .8 .7 .8 -2.4 .8 7.8 .8 -1.7 .8 -5.3 .8 3.6 .8 -1.2 .8 .7 .8 -7.2 .8 4.9 .8 .3 .8 1.2 .8 -5.5 .8 5.1 .8 -3.4 .8 1.2 .8 5.4 .8 -3.3 .8 -2.1 .8 3.5 .8 -3 .8 .2 .8 -1 .8 3.7 .8 -4.5 .8 2.1 .8 9.9 .8 -5.3 .8 -5.5 .8 3.6 .8 2.4 .8 -3.8 .8 -.8 .8 -1.8 .8 -.7 .8 5.5 .8 -3.8 .8 2.9 .8 1 .8 2 .8 -3 .8 .2 .8 -3 .8 2.3 .8 1.4 .8 -2.7 .9 3.9 .8 -3.2 .8 .1 .8 -1.2 .8 -2.1 .8 5 .8 5.3 .8 -6.3 .8 -.3 .8 -2.8 .8 6 .8 -2.7 .8 -1.9 .8 -2.2 .8 5.5 .8 -1.8 .8 2.9 .8 -.1 .8 -3.5 .8 3.1 .8 .5 .8 2.5 .8 -5.8 .8 -1.5 .8 5.1 .8 -3.5 .8 8 .8 -11.1 .8 -3.5 .8 8.1 .8 -3.8 .8 3.6 .8 3 .8 -2.9 .8 -2.4 .8 -5.6 .8 2.7 .8 -.3 .8 .4 .8 2.7 .8 -4.1 .8 -.1 .8 1.3 .8 2.1 .8 -4.4 .8 .7 .8 -.4 .8 -8.4 .8 6.9 .8 .7 .8 -3.5 .8 -1.8 .8 -2.6 .8 -4.6 .8 1.5 .8 -.6 .8 -1.2 .8 -1.5 .8 -10.1 .8 .6 .8 -1.2 .8 -2.5 .8 -2.8 .8 -2.1 .8 2.5 .8 1.4 .8 -.9 .8 -6 .8 2.8 .8 5.8 .8 -1.1 .8 3.4 .8 3.1 .8 -1.2 .8 -1.2 .8 -1.2 .8 5.5 .8 -2.6 .8 -1.2 .8 3.2 .8 7.7 .8 -1 .8 -.9 .8 7.7 .8 .5 .8 -3.6 .8 5.3 .8 -7.2 .8 1.3 .8 .2 .8 1.6 .8 .4 .8 -1.3 .8 11.9 .8 -7.6 .8 8.4 .8 -6.4 .8 3.5 .8 1.7 .8 -5.9 .8 2.1 .8 2.3 .8 .5 .8 -2.6 .8 3.3 .8 1 .8 1.1 .8 -9 .8 7.8 .8 -3.2 .8 .1 .8 7.2 .8 -2.7 .8 -2.1 .8 5.6 .8 -3.8 .8 -.1 .8 .5 .8 1.2 .8 -1.2 .8 -2.2 .8 1.6 .8 3.1 .8 -7.6 .8 2.3 .8 3.4 .8 -.5 .8 -1 .8 3.8 .8 -2.9 .8 3.1 .8 -.2 .8 -.7 .8 .4 .8 -1.2 .8 -1.3 .8 2.9 .8 5.7 .8 .1 .8 -2 .8 -3.1 .8 -2.6 .8 5 .8 .6 .8 -3.4 .8 9.1 .8 -12.4 .8 3.5 .8 3.2 .8 2.9 .8 -5.6 .8 1.1 .8 -.1 .8 .6 .8 5.1 .8 -3.7 .8 -3.6 .8 3 .8 .2 .8 -6.6 .8 -.8 .8 8.4 .8 3.7 .8 -5 .8 .6 .8 -3.1 .8 -.8 .8 .5 .8 3.3 .8 -2.1 .8 3.8 .8 -5 .8 -1.6 .8 .6 .8 .6 .8 4.2 .8 -1.8 .8 0 .8 -6.1 .8 6.7 .8 2.6 .8 -1.4 .8 -6.3 .8 10 .8 -1.1 .8 -9.3 .8 10.3 .8 -5.4 .8 2.2 .8 -4.3 .9 6.1 .8 .4 .8 -1.2 .8 -.1 .8 -4.5 .8 6.1 .8 -7.6 .8 5.3 .8 2.6 .8 .3 .8 -3.3 .8 5.4 .8 -2.5 .8 -1.6 .8 -4.4 .8 5.3 .8 -.5 .8 -.7 .8 4.1 .8 -10.5 .8 5.2 .8 -.4 .8 -1.8 .8 1 .8 2.8 .8 3.1 .8 -1.8 .8 -2.1 .8 .1 .8 3.9 .8 -8.7 .8 3.8 .8 5 .8 -3.2 .8 -1.7 .8 3.7 .8 -.4 .8 -1.4 .8 -1.2 .8 -2.3 .8 .7 .8 4.1 .8 2.6 .8 -3.3 .8 -1.7 .8 5.6 .8 1.8 .8 -4.8 .8 .9 .8 -.3 .8 .3 .8 -7.1 .8 5.6 .8 -2.4 .8 5.8 .8 -1.2 .8 .8 .8 -10.5 .8 7.9 .8 -4.2 .8 6.5 .8 -7.4 .8 3.2 .8 .9 .8 -2 .8 3.8 .8 -3.3 .8 1.4 .8 .3 .8 -.7 .8 7.7 .8 -2.7 .8 -4.5 .8 -1.8 .8 1.5 .8 .1 .8 1.8 .8 1.7 .8 -6 .8 3.4 .8 -1.3 .8 4.2 .8 -1.3 .8 6.1 .8 -8.7 .8 2.5 .8 -.7 .8 6.1 .8 -4.9 .8 .4 .8 -2.7 .8 3.7 .8 -5.8 .8 3.3 .8 .5 .8 4.2 .8 -6.1 .8 1.7 .8 .6 .8 .3 .8 7.4 .8 -4.1 .8 -6.2 .8 0 .8 4.7 .8 -5.1 .8 1 .8 7.3 .8 -3.7 .8 2.1 .8 4.2 .8 -8.7 .8 -.2 .8 -.9 .8 4.6 .8 -4.9 .8 -.7 .8 2.9 .8 -5.7 .8 13.9 .8 -4.3 .8 -6.1 .8 3.2 .8 -8 .8 6.9 .8 2.6 .8 -.5 .8 -1.5 .8 1.2 .8 -4.5 .8 -3.8 .8 8.2 .8 -6.8 .8 8.2 .8 -4.2 .8 3.8 .8 -2.9 .8 .7 .8 -.9 .8 -1.3 .8 2.5 .8 -1 .8 -1.1 .8 2 .8 -.8 .8 1.7 .8 -.5 .8 1.7 .8 .2 .8 6.2 .8 -8.1 .8 -1.4 .8 2.3 .8 -2 .8 1.5 .8 3.3 .8 -2.1 .8 5.3 .8 -6.4 .8 -.6 .8 4.4 .8 -5.3 .8 1.6 .8 1.8 .8 2.9 .8 -5.1 .8 -3.4 .8 9.7 .8 -8.4 .8 -1 .8 5.2 .8 -2.2 .8 -1.5 .8 1 .8 2.1 .8 3.6 .8 -1.6 .8 1.5 .8 -.5 .8 -4.7 .8 -.6 .8 1.5 .8 -.2 .8 3 .8 -3.9 .8 4.6 .8 -6.4 .8 7.5 .8 .1 .8 -4.6 .9 -1.4 .8 .4 .8 4.1 .8 -4.3 .8 -.2 .8 -1.7 .8 .8 .8 7.7 .8 -2.2 .8 .4 .8 -4.9 .8 2.4 .8 -.5 .8 1.6 .8 -4.1 .8 5.5 .8 -3.2 .8 1.2 .8 -.8 .8 2.4 .8 1.2 .8 -5 .8 1 .8 -.6 .8 3.7 .8 -1.9 .8 -1.6 .8 1.9 .8 .3 .8 -3.1 .8 1.1 .8 4.3 .8 -6.1 .8 -2.4 .8 1.1 .8 4.9 .8 1.1 .8 -3.2 .8 -.9 .8 3.7 .8 2.1 .8 -2.1 .8 -3.4 .8 5.4 .8 2.9 .8 -3.5 .8 -1.5 .8 1.6 .8 -.2 .8 -6.5 .8 5.5 .8 -1.1 .8 .3 .8 -1.5 .8 -.3 .8 4.4 .8 -2.1 .8 1.2 .8 1.2 .8 -.6 .8 -.9 .8 -1.2 .8 .6 .8 -2.4 .8 6.5 .8 -5.9 .8 -.2 .8 -.8 .8 2.7 .8 -.6 .8 2 .8 .8 .8 -5.5 .8 4.3 .8 2.3 .8 2.2 .8 -6 .8 .6 .8 2.1 .8 -6.3 .8 3.3 .8 2.7 .8 .5 .8 -4.3 .8 1.3 .8 1.6 .8 2.8 .8 -.9 .8 -2.3 .8 4.9 .8 -2.9 .8 -2.4 .8 4.7 .8 -2.3 .8 -1.6 .8 -.7 .8 -.7 .8 2.9 .8 1 .8 -5.9 .8 6.3 .8 -4.9 .8 1.3 .8 -2.1 .8 -.2 .8 3.9 .8 -6.9 .8 8.4 .8 3 .8 -3.9 .8 -1.7 .8 .6 .8 -.8 .8 7.5 .8 -6.8 .8 5.2 .8 -6.7 .8 .7 .8 2.2 .8 -1.7 .8 .9 .8 1.1 .8 -.5 .8 -1.5 .8 -.6 .8 5.6 .8 -5.7 .8 4.5 .8 -.8 .8 -5.6 .8 4.6 .8 -.3 .8 2 .8 -.3 .8 .2 .8 -2.4 .8 2.5 .8 -9.4 .8 6.8 .8 -.5 .8 .4 .8 1.7 .8 -4.6 .8 5.5 .8 1.2 .8 -3.9 .8 3.2 .8 0 .8 -3.4 .8 -1.4 .8 1.6 .8 4.6 .8 -1.6" fill="none" stroke="#0b0908" stroke-width="4.8" stroke-linejoin="round"/>
<path d="M1915.7 590.5l.5 -17.8 .5 5.5 .5 -14.9 .5 17.9 .5 -9.9 .5 3.4 .5 3.3 .5 -3 .5 10.6 .5 -1.9 .5 -8.7 .5 -6.6 .5 21.8 .5 -10.5 .5 4.3 .5 -17.8 .5 -1.5 .5 23 .5 -6 .5 .4 .5 6.6 .5 -13 .5 -2.5 .5 -4 .5 4.7 .5 19.4 .5 -6.6 .5 -10.6 .5 24.5 .5 -12.2 .5 2.3 .5 5.9 .5 -18.8 .5 7.2 .5 -12.4 .5 11.6 .5 -10.7 .5 11.1 .5 2.8 .5 3.7 .5 4.1 .5 -23.3 .5 12.2 .5 -11.3 .5 .4 .5 4.7 .5 27.9 .5 -26.4 .5 13.4 .5 -5.8 .5 -13.3 .5 8.2 .5 -8.2 .5 5.2 .5 28.3 .5 -28.9 .5 3.3 .5 8.1 .5 -9.5 .5 15.8 .5 -20.6 .5 11 .5 -.6 .5 -9.3 .5 -5.2 .5 9.3 .5 8.7 .5 -7.3 .5 5.5 .5 5.6 .5 -6.5 .5 .6 .5 -3.2 .5 -2.6 .5 5.1 .5 -5.6 .5 10.4 .5 -9.1 .5 -15.3 .5 18.5 .5 .8 .5 -18.5 .5 9.6 .5 4.5 .5 -22.2 .5 10.9 .5 13.4 .5 -14.5 .5 1 .5 2.9 .5 -7 .5 -5.5 .5 -9.6 .5 8.9 .5 -1.1 .5 3.6 .5 -18.7 .5 13.1 .5 .4 .5 -14 .5 -.2 .5 4 .5 -.1 .5 -7.4 .5 2.8 .5 -2.8 .5 -5.4 .5 -5.6 .5 -2.7 .5 -1.2 .5 -5.5 .5 -2.2 .5 -3.9 .5 1.1 .5 -4 .5 -6.3 .5 -4.5 .5 -.9 .5 -4.8 .5 -9.6 .5 .1 .5 -2.7 .5 -8.5 .5 -1.8 .5 -5.2 .5 -5.2 .5 -5.1 .5 -6.2 .5 -2.8 .5 -5.8 .5 -3.6 .5 -8.7 .5 -6.3 .5 -5.3 .5 -8.3 .5 -5.8 .5 15.1 .5 -5 .5 -5.3 .5 13.3 .5 1.9 .5 8.1 .5 0 .5 3 .5 3.7 .5 5.8 .5 5.1 .5 5.2 .5 0 .5 7.3 .5 -.1 .5 7.5 .5 -.4 .5 4.9 .5 6.8 .5 5.3 .5 1 .5 4 .5 2.8 .5 1.2 .5 10 .5 4.7 .5 3 .5 5.5 .5 4.4 .5 3.9 .5 4 .5 3.6 .5 7.6 .5 5.8 .5 5 .5 9.2 .5 .1 .5 3.9 .5 .4 .5 1.1 .5 .6 .5 7.9 .5 4.2 .5 -2.8 .5 1.1 .5 8.6 .5 2.1 .5 -.5 .5 -5.5 .5 13 .5 -1.4 .5 -2.9 .5 6.1 .5 -16.1 .5 31.1 .5 -22.5 .5 9.8 .5 -.1 .5 -10.7 .5 7.8 .5 4.9 .5 -.2 .5 -4.4 .5 12.3 .5 -11.9 .5 9.8 .5 9.1 .5 .5 .5 .1 .5 -6.4 .5 6.9 .5 .3 .5 -6 .5 -11 .5 10 .5 16 .5 13.6 .5 -21.3 .5 6.3 .5 9.6 .5 -5.7 .5 -1.4 .5 -2.6 .5 7.4 .5 -7.3 .5 -12.8 .5 19.7 .5 -3.4 .5 6.7 .5 -8.1 .5 .6 .5 3.6 .5 -7.4 .5 -.4 .5 9.5 .5 -16 .5 20.4 .5 -12.1 .5 2.3 .5 -8.6 .5 17.4 .5 -2.8 .5 -11.9 .5 18.3 .5 -13.9 .5 18.4 .5 -13.1 .5 -4.6 .5 -3.7 .5 8.4 .5 -7.2 .5 5.2 .5 4.1 .5 -15.2 .5 4 .5 1.5 .5 8.3 .5 -.8 .5 2.9 .5 -8 .5 7 .5 -3.8 .5 -10.8 .5 -4.1 .5 11.6 .5 -11.9 .5 12.4 .5 -4.3 .5 10.7 .5 .9 .5 1.9 .5 -8.6 .5 -12.1 .5 .3 .5 16.4 .5 6.4 .5 1.9 .5 -14.6 .5 14.9 .5 -7.4 .5 1.9 .5 -.4 .5 -11.3 .5 7.3 .5 -7.7 .5 12.5 .5 -7.7 .5 -1 .5 8.1 .5 -10.4 .5 7.6 .5 -9.3 .5 -3.1 .5 8.5 .5 -.6 .5 10.8 .5 -17.2 .5 6.6 .5 5.2 .5 -.7 .5 .8 .5 -21 .5 19 .5 1.4 .5 -3.2 .5 -5.6 .5 1.7 .6 -9.9 .5 18.6 .5 -25.7 .5 27.6 .5 -21.4 .5 -4.1 .5 6.9 .5 14.8 .5 -11 .5 -.1 .5 13.4 .5 -8.5 .5 5.2 .5 -24.8 .5 28.3 .5 -24.7 .5 19.9 .5 -14.6 .5 3.3 .5 19.8 .5 -18.8 .5 -4.2 .5 18.8 .5 -10.5 .5 -2.3 .5 -1.4 .5 4.9 .5 -10.4 .5 11.6 .5 -9.3 .5 -6.3 .5 -9.2 .5 23.9 .5 -7.6 .5 -10.3 .5 10.2 .5 -7.7 .5 10.6 .5 -14.7 .5 9.2 .5 -8.8 .5 -.1 .5 8.8 .5 -21.8 .5 11.7 .5 -10.2 .5 19.9 .5 -11.2 .5 -1.2 .5 -7.9 .5 -.2 .5 -11.1 .5 5.6 .5 -4.4 .5 1.7 .5 11.4 .5 -13.2 .5 7.4 .5 2.7 .5 -11.9 .5 2.8 .5 3.4 .5 .3 .5 .1 .5 -7.9 .5 -12.9 .5 19 .5 3 .5 -11.5 .5 -10.2 .5 17.6 .5 -10.1 .5 6.8 .5 -2.8 .5 -13.2 .5 12 .5 6.7 .5 -20.8 .5 -9.3 .5 13.9 .5 3 .5 -3.6 .5 4.2 .5 -12.9 .5 -6.3 .5 29 .5 -23.1 .5 -5.1 .5 27.1 .5 -11.7 .5 -14.1 .5 6.4 .5 -1.5 .5 18.9 .5 -34.8 .5 24.8 .5 -7.2 .5 3 .5 -20.9 .5 18.6 .5 .4 .5 -8.2 .5 12.3 .5 8.6 .5 -3.6 .5 -4 .5 .6 .5 -6.1 .5 20.6 .5 3.6 .5 -18.7 .5 12 .5 .6 .5 .5 .5 3.6 .5 9.3 .5 -14.8 .5 1.3 .5 4.2 .5 1.3 .5 -1.7 .5 -.4 .5 -2.5 .5 11 .5 -14.6 .5 18.5 .5 -11.3 .5 .1 .5 1.1 .5 13.8 .5 -12.2 .5 -15.2 .5 9.4 .5 .3 .5 4.7 .5 -6.6 .5 6.4 .5 -11.1 .5 2.7 .5 6.4 .5 -5.3 .5 10.6 .5 -10.8 .5 6.9 .5 16.1 .5 -14.3 .5 9 .5 -8.3 .5 6.8 .5 -18.2 .5 1.2 .5 18.5 .5 -3.1 .5 .1 .5 -4.3 .5 -14.2 .5 6.2 .5 6.5 .5 4.9 .5 -5.5 .5 -7.9 .5 20.1 .5 -15 .5 6.1 .5 -10.2 .5 6.2 .5 12.2 .5 .3 .5 -5.5 .5 -1.9 .5 -4.9 .5 3.9 .5 8.9 .5 -9.3 .5 5.4 .5 -13.6 .5 .1 .5 17.8 .5 -.5 .5 -4.1 .5 -2 .5 -7.3 .5 8.4 .5 -13 .5 10.2 .5 -3.3 .5 8.1 .5 1.1 .5 -3.7 .5 -7.8 .5 -5.3 .5 -2.4 .5 2.4 .5 -5.4 .5 10.9 .5 -13.7 .5 .8 .5 5.6 .5 4 .5 -15 .5 3.4 .5 -5.1 .5 -7 .5 1.2 .5 -1.2 .5 -.1 .5 -5 .5 -3.9 .5 -1.8 .5 -7.1 .5 -2.2 .5 -3.8 .5 -6.9 .5 -2.3 .5 -4.9 .5 -4 .5 -3.8 .5 -2.6 .5 -8.3 .5 -9.1 .5 -3.8 .5 -7.2 .5 -7.6 .5 -10.2 .5 -11 .5 -14.3 .5 -14.2 .5 -11 .5 -11.4 .5 -8.8 .5 -9.6 .5 -8.9 .5 -8.7 .5 -9.1 .5 -9.4 .5 -10.3 .5 -10.4 .5 -11.7 .5 -12.7 .5 -11.9 .5 -13.7 .5 -13.5 .5 -13.5 .5 -13.8 .5 -14.8 .5 -20.6 .5 -15.9 .5 2.2 .5 16.6 .5 20.1 .5 18.3 .5 19.4 .5 20.5 .5 19.9 .5 18.9 .5 17.3 .5 17.2 .5 15.8 .5 15.5 .5 15.1 .5 15 .5 15.7 .5 17 .5 15.1 .5 11.5 .5 7.8 .5 6 .5 7.5 .5 4.7 .5 5.8 .5 -.2 .5 5.7 .5 7.5 .5 .9 .5 -1 .5 8.2 .5 1.8 .5 1 .5 .9 .5 10 .5 3.4 .5 3.5 .5 4 .5 6.2 .5 5.1 .5 6.2 .5 7.4 .5 1.9 .5 3.4 .5 9.1 .5 -.2 .5 5 .5 5.6 .5 -5.5 .5 10.3 .5 2.3 .5 3.4 .5 -2.6 .5 -4.1 .5 7.3 .5 4.1 .5 6.5 .5 12 .5 -12.9 .5 -8.2 .5 18 .5 -7.5 .5 10 .5 -1.6 .5 .6 .5 2.4 .5 -2.9 .5 11.6 .5 -3.9 .5 12.3 .5 -17.9 .5 4 .5 12.1 .5 -27.3 .5 17.7 .5 -9.2 .5 19.8 .5 -14.9 .5 -1.4 .5 10.7 .5 -7.8 .5 11.7 .5 -7.1 .5 3.9 .5 -6.1 .5 -1.6 .5 13.3 .5 -23.4 .5 20.2 .5 .3 .5 7.4 .5 5 .5 -8.4 .5 -13.4 .5 15.6 .5 -7.1 .5 -3.3 .5 5.1 .5 4.5 .5 -1.8 .5 .7 .5 3.1 .5 -6.4 .5 -.5 .5 5.2 .5 -9.8 .5 10.3 .5 -4.8 .5 -6.4 .5 13.6 .5 -4.7 .5 -7.6 .5 5.5 .5 13.7 .5 -14.1 .5 5.9 .5 1.8 .5 -15.4 .5 7 .5 -2.8 .5 11.6 .5 -2 .5 .4 .5 -8.6 .5 -.6 .5 6.9 .5 -11.1 .5 9.5 .5 -.3 .5 3.2 .5 -4.4 .5 1.1 .5 -4.2 .5 6.9 .5 -5.2 .5 14 .5 -4.9 .5 0 .5 -9.9 .5 1.2 .5 -.5 .5 -6.1 .5 6 .5 4.6 .5 -.7 .5 11 .5 9.1 .5 -18.9 .5 4.5 .5 -.5 .5 3.3 .5 -4.5 .5 11.9 .5 -13.9 .5 1.2 .5 -8.1 .5 13.4 .5 -10.2 .5 12.5 .5 .7 .5 -6.2 .5 -4.7 .5 -2.6 .5 13.1 .5 -2.7 .5 -5.4 .5 -2.3 .5 7.4 .5 5.5 .5 -7.4 .5 2.9 .5 -4.7 .5 5.5 .5 -5.8 .5 -8.4 .5 7.2 .5 1.3 .5 -11.6 .5 14.1 .5 -6 .5 6.7 .5 -5 .5 -1.4 .5 21.6 .5 -29.1 .5 2.8 .5 3.3 .5 7.4 .5 -5.6 .5 8.8 .5 6.4 .5 -32.9 .5 21.1 .5 -14.9 .5 18.1 .5 5.7 .5 -11.8 .5 1.9 .5 -4.1 .5 -9.4 .5 8.3 .5 -3.3 .5 4.2 .5 -1.6 .5 -6.4 .5 3.1 .5 -2.9 .5 .5 .5 .8 .5 -15.5 .5 3.8 .5 2.5 .5 -14.5 .5 17.2 .5 -4.4 .5 3.3 .5 -5 .5 -13.2 .5 10.6 .5 -8.1 .5 9.3 .5 -10 .5 10.3 .5 -6.1 .5 -10.8 .5 18.3 .5 -24.2 .5 35.4 .5 -13.9 .5 -15.9 .5 13.5 .5 -5.4 .5 -2.5 .5 14.8 .5 -12 .5 10.8 .5 -.4 .5 -3.4 .5 .5 .5 -.6 .5 5.5 .5 5.2 .5 -25.9 .5 14.7 .5 .5 .5 3.6 .5 2.3 .5 -13.8 .5 30.1 .5 -8.6 .5 -17.7 .5 11 .5 12.8 .5 -15 .5 -9.1 .5 2 .5 7.8 .5 19.5 .5 -32.6 .5 19.9 .5 -15.8 .5 23 .5 5.8 .5 -26.5 .5 6.7 .5 7.8 .5 -9.2 .5 20.6 .5 -16.4 .5 8.3 .5 -3.3 .5 -13.9 .5 12.6 .5 -5.9 .5 6.4 .5 -11.4 .5 13.8 .5 2.1 .5 -.1 .5 7.8 .5 -4.3 .5 -5 .5 -3.4 .5 3.4 .5 2.9 .5 -.1 .5 -7.9 .5 14.3 .5 -22.9 .5 11.3 .5 -.2 .5 6.8 .5 9.7 .5 -21.7 .5 6.1 .5 1.9 .5 -5.2 .5 -4.4 .5 7.4 .5 -9.7 .5 13.1 .5 -13.9 .5 6.8 .5 -3 .5 4.5 .5 -10 .5 8.1 .5 3.5 .5 -2.3 .5 5.3 .5 -12.4 .5 5.2 .5 8.1 .5 -11.1 .5 15.6 .5 -11.4 .5 1.9 .5 -15.5 .5 18.4 .5 -13.7 .5 16.2 .5 -17.8 .5 7.7 .5 .2 .5 -5.4 .5 10.2 .5 -7.8 .5 -7.1 .5 7.1 .5 -4.8 .5 -3 .5 14.5 .5 -6.7 .5 6.6 .5 15.6 .5 -30.1 .5 16 .5 5.6 .5 -17.4 .5 7.4 .5 -5 .5 16.8 .5 -14.6 .5 13.3 .5 -.7 .5 -20.6 .5 8.2 .5 12.2 .5 -5.1 .5 9.8 .5 -14.3 .5 21.5 .5 -11 .5 -5.9 .5 1.8 .5 -1.3 .5 .8 .5 2.9 .5 -5.1 .5 -5.3 .5 10.3 .5 -6.1 .5 5.1 .5 -4.2 .5 16.2 .5 -17.7 .5 12.3 .5 12.2 .5 -4.7 .5 -1.9 .5 -24.7 .5 12.2 .5 -7.7 .5 11.3 .5 -1.4 .5 7.3 .5 -10.6 .5 12.8 .5 -8.2 .5 7.6 .5 -21 .5 20.5 .5 4.8 .5 .4 .5 -18.5 .5 4.8 .5 3 .5 -2 .5 10.5 .5 -23 .5 16.1 .5 13 .5 .3 .5 -18.9 .5 19.9 .5 -17.1 .5 1.1 .5 -8.9 .5 18.2 .5 -7.7 .5 13.8 .5 -11.6 .5 2.6 .5 -2.7 .5 5.3 .5 -4.5 .5 8 .5 0 .5 -12.5 .5 18.5 .5 -16.5 .5 6.1 .5 3 .5 -4.8 .5 .9 .5 -8 .5 5.5 .5 -1.6 .5 4.6 .5 -7.7 .5 11 .5 -13.1 .5 -2.4 .5 16.6 .5 -4.5 .5 -3 .5 -8.9 .5 15.4 .5 -5.5 .5 5.4 .5 -.7 .5 -1.1 .5 .2 .5 -8.4 .6 22.2 .5 -11.4 .5 -14.5 .5 10.9 .5 -6.6 .5 3.7 .5 5.4 .5 -10.2 .5 -11.7 .5 16.8 .5 1.2 .5 -12.1 .5 4.2 .5 10.7 .5 -12.2 .5 24.8 .5 -16 .5 7.8 .5 -11.9 .5 -11.1 .5 14.5 .5 1.6 .5 -10.9 .5 4.4 .5 -1 .5 1.5 .5 -.8 .5 -.4 .5 2.2 .5 6.3 .5 2.1 .5 -7.1 .5 -3.3 .5 7.2 .5 -1.4 .5 -5.8 .5 8.4 .5 -2.8 .5 2.1 .5 4.4 .5 -16 .5 10.1 .5 -10.1 .5 10.2 .5 -13.7 .5 10.2 .5 2.1 .5 11.7 .5 -8.8 .5 6.4 .5 -6 .5 -2.9 .5 2.7 .5 6.4 .5 .7 .5 -13.7 .5 -11.8 .5 7 .5 17.2 .5 -11.8 .5 4.4 .5 2.9 .5 14.4 .5 -13 .5 -2.1 .5 8.9 .5 -14.7 .5 -8.8 .5 15.3 .5 9.9 .5 -20.8 .5 10.1 .5 -6.2 .5 1.6 .5 2.4 .5 9.9 .5 -.5 .5 8.8 .5 -12.1 .5 -13.7 .5 16.7 .5 -9.8 .5 1.6 .5 10 .5 -9.8 .5 -4.5 .5 9.3 .5 -2.2 .5 2.3 .5 -9.5 .5 12.5 .5 .2 .5 -10 .5 -8.1 .5 21.4 .5 -27.4 .5 14 .5 8.5 .5 -1.3 .5 9 .5 -12.8 .5 -7 .5 -8.2 .5 26.8 .5 -16.7 .5 10.3 .5 2.7 .5 -10.1 .5 -4.7 .5 5.4 .5 -2.8 .5 6.8 .5 -1.7 .5 -7.6 .5 23.5 .5 -16.5 .5 3 .5 -1 .5 -3.9 .5 -2.7 .5 -4.2 .5 11.6 .5 -6.3 .5 4.5 .5 8 .5 -13.4 .5 12.8 .5 2.7 .5 -9.7 .5 4.4 .5 7.9 .5 -8.2 .5 -6 .5 12.5 .5 -10.4 .5 5.8 .5 15 .5 -18.3 .5 .5 .5 6.9 .5 -4.5 .5 -7.6 .5 4 .5 -1.2 .5 15.8 .5 -14 .5 -9.6 .5 10.4 .5 5.7 .5 -7.3 .5 -5.1 .5 8.2 .5 .5 .5 .3 .5 6.5 .5 -19.9 .5 21 .5 -6.8 .5 11.3 .5 -9.6 .5 7.4 .5 -15.5 .5 12 .5 -12.4 .5 5.1 .5 5.5 .5 10.2 .5 -10.3 .5 -4.3 .5 11 .5 -.6 .5 1.9 .5 -15.6 .5 4.4 .5 2.2 .5 14.4 .5 -10.9 .5 -1.4 .5 -9 .5 8.6 .5 0 .5 -10.3 .5 9.2 .5 -15.3 .5 15.6 .5 3.4 .5 -7.4 .5 -2.9 .5 2.7 .5 2.4 .5 5.9 .5 8.5 .5 -14.3 .5 10.5 .5 -14.2 .5 18.2 .5 -9.4 .5 .7 .5 -1.9 .5 1.6 .5 -8.3 .5 5.1 .5 13 .5 -14.7 .5 11.1 .5 -5.4 .5 -4.2 .5 -15.8 .5 6.3 .5 -3.2 .5 18.4 .5 -4.6 .5 14 .5 -21.5 .5 2.6 .5 7.4 .5 6.3 .5 7.2 .5 -22.5 .5 6.4 .5 0 .5 -1.2 .5 11.6 .5 -5.5 .5 -11.9 .5 -5.1 .5 13.9 .5 -11.4 .5 13.5 .5 -5.5 .5 8.7 .5 -1.9 .5 -7 .5 -5.5 .5 14.5 .5 -5.5 .5 8.8 .5 -14.4 .5 16.3 .5 -25.3 .5 15.4 .5 4 .5 -12.4 .5 11.8 .5 2.4 .5 -9.2 .5 -.7 .5 6.7 .5 -8.9 .5 11.8 .5 -3.1 .5 -2 .5 7.3 .5 -2.1 .5 -8.7 .5 -8.3 .5 4.3 .5 -1.1 .5 5.9 .5 4.7 .5 -13.7 .5 10.5 .5 3.2 .5 -5.4 .5 8.2 .5 -8.4 .5 -2.3 .5 8.5 .5 -5 .5 -15.6 .5 12 .5 -2.1 .5 17.8 .5 -4.1 .5 -5.5 .5 -3.9 .5 9.2 .5 -14.6 .5 16 .5 5.3 .5 -6.3 .5 -1.9 .5 0 .5 -8.7 .5 4.2 .5 8.8 .5 -19 .5 12.9 .5 -8.1 .5 -.8 .5 9.6 .5 -6.9 .5 3.7 .5 -.7 .5 3.3 .5 -7.3 .5 5.4 .5 3.8 .5 -2.8 .5 .6 .5 .9 .5 3.6 .5 -10.2 .5 10.9 .5 -3.9 .5 -5.8 .5 -2.6 .5 -3.1 .5 3.2 .5 16.7 .5 -6 .5 2.2 .5 -.6 .5 -22.8 .5 12.8 .5 8.1 .5 -16 .5 18 .5 -10.1 .5 16.5 .5 -10.3 .5 -9.4 .5 3.7 .5 1.5 .5 12.2 .5 -15.7 .5 13.4 .5 -4.2 .5 10.3 .5 -12.9 .5 4.9 .5 -7.4 .5 -6.1 .5 8.3 .5 -15.9 .5 22.1 .5 -10.2 .5 2 .5 -1 .5 9.8 .5 -11.2 .5 4.3 .5 -4.8 .5 15.8 .5 -3.2 .5 -14.1 .5 8.1 .5 -4.8 .5 4.4 .5 5.7 .5 -9.2 .5 -3.7 .5 .5 .5 -6.3 .5 13.4 .5 -4.4 .5 6.8 .5 -3 .5 -6.2 .5 6.1 .5 .6 .5 4 .5 -8.3 .5 1.9 .5 14.7 .5 -9.7 .5 -9.7 .5 12.4 .5 -6.6 .5 3.7 .5 3.1 .5 4.4 .5 -9 .5 -2.4 .5 -1.5 .5 -3.6 .5 17.3 .5 -2 .5 -8.9 .5 -6.6 .5 8.3 .5 3.6 .5 -11.8 .5 5.1 .5 -2.3 .5 7 .5 -10 .5 11 .5 -9.4 .5 -2.7 .5 15.8 .5 -11.6 .5 -2.2 .5 2.8 .5 6 .5 .8 .5 -3 .5 3.5 .5 -5.3 .5 3.3 .5 7.5 .5 -13.2 .5 8.4 .5 5 .5 -6.7 .5 -4.8 .5 -2 .5 6.4 .5 5.7 .5 -8.4 .5 -4 .5 2.7 .5 -3.3 .5 -1.8 .5 8.8 .5 -1.9 .5 13.7 .5 -24.2 .5 7.6 .5 -11.3 .5 4.6 .5 11.3 .5 -7.1 .5 6.2 .5 -4.6 .5 -6.1 .5 16.7 .5 -6.2 .5 -1 .5 -7.1 .5 .6 .5 2.7 .5 -12.6 .5 5.7 .5 22.8 .5 -15.5 .5 6.1 .5 -6.8 .5 -10.5 .5 24.2 .5 -7.4 .5 -7.5 .5 -8.4 .5 11.9 .5 2.3 .5 -6.2 .5 -3.5 .5 -5.2 .5 -1.2 .5 4.1 .5 8.4 .5 -11 .5 1.2 .5 1.8 .5 -14.6 .5 1 .5 8.1 .5 -1.8 .5 -3.1 .5 8.8 .5 -9.9 .5 -.6 .5 .1 .5 -1.6 .5 -5.6 .5 -9.4 .5 5.1 .5 2.1 .5 -11 .5 4.6 .5 10.8 .5 -15.9 .5 .8 .5 -5 .5 17.7 .5 -9.1 .5 4.3 .5 3.6 .5 -5.7 .5 2.6 .5 .5 .5 1.5 .5 1.8 .5 5.4 .5 -3.9 .5 -9.9 .5 3.1 .5 1.6 .5 3.6 .5 7.4 .5 -8.5 .5 -.1 .5 6.2 .5 6.1 .5 -11.4 .5 14.9 .5 -3.2 .5 -5.3 .5 5.2 .5 -2.1 .5 -10.5 .5 9.3 .5 2.8 .5 10.7 .5 -12 .5 2 .5 -3.5 .5 15.6 .5 -11.1 .5 1.6 .5 -2.5 .5 3.4 .5 8.3 .5 -5.4 .5 -1.2 .5 -8.7 .5 -.4 .5 20.8 .5 -12.8 .5 2.1 .5 2 .5 -4.3 .5 -11.5 .5 9.4 .5 -8.7 .5 13 .5 3 .5 1 .5 3.2 .5 -2.6 .5 -12 .5 15.2 .5 9.2 .5 -15.5 .5 -7.7 .5 17.9 .5 -2.3 .5 -.5 .5 -1.8 .5 -9.9 .5 4.4 .5 -.4 .5 4.2 .5 9 .5 -15 .5 -1.2 .5 8 .5 4.6 .5 -6.1 .5 2 .5 -3.4 .5 4.4 .5 10 .5 -2.8 .5 -7.4 .5 -4.1 .5 8.7 .5 .8 .5 2.6 .5 -6.6 .5 2.4 .5 1.3 .5 -3 .5 7 .5 -9.1 .5 10.8 .5 -6.7 .5 2 .5 -7.8 .5 -1.6 .5 5.3 .5 7.3 .5 -11.4 .5 16.5 .5 -5.5 .5 -5.2 .5 3.6 .5 12.7 .5 -25.1 .5 4.8 .5 11.1 .5 -9.7 .5 9.9 .5 -7.9 .5 7.6 .5 2.9 .5 .8 .5 -8.3 .5 -10.2 .5 11.7 .5 -4.8 .5 -.3 .5 6.9 .5 -14.8 .5 10.3 .5 -13.6 .5 11.4 .5 8 .5 -2.9 .5 1 .5 4 .5 2.6 .5 -4.1 .5 -16.6 .5 23.3 .5 -16.6 .5 10.3 .5 -3.9 .5 -3.5 .5 9.7 .5 -12.1 .5 4.6 .5 2.7 .5 -4.6 .5 .9 .5 11 .5 -20.4 .5 10.8 .5 -.7 .5 -9.3 .5 12 .5 6.3 .5 4 .5 -16.7 .5 6.4 .5 -8.6 .5 5.7 .5 7.4 .5 -7.9 .5 5.9 .5 -12.3 .5 2.2 .5 8.6 .5 -10.5 .5 3.1 .5 4.2 .5 15.6 .5 -16.2 .5 -5.4 .5 7.2 .5 -1.4 .5 4.2 .5 -1.7 .5 -9.7 .5 10.5 .5 12.1 .5 -4 .5 -6.2 .5 -.9 .5 8.1 .5 .3 .5 -11 .5 -3 .5 2.2 .5 7.9 .5 -5 .5 -3.7 .5 4 .5 8.4 .5 1 .5 -8.1 .5 6.8 .5 -13.8 .5 .2 .5 4.6 .5 -3.7 .5 -5.6 .5 4.1 .5 4.1 .5 12.1 .5 -3.7 .5 -11.5 .5 -.8 .5 -1 .5 1.9 .5 7 .5 6.5 .5 -15 .6 -1 .5 9 .5 9.7 .5 -22.6 .5 5.1 .5 -.1 .5 13.5 .5 -9.4 .5 13.2 .5 -6.3 .5 .5 .5 -6.8 .5 5.6 .5 .5 .5 4.4 .5 -11.3 .5 10 .5 -7.7 .5 -3.6 .5 -2.3 .5 1 .5 .4 .5 8.2 .5 -10.6 .5 7.5 .5 1.7 .5 -16.6 .5 11.6 .5 13.4 .5 -14.1 .5 1.8 .5 7.6 .5 -5.6 .5 .9 .5 7.3 .5 -6.3 .5 -3.7 .5 -7.4 .5 5.4 .5 1.4 .5 6.7 .5 .3 .5 -4.6 .5 -4.9 .5 19.4 .5 -23.2 .5 11.2 .5 -10.5 .5 5.2 .5 5.6 .5 .4 .5 .1 .5 4.9 .5 -12.8 .5 2 .5 -6.9 .5 20 .5 -12.5 .5 -11.8 .5 18.1 .5 -2.3 .5 -.3 .5 1.3 .5 2.6 .5 -3.2 .5 .6 .5 -3.8 .5 -1.4 .5 9.7 .5 -11.6 .5 15.6 .5 -8.2 .5 -9.9 .5 3.1 .5 11 .5 5.4 .5 -5.8 .5 1.2 .5 -1.2 .5 -7.4 .5 5.6 .5 -2.3 .5 8.3 .5 -4.4 .5 -3.4 .5 -4.9 .5 6.7 .5 -11.3 .5 5.2 .5 5 .5 -1.4 .5 7.1 .5 -13.1 .5 17.9 .5 -3.1 .5 -2.4 .5 .7 .5 -9.9 .5 5.2 .5 -4.3 .5 6.1 .5 -3.5 .5 -1.5 .5 4.5 .5 -10.2 .5 9.2 .5 -11.2 .5 15.6 .5 -12.8 .5 16.9 .5 -10 .5 .8 .5 .8 .5 1.1 .5 3.4 .5 -14.5 .5 7.1 .5 -.2 .5 12 .5 -9.1 .5 -2.3 .5 -2.8 .5 5.5 .5 4.1 .5 0 .5 3.9 .5 -3.9 .5 -8.5 .5 -5.8 .5 10.7 .5 .5 .5 -7.9 .5 6.4 .5 -3.8 .5 8.4 .5 -.7 .5 -5.7 .5 -4.6 .5 7.2 .5 -9.2 .5 11.3 .5 -4.3 .5 -13.4 .5 20.7 .5 -9.7 .5 -3.8 .5 5.3 .5 7.8 .5 -4.2 .5 -4 .5 11.9 .5 -5.6 .5 -15.9 .5 5.6 .5 -1 .5 9.3 .5 -5.9 .5 -4.2 .5 16.4 .5 -11.5 .5 8.7 .5 -19.1 .5 14.5 .5 1.1 .5 -7.4 .5 -3.3 .5 21.9 .5 -14.8 .5 -.2 .5 -3.4 .5 3.8 .5 2.1 .5 -3.1 .5 .7 .5 3.6 .5 4.8 .5 -10.3 .5 4.8 .5 -6.4 .5 5.7 .5 -.3 .5 -6.3 .5 9.2 .5 -4.1 .5 -2.9 .5 -5.2 .5 4.4 .5 5.2 .5 -5.5 .5 12.9 .5 -14.1 .5 20.5 .5 -17 .5 5.9 .5 7.7 .5 -10.3 .5 -14.8 .5 28.6 .5 -7 .5 5.6 .5 -16.6 .5 -4.8 .5 12.5 .5 -8.5 .5 7.4 .5 -18.2 .5 20.4 .5 -6.6 .5 2.8 .5 -5.5 .5 14.3 .5 -8.5 .5 1.5 .5 -9.1 .5 4.7 .5 7.2 .5 -2.7 .5 -4.2 .5 -5 .5 -5.6 .5 7.9 .5 -11.3 .5 14.9 .5 .6 .5 -9.7 .5 11.1 .5 7.3 .5 -7.8 .5 .2 .5 .4 .5 -14.9 .5 14.2 .5 -3.1 .5 4.8 .5 4.2 .5 -3.3 .5 -12.3 .5 19.3 .5 -14.4 .5 12.3 .5 -.4 .5 -8 .5 -7 .5 9.7 .5 -8.3 .5 7.9 .5 -5.9 .5 1.7 .5 3.6 .5 -11.9 .5 18.8 .5 -16.4 .5 16.8 .5 -8.6 .5 8.6 .5 -10.8 .5 1.3 .5 7.2 .5 -15.2 .5 16.5 .5 -6.9 .5 3.6 .5 -.1 .5 -3 .5 13.4 .5 -11.3 .5 .4 .5 -8.2 .5 3.1 .5 -3.3 .5 4.2 .5 2.3 .5 .6 .5 -7.4 .5 1.4 .5 8.5 .5 -1.6 .5 -7.2 .5 1.6 .5 2.8 .5 -10.1 .5 10.1 .5 5.7 .5 .9 .5 -12.4 .5 -7.7 .5 11.2 .5 7.6 .5 -5.2 .5 -.1 .5 8.2 .5 -10.6 .5 9.2 .5 -5.2 .5 7.1 .5 -11.7 .5 -1.5 .5 5.9 .5 -.6 .5 5.3 .5 -1.8 .5 -3 .5 -6.8 .5 5.7 .5 8.5 .5 -12.7 .5 3.3 .5 -6 .5 10.9 .5 -5.1 .5 5.2 .5 -2.4 .5 -6.2 .5 4.7 .5 4.3 .5 10.3 .5 -14.2 .5 -2.4 .5 2.1 .5 6.1 .5 -5.3 .5 .2 .5 5.2 .5 -1.7 .5 -7.4 .5 12.3 .5 -10.8 .5 -1.3 .5 10.6 .5 .5 .5 -4.8 .5 -10.2 .5 9.3 .5 -2.3 .5 4.9 .5 -11.9 .5 6 .5 -.5 .5 -3.6 .5 7 .5 -2.6 .5 4.4 .5 -1.4 .5 -11.5 .5 12.9 .5 -5.5 .5 10 .5 -15.7 .5 11.6 .5 -2.3 .5 -3.4 .5 -3.1 .5 8.9 .5 -4.7 .5 4.1 .5 11.3 .5 -16.8 .5 -8.1 .5 12.2 .5 2.4 .5 -.6 .5 -9.2 .5 -2.6 .5 18.6 .5 -3.8 .5 -8.8 .5 3.6 .5 -9.8 .5 23.1 .5 -3.6 .5 -4.7 .5 -7.3 .5 6.9 .5 -8.9 .5 -3.3 .5 2.7 .5 11.7 .5 -1.7 .5 -4 .5 -4.2 .5 9.3 .5 -9.3 .5 -4.8 .5 8.1 .5 .4 .5 -2.7 .5 4.3 .5 1.7 .5 -4.2 .5 3 .5 6.4 .5 -2.2 .5 -1.1 .5 -8.2 .5 -1.7 .5 4.3 .5 6.8 .5 -2.8 .5 0 .5 -4.3 .5 -.7 .5 .7 .5 5.4 .5 -.1 .5 -9.9 .5 2.2 .5 -5 .5 12.3 .5 -8.1 .5 -.6 .5 -5.2 .5 10 .5 -9.5 .5 4.6 .5 3.6 .5 2.1 .5 -7.2 .5 11.8 .5 .9 .5 -2.4 .5 -7.3 .5 6.1 .5 -14.8 .5 5.6 .5 10 .5 -4.9 .5 -2.1 .5 2.6 .5 -7 .5 12.5 .5 -2.8 .5 -10.9 .5 12.6 .5 -9.7 .5 11.7 .5 -10.2 .5 6 .5 -6.3 .5 7.9 .5 -4.3 .5 12.9 .5 -7.2 .5 -7 .5 10.2 .5 -21.2 .5 7.4 .5 1.5 .5 .1 .5 7.3 .5 -7.9 .5 1.4 .5 8.5 .5 -5.7 .5 11.2 .5 -7.7 .5 -1.7 .5 5.4 .5 -.3 .5 -10.8 .5 9.6 .5 -11.2 .5 14 .5 -6.1 .5 -3.9 .5 9.4 .5 -13.1 .5 4.7 .5 9 .5 -7.6 .5 -2.5 .5 .1 .5 1 .5 .7 .5 2.8 .5 -6.7 .5 6.7 .5 7.3 .5 -4.5 .5 -9.5 .5 -7.7 .5 23.5 .5 -7.6 .5 -4.3 .5 -3.9 .5 5.5 .5 -10.9 .5 3.9 .5 -2.1 .5 6.8 .5 4.7 .5 5.4 .5 -9.7 .5 12.8 .5 -11.3 .5 -7.7 .5 3.5 .5 11.9 .5 -5.3 .5 .2 .5 -4.4 .5 -3.8 .5 -1.1 .5 3.6 .5 .9 .5 1.1 .5 -3.9 .5 4.1 .5 -.7 .5 -4.8 .5 6.7 .5 7 .5 -3.9 .5 -5.8 .5 3.4 .5 -1.4 .5 -3.8 .5 8 .5 .5 .5 -7 .5 4.4 .5 -4.5 .5 -1.7 .5 5.3 .5 4.6 .5 -9.5 .5 -1.3 .5 -.9 .5 3.3 .5 5.6 .5 -6.9 .5 -.8 .5 7.3 .5 -1.9 .5 -4.8 .5 3.9 .5 8.8 .5 -.8 .5 3.2 .5 -9.3 .5 -6.8 .5 17.9 .5 -2 .5 -14.6 .5 5.8" fill="none" stroke="#0b0908" stroke-width="1.4" stroke-linejoin="round"/>
<path d="M1915.7 691.0l.8 -3 .8 8.4 .8 -7 .8 0 .8 8.1 .8 4.5 .8 .6 .8 1.2 .8 -3.4 .8 -2.6 .8 4.8 .8 .6 .8 -1.7 .8 -2.8 .8 2.8 .8 2.4 .8 -5.9 .8 3.8 .8 -3.6 .8 13.6 .8 -4.7 .8 -3.7 .8 4.8 .8 -3.5 .8 -3.2 .8 2.5 .8 -.8 .8 11.9 .8 -15.8 .8 -7.1 .8 14.5 .8 -9.2 .8 -.4 .8 11.6 .8 -9.8 .8 -2 .8 5.5 .8 -5.7 .8 8.3 .8 -6.7 .8 3.5 .8 5.6 .8 1.9 .8 -18.2 .8 7 .8 .1 .8 4.8 .8 -5.7 .8 -2.7 .8 8.4 .8 -2.2 .8 -6 .8 -9.5 .8 4.7 .8 -6.2 .8 7.9 .8 -7.3 .8 -3.3 .8 -1.7 .8 -3.7 .8 -8.1 .8 1.1 .8 -4.2 .8 -10 .8 3.8 .8 -6.7 .8 -6.9 .8 -6.4 .8 -8.9 .8 -6.5 .8 -9.4 .8 -9 .8 -5.3 .8 -8.6 .8 -7.8 .8 -6.1 .8 -6.5 .8 -6.2 .8 -8 .8 -6.3 .8 -9 .8 -6.2 .8 -3.3 .8 -2.7 .9 -3.4 .8 -3.3 .8 3.7 .8 5.9 .8 3 .8 .9 .8 8.4 .8 5.3 .8 6.1 .8 7.3 .8 6 .8 8.3 .8 4 .8 5.7 .8 7.8 .8 7.2 .8 6.3 .8 9.3 .8 8.1 .8 7 .8 8.7 .8 9 .8 7.1 .8 4.1 .8 8.1 .8 4 .8 8.3 .8 1.2 .8 6.2 .8 .8 .8 9.4 .8 2.3 .8 3.1 .8 4.1 .8 4.4 .8 2.5 .8 6.2 .8 0 .8 3.1 .8 11.3 .8 -6.5 .8 3.5 .8 .6 .8 -.1 .8 2 .8 -4.4 .8 8.9 .8 -.8 .8 .7 .8 -4 .8 9 .8 -8.3 .8 5.9 .8 -1.6 .8 -2.1 .8 12.3 .8 .1 .8 .1 .8 -4.6 .8 -3 .8 4.7 .8 -.9 .8 -6.3 .8 12.3 .8 -1.2 .8 -5.6 .8 -1.3 .8 4.1 .8 1.4 .8 8.1 .8 -6.9 .8 -5.5 .8 7 .8 -7.3 .8 .9 .8 6.4 .8 -2.7 .8 -4.7 .8 3.1 .8 1.1 .8 -2.1 .8 2.3 .8 2.6 .8 -1.5 .8 -2.3 .8 6.5 .8 3.4 .8 -2.7 .8 -7.7 .8 1.1 .8 3.6 .8 .4 .8 -4.5 .8 5.6 .8 -1.9 .8 -5 .8 -2.2 .8 6.8 .8 -2.8 .8 10.1 .8 -11.6 .8 1.1 .8 12.3 .8 -15.1 .8 8.4 .8 -3.6 .8 -2.3 .8 -3.4 .8 4.4 .8 5.1 .8 -3.1 .8 -3.8 .8 3.1 .8 -5.4 .8 1.6 .8 3.4 .8 -4.8 .8 2.5 .8 -3.4 .8 -5.1 .8 8.5 .8 -8.6 .8 6.3 .8 -2.4 .8 -.5 .8 -4 .8 -5 .8 -4.3 .8 -.8 .8 -2.2 .8 2.4 .8 -10.3 .8 5.5 .8 -6 .8 -.1 .8 -.7 .8 -3 .8 -.6 .8 -7.5 .8 -.9 .8 -4.7 .8 2.5 .8 -.9 .8 .8 .8 -.5 .8 1.2 .8 -.8 .8 -8 .8 .3 .8 -1.8 .8 -.7 .8 4.1 .8 .6 .8 -3.9 .8 -1.5 .8 -6.1 .8 .5 .8 .8 .8 -9.1 .8 9.9 .8 -2.7 .8 7.4 .8 -7.9 .8 -6.1 .8 6.9 .8 -1 .8 1.7 .8 -5.2 .8 4.7 .8 -6.9 .8 8.7 .8 -1.8 .8 -7.8 .8 11.9 .8 1.8 .8 .7 .8 -1.3 .8 -4.6 .8 0 .8 5.1 .8 2.8 .8 5.9 .8 -8.2 .8 -7.7 .8 5.7 .8 4.8 .8 -.6 .8 1.8 .8 -7.4 .8 2 .9 4.4 .8 -.9 .8 .1 .8 -3.8 .8 .7 .8 3.9 .8 1.7 .8 -8.3 .8 5.8 .8 1.6 .8 -1 .8 .2 .8 -1.6 .8 -2.4 .8 7.3 .8 -9.3 .8 6.1 .8 -5.6 .8 2 .8 1.9 .8 -3.6 .8 4.3 .8 2.8 .8 1.2 .8 -6.5 .8 2.7 .8 -3.2 .8 -2.7 .8 1.8 .8 9.6 .8 -11.9 .8 1 .8 -.4 .8 2.5 .8 -4.9 .8 -4.3 .8 -2.9 .8 -.9 .8 -3.3 .8 -7.8 .8 .6 .8 -3.9 .8 -4.6 .8 -6.4 .8 -5.1 .8 -8.2 .8 -5.9 .8 -5.9 .8 -9.9 .8 -9.5 .8 -9.3 .8 -11.9 .8 -13.6 .8 -14.7 .8 -14.9 .8 -15.8 .8 -16.8 .8 -19.1 .8 -19.2 .8 -20.7 .8 -22.5 .8 -23.6 .8 -24.1 .8 -24.5 .8 -23.8 .8 -28.8 .8 -30.9 .8 -27.9 .8 -20.4 .8 -6.2 .8 16.7 .8 34 .8 38.5 .8 31.8 .8 30.6 .8 31.1 .8 29.4 .8 26.3 .8 22.6 .8 20.1 .8 18.7 .8 17.1 .8 15.9 .8 14.9 .8 13.7 .8 14.8 .8 13.6 .8 13.3 .8 11.9 .8 11.9 .8 10.7 .8 8.4 .8 9.4 .8 6.5 .8 5.9 .8 5.1 .8 6.4 .8 4 .8 4.3 .8 5 .8 1.9 .8 3 .8 6 .8 .6 .8 3.7 .8 -2.8 .8 7 .8 -4.1 .8 5.3 .8 3.1 .8 10 .8 -6.7 .8 4.9 .8 -2.6 .8 2.3 .8 -2.9 .8 10.4 .8 -.4 .8 2.1 .8 -.2 .8 -.4 .8 3.5 .8 -1.3 .8 6.3 .8 -2.2 .8 -2.4 .8 -2.1 .8 4.2 .8 -2.7 .8 6.2 .8 -1.3 .8 -5.3 .8 10.8 .8 -6.1 .8 -4.1 .8 12.2 .8 -5.7 .8 -.5 .8 .4 .8 2.6 .8 -.2 .8 -3.9 .8 4.9 .8 .3 .8 1.7 .8 -7.1 .8 4.7 .8 -3.4 .8 3 .8 -1.9 .8 6.1 .8 -1.7 .8 .2 .8 1.4 .8 -3.7 .8 -1.4 .8 .6 .8 8.7 .8 -4.9 .8 10.2 .8 -5.7 .8 -2.4 .8 3.1 .8 -5.4 .8 3.4 .8 -.7 .8 3.8 .8 -8.9 .8 2.2 .8 5.6 .8 1.4 .8 2.6 .8 -5.7 .8 .8 .8 -5.3 .8 6.9 .8 .4 .8 -3.2 .8 2.2 .8 -.7 .8 .6 .8 -1.8 .8 4.3 .8 1.3 .8 -8.7 .8 -.7 .8 -5 .8 3.2 .8 3.4 .8 -8.7 .9 -.6 .8 7.1 .8 -12.4 .8 7.4 .8 -3.6 .8 -4 .8 -4.2 .8 -.5 .8 -.3 .8 -9.2 .8 4.4 .8 -4.3 .8 -6.2 .8 -.6 .8 1.4 .8 -8.4 .8 -1.7 .8 1.5 .8 .2 .8 5 .8 3.5 .8 -5.3 .8 -1.2 .8 6 .8 -1.5 .8 2.4 .8 2.8 .8 2.6 .8 0 .8 1.6 .8 -.5 .8 5.6 .8 -6.6 .8 12.8 .8 -8.2 .8 2.4 .8 -.7 .8 -4.8 .8 4.8 .8 3.2 .8 .5 .8 -1.1 .8 -2.6 .8 -1.2 .8 -1.1 .8 8.8 .8 1.1 .8 -6.9 .8 3.2 .8 -1.9 .8 .7 .8 -.7 .8 5.6 .8 -3.5 .8 -2.1 .8 6 .8 -9.4 .8 6.9 .8 -.9 .8 -4.4 .8 -2.9 .8 .3 .8 4.2 .8 -1.1 .8 -4.8 .8 6.2 .8 -1.2 .8 1 .8 -.4 .8 -.3 .8 -1.5 .8 3.5 .8 -2.1 .8 5.6 .8 -4.4 .8 -4.6 .8 11.6 .8 -6.5 .8 1.9 .8 -3.5 .8 -4.4 .8 6.7 .8 -.6 .8 -8.1 .8 2.5 .8 6.4 .8 -4.5 .8 .8 .8 3.8 .8 5.7 .8 -6.6 .8 5.9 .8 -9.8 .8 7.8 .8 -2.6 .8 -6.6 .8 7.5 .8 -1.3 .8 .5 .8 11.8 .8 -15.7 .8 8.4 .8 -7.1 .8 9.1 .8 -1.4 .8 4.5 .8 -1.7 .8 -.5 .8 -2.2 .8 1.7 .8 6 .8 -.7 .8 -6.4 .8 3.6 .8 4.9 .8 0 .8 4.5 .8 -9.5 .8 5.4 .8 -2.8 .8 2.9 .8 -1.6 .8 2.9 .8 1.7 .8 -6.7 .8 -6.2 .8 10.9 .8 -1.9 .8 -1.7 .8 4.7 .8 5.2 .8 -6.4 .8 -4.1 .8 1.5 .8 -.5 .8 -1.1 .8 .4 .8 .4 .8 .2 .8 2.7 .8 -1.5 .8 1.3 .8 -4.3 .8 1 .8 5.6 .8 -8.4 .8 5.8 .8 -1 .8 -1.7 .8 3 .8 -1 .8 -3.7 .8 8.2 .8 -1 .8 -9.5 .8 7.5 .8 3.5 .8 4.2 .8 -3.4 .8 -9.6 .8 3.4 .8 -.3 .8 -1 .8 -2.4 .8 6.1 .8 .2 .8 -2.2 .8 3.2 .8 -2.8 .8 5.4 .8 -1.7 .8 .1 .8 -3.8 .8 -5.4 .8 5.8 .8 2.2 .8 -9.8 .8 7.5 .8 8.2 .8 -9.7 .8 1.6 .8 5 .8 2.3 .8 -7.4 .8 7.9 .8 -6.2 .8 .2 .8 -2.5 .8 2.7 .8 4.4 .9 -9.4 .8 4.2 .8 -4 .8 3.6 .8 1.9 .8 .6 .8 -2.4 .8 3.4 .8 -2.3 .8 4.5 .8 -8.9 .8 .1 .8 12.2 .8 -10.7 .8 -3.9 .8 3.5 .8 5.7 .8 1.8 .8 5.6 .8 .4 .8 -7.7 .8 5.2 .8 -3.3 .8 .2 .8 3.1 .8 1.2 .8 -4.9 .8 5.2 .8 -2.1 .8 -1 .8 -2.2 .8 3.8 .8 2 .8 -1.6 .8 -1.8 .8 3.8 .8 -1.7 .8 -4.3 .8 7.4 .8 -12.8 .8 5 .8 -1.2 .8 7.4 .8 -1 .8 .1 .8 -.1 .8 -5.4 .8 3.3 .8 6.9 .8 -2.4 .8 -3.5 .8 -3.7 .8 9.6 .8 -2.3 .8 .8 .8 -.6 .8 1.3 .8 -10.4 .8 10.3 .8 1.3 .8 -5.5 .8 9.8 .8 -8 .8 -.5 .8 4.5 .8 -3.3 .8 -1.4 .8 1.9 .8 -.6 .8 .7 .8 1.7 .8 1.3 .8 -6.1 .8 7.2 .8 -.3 .8 3.4 .8 -1.3 .8 -5.2 .8 .8 .8 .8 .8 .6 .8 -1.1 .8 3.6 .8 -1.8 .8 1.1 .8 -5.1 .8 -2.4 .8 7.6 .8 -.2 .8 -5.6 .8 3.5 .8 0 .8 2.5 .8 -.6 .8 1.6 .8 -4.3 .8 2.5 .8 -.3 .8 2.5 .8 .5 .8 -2.1 .8 -4.8 .8 5.2 .8 -4.7 .8 2.6 .8 1.7 .8 .1 .8 8.7 .8 -2.5 .8 -.1 .8 -2.2 .8 -5.6 .8 5.7 .8 -3.9 .8 1.9 .8 -5.1 .8 3.5 .8 5.2 .8 -11.3 .8 9.9 .8 -3.8 .8 -.7 .8 6.8 .8 -6.6 .8 4.9 .8 -1.4 .8 -2.1 .8 2.2 .8 -3.2 .8 6.6 .8 -1.5 .8 -8 .8 2.9 .8 2 .8 .4 .8 2.7 .8 -6.1 .8 -1.2 .8 4.7 .8 -1.2 .8 3.1 .8 3.4 .8 -8.1 .8 -.7 .8 -.4 .8 8.2 .8 -1.5 .8 -3.3 .8 1.9 .8 -5.3 .8 6.3 .8 -2.8 .8 -.1 .8 1.2 .8 .5 .8 -.1 .8 -8.6 .8 12 .8 -8.4 .8 2.3 .8 3.6 .8 -3.2 .8 -.8 .8 3.8 .8 2.2 .8 -6 .8 2.8 .8 -4.4 .8 5.3 .8 6.6 .8 -3.2 .8 -5 .8 2 .8 .4 .8 -.2 .8 1.2 .8 2 .8 -1.8 .8 -1.6 .8 1.6 .8 -3 .8 -1 .8 -2.4 .8 6.8 .8 -.9 .8 .7 .8 -3.2 .8 4.8 .8 -.5 .8 -2.2 .9 2.6 .8 -3.6 .8 2.6 .8 -4.9 .8 5.2 .8 -7.7 .8 1.8 .8 2.9 .8 3.3 .8 -3.4 .8 -3.7 .8 5 .8 -9.3 .8 7.7 .8 .1 .8 -.7 .8 1.4 .8 -.2 .8 -1 .8 -2.3 .8 .6 .8 2.5 .8 -5.6 .8 .5 .8 3.4 .8 -.7 .8 2.7 .8 .3 .8 -3.4 .8 -1.7 .8 4.7 .8 -8 .8 7.4 .8 2.7 .8 -7.2 .8 3.7 .8 -1.1 .8 -3.9 .8 -.4 .8 4.7 .8 -3.8 .8 -2.9 .8 -4.8 .8 5.8 .8 .2 .8 .6 .8 -2.4 .8 -4.9 .8 -.6 .8 .6 .8 1.2 .8 -3.4 .8 1 .8 -.9 .8 -3 .8 -1.3 .8 -3.2 .8 -4.4 .8 -3.7 .8 1.9 .8 -4.9 .8 -.5 .8 -.8 .8 -2.7 .8 0 .8 2.4 .8 -4 .8 -1.6 .8 6 .8 2.5 .8 -4 .8 2.1 .8 3.2 .8 -2.4 .8 -.6 .8 6.4 .8 -.1 .8 -2.5 .8 8.5 .8 -4.4 .8 -.3 .8 5.5 .8 1.1 .8 6.3 .8 -3.1 .8 -3.7 .8 1.5 .8 1.4 .8 4.4 .8 -1.9 .8 4.3 .8 -2.4 .8 -3.7 .8 -.8 .8 4.4 .8 2.1 .8 1.2 .8 4 .8 .2 .8 -4.8 .8 4.7 .8 -5.7 .8 8.7 .8 -2.8 .8 -3.4 .8 7 .8 -1.6 .8 2.5 .8 -3.2 .8 1.7 .8 3 .8 -5.8 .8 4.4 .8 -4.2 .8 11.6 .8 -7.9 .8 1.4 .8 4.1 .8 -4.7 .8 1.4 .8 -.4 .8 2.5 .8 -1.9 .8 .6 .8 -.3 .8 -2.3 .8 4.2 .8 -5.7 .8 -2 .8 7.2 .8 3.6 .8 -.6 .8 -2.9 .8 -3.8 .8 3 .8 1.2 .8 3.4 .8 -3.4 .8 4 .8 -3 .8 .1 .8 -1.9 .8 .5 .8 -1.8 .8 2.2 .8 -.3 .8 4.4 .8 -7.5 .8 4 .8 -.3 .8 -2.9 .8 7.6 .8 -1.4 .8 -1.5 .8 -3.2 .8 .1 .8 -.5 .8 -3.5 .8 12.7 .8 -3.9 .8 .3 .8 -4.9 .8 -.2 .8 4.7 .8 -4 .8 4.7 .8 -5.7 .8 1.9 .8 .3 .8 .4 .8 -3.2 .8 5.5 .8 -1.5 .8 -7.7 .8 1.9 .8 6.3 .8 -2.9 .8 .6 .8 -3.9 .8 7.4 .8 0 .8 -1.4 .8 -1.2 .8 .6 .8 4.1 .8 -1.3 .8 .3 .8 -2.1 .8 .5 .8 -.9 .9 3.1 .8 .1 .8 -8.1 .8 8.1 .8 3.8 .8 -4.3 .8 -1.3 .8 .6 .8 -1 .8 3.2 .8 .2 .8 -4.5 .8 .2 .8 5.8 .8 -8.2 .8 3.6 .8 3 .8 -3.5 .8 1.6 .8 4.4 .8 -3.6 .8 2.4 .8 -4.9 .8 2.1 .8 -7.6 .8 8.9 .8 -3.5 .8 1.2 .8 3.6 .8 -9.3 .8 6.9 .8 2.3 .8 .2 .8 -9 .8 7.8 .8 2.4 .8 -6.9 .8 4.5 .8 0 .8 -2.1 .8 .1 .8 4.5 .8 -2.6 .8 -1.7 .8 -2.4 .8 6.6 .8 3.3 .8 -2.4 .8 -11.4 .8 3.4 .8 4.7 .8 -.5 .8 -.9 .8 -6.2 .8 4.1 .8 4.2 .8 -4.1 .8 -1.6 .8 3.5 .8 1.7 .8 .7 .8 -4.3 .8 -.5 .8 3 .8 1.4 .8 2.2 .8 -6 .8 1.4 .8 -3.7 .8 .4 .8 9.7 .8 -4.2 .8 2 .8 -1.9 .8 -2.7 .8 5.6 .8 .2 .8 -2.2 .8 3 .8 -3.5 .8 -.8 .8 .1 .8 5.1 .8 -6.4 .8 5.7 .8 -.5 .8 -4.6 .8 8.8 .8 -8.1 .8 -2 .8 5.7 .8 -4 .8 3 .8 -2.6 .8 -4.2 .8 7 .8 -3.9 .8 3.6 .8 -2.5 .8 -1.3 .8 2.1 .8 2.7 .8 -1.1 .8 -2.4 .8 -6.7 .8 9.9 .8 -2.1 .8 2.3 .8 -3.5 .8 .8 .8 -.6 .8 1.7 .8 -1 .8 -.9 .8 6.8 .8 -7.8 .8 4.6 .8 -.9 .8 -5.1 .8 9.4 .8 -6.2 .8 -1 .8 3.5 .8 -1.5 .8 -1.1 .8 .1 .8 -.2 .8 -4.9 .8 10.5 .8 -1.3 .8 -3.9 .8 -2 .8 3.8 .8 2.2 .8 -.4 .8 -1.3 .8 -1.7 .8 .9 .8 .2 .8 -.5 .8 1.5 .8 .4 .8 1.6 .8 -.5 .8 -3.5 .8 .8 .8 -1.7 .8 2.8 .8 -3.7 .8 7.3 .8 -8.3 .8 4.6 .8 .2 .8 .4 .8 6 .8 -8.6 .8 -.1 .8 2.6 .8 -4 .8 3.7 .8 6.5 .8 -7.3 .8 .5 .8 .6 .8 -1.4 .8 -2.1 .8 -1.5 .8 9.1 .8 -5.9 .8 1.7 .8 -3.7 .8 .9 .8 3.5 .8 -2.8 .8 3.9 .8 -.3 .8 -4.9 .8 7 .8 -4.7 .8 3.2 .8 -7 .8 3.9 .8 3.2 .8 -2.9 .8 0 .8 0 .8 6.4 .8 -7.1 .8 2.8 .8 -3.4 .9 .5 .8 2.8 .8 2.1 .8 -8.3 .8 6.1 .8 -.9 .8 -.5 .8 -.1 .8 -2.7 .8 5.6 .8 -4.5 .8 .8 .8 -.4 .8 -2 .8 2.4 .8 -2.8 .8 1.3 .8 3.8 .8 -2 .8 .3 .8 -.7 .8 2.9 .8 .8 .8 -2.2 .8 2 .8 -7.3 .8 6.8 .8 -.9 .8 -1.9 .8 4.4 .8 -.6 .8 -3.4 .8 .4 .8 1.8 .8 -2.1 .8 -.5 .8 -3.2 .8 7.4 .8 -4.7 .8 .8 .8 2.5 .8 -1.7 .8 3.5 .8 -3.1 .8 -5 .8 8.1 .8 -2 .8 -.7 .8 .9 .8 -1.4 .8 3.1 .8 -.6 .8 -.7 .8 .3 .8 -5.7 .8 5.6 .8 -8 .8 7.9 .8 2.9 .8 1.9 .8 -6 .8 -.4 .8 -3.2 .8 8.5 .8 -9.4 .8 3.1 .8 .8 .8 -1.2 .8 3.3 .8 -.1 .8 -.6 .8 3.5 .8 -1.9 .8 -3.3 .8 -.6 .8 8.3 .8 -10 .8 2.8 .8 1.3 .8 -4.4 .8 5.7 .8 -3.9 .8 8.1 .8 -6.6 .8 3.2 .8 -1.2 .8 -1.1 .8 -1 .8 -.1 .8 4.5 .8 -.9 .8 -2.9 .8 1.4 .8 -2.8 .8 1.7 .8 -1.2 .8 .4 .8 8.1 .8 -6 .8 -5.2 .8 10.5 .8 -7.2 .8 4.1 .8 -4.6 .8 2 .8 -1.8 .8 1.9 .8 3.9 .8 .7 .8 1.1 .8 -6.6 .8 2.2 .8 -2.2 .8 .5 .8 5.6 .8 -3.6 .8 -8 .8 6.2 .8 1.8 .8 .7 .8 -3.4 .8 -1.3 .8 -2.3 .8 7.3 .8 -1.8 .8 -3.9 .8 5.7 .8 2 .8 -5.9 .8 5.3 .8 -6.7 .8 4.5 .8 -1.8 .8 3.4 .8 -2.4 .8 3.9 .8 -4.2 .8 -3.6 .8 4.5 .8 -.6 .8 2.6 .8 -5.6 .8 5.4 .8 -5.5 .8 -2.7 .8 4.4 .8 1.4 .8 5.2 .8 -4.9 .8 -2.6 .8 6.2 .8 .3 .8 -.7" fill="none" stroke="#0b0908" stroke-width="4.8" stroke-linejoin="round"/>
<path d="M1915.7 703.1l.5 -8.1 .5 2.4 .5 1.3 .5 -5.2 .5 -9.1 .5 10.8 .5 9.1 .5 -14.4 .5 7.1 .5 4.3 .5 -10.8 .5 14.5 .5 -13.3 .5 6.1 .5 -8.1 .5 10.6 .5 -13.1 .5 14.3 .5 -13.7 .5 4.9 .5 24.5 .5 -27.4 .5 9.5 .5 -2.6 .5 14.9 .5 -12.4 .5 -14.4 .5 16.6 .5 -12 .5 -2.5 .5 5.7 .5 5.1 .5 -13.1 .5 29.5 .5 3.8 .5 -23.3 .5 17.4 .5 2.4 .5 -17.6 .5 3.5 .5 19.2 .5 -6 .5 -18.4 .5 5 .5 -11.3 .5 20 .5 -13.7 .5 13.6 .5 -7.2 .5 .6 .5 -11.4 .5 21.7 .5 -29.8 .5 19.9 .5 -1.6 .5 9.6 .5 1.6 .5 -11.2 .5 4.6 .5 -4.4 .5 10.7 .5 -4.4 .5 -14.5 .5 -.3 .5 5.5 .5 13.2 .5 -15.3 .5 4.3 .5 1.2 .5 -12.7 .5 29.7 .5 -23.9 .5 4.9 .5 7.6 .5 3.3 .5 -13.3 .5 18.3 .5 -21.7 .5 23.9 .5 -20 .5 7.2 .5 -12 .5 -7.9 .5 3.6 .5 3.2 .5 -.1 .5 -3.1 .5 8.7 .5 -9.7 .5 -6.4 .5 .4 .5 4.2 .5 -10.2 .5 1.5 .5 -.1 .5 -5.8 .5 2.3 .5 -3.8 .5 -13.8 .5 15.8 .5 -12 .5 -3.8 .5 3.4 .5 -4 .5 -.8 .5 -6.4 .5 -1 .5 -2.3 .5 -12 .5 -1.8 .5 -3.4 .5 -5.6 .5 -4.4 .5 -6.3 .5 -5.9 .5 -4.9 .5 -5.9 .5 -3.9 .5 -4.7 .5 -4.8 .5 -.5 .5 -5.8 .5 -1 .5 -7.8 .5 -7.4 .5 .1 .5 -7.4 .5 -4.5 .5 -1.6 .5 -2.8 .5 -4.9 .5 -.5 .5 -16.7 .5 7.4 .5 -3.1 .5 10 .5 -10.4 .5 3.1 .5 .8 .5 -7.9 .5 12.7 .5 -5 .5 .8 .5 11.5 .5 4.9 .5 3.1 .5 -.3 .5 4.8 .5 5.5 .5 3.5 .5 3.4 .5 1.3 .5 6.9 .5 4.8 .5 6.2 .5 .7 .5 1 .5 8.8 .5 .2 .5 5.4 .5 4.3 .5 8.3 .5 1.8 .5 5.9 .5 6.4 .5 2.5 .5 5 .5 7.4 .5 4.3 .5 3.2 .5 5.4 .5 3 .5 6.9 .5 -.9 .5 4.5 .5 2.7 .5 6 .5 2.6 .5 3.7 .5 6.1 .5 -2.9 .5 6.9 .5 2.2 .5 -.9 .5 7.6 .5 -3.5 .5 11.2 .5 1 .5 2.9 .5 -.5 .5 -6.4 .5 9.2 .5 14.5 .5 -6.6 .5 -5.7 .5 5.8 .5 -.8 .5 -4.6 .5 10.7 .5 -1 .5 5.5 .5 9.6 .5 -12.1 .5 3.5 .5 5.3 .5 -4.6 .5 -9 .5 9.9 .5 6.3 .5 -9.4 .5 -2.5 .5 4.7 .5 19.5 .5 -19.8 .5 -14.2 .5 17.5 .5 1.3 .5 -2.8 .5 4.4 .5 .4 .5 2.3 .5 -1.1 .5 -13.3 .5 11.2 .5 -15.5 .5 30 .5 -10.1 .5 -1.7 .5 5.3 .5 -5.3 .5 2.2 .5 -4.8 .5 21.1 .5 -13.5 .5 -4.4 .5 6.3 .5 2.9 .5 -5 .5 -6 .5 10.2 .5 -4.4 .5 15 .5 -33.8 .5 14.2 .5 14.2 .5 -12.6 .5 -2.2 .5 10.8 .5 -10.4 .5 10 .5 -6 .5 -13.1 .5 18.2 .5 -.1 .5 3.8 .5 1.4 .5 -7.4 .5 20.5 .5 -15.5 .5 16.5 .5 -35.8 .5 19.9 .5 -3.6 .5 2.7 .5 11 .5 -10.2 .5 -11.5 .5 2.8 .5 12.3 .5 -4 .5 0 .5 -2.1 .5 -.9 .5 .1 .5 -13.3 .5 17.8 .5 -24 .5 10.2 .5 15.6 .5 -5.1 .5 3.6 .5 -8.9 .5 1.3 .5 3.5 .5 -3.1 .5 14 .5 -18.1 .5 3.4 .5 7.9 .5 -13.2 .5 28.4 .5 -18.5 .5 -2.2 .5 16.2 .5 2.9 .5 -27.7 .5 14 .5 -1.3 .5 -9.2 .5 18.3 .5 -17.4 .5 -2.2 .5 -3.3 .6 20.4 .5 -16.2 .5 17.3 .5 -16 .5 12.3 .5 -6.8 .5 -6.1 .5 10.8 .5 -17.6 .5 22.4 .5 -13.4 .5 2.3 .5 .2 .5 -7.6 .5 -7.9 .5 9.4 .5 -9.8 .5 6 .5 1.7 .5 .2 .5 .3 .5 8.3 .5 6.9 .5 -10.7 .5 -5.7 .5 -2.3 .5 -7.6 .5 7.7 .5 -1.1 .5 1.8 .5 -2.8 .5 2.9 .5 -3.5 .5 2.7 .5 -7.1 .5 -8.4 .5 -8.4 .5 13.9 .5 6.7 .5 -11.1 .5 13.8 .5 -8.1 .5 -7.2 .5 -4.2 .5 -.2 .5 -1.1 .5 1.8 .5 -14.5 .5 18.4 .5 -17.3 .5 7.3 .5 -2 .5 -2.6 .5 2.9 .5 3.1 .5 -6.4 .5 -3.3 .5 .5 .5 -6.2 .5 5.8 .5 3.5 .5 -17.5 .5 18 .5 -14.3 .5 5.2 .5 6.1 .5 -9.4 .5 10.3 .5 -19.6 .5 9.8 .5 -6.8 .5 5.1 .5 -2.7 .5 -12.5 .5 10.2 .5 2.1 .5 -7 .5 5.4 .5 -3.6 .5 -17.4 .5 21.5 .5 -13.6 .5 4.4 .5 3.9 .5 -13.9 .5 13.1 .5 -1.4 .5 0 .5 7.4 .5 .7 .5 3.2 .5 -27.5 .5 9.8 .5 5.6 .5 5.9 .5 -.7 .5 -.5 .5 -8.8 .5 14.4 .5 -9.8 .5 -6 .5 5.7 .5 2.3 .5 5 .5 -19.1 .5 3.4 .5 16.1 .5 -14.1 .5 6.5 .5 -3.8 .5 -2.4 .5 2.2 .5 -3.9 .5 17.8 .5 -9.8 .5 13.5 .5 3.3 .5 -20.9 .5 .5 .5 7.3 .5 10.3 .5 .4 .5 -8.2 .5 -11.3 .5 15.5 .5 7.4 .5 -6.2 .5 -11.4 .5 10.3 .5 -5.6 .5 5.9 .5 4.1 .5 -1.6 .5 -4.9 .5 5.5 .5 -7.5 .5 -.8 .5 -10 .5 5.6 .5 10.7 .5 -6.9 .5 13.6 .5 -15 .5 1.2 .5 13.4 .5 -20.5 .5 12.8 .5 -1.6 .5 .6 .5 -.2 .5 5.3 .5 -24.8 .5 3.1 .5 17.1 .5 -5.7 .5 -4.9 .5 3.2 .5 16 .5 -19.1 .5 24.3 .5 -18.4 .5 1.3 .5 5.9 .5 -3.9 .5 -12.9 .5 11.9 .5 -3 .5 6.5 .5 -9.5 .5 8 .5 -2.6 .5 -8.8 .5 16.9 .5 8.1 .5 -14.4 .5 -5.3 .5 -2.9 .5 1.3 .5 8.2 .5 3.8 .5 9.4 .5 -8.6 .5 -12.1 .5 17.8 .5 -5.7 .5 -14.2 .5 .9 .5 7 .5 -.5 .5 -4.1 .5 -1.7 .5 -8.2 .5 13.4 .5 -3.3 .5 -8.4 .5 -4.6 .5 -.2 .5 -.8 .5 8.4 .5 -8.2 .5 -10 .5 -.5 .5 -1.6 .5 -5.2 .5 -3.9 .5 -3.8 .5 -6.1 .5 -.8 .5 1.6 .5 -9.4 .5 -2.5 .5 -7.5 .5 -3.6 .5 -5.5 .5 -4.4 .5 -6 .5 -5.4 .5 -7.4 .5 -7.4 .5 -9 .5 -8.6 .5 -9.5 .5 -9.3 .5 -9.8 .5 -9.5 .5 -10.6 .5 -11.2 .5 -10.9 .5 -11.6 .5 -12.9 .5 -12.5 .5 -13.1 .5 -13.8 .5 -14.8 .5 -15.3 .5 -15 .5 -15.3 .5 -14.9 .5 -14.9 .5 -15.9 .5 -18.2 .5 -19.4 .5 -19 .5 -17.9 .5 -15.4 .5 -10.5 .5 -11.6 .5 7.8 .5 9.9 .5 19.2 .5 23.1 .5 24.3 .5 22.5 .5 18.7 .5 19.2 .5 19.2 .5 19.2 .5 18.6 .5 18.4 .5 16.6 .5 15 .5 14 .5 12.3 .5 12.6 .5 11.5 .5 11.8 .5 9.9 .5 9.4 .5 9.5 .5 8.6 .5 9.6 .5 8.7 .5 9.2 .5 8.9 .5 8.2 .5 7.7 .5 7.1 .5 9.5 .5 7.4 .5 6.8 .5 6.6 .5 4.3 .5 7.4 .5 8.6 .5 -2 .5 6.8 .5 7.5 .5 -.9 .5 6.2 .5 2.2 .5 -2.5 .5 4.1 .5 -2.4 .5 15.9 .5 4.1 .5 -1.9 .5 2 .5 -2.7 .5 5.5 .5 -5.2 .5 12.9 .5 1.3 .5 6.5 .5 -1.2 .5 -5.8 .5 7.1 .5 -3.3 .5 9.6 .5 -2.5 .5 .8 .5 3.6 .5 .3 .5 -13.1 .5 1 .5 16.7 .5 -16.4 .5 2.6 .5 10.2 .5 10.4 .5 -2.5 .5 4.6 .5 -11.1 .5 8.9 .5 -4.3 .5 -2.8 .5 7.2 .5 -10 .5 13.5 .5 -13.6 .5 .1 .5 2.1 .5 26.2 .5 -8.7 .5 -.6 .5 -14.6 .5 9.5 .5 3.9 .5 -21.7 .5 10.5 .5 21.2 .5 -5.4 .5 -6.1 .5 4.1 .5 -4.3 .5 7.7 .5 -11.4 .5 .2 .5 10.5 .5 4.1 .5 -5.8 .5 6.6 .5 -4.7 .5 -15.8 .5 18.7 .5 4.2 .5 -12.4 .5 1.7 .5 2.1 .5 6.6 .5 -14.6 .5 5.2 .5 -11.2 .5 .9 .5 -.5 .5 5.4 .5 16.8 .5 -10.6 .5 7.9 .5 -2.3 .5 -13.7 .5 15.7 .5 5.9 .5 -20.2 .5 9.1 .5 4.2 .5 -4.9 .5 -1.6 .5 -4.9 .5 5.7 .5 19.5 .5 2.7 .5 -11.4 .5 7.2 .5 -7.1 .5 -9.1 .5 -6.6 .5 12.3 .5 1.7 .5 -.7 .5 -5.5 .5 8.5 .5 4.9 .5 -16.2 .5 7.9 .5 -20.9 .5 37 .5 .1 .5 -20.8 .5 7.8 .5 -14.7 .5 15.2 .5 4.2 .5 -13.3 .5 7.3 .5 -6.4 .5 6.4 .5 -8.7 .5 -.5 .5 6.1 .5 3.3 .5 -21.2 .5 9 .5 7.8 .5 5.6 .5 -.8 .5 -10.7 .5 15.7 .5 -10.7 .5 15.4 .5 -17.7 .5 1 .5 1.3 .5 -7.6 .5 -1.7 .5 13 .5 16.6 .5 -26 .5 25.1 .5 -19.7 .5 9.4 .5 -8.2 .5 5.1 .5 -11.8 .5 7.8 .5 -12.8 .5 8.2 .5 -1.2 .5 -3.8 .5 -6.7 .5 10.5 .5 6.4 .5 -18.4 .5 9.1 .5 -4.8 .5 -.4 .5 -4.6 .5 4.3 .5 6 .5 -7.6 .5 -7.6 .5 1.9 .5 -4.5 .5 4.9 .5 -8.2 .5 5 .5 -8.6 .5 5.6 .5 -3.9 .5 5 .5 -4.9 .5 3.8 .5 -16.8 .5 10.5 .5 -5.6 .5 5.8 .5 -13.2 .5 5 .5 4.8 .5 -9.9 .5 17.9 .5 -8.9 .5 2.2 .5 12 .5 -10 .5 -.1 .5 -2.8 .5 -3.3 .5 4.6 .5 5.6 .5 -8.6 .5 6.3 .5 -6.8 .5 0 .5 13 .5 -4.3 .5 7.9 .5 2.2 .5 3.1 .5 -7.2 .5 3.6 .5 -4.3 .5 -3.4 .5 2.1 .5 10.1 .5 -2.4 .5 -8.9 .5 3.3 .5 -1.5 .5 -5.6 .5 3.1 .5 10.9 .5 -13.4 .5 10.9 .5 -11.3 .5 15.3 .5 2.4 .5 -10.2 .5 5.4 .5 3.2 .5 -21.3 .5 6.5 .5 11.3 .5 -22.2 .5 18.7 .5 -15.9 .5 14.9 .5 -7.1 .5 8.4 .5 -4.9 .5 .7 .5 5.7 .5 2.9 .5 -10.1 .5 -2.2 .5 5.4 .5 -4 .5 6.2 .5 -4.7 .5 -2.5 .5 14 .5 5.8 .5 -16.4 .5 3.8 .5 5 .5 -1.9 .5 -3.5 .5 8.4 .5 -9.8 .5 18 .5 -18.2 .5 5 .5 -4.4 .5 -.3 .5 11.9 .5 -1.5 .5 -3.4 .5 -5.5 .5 9.5 .5 -2.9 .5 -6.3 .5 -11 .5 6.4 .5 13.8 .5 -7.1 .5 -9.5 .5 8.8 .5 -10.1 .5 3.9 .5 10.5 .5 -12.9 .5 7.6 .5 .2 .5 1.1 .5 -.1 .5 -5.6 .5 9.8 .5 -14.8 .5 5.6 .5 2.2 .5 5.5 .5 1.3 .5 -9.5 .5 12.4 .5 -22 .5 18 .5 2.5 .5 2.5 .5 -23.3 .5 11.9 .5 7.7 .5 1.1 .5 -10 .5 -6.4 .5 7.4 .5 -6 .5 7.5 .5 8.1 .5 -14.3 .5 3.4 .5 -12.8 .5 20.8 .5 1.5 .5 -2.5 .5 .6 .5 .1 .5 2.1 .5 3.5 .5 -.4 .5 -3.1 .5 -14.7 .5 24.1 .5 -11 .5 15.1 .5 -18.8 .5 3.5 .5 6.7 .5 -8 .5 1.7 .5 -1 .5 6.2 .5 -.4 .5 -10.8 .5 -7.3 .5 22.4 .5 .7 .5 -10.5 .5 -2.7 .5 26.5 .5 -26.1 .5 -2.5 .5 26.6 .5 -18.1 .5 9.3 .5 -5.4 .5 10.7 .5 -7.4 .5 -12.1 .5 13 .5 -.5 .5 -4.1 .5 11.7 .5 -20.8 .5 17.3 .5 -5.5 .5 -12 .5 4.2 .5 21.1 .5 -12.9 .5 5.9 .5 -6.7 .5 -2.4 .5 4.8 .5 5.9 .5 3.5 .5 -1.2 .5 -14.5 .5 17.6 .5 -21.6 .5 .3 .5 10.8 .5 8.2 .5 -18.3 .5 -8.4 .5 23.5 .5 -15.2 .5 3.8 .5 9.4 .5 -.6 .5 -3.8 .5 3.2 .5 -13 .5 9.5 .5 1.7 .5 -8.9 .5 -.8 .5 15 .5 -2.6 .5 12.4 .5 -15.2 .5 1.2 .5 12.1 .5 -21.9 .5 -.2 .5 26 .5 -28.5 .5 3.7 .5 7.4 .5 -11.9 .5 13.6 .6 -3.6 .5 -2.3 .5 19 .5 -13.4 .5 -14.8 .5 16.3 .5 2.8 .5 1.8 .5 -24.3 .5 17.3 .5 .7 .5 .3 .5 -2 .5 1 .5 -14.3 .5 10.5 .5 9.9 .5 7.7 .5 -24.8 .5 17.1 .5 -11.4 .5 -10.4 .5 27.7 .5 -13.2 .5 4.3 .5 -4.6 .5 -9.6 .5 24 .5 -8.5 .5 .7 .5 -5.6 .5 -6.7 .5 1.4 .5 4.5 .5 -2.6 .5 8.1 .5 -1.7 .5 -1.5 .5 -.2 .5 -7.1 .5 -5 .5 -1.4 .5 9 .5 18.4 .5 -17.4 .5 -2.3 .5 3.6 .5 -.7 .5 17 .5 -22.6 .5 6.9 .5 -2.6 .5 4.3 .5 -1.7 .5 -.9 .5 -3.7 .5 23 .5 -18.2 .5 3.1 .5 5.5 .5 -1.7 .5 -7.1 .5 10 .5 -12.1 .5 -.3 .5 1.9 .5 -1.5 .5 18.9 .5 -21 .5 12.7 .5 -14.4 .5 25.8 .5 -20.3 .5 .6 .5 11.8 .5 -10.8 .5 14.9 .5 -15 .5 5 .5 -14.4 .5 11.9 .5 0 .5 -5 .5 2.9 .5 1.9 .5 -6.2 .5 16.5 .5 -10 .5 -16.5 .5 9.9 .5 -5 .5 8.7 .5 7.2 .5 -7.1 .5 1.3 .5 -4.9 .5 20.3 .5 -24.3 .5 29.4 .5 -18.3 .5 9.3 .5 -5.4 .5 2.9 .5 -3.8 .5 7.3 .5 2.6 .5 -14.2 .5 8 .5 -10 .5 4 .5 -1.4 .5 2 .5 -15.1 .5 21.1 .5 4.6 .5 -12.6 .5 2.8 .5 -5.2 .5 10.8 .5 5.3 .5 -2.3 .5 10.3 .5 -20 .5 5.7 .5 4.7 .5 -23.4 .5 15.9 .5 -5.5 .5 11.2 .5 -14.8 .5 14.4 .5 5 .5 -4.4 .5 -3.6 .5 2.1 .5 4.2 .5 3.5 .5 -11.7 .5 -6.3 .5 14.7 .5 -2.9 .5 -1 .5 -4 .5 -2 .5 1.2 .5 9.2 .5 -1.7 .5 -14.2 .5 19.4 .5 -5.4 .5 -6.2 .5 14.3 .5 -12 .5 -9.5 .5 16.2 .5 2.6 .5 5.3 .5 -7.8 .5 -.8 .5 -5.4 .5 -6.3 .5 -3.3 .5 24.1 .5 -20.9 .5 1 .5 6.9 .5 -5.2 .5 15.5 .5 -17.1 .5 8.2 .5 7.5 .5 -12.2 .5 1.3 .5 2.9 .5 -3.3 .5 13.7 .5 -9.8 .5 7 .5 -5.4 .5 15.9 .5 -18.6 .5 7.5 .5 -6 .5 -8.3 .5 12.2 .5 -13.8 .5 15.4 .5 -8.6 .5 9 .5 -4.7 .5 3 .5 6.6 .5 -7.1 .5 -4.2 .5 13.5 .5 -10.6 .5 -2.5 .5 9.6 .5 -20.3 .5 8.8 .5 3.7 .5 -12.5 .5 10.1 .5 10.4 .5 -6.9 .5 1.8 .5 -9.2 .5 8 .5 .1 .5 4.8 .5 -6.5 .5 -4.7 .5 6.5 .5 12.5 .5 -10.1 .5 -4.1 .5 -.4 .5 -2.8 .5 5.9 .5 -12.2 .5 16.2 .5 -2.3 .5 -8.3 .5 7.5 .5 -17.5 .5 20.2 .5 2.6 .5 -8.6 .5 5.7 .5 -8 .5 .5 .5 -.6 .5 6.2 .5 6.9 .5 -.1 .5 -5.7 .5 -5.6 .5 2.1 .5 8.3 .5 -13 .5 10.7 .5 5.4 .5 -3.7 .5 -9.4 .5 9.7 .5 -16 .5 18.6 .5 5.9 .5 -15.8 .5 -1.5 .5 .5 .5 -5.8 .5 8.3 .5 -3.5 .5 -2.5 .5 9.1 .5 5.8 .5 -6.7 .5 -13.4 .5 22.7 .5 -21.5 .5 3.9 .5 -11.1 .5 23.9 .5 -1.8 .5 5 .5 -2.1 .5 -5.8 .5 1.2 .5 -14.3 .5 5.4 .5 5.6 .5 7 .5 9.2 .5 -25.9 .5 23.2 .5 -12.7 .5 -4 .5 5.9 .5 -3.5 .5 -7.3 .5 -.3 .5 7.3 .5 12.5 .5 -5.2 .5 -18.1 .5 7.9 .5 -.7 .5 2.6 .5 -4.9 .5 7.4 .5 9.5 .5 -2.8 .5 -4.9 .5 -6 .5 7.7 .5 -7.6 .5 .3 .5 11 .5 -4.8 .5 13.9 .5 -13.7 .5 -1.3 .5 -3.2 .5 11.6 .5 -21.3 .5 12.4 .5 3.1 .5 .2 .5 -13.4 .5 22.5 .5 -12 .5 -1.7 .5 -8.3 .5 13.5 .5 2.4 .5 -15.5 .5 9 .5 2.9 .5 -9 .5 12.7 .5 -7.3 .5 -4.4 .5 0 .5 7.7 .5 -18.3 .5 18.1 .5 .5 .5 -7.8 .5 11.6 .5 -7.3 .5 11 .5 -3.4 .5 -11.9 .5 4.9 .5 -.7 .5 -7 .5 11.2 .5 1.4 .5 -.5 .5 -8.4 .5 5.5 .5 3 .5 -1.1 .5 3.2 .5 -4 .5 .2 .5 7.4 .5 -8.7 .5 13.5 .5 -.4 .5 -11.5 .5 -3.3 .5 1.6 .5 -7.3 .5 13.8 .5 9.7 .5 -24.1 .5 .8 .5 7.9 .5 5.4 .5 .5 .5 0 .5 -9.3 .5 6.1 .5 -.8 .5 -1.7 .5 -4.5 .5 3.7 .5 4.2 .5 3.5 .5 -1.9 .5 -14.1 .5 8.2 .5 -.8 .5 -5.7 .5 6.9 .5 -5.3 .5 9.9 .5 -10.9 .5 1.1 .5 5.3 .5 -3.8 .5 -.3 .5 2.1 .5 -2.7 .5 11.5 .5 -19.9 .5 12.6 .5 -17.1 .5 3.6 .5 5.8 .5 8 .5 -4.3 .5 2.5 .5 6.6 .5 -4.6 .5 -4.4 .5 3.6 .5 1.4 .5 -9.3 .5 10.1 .5 -4.5 .5 -.5 .5 3 .5 -13.6 .5 14.7 .5 -19.1 .5 20.8 .5 -12.5 .5 -.1 .5 1.6 .5 13.5 .5 8.2 .5 -11.6 .5 -10.7 .5 9.3 .5 -3.4 .5 -6.8 .5 -3.2 .5 19 .5 -8 .5 -11.3 .5 8.6 .5 2.1 .5 -9.8 .5 13.4 .5 -6 .5 -.7 .5 4.7 .5 -9.1 .5 2.9 .5 1.7 .5 4.6 .5 -11.2 .5 8.7 .5 -5.7 .5 4.6 .5 -5.9 .5 6 .5 -19.2 .5 5.5 .5 10 .5 5 .5 8.4 .5 -15.9 .5 -4.6 .5 -2 .5 6.6 .5 -6.6 .5 -.5 .5 9.8 .5 -20.9 .5 16.9 .5 -5.9 .5 -4.7 .5 2.8 .5 -2.7 .5 10.4 .5 -9.5 .5 -10 .5 -2.3 .5 2.1 .5 2.1 .5 -3 .5 1.8 .5 .7 .5 1.9 .5 -12 .5 -3.2 .5 -2.5 .5 18.1 .5 -4.4 .5 -13.8 .5 6.8 .5 11.8 .5 -14 .5 .3 .5 2.1 .5 -1.8 .5 11.8 .5 -1 .5 -12 .5 -.7 .5 4.4 .5 -3.3 .5 9.8 .5 .5 .5 -1.4 .5 1.4 .5 11 .5 -14.7 .5 8.7 .5 -4.6 .5 2.2 .5 7.2 .5 4.5 .5 7.1 .5 -17.9 .5 3.6 .5 2.6 .5 -3.9 .5 2.8 .5 3.5 .5 -1.2 .5 -3.7 .5 3.5 .5 8.8 .5 -11.2 .5 4.4 .5 1.7 .5 3.8 .5 -5.9 .5 5.8 .5 -1.5 .5 -4.2 .5 .8 .5 .5 .5 18.7 .5 -10.4 .5 -3.5 .5 -1.1 .5 .6 .5 8 .5 -1.6 .5 -2.9 .5 3.4 .5 7.2 .5 -24.2 .5 15.8 .5 -2.8 .5 -2 .5 5.1 .5 2.3 .5 -13.5 .5 13.6 .5 -.3 .5 3.8 .5 -3.3 .5 -4.7 .5 -3.5 .5 15.7 .5 -5.8 .5 3.5 .5 -4.2 .5 1.1 .5 -3.5 .5 -4 .5 -.9 .5 3.3 .5 5.6 .5 -12.6 .5 18.5 .5 -3 .5 1.7 .5 1.4 .5 -6.4 .5 -.5 .5 9.2 .5 -14.1 .5 1 .5 -8.1 .5 9.6 .5 2.1 .5 -2.8 .5 1.3 .5 3.7 .5 10.4 .5 -9.8 .5 8.5 .5 -9.1 .5 -2.9 .5 5.2 .5 8.4 .5 -9.4 .5 1.1 .5 10.2 .5 -8 .5 11.3 .5 -10.6 .5 -.5 .5 -6.3 .5 1.2 .5 -14 .5 13.4 .5 9.8 .5 -2 .5 -.1 .5 -3.9 .5 7.9 .5 -5.4 .5 4.2 .5 -8.3 .5 7.8 .5 -7.5 .5 2.7 .5 -8.8 .5 1.9 .5 20.5 .5 -26.3 .5 12.2 .5 0 .5 4.9 .5 -5.4 .5 4.9 .5 -2.8 .5 -6.3 .5 8.8 .5 -19.5 .5 4.7 .5 10.3 .5 3.9 .5 -3.4 .5 3.1 .5 6.8 .5 -21.4 .5 -1 .5 -3.4 .5 18.7 .5 12.4 .5 -12.4 .5 -18.5 .5 17 .5 5.2 .5 -3.2 .5 -16.4 .5 2.8 .5 17.7 .5 -5.5 .5 -2 .5 -7.5 .5 15.3 .5 -14.7 .5 16.3 .5 -7.1 .5 2.8 .5 .3 .5 -14.6 .5 9.3 .5 -1.8 .5 3.3 .5 .7 .5 -4.1 .5 9.1 .5 -5.5 .5 -10 .5 9.5 .5 -2.2 .5 8.4 .5 -15.1 .5 16.6 .5 -9.9 .5 10 .5 5.8 .5 -6.2 .5 8.2 .5 -17.5 .5 9.5 .5 -16.2 .5 1.8 .5 7.3 .5 6.6 .5 -9.6 .5 15.5 .5 -9.8 .5 3 .5 -5.2 .5 -15.8 .5 15.8 .5 1.5 .5 5.1 .5 -20 .5 9.8 .5 3 .5 -1.8 .5 -5.3 .5 2.6 .5 .7 .6 -.5 .5 8.9 .5 -8.5 .5 -3.9 .5 -6.7 .5 14.4 .5 1.6 .5 -3 .5 5.2 .5 -6 .5 13.3 .5 -6 .5 -10.1 .5 19.6 .5 -4.9 .5 -6.5 .5 -5.4 .5 1.6 .5 5.1 .5 -1.3 .5 12.3 .5 -13.4 .5 2.3 .5 -.7 .5 .6 .5 3.5 .5 -4.9 .5 3.2 .5 -5.1 .5 -.8 .5 2.9 .5 5.5 .5 -2.6 .5 -1.1 .5 -5.1 .5 15.3 .5 -18.5 .5 1.5 .5 2.1 .5 5.2 .5 4.9 .5 -12.6 .5 -10.9 .5 22.7 .5 -6.7 .5 -11.2 .5 16.7 .5 .9 .5 -8.1 .5 -5.1 .5 5 .5 -.7 .5 3.7 .5 -4.9 .5 6.5 .5 10.4 .5 -19.3 .5 12 .5 -6.7 .5 -1.8 .5 .6 .5 2.8 .5 1 .5 9.7 .5 -11.5 .5 7.1 .5 -9.7 .5 -4.6 .5 8.2 .5 -3.9 .5 6.1 .5 -15.9 .5 14.3 .5 1 .5 1.1 .5 -8.3 .5 3.4 .5 3.1 .5 8.1 .5 -6 .5 -4.3 .5 -2.6 .5 5.3 .5 -15.3 .5 16.7 .5 -.3 .5 -15.4 .5 11.2 .5 -13.6 .5 17.3 .5 -6.1 .5 5.8 .5 8.1 .5 -2.5 .5 -12.4 .5 .7 .5 2.8 .5 3.4 .5 -6 .5 15 .5 -22.2 .5 6.4 .5 -10.3 .5 30.1 .5 -12.1 .5 2.3 .5 5.4 .5 -6.6 .5 11.3 .5 -22.3 .5 -6.8 .5 17.6 .5 -9.5 .5 8.2 .5 7.3 .5 -10.1 .5 12.5 .5 -16.4 .5 18.9 .5 -9.8 .5 -3.7 .5 3.9 .5 2.3 .5 -4.1 .5 -4.2 .5 4.3 .5 -5.1 .5 -2.2 .5 13.6 .5 -14.3 .5 -1 .5 8.9 .5 -.9 .5 -12.9 .5 -2 .5 13.9 .5 -2.9 .5 7.3 .5 -4 .5 14.1 .5 -16.1 .5 -4.8 .5 14.4 .5 -5.6 .5 .4 .5 -5.7 .5 -3.6 .5 2.6 .5 -3 .5 5.7 .5 4.9 .5 -7 .5 -.8 .5 12.2 .5 -11.7 .5 13.9 .5 -25.5 .5 19.1 .5 .7 .5 -13.5 .5 13.4 .5 .3 .5 -8.5 .5 -.8 .5 5 .5 14.4 .5 -14.7 .5 -5.3 .5 2.8 .5 5.3 .5 3.7 .5 .3 .5 -10.2 .5 18.3 .5 -7 .5 3.8 .5 -26.7 .5 21.5 .5 -11.2 .5 9.7 .5 -13.4 .5 12 .5 -10.8 .5 -6.7 .5 18.9 .5 -16.7 .5 12.6 .5 -2.1 .5 -3.3 .5 13.8 .5 -4.2 .5 -.9 .5 -7 .5 -5.5 .5 4.5 .5 -10.8 .5 .1 .5 9.3 .5 7.7 .5 -14.2 .5 10.9 .5 -.6 .5 -8.9 .5 12.3 .5 9.9 .5 -13.8 .5 -3.8 .5 .8 .5 12 .5 -9.1 .5 -12.2 .5 11.6 .5 10.5 .5 -11.3 .5 1.2 .5 -7.6 .5 8 .5 9.3 .5 -12.9 .5 .7 .5 7.2 .5 -8.2 .5 3 .5 1.5 .5 -5.8 .5 22.8 .5 -14.8 .5 -3.1 .5 -1.1 .5 4.9 .5 14.2 .5 -15.1 .5 1.3 .5 -4 .5 6.3 .5 3.4 .5 -2.7 .5 -5.3 .5 -.4 .5 .2 .5 -11.4 .5 .8 .5 14.8 .5 1.7 .5 -10.9 .5 7.4 .5 -3.7 .5 8.2 .5 -5.7 .5 1.8 .5 4.8 .5 -6.4 .5 -2.6 .5 4.6 .5 -5.4 .5 -.7 .5 6.4 .5 -3.7 .5 7.1 .5 -12.9 .5 13.2 .5 -13.2 .5 7.1 .5 -.2 .5 -7.2 .5 4.2 .5 2.2 .5 1.4 .5 -2.1 .5 -7.5 .5 6.9 .5 5.6 .5 0 .5 -17.1 .5 16.7 .5 -6.1 .5 10.1 .5 -4.4 .5 -.6 .5 -4.1 .5 9.4 .5 7.1 .5 -9.2 .5 -4.6 .5 .3 .5 -3 .5 8.2 .5 3.8 .5 -10.8 .5 4.4 .5 -2.1 .5 -1.3 .5 -3.2 .5 -7.4 .5 9.1 .5 1.4 .5 1.3 .5 3.7 .5 -9.9 .5 4.7 .5 5 .5 -.7 .5 -1.9 .5 2.3 .5 -9.9 .5 9 .5 3.7 .5 -14.4 .5 13 .5 -6.9 .5 4.2 .5 -1.2 .5 1.5 .5 -13.2 .5 13.1 .5 -1.3 .5 2.7 .5 -7.6 .5 11.3 .5 4.9 .5 -4.5 .5 -.7 .5 1.5 .5 -5.1 .5 -9.9 .5 -1.3 .5 12.2 .5 -.2 .5 -1.8 .5 -.7 .5 -4.3 .5 10 .5 -8.1 .5 0 .5 5.4 .5 -2 .5 -9.8 .5 15 .5 -8.7 .5 9.1 .5 -4.5 .5 2.1 .5 -16.5 .5 9.4 .5 -.8 .5 -11.5 .5 20.6 .5 6.8 .5 -7.2 .5 -14.9 .5 11.8 .5 -1.2 .5 -3.4 .5 9.9 .5 -12 .5 -.4 .5 .5 .5 2.4 .5 12.3 .5 -11.7 .5 4.3 .5 -1 .5 -6.4 .5 -3.1 .5 14.5 .5 -2.2 .5 4.6 .5 -5.8 .5 6.5 .5 -6.5 .5 .8 .5 -.8 .5 -9.1 .5 6.7 .5 .5 .5 -1.6 .5 -5 .5 2.4 .5 2.6 .5 -11.1 .5 10.8 .5 5.9 .5 -.6 .5 -.3 .5 -18.8 .5 18.1 .5 5.5 .5 -13.3 .5 6.2 .5 .7 .5 7 .5 -11.4 .5 -3.9 .5 5 .5 6.9 .5 5.5 .5 1.3 .5 -9.4 .5 -17.9 .5 21.5 .5 -4.2 .5 1.9 .5 -7.2 .5 11.5 .5 -15.7 .5 6.9 .5 -6.9 .5 -1.8 .5 15.1 .5 1.8 .5 -1.7 .5 -19.2 .5 -1.7 .5 23 .5 -9.3 .5 4.7 .5 -4.9 .5 3.2 .5 5.2 .5 -1.5 .5 -8.4 .5 -3.3 .5 16.6 .5 -12.5 .5 5.9 .5 10 .5 -12.7 .5 -3.8 .5 .6 .5 -7.9 .5 4.8 .5 -4.1 .5 9.5 .5 2.3 .5 7.3 .5 -21.8 .5 14 .5 3.4 .5 -2.4 .5 -1.7 .5 4 .5 -10.5 .5 4.4 .5 .3 .5 -.5 .5 1.9 .5 -2.3 .5 4 .5 -3.8 .5 4 .5 -1.8 .5 3.1 .5 -5.8 .5 2.3 .5 7 .5 -3.5 .5 -2.5 .5 -.8 .5 2.2 .5 -9.1 .5 .4 .5 10.1 .5 -7.7 .5 2 .5 -10.8 .5 14.8 .5 -2.2 .5 -9.3 .5 6.3 .5 -.8 .5 -.8 .5 7 .5 -5.3 .5 -.4 .5 11.4 .5 -17.4 .5 9 .5 2.8 .5 3.1 .5 -4.4 .5 8.8 .5 -12.2 .5 -5.2 .5 1.1 .5 9.9 .5 -17.6 .5 13.3 .5 5 .5 -6 .5 -2.4 .5 11.4 .5 -8.1 .5 -7.7 .5 9.9 .5 -1.4 .5 -.1 .5 -6.3 .5 9.4 .5 -3.4 .5 -.9 .5 -7.4 .5 12.1 .5 -2.5 .5 4.9 .5 -8.7 .5 -4.6 .5 6.7 .5 7.6 .5 .3 .5 -.9 .5 -4.9 .5 6.9 .5 -.7 .5 4.9 .5 -9.8 .5 -2.7 .5 1.7 .5 7 .5 -7.9 .5 8.5 .5 -11.4 .5 3.2 .5 -5.8 .5 8.3 .5 1.2 .5 -4.4 .5 1 .5 2.2 .5 6.2 .5 -20 .5 2.9 .5 1 .5 1 .5 -4.2 .5 18.8 .5 -5.4 .5 -1.7 .5 -8.9 .5 1.8 .5 1.7 .5 6.6 .5 3.8 .5 -8.5 .5 2.2" fill="none" stroke="#0b0908" stroke-width="1.4" stroke-linejoin="round"/>
<path d="M1915.7 776.7l.8 6 .8 .4 .8 1.4 .8 3.2 .8 2.8 .8 -.6 .8 1.2 .8 -4.5 .8 8.4 .8 -2.9 .8 6.7 .8 2.3 .8 -12.1 .8 13.7 .8 -8.1 .8 -1 .8 4.1 .8 2.9 .8 3.6 .8 7.5 .8 -17.6 .8 5.2 .8 3.6 .8 -3.8 .8 -5 .8 6.8 .8 1 .8 2 .8 -3.3 .8 7.6 .8 -4.8 .8 2.5 .8 -7.8 .8 -6.5 .8 14.3 .8 -1.8 .8 1.4 .8 -2.5 .8 -2.2 .8 -.2 .8 4.5 .8 -8 .8 1 .8 0 .8 .3 .8 5.8 .8 -11.6 .8 9.7 .8 -10.1 .8 -2.1 .8 -3.3 .8 3.1 .8 .8 .8 -10.5 .8 -.1 .8 -3.5 .8 -4.2 .8 -4.8 .8 -1.5 .8 -4 .8 -5.6 .8 -6.2 .8 -3.7 .8 -3.6 .8 -5.9 .8 -5 .8 -7.6 .8 -5.4 .8 -6.8 .8 -8.1 .8 -6.2 .8 -7.1 .8 -5 .8 -6 .8 -4.4 .8 -4.1 .8 -5.1 .8 -1.7 .8 -7.3 .8 -1.3 .8 -9 .8 -.3 .8 1.9 .8 -5.1 .9 .2 .8 -5.8 .8 -2.7 .8 3 .8 5.7 .8 1.8 .8 8.2 .8 4 .8 2.7 .8 2.5 .8 6.8 .8 4.7 .8 5.3 .8 5.6 .8 6.3 .8 6.5 .8 7.8 .8 6.9 .8 9.4 .8 9.5 .8 8.3 .8 6.3 .8 8.7 .8 6.2 .8 3.2 .8 6.7 .8 5 .8 3.3 .8 7.6 .8 -.8 .8 5.5 .8 4.2 .8 3.4 .8 1 .8 5.5 .8 2.4 .8 8.5 .8 -.2 .8 -1.7 .8 6.5 .8 -5.6 .8 5.7 .8 6.3 .8 -10.8 .8 11.8 .8 -.6 .8 -2.7 .8 6.6 .8 -6.3 .8 9 .8 -2.4 .8 4.9 .8 -7.1 .8 7.6 .8 1.8 .8 -6.1 .8 10.8 .8 -9.7 .8 13.3 .8 .3 .8 -10.3 .8 10.3 .8 -4.6 .8 .6 .8 .5 .8 -7.7 .8 7.2 .8 -.5 .8 3.7 .8 -10.4 .8 9.1 .8 4.4 .8 -6.2 .8 5.3 .8 .4 .8 -2.8 .8 2.6 .8 2.5 .8 -9 .8 8.8 .8 -3.3 .8 1.5 .8 -1.6 .8 -.2 .8 5.2 .8 -.9 .8 -2.7 .8 -5 .8 8 .8 .6 .8 5.9 .8 -10.5 .8 3.4 .8 -1.8 .8 -9.4 .8 7.3 .8 4.3 .8 -4.6 .8 8.8 .8 -4.8 .8 -3.6 .8 5 .8 -6 .8 5 .8 -3.4 .8 .3 .8 -4.8 .8 2 .8 .6 .8 -1.3 .8 1 .8 3.7 .8 -8.1 .8 -2.8 .8 4.8 .8 -5.3 .8 6.9 .8 -8 .8 -2.2 .8 3.7 .8 -6.1 .8 1.6 .8 3.5 .8 -10.4 .8 6.4 .8 -3.8 .8 .5 .8 2.1 .8 -3.5 .8 -.4 .8 -5.3 .8 5.1 .8 -4.6 .8 -9.5 .8 9.7 .8 -10.3 .8 7.3 .8 -8.9 .8 3.9 .8 1 .8 -5.9 .8 1.1 .8 0 .8 -9.8 .8 12.2 .8 -8.4 .8 1.2 .8 -2.2 .8 1.7 .8 -4.1 .8 -5.8 .8 6.6 .8 -12.5 .8 10.6 .8 -10.6 .8 9.6 .8 -2.6 .8 -2.8 .8 -2.6 .8 1.1 .8 -3.6 .8 5.2 .8 -.9 .8 1.6 .8 -7.2 .8 1 .8 .4 .8 -5.6 .8 2.5 .8 6.5 .8 3.5 .8 -6.7 .8 -1.2 .8 8.7 .8 -12.7 .8 10.7 .8 -10.3 .8 8.4 .8 -1.9 .8 2.5 .8 -1.5 .8 -2.4 .8 .6 .8 -1 .8 5.9 .8 -7.9 .8 7.9 .8 -4.9 .8 -3.7 .8 9.7 .9 -9.6 .8 .1 .8 4.2 .8 1 .8 3.4 .8 0 .8 -6.4 .8 1.8 .8 -1 .8 -5.6 .8 5.9 .8 -6.3 .8 6.7 .8 -3.3 .8 1.3 .8 4.4 .8 -.4 .8 3.1 .8 -10.4 .8 6.9 .8 3.2 .8 -9.4 .8 .4 .8 1.7 .8 3.1 .8 -5.8 .8 6.6 .8 -6 .8 -7 .8 9.9 .8 -1.9 .8 -.8 .8 1.1 .8 -7.8 .8 -3.8 .8 -2.8 .8 -6.3 .8 -3.3 .8 -5.4 .8 -4.7 .8 -7.4 .8 -7 .8 -8.2 .8 -5.9 .8 -9.5 .8 -8.8 .8 -9.1 .8 -10.4 .8 -11.6 .8 -12.3 .8 -12.8 .8 -15.8 .8 -16.1 .8 -19.1 .8 -23.8 .8 -26.4 .8 -27.9 .8 -27.2 .8 -25.3 .8 -22.2 .8 -21.3 .8 -23.1 .8 -23.2 .8 -22.5 .8 -21.2 .8 -18.9 .8 -16.4 .8 -12.7 .8 -6.7 .8 -1.6 .8 8.4 .8 23 .8 31.3 .8 36.1 .8 36.5 .8 32.5 .8 30.3 .8 33 .8 34 .8 34.2 .8 33 .8 30.4 .8 26.9 .8 21.8 .8 17.5 .8 16.4 .8 15 .8 12.9 .8 11.6 .8 9.6 .8 8 .8 3.8 .8 8.9 .8 3.2 .8 8.3 .8 5.5 .8 4.7 .8 2.9 .8 1.1 .8 5.8 .8 1 .8 7.7 .8 .7 .8 2.9 .8 -.9 .8 -1.9 .8 6.4 .8 1.8 .8 6.5 .8 -2.4 .8 1.4 .8 -4.4 .8 4.1 .8 -2.2 .8 14.3 .8 1.6 .8 -4.6 .8 1.9 .8 -1.7 .8 .7 .8 -4.4 .8 7.5 .8 -2.6 .8 7.1 .8 -3 .8 .8 .8 2.2 .8 -.9 .8 -1.5 .8 1 .8 -2.7 .8 5.2 .8 -2 .8 2.9 .8 -.7 .8 2.8 .8 .4 .8 -.4 .8 1.5 .8 -4.5 .8 6.6 .8 -8.2 .8 8.1 .8 1.2 .8 1.7 .8 -2.4 .8 1.9 .8 -6.7 .8 6.1 .8 -3.9 .8 4.9 .8 3.9 .8 -9.3 .8 1.1 .8 7.4 .8 -3.6 .8 4.8 .8 -6.8 .8 -.8 .8 7.1 .8 1.6 .8 -9.1 .8 3.8 .8 4.3 .8 -7.2 .8 -2.8 .8 3.8 .8 4.1 .8 3.9 .8 -3.9 .8 -2.6 .8 1.8 .8 -8 .8 6.3 .8 -2.9 .8 3.4 .8 5.5 .8 -8.8 .8 6.9 .8 -1.2 .8 -1.2 .8 -2.8 .8 1.4 .8 1.7 .8 1.9 .8 -9.2 .8 3.7 .8 -5.4 .8 3.6 .8 -2.4 .9 -9.8 .8 3.7 .8 -3.2 .8 .7 .8 -1.2 .8 -2.1 .8 -.9 .8 -3.5 .8 -2.1 .8 -1.6 .8 -7.2 .8 -1.5 .8 -5.6 .8 -.4 .8 3.7 .8 -1.9 .8 0 .8 4.1 .8 -4.5 .8 -.2 .8 1.4 .8 4.5 .8 -8.6 .8 -2 .8 8.9 .8 -6.1 .8 7.4 .8 -3.9 .8 .6 .8 3.5 .8 -8 .8 5.3 .8 6.2 .8 4.6 .8 1.1 .8 -1.2 .8 -5.2 .8 1.8 .8 7.3 .8 -2.6 .8 -.5 .8 -.3 .8 .4 .8 -1.2 .8 -1 .8 2.1 .8 4.7 .8 -2 .8 1.4 .8 1.3 .8 0 .8 -8.8 .8 9.8 .8 -1.7 .8 3.1 .8 2.3 .8 -4.7 .8 1.2 .8 -2.6 .8 2 .8 -.8 .8 -4.6 .8 8.6 .8 -2.7 .8 4.2 .8 -9.4 .8 2.7 .8 -8.7 .8 2.3 .8 5.6 .8 -3.9 .8 1.2 .8 -.5 .8 -3.4 .8 6.8 .8 .6 .8 2.8 .8 -10.4 .8 2.3 .8 -2.3 .8 -.3 .8 6 .8 3.6 .8 -8.2 .8 .7 .8 -2.1 .8 -1.4 .8 .3 .8 6.8 .8 .1 .8 -1.3 .8 -.8 .8 -5.8 .8 5.2 .8 3.3 .8 -2.9 .8 5.2 .8 3.7 .8 -4.1 .8 2 .8 -1.5 .8 3.9 .8 .5 .8 -6.1 .8 3.9 .8 -1.9 .8 7.8 .8 2.2 .8 -2.3 .8 -5.8 .8 4.4 .8 -3.7 .8 10.5 .8 -5.5 .8 2.5 .8 -1.4 .8 6.6 .8 -7.8 .8 9.3 .8 -3.2 .8 -3 .8 -.4 .8 7 .8 -4.4 .8 2.3 .8 -1.7 .8 4.7 .8 -3.4 .8 1.5 .8 .2 .8 4.7 .8 -4.1 .8 -7 .8 13.7 .8 -4.8 .8 -4 .8 .1 .8 6.1 .8 -3.8 .8 -.4 .8 -8.4 .8 10 .8 -1.4 .8 7.5 .8 -6.8 .8 -1.7 .8 3.3 .8 1.6 .8 -.8 .8 -.7 .8 1.9 .8 -6.9 .8 .3 .8 6.4 .8 0 .8 -2.3 .8 -7.1 .8 3.4 .8 -5.3 .8 17.9 .8 -6.8 .8 1.1 .8 -2.7 .8 -4.2 .8 6.1 .8 -5.2 .8 2.3 .8 -4.8 .8 .5 .8 8.5 .8 -1.3 .8 -7.5 .8 6.7 .8 -3.3 .8 2.1 .8 5.8 .8 -7.2 .8 .4 .8 1.8 .8 -3.4 .8 5.5 .8 -7.8 .8 .6 .8 0 .8 3.1 .8 8.4 .8 -10.7 .8 .3 .8 4.5 .8 -5.1 .9 .6 .8 1.4 .8 -5.1 .8 4.8 .8 1.6 .8 .1 .8 -4.6 .8 11.2 .8 -13 .8 1.6 .8 -.8 .8 -.7 .8 3.9 .8 -2.9 .8 7.5 .8 -3.1 .8 4.5 .8 -4.1 .8 .7 .8 1.9 .8 1.8 .8 -3.4 .8 2.4 .8 1.9 .8 -5.6 .8 2.3 .8 3 .8 -.1 .8 .3 .8 1.8 .8 -1.6 .8 5.1 .8 -1.4 .8 -3.6 .8 2 .8 2.5 .8 -3.2 .8 -.9 .8 -.8 .8 -3.7 .8 7.3 .8 2.6 .8 -3.3 .8 -7 .8 8.5 .8 -.4 .8 -7.6 .8 5.3 .8 -.5 .8 4.5 .8 .5 .8 3.1 .8 -3.3 .8 4.7 .8 -7.4 .8 2.3 .8 0 .8 .8 .8 -3.8 .8 2.3 .8 4.1 .8 -4.3 .8 -1.8 .8 .6 .8 8.6 .8 -5.2 .8 -2.6 .8 5.7 .8 -3.6 .8 5.6 .8 -6.4 .8 1.3 .8 -.6 .8 2.5 .8 -7.5 .8 11 .8 4.1 .8 -7.5 .8 .5 .8 -5.4 .8 7.7 .8 -7.8 .8 5.5 .8 2.3 .8 -5.7 .8 -1.3 .8 5.3 .8 .3 .8 -1 .8 2.7 .8 .6 .8 -4 .8 .9 .8 5.3 .8 -4.2 .8 -1.2 .8 -.8 .8 .2 .8 -.7 .8 1.5 .8 0 .8 3.7 .8 -5.6 .8 .3 .8 .1 .8 3.9 .8 -1.7 .8 -1.6 .8 .7 .8 -.1 .8 2.5 .8 -3.5 .8 6.2 .8 -2.1 .8 -1.3 .8 -1.6 .8 6 .8 -2 .8 -6.3 .8 -.2 .8 8 .8 -4.6 .8 5.8 .8 1.5 .8 -6.3 .8 -4 .8 11.5 .8 -12.1 .8 2.5 .8 4.5 .8 -2.8 .8 -7.2 .8 6.5 .8 2.5 .8 2.3 .8 0 .8 -2.1 .8 -3.6 .8 -1.1 .8 10.5 .8 -5.3 .8 2.8 .8 -5.5 .8 -.3 .8 6.8 .8 -6.5 .8 -.7 .8 4.8 .8 -6.9 .8 1.1 .8 4.1 .8 2.5 .8 6.7 .8 -8.6 .8 .5 .8 -1.9 .8 .7 .8 -2.4 .8 4.1 .8 3.5 .8 -4.5 .8 7.5 .8 -5.3 .8 -2 .8 .4 .8 -3.1 .8 5.5 .8 -4.3 .8 1.6 .8 4.9 .8 -.3 .8 -1.3 .8 -7.7 .8 5.5 .8 .5 .8 3 .8 -4 .8 2.3 .8 -7.3 .8 .2 .8 6.1 .8 4.7 .8 -4.6 .8 -3.8 .8 5.5 .8 -8 .8 9.9 .8 1.1 .8 -3.2 .8 -3.2 .9 -5.2 .8 10.5 .8 -3.3 .8 .9 .8 -1.6 .8 -2.4 .8 1.7 .8 -1.5 .8 0 .8 -3.4 .8 2.8 .8 6.5 .8 -8.8 .8 -1.9 .8 6 .8 -.6 .8 2.2 .8 -9.4 .8 4.8 .8 -1.1 .8 5.9 .8 -5.4 .8 4.5 .8 -2 .8 -1.6 .8 2.4 .8 -2.4 .8 -1.3 .8 1.1 .8 -.1 .8 3.6 .8 -5.1 .8 1.2 .8 .9 .8 -.5 .8 4 .8 -9.9 .8 11.8 .8 -.9 .8 -11 .8 1 .8 2.6 .8 3.2 .8 1.1 .8 -7.3 .8 -2 .8 4.9 .8 -4.2 .8 -3.8 .8 -5.3 .8 1.5 .8 -1 .8 .7 .8 1.2 .8 -5.5 .8 -2.2 .8 1.8 .8 -2.5 .8 -5.8 .8 .5 .8 -2.3 .8 -3.1 .8 -.8 .8 -3.1 .8 -4.2 .8 2.2 .8 1.5 .8 -5.2 .8 7.2 .8 .3 .8 1.6 .8 .7 .8 .3 .8 2.5 .8 -3.7 .8 4.2 .8 4.1 .8 .8 .8 3.6 .8 -.1 .8 .7 .8 1.8 .8 .4 .8 1 .8 -2.6 .8 4.1 .8 -.3 .8 3.6 .8 -2.5 .8 .9 .8 4.8 .8 -4.4 .8 3.5 .8 -2.4 .8 4.4 .8 .7 .8 -1.4 .8 .7 .8 2.6 .8 -2.6 .8 -1.6 .8 8 .8 -2.1 .8 -3.8 .8 1.9 .8 1.6 .8 -2.9 .8 7.8 .8 -4.3 .8 -.3 .8 4.4 .8 -6.8 .8 .6 .8 6 .8 0 .8 -3.3 .8 1.6 .8 9.4 .8 -3.3 .8 -3.1 .8 4 .8 -7.8 .8 6.5 .8 -4.7 .8 2.3 .8 3 .8 -5.2 .8 5.3 .8 -2.4 .8 4.8 .8 -1.9 .8 -2.1 .8 .9 .8 5.1 .8 -5.3 .8 .7 .8 -.8 .8 2.7 .8 .1 .8 -2.7 .8 .6 .8 -2.6 .8 1.3 .8 0 .8 .4 .8 -.6 .8 -.4 .8 -3.5 .8 10.6 .8 -3.7 .8 -1.7 .8 2.1 .8 -.8 .8 .4 .8 2.8 .8 -4.7 .8 4 .8 -3.4 .8 .2 .8 2.5 .8 -2.3 .8 5.6 .8 .1 .8 .2 .8 -2.8 .8 -2.9 .8 4.1 .8 1 .8 -7 .8 3.9 .8 -1 .8 -3.8 .8 6.9 .8 1 .8 2.9 .8 -7.3 .8 -5.7 .8 10.2 .8 -5.8 .8 6.2 .8 -.5 .8 -.1 .8 -8.8 .8 6.2 .8 .1 .8 -3.3 .8 8.8 .8 -5.9 .8 1.4 .8 -3.6 .9 7.1 .8 -5.8 .8 .8 .8 6 .8 -8.1 .8 5.5 .8 -.1 .8 4.1 .8 -7.3 .8 4.4 .8 -.1 .8 2.2 .8 -4.9 .8 -3.6 .8 2.8 .8 -1.9 .8 4.1 .8 -.8 .8 1.9 .8 -5.6 .8 8.9 .8 -5 .8 2.4 .8 -2.3 .8 -3.8 .8 7.5 .8 -4.8 .8 -1.2 .8 4.8 .8 .9 .8 -5.1 .8 1.3 .8 -1.8 .8 4.4 .8 -2.9 .8 5.4 .8 2.1 .8 -4.1 .8 1.2 .8 .2 .8 -3.8 .8 -1 .8 1.3 .8 1.3 .8 3.6 .8 -10.5 .8 7.7 .8 -1.8 .8 1.4 .8 -5 .8 1.9 .8 2.2 .8 .4 .8 1.3 .8 3.4 .8 -9 .8 4.6 .8 -2.2 .8 4.1 .8 -4 .8 -.4 .8 1.3 .8 1.8 .8 -5 .8 -1.4 .8 4.4 .8 2 .8 -7 .8 8.8 .8 -2.5 .8 2.6 .8 -3.6 .8 -2.7 .8 5.3 .8 .6 .8 4.2 .8 -2.3 .8 1.2 .8 -1.3 .8 -3.7 .8 3.3 .8 .8 .8 -1 .8 -1.8 .8 -.9 .8 .1 .8 -.4 .8 -1.3 .8 -4 .8 10.2 .8 -4.4 .8 -.8 .8 3.4 .8 -8.2 .8 7.8 .8 .7 .8 .9 .8 -6.4 .8 .3 .8 6.1 .8 -3.8 .8 -2.7 .8 6.2 .8 -9.2 .8 2.3 .8 8.1 .8 -3.4 .8 -.9 .8 1.5 .8 -1.6 .8 -.3 .8 -.4 .8 7.9 .8 0 .8 -10.8 .8 6.3 .8 1.9 .8 -4.4 .8 5.6 .8 -5 .8 2.5 .8 -.1 .8 4.8 .8 -4.5 .8 -7.9 .8 7.3 .8 -4.2 .8 4 .8 -2.2 .8 2.2 .8 2.6 .8 -1.5 .8 .7 .8 -5.2 .8 5.6 .8 -3.4 .8 -1.5 .8 2.3 .8 -.1 .8 -3.2 .8 6.7 .8 -3.5 .8 .4 .8 -3.7 .8 -1.7 .8 4.1 .8 -1.5 .8 1.2 .8 8.7 .8 -9.4 .8 1.8 .8 -1.5 .8 -.6 .8 3 .8 -3 .8 2.9 .8 -3.2 .8 -.8 .8 -2.7 .8 10.7 .8 -7.7 .8 -.6 .8 7.5 .8 -.7 .8 -4.1 .8 -.9 .8 .7 .8 2.9 .8 .7 .8 -4.4 .8 4.6 .8 -4 .8 -3.9 .8 1.3 .8 4 .8 3.6 .8 -5.2 .8 2.4 .8 -2.3 .8 .9 .8 1.1 .8 1.9 .8 .8 .8 3.8 .8 -8.5 .8 -2.6 .8 4.4 .8 -3.9 .8 7 .8 -4.2 .9 -4.3 .8 7.3 .8 4.7 .8 -6.6 .8 4.8 .8 -4.1 .8 -3.9 .8 7.6 .8 -6.3 .8 2.7 .8 -.6 .8 -.5 .8 4 .8 -.4 .8 -2.7 .8 -4.4 .8 3.4 .8 .9 .8 .8 .8 2.9 .8 1.2 .8 -4.9 .8 -.4 .8 -.6 .8 2.1 .8 0 .8 -3.1 .8 2.8 .8 -1.2 .8 8.3 .8 -12.4 .8 7.6 .8 -3.1 .8 3.2 .8 -1.8 .8 -2.6 .8 1.6 .8 .4 .8 -2.5 .8 1.1 .8 2.8 .8 -.1 .8 -4.2 .8 -3.2 .8 6.2 .8 -2.8 .8 5.3 .8 .1 .8 .3 .8 -3 .8 -1.7 .8 -5.1 .8 9.8 .8 0 .8 .9 .8 -1.6 .8 .6 .8 -4.3 .8 4 .8 .5 .8 .4 .8 -5.1 .8 6.4 .8 -1.7 .8 -4.3 .8 3.9 .8 .2 .8 -2.4 .8 4.4 .8 .7 .8 -6.1 .8 2.2 .8 3.3 .8 -3.9 .8 -1.3 .8 -.4 .8 4.2 .8 -1.1 .8 -1.4 .8 -.7 .8 -1.9 .8 4.5 .8 -3.6 .8 -4.5 .8 7.5 .8 -1.7 .8 1.2 .8 1.4 .8 2.2 .8 -9.5 .8 4.5 .8 .4 .8 3.2 .8 -1.8 .8 .9 .8 -3.2 .8 -1.7 .8 4.8 .8 -1.6 .8 2.1 .8 4.2 .8 -7.9 .8 .6 .8 5.3 .8 -9.1 .8 -1.1 .8 8.2 .8 -4 .8 1.2 .8 -.3 .8 0 .8 -.2 .8 4.1 .8 -1.8 .8 -8.4 .8 9 .8 -5.2 .8 3.6 .8 2.6 .8 -.6 .8 -4.7 .8 2.8 .8 -7.8 .8 2 .8 2.6 .8 5.7 .8 -2.4 .8 -1.6 .8 2 .8 -2.3 .8 1.7 .8 -5.2 .8 4.4 .8 -.5 .8 2.8 .8 -5.3 .8 0 .8 1 .8 .7 .8 4.5 .8 -3 .8 -.2 .8 -.8 .8 6 .8 -5.1 .8 1.4 .8 -.4 .8 3 .8 .8 .8 -4.9 .8 2.6 .8 -2.5 .8 -.6" fill="none" stroke="#0b0908" stroke-width="4.8" stroke-linejoin="round"/>
<path d="M1915.7 772.6l.5 8.1 .5 -4.6 .5 8.2 .5 -5.1 .5 9.2 .5 -4.4 .5 -18 .5 23.9 .5 2.8 .5 -.5 .5 -.8 .5 2.3 .5 7.9 .5 -13.2 .5 -2.4 .5 1.5 .5 3.3 .5 -2.1 .5 12.6 .5 -16.3 .5 19.5 .5 -12.4 .5 10.3 .5 -3.9 .5 2.5 .5 8.5 .5 -8.2 .5 -1.8 .5 -12 .5 3.9 .5 -.5 .5 -7.2 .5 6 .5 14.1 .5 -7.1 .5 -1.4 .5 -3.2 .5 12.2 .5 6.3 .5 -10.1 .5 18.2 .5 -24.3 .5 -2.5 .5 15.6 .5 -20.7 .5 9.6 .5 -7.9 .5 10.4 .5 10 .5 -14.6 .5 5.3 .5 8.4 .5 -2.9 .5 -5.1 .5 3.3 .5 -2.5 .5 7.4 .5 8 .5 -3 .5 -17.8 .5 -.7 .5 26.2 .5 -18.1 .5 5.3 .5 -6.6 .5 -9.4 .5 9.3 .5 -12.3 .5 -7.7 .5 -1.7 .5 2.6 .5 22.5 .5 -9.7 .5 -.5 .5 -3.1 .5 -2.2 .5 3.4 .5 -.2 .5 8.7 .5 -13.6 .5 -12.3 .5 .2 .5 12.1 .5 -7.7 .5 2 .5 5 .5 -5.4 .5 -5.3 .5 1 .5 -2.2 .5 5.1 .5 -8.1 .5 -1.9 .5 -5.9 .5 -7.8 .5 .8 .5 2 .5 -6.7 .5 1.2 .5 -2.3 .5 -9.8 .5 -3.2 .5 -2.4 .5 -.2 .5 -3.2 .5 -1.7 .5 -2.1 .5 -4.7 .5 -4.2 .5 -8.8 .5 .1 .5 -7.2 .5 -4.9 .5 -3.1 .5 -1.6 .5 -7.4 .5 -3.1 .5 1.6 .5 -10.3 .5 0 .5 1.3 .5 -8.6 .5 2.2 .5 -2.7 .5 -2.8 .5 -12.1 .5 9 .5 4.4 .5 -4.8 .5 -8 .5 -3.3 .5 -7.8 .5 7.2 .5 -4.9 .5 -4.4 .5 .7 .5 16.2 .5 -9.7 .5 5.9 .5 -10.7 .5 -2.2 .5 -7.9 .5 11.9 .5 3.3 .5 1.5 .5 6.4 .5 -8.1 .5 14.1 .5 -4.5 .5 2.2 .5 7.5 .5 3.5 .5 4.1 .5 -1.2 .5 2.3 .5 11.1 .5 5.5 .5 -4 .5 7.3 .5 1.2 .5 4.5 .5 9.9 .5 4.1 .5 3.1 .5 4.8 .5 6.7 .5 5.4 .5 5 .5 3.4 .5 6.6 .5 4.4 .5 3.8 .5 10.4 .5 -5.8 .5 5.4 .5 3.6 .5 -.9 .5 10.2 .5 .8 .5 5 .5 -6.5 .5 6.8 .5 4.5 .5 1.3 .5 .5 .5 3.1 .5 -1.6 .5 12.8 .5 -13.9 .5 4.4 .5 11.1 .5 -2.5 .5 7.9 .5 -4.6 .5 11.5 .5 -6.1 .5 -7.3 .5 8.2 .5 -2.9 .5 20.4 .5 -17.5 .5 2.9 .5 .3 .5 6.5 .5 9.9 .5 -11.6 .5 9.7 .5 -12.9 .5 8.8 .5 -15.2 .5 9.2 .5 16 .5 -5.3 .5 -3.1 .5 -10.9 .5 10.2 .5 14.4 .5 -17.4 .5 -1 .5 24.4 .5 -21.6 .5 -9.4 .5 18.3 .5 2.8 .5 -3.3 .5 -.7 .5 3 .5 -5.3 .5 -4.9 .5 27.4 .5 -16.3 .5 9 .5 -28.4 .5 26.9 .5 -7.4 .5 2.4 .5 1.2 .5 -16.6 .5 23.8 .5 -8.5 .5 9.3 .5 -4.9 .5 9.5 .5 -3.3 .5 -11.8 .5 5.9 .5 11.4 .5 -10.3 .5 7.1 .5 -12.6 .5 .6 .5 11.6 .5 -15.6 .5 4.3 .5 6.5 .5 -15.1 .5 19.2 .5 12.8 .5 -12.6 .5 7.3 .5 -23.4 .5 10.2 .5 -9.7 .5 4.4 .5 -14.1 .5 23.8 .5 -7.2 .5 9.5 .5 -1 .5 -9.4 .5 7.6 .5 5 .5 -1 .5 -3.8 .5 -14.8 .5 2 .5 14.7 .5 -15.1 .5 11 .5 -1.6 .5 10.3 .5 5.5 .5 -19.9 .5 20.6 .5 -22.3 .5 .9 .5 11.3 .5 -4.4 .5 6.2 .5 -.5 .5 1.4 .5 -11.8 .5 -10.9 .5 23.8 .5 -29.6 .5 18.6 .5 5 .5 -3.6 .5 -11.8 .5 7.2 .5 -4.8 .5 2.8 .5 11 .6 -7.5 .5 8.7 .5 -11.8 .5 -13.2 .5 9.9 .5 24.2 .5 -3.7 .5 -12.7 .5 -.1 .5 -7.4 .5 8.2 .5 -6.4 .5 -3.3 .5 5.4 .5 14.2 .5 -18.4 .5 7.4 .5 -7.7 .5 3.3 .5 -11.3 .5 13.9 .5 -12.8 .5 8.8 .5 -14.4 .5 7.7 .5 -1.3 .5 -5.5 .5 1.6 .5 -4.5 .5 12.6 .5 -15.1 .5 19.2 .5 .3 .5 -8 .5 -12.5 .5 .8 .5 10.1 .5 13 .5 -16.5 .5 .1 .5 -13.2 .5 .9 .5 3.7 .5 12.6 .5 -18.1 .5 12.1 .5 -23.7 .5 6.5 .5 7.7 .5 4.7 .5 -15.1 .5 15.7 .5 -2.6 .5 3.6 .5 1.6 .5 -15.1 .5 2.2 .5 1 .5 13.8 .5 -7.3 .5 -3.3 .5 -6.3 .5 -4.8 .5 2.6 .5 -2 .5 5.3 .5 12.3 .5 -11.8 .5 -7.3 .5 -16.9 .5 15.7 .5 -11.3 .5 19.6 .5 -16.6 .5 -4.5 .5 20.1 .5 3 .5 -16.7 .5 2.6 .5 6.1 .5 -7.7 .5 -1.2 .5 4.4 .5 -1.6 .5 -5.2 .5 -8.3 .5 13 .5 -.7 .5 -6.4 .5 -5.1 .5 12 .5 -6.8 .5 8.6 .5 -.6 .5 -7.5 .5 .5 .5 -5 .5 3.5 .5 3.9 .5 -6 .5 8.2 .5 -11 .5 -2.7 .5 8.6 .5 9.6 .5 -5.5 .5 8.8 .5 -9.6 .5 -2 .5 0 .5 10.5 .5 -4.1 .5 5.1 .5 -3.5 .5 -18.3 .5 4.5 .5 .7 .5 -4 .5 14.6 .5 -14.8 .5 13.5 .5 -8.3 .5 12.7 .5 1.4 .5 -12.8 .5 -8.4 .5 7.9 .5 2.8 .5 14.3 .5 -13 .5 -13 .5 29.9 .5 -17.8 .5 -1.6 .5 -2.9 .5 5.3 .5 -2.1 .5 -5.5 .5 -12.1 .5 6.7 .5 6.3 .5 14.7 .5 -6.8 .5 -6.2 .5 4 .5 1.5 .5 -3.9 .5 6.6 .5 -7.4 .5 -8.4 .5 17 .5 -13.3 .5 -2.9 .5 7.5 .5 -3.2 .5 5.7 .5 9.9 .5 -13.6 .5 -4 .5 2.8 .5 9 .5 -7.4 .5 -5.1 .5 11.3 .5 -8.4 .5 -2.5 .5 13.3 .5 -3.6 .5 .5 .5 3 .5 -.9 .5 2.1 .5 -4.6 .5 16 .5 -20.4 .5 4.4 .5 -14.6 .5 19.2 .5 -7.9 .5 12.1 .5 -16.3 .5 10.6 .5 -14.5 .5 4.3 .5 -2.9 .5 10.8 .5 -12.3 .5 5.9 .5 -8.2 .5 -2.4 .5 -1.8 .5 -1.3 .5 -10.7 .5 -1.3 .5 11 .5 -11 .5 .9 .5 -5.3 .5 -2.9 .5 -4.7 .5 -5.2 .5 .7 .5 -5.1 .5 -5.7 .5 -7.3 .5 -5.3 .5 -3.5 .5 -3.2 .5 -9.8 .5 -4.4 .5 -5.7 .5 -6.4 .5 -7.1 .5 -7.4 .5 -7.2 .5 -8.1 .5 -7.9 .5 -10.1 .5 -8.9 .5 -9.9 .5 -11.4 .5 -12.7 .5 -14.3 .5 -16.1 .5 -16.2 .5 -17.3 .5 -17.6 .5 -16.7 .5 -16.8 .5 -15.4 .5 -14 .5 -13.2 .5 -13.8 .5 -14.1 .5 -13.8 .5 -15.2 .5 -13.8 .5 -14.6 .5 -13.4 .5 -12.4 .5 -12.1 .5 -10 .5 -10.2 .5 -9.4 .5 -2.8 .5 -5.1 .5 -3.7 .5 -2.1 .5 11 .5 11.7 .5 15.9 .5 19.7 .5 21.6 .5 22.8 .5 22.9 .5 22.2 .5 20.2 .5 18.8 .5 19.4 .5 20.3 .5 21.2 .5 21.3 .5 21.6 .5 20.9 .5 20.8 .5 19.7 .5 18.5 .5 17.1 .5 14.7 .5 13.1 .5 11.2 .5 10.5 .5 10 .5 8.9 .5 9.9 .5 9.5 .5 5.4 .5 7.7 .5 5.7 .5 9.2 .5 -1.2 .5 9.4 .5 1.3 .5 2.5 .5 4.8 .5 3.9 .5 3 .5 2.7 .5 11.5 .5 -2.6 .5 -4.9 .5 9.8 .5 7.6 .5 -4.1 .5 13.3 .5 -6.6 .5 1.4 .5 -13.7 .5 17.4 .5 -3.2 .5 -3.8 .5 6.9 .5 -3 .5 -1.1 .5 6.6 .5 8.2 .5 6.7 .5 -14.9 .5 3.9 .5 10.2 .5 7.6 .5 -5.8 .5 -4.1 .5 1.1 .5 .9 .5 -11.8 .5 2.5 .5 4.5 .5 7.3 .5 11.6 .5 -5.8 .5 -12 .5 -5.4 .5 21.8 .5 -.2 .5 -17 .5 5.4 .5 5.9 .5 -15.9 .5 11.1 .5 3.2 .5 -2.5 .5 24 .5 -9 .5 -24.2 .5 14.4 .5 14.1 .5 -8.2 .5 -5 .5 -3.1 .5 -1.3 .5 -.7 .5 14 .5 -1.4 .5 7 .5 2.1 .5 -2 .5 -5.6 .5 -8.3 .5 16.7 .5 .9 .5 -17.3 .5 -9.3 .5 17.7 .5 -5.1 .5 -7.6 .5 11 .5 6.3 .5 6.3 .5 -5.1 .5 -5.3 .5 11.8 .5 -24.2 .5 18.4 .5 -9.4 .5 14.5 .5 .9 .5 -7.5 .5 -1.2 .5 -.4 .5 6.4 .5 2 .5 -7.1 .5 9.7 .5 -11.4 .5 10.6 .5 -7.4 .5 1.6 .5 3 .5 -2.5 .5 -4.9 .5 6 .5 1.3 .5 -14.4 .5 -1.9 .5 6.9 .5 24.6 .5 -25.9 .5 22 .5 -2.5 .5 -29.9 .5 19.1 .5 -5.6 .5 10.9 .5 -12 .5 11.4 .5 -4.3 .5 1.3 .5 -3.9 .5 5.6 .5 3.5 .5 -6.4 .5 8.7 .5 4.5 .5 -24.1 .5 13.6 .5 -12.1 .5 22.1 .5 -16.5 .5 -10.3 .5 27.2 .5 -1.8 .5 -7 .5 -2.8 .5 7.7 .5 -6.1 .5 -7.9 .5 5.1 .5 .1 .5 8.6 .5 -10.4 .5 -11.6 .5 11 .5 7 .5 -8.6 .5 8.4 .5 -6.3 .5 1.5 .5 2.5 .5 -4.8 .5 1.5 .5 .1 .5 -4.1 .5 -5.1 .5 15.3 .5 -1.3 .5 -12.7 .5 7.6 .5 -10.4 .5 -2.7 .5 -4.4 .5 -3.1 .5 6.6 .5 7.6 .5 -3.6 .5 .5 .5 -4.4 .5 -9.3 .5 -.9 .5 9.8 .5 -2.7 .5 -1 .5 -.8 .5 -10.5 .5 2.1 .5 .9 .5 -7.7 .5 .4 .5 2.9 .5 -.7 .5 -.1 .5 -10.8 .5 -7.2 .5 14.5 .5 -4.9 .5 8.1 .5 -12.4 .5 12 .5 -13.8 .5 11.4 .5 -.2 .5 -1.3 .5 -3.9 .5 -3.5 .5 6.6 .5 -3 .5 -5.5 .5 4.5 .5 17.4 .5 -19.2 .5 11.5 .5 -1.5 .5 -3 .5 3.2 .5 -2.1 .5 3.6 .5 1.5 .5 -14.9 .5 5.2 .5 12 .5 -10.9 .5 10.6 .5 -9.3 .5 -4 .5 10.4 .5 4.7 .5 5 .5 -10.3 .5 -1.9 .5 7.9 .5 -10.3 .5 6.3 .5 12 .5 -18 .5 6.9 .5 3.6 .5 5.6 .5 -22.4 .5 15.2 .5 -4 .5 3.4 .5 -1.2 .5 -.1 .5 10.4 .5 -8.9 .5 -3.5 .5 -.2 .5 15.5 .5 11 .5 -24.4 .5 15.6 .5 -3.3 .5 -10.2 .5 5.6 .5 -3 .5 1.2 .5 6.6 .5 -3.6 .5 7.5 .5 -14.4 .5 2.1 .5 1.2 .5 14.6 .5 -10.2 .5 3.4 .5 -5.5 .5 .3 .5 -5.9 .5 6.6 .5 2.5 .5 -9.7 .5 1.2 .5 -7.7 .5 13.9 .5 -8.7 .5 -7.4 .5 3.2 .5 -6.9 .5 17.9 .5 -2.9 .5 .5 .5 -5.2 .5 12.2 .5 -2.3 .5 -4.2 .5 5.1 .5 2.7 .5 -8.2 .5 16.4 .5 -15.2 .5 .5 .5 11.9 .5 -5.2 .5 -3.6 .5 -3.9 .5 .8 .5 -11.8 .5 11.4 .5 3.4 .5 -3.1 .5 -14.5 .5 15.5 .5 -4.3 .5 -13.3 .5 18.7 .5 -6.5 .5 3.4 .5 -3.9 .5 -8.9 .5 1.9 .5 -.2 .5 14.5 .5 -.8 .5 12.3 .5 -10 .5 -17.5 .5 13.5 .5 .5 .5 -10.7 .5 7.4 .5 -.6 .5 11.8 .5 -8.6 .5 8.8 .5 -11.9 .5 -2.5 .5 12.4 .5 -8.1 .5 8.2 .5 -16.4 .5 14.5 .5 -16.3 .5 26.9 .5 6.2 .5 -12.2 .5 -4.6 .5 .7 .5 8.8 .5 -11.7 .5 1.2 .5 9.9 .5 3.8 .5 -19.1 .5 5.7 .5 -3.2 .5 4.6 .5 10.9 .5 -10.9 .5 13.7 .5 -11.2 .5 1.2 .5 -1 .5 7.8 .5 -.4 .5 -3.2 .5 -.7 .5 -.3 .5 8.8 .5 -1.1 .5 -5.5 .5 6.4 .5 .9 .5 0 .5 -7.2 .5 -5.9 .5 11.4 .5 -6.1 .5 9.3 .5 -17.3 .5 6.5 .5 20 .5 -11 .5 -5.1 .5 -3.5 .5 12.8 .5 -15 .5 2.5 .5 8.3 .5 -18.6 .5 7.1 .5 2.8 .5 15.7 .5 -6.9 .5 -9.2 .5 23.6 .5 -29.3 .5 10.2 .5 12.6 .5 -13 .5 10.2 .5 -.5 .5 -5.4 .5 1.3 .5 3.9 .5 9.9 .5 -18 .5 5.4 .5 -20.2 .5 11.9 .5 -2.2 .5 2.3 .5 2.6 .5 -3.7 .5 4.8 .5 -9.2 .5 16.1 .5 -2 .5 13.7 .5 -14.8 .6 8.2 .5 -9 .5 -2.6 .5 5.7 .5 -3.8 .5 1.1 .5 3.7 .5 0 .5 -13.7 .5 4.6 .5 20.2 .5 -6.9 .5 -13.1 .5 -2.9 .5 .9 .5 3.4 .5 3.9 .5 1.3 .5 7.7 .5 -17.7 .5 8.7 .5 2.5 .5 1.5 .5 -12 .5 10.6 .5 1.5 .5 -9.4 .5 -2.1 .5 5.5 .5 6.5 .5 -1.2 .5 6.6 .5 -10.5 .5 1.5 .5 15.6 .5 -10.1 .5 -10.6 .5 -2.2 .5 -4.2 .5 18.2 .5 -11.5 .5 .6 .5 .5 .5 11.1 .5 -13.5 .5 5.4 .5 3.8 .5 -2.2 .5 2.1 .5 -9.2 .5 -1 .5 7 .5 5.8 .5 -7.2 .5 4 .5 2.4 .5 -24.6 .5 31.7 .5 -12.7 .5 -1.7 .5 -17.4 .5 12.9 .5 15.5 .5 -5.8 .5 -2 .5 -7.1 .5 2.7 .5 -2.2 .5 -7.8 .5 6 .5 8.4 .5 -2.4 .5 -12.6 .5 15 .5 -5 .5 9.4 .5 -13.9 .5 -.8 .5 -4.9 .5 6 .5 23.4 .5 -15.2 .5 4.6 .5 1.7 .5 -18.1 .5 14.8 .5 -9.9 .5 15.8 .5 -15.2 .5 3.4 .5 2.1 .5 -5 .5 -7.2 .5 21.9 .5 -5.2 .5 -7.3 .5 14.5 .5 -3.3 .5 -17.3 .5 15.3 .5 -4.5 .5 12.9 .5 -10.1 .5 -13.1 .5 3.5 .5 6.4 .5 11.9 .5 -10.5 .5 4.9 .5 -4.2 .5 1 .5 8.5 .5 -16.5 .5 .6 .5 -.4 .5 -2.8 .5 5.7 .5 6.2 .5 -7.4 .5 8 .5 9.6 .5 -8.3 .5 4.8 .5 -8 .5 2.5 .5 -12.4 .5 -2 .5 2.6 .5 14.3 .5 1.4 .5 -9.8 .5 2.8 .5 11.3 .5 -5.4 .5 6.8 .5 -16.8 .5 10.4 .5 -19.2 .5 21.7 .5 6.1 .5 -21.9 .5 1.1 .5 4 .5 5.4 .5 .1 .5 -.7 .5 3.7 .5 2.1 .5 -5.5 .5 18.4 .5 -11.8 .5 -11.7 .5 1.5 .5 11.6 .5 3.4 .5 -5.7 .5 -7.8 .5 1.1 .5 -7.4 .5 15 .5 -6.9 .5 8.2 .5 -1.7 .5 3.7 .5 -4 .5 -.1 .5 -3.6 .5 18.2 .5 -11.6 .5 -8.1 .5 3.7 .5 -4.3 .5 7.3 .5 .7 .5 -17.1 .5 12 .5 -.4 .5 9.2 .5 -9.4 .5 4.5 .5 2.7 .5 7.2 .5 -6 .5 -16.7 .5 15.3 .5 -6.9 .5 -2 .5 1 .5 3.6 .5 10 .5 -26.3 .5 8.1 .5 10.9 .5 -.3 .5 -12.9 .5 14.9 .5 .8 .5 -.6 .5 -7.9 .5 -1.5 .5 4 .5 5.2 .5 -5.9 .5 6.7 .5 .4 .5 -4 .5 -2.8 .5 -10.6 .5 12.5 .5 -8.7 .5 19.1 .5 -26.3 .5 10 .5 3.8 .5 2.4 .5 -13.9 .5 19.9 .5 -4.3 .5 -9.5 .5 9.9 .5 -5.3 .5 9 .5 -15.7 .5 8.1 .5 8.2 .5 -9.4 .5 -.9 .5 4.2 .5 3.5 .5 5.6 .5 -9.1 .5 -2.7 .5 -1.9 .5 -.9 .5 12.1 .5 -5.3 .5 -16.7 .5 5.2 .5 21.7 .5 -8.9 .5 -3.2 .5 -4.9 .5 9.6 .5 -7.7 .5 5.9 .5 -17.2 .5 19 .5 8.9 .5 -20.2 .5 -4.1 .5 6.8 .5 7.4 .5 9.4 .5 -9 .5 3.4 .5 -9.7 .5 19.4 .5 -13.5 .5 -4.4 .5 2.3 .5 -.3 .5 7.3 .5 -8.1 .5 -13.7 .5 3 .5 19.6 .5 -12.1 .5 -8.5 .5 1.1 .5 5.9 .5 12.3 .5 2.5 .5 -5.5 .5 -1.1 .5 -5.3 .5 21.7 .5 -11 .5 4.9 .5 -22.9 .5 2.9 .5 6 .5 1 .5 8.6 .5 4.8 .5 -14.6 .5 -.4 .5 3.6 .5 -4.1 .5 19.6 .5 -16 .5 .9 .5 8.6 .5 -11.5 .5 -.1 .5 6.7 .5 -5.8 .5 -9 .5 23.1 .5 -18.6 .5 14.9 .5 -17.4 .5 11.9 .5 4.3 .5 -2.9 .5 5 .5 -8 .5 .8 .5 7.1 .5 -.1 .5 .7 .5 -6.6 .5 -4.8 .5 8.1 .5 4.9 .5 -5.2 .5 -10 .5 16.3 .5 -12 .5 1.1 .5 1.3 .5 10.8 .5 -7.3 .5 6.8 .5 -7.2 .5 -.9 .5 2 .5 5.4 .5 -11.1 .5 -8.7 .5 21.1 .5 -5.6 .5 6.5 .5 -16.4 .5 10.2 .5 -8.4 .5 -12.7 .5 23.8 .5 -10.9 .5 -5.9 .5 16.4 .5 -11.7 .5 6.8 .5 8.3 .5 4.2 .5 -13.7 .5 -1.8 .5 5.1 .5 2.2 .5 -7.9 .5 -4.6 .5 3 .5 6.4 .5 2.6 .5 -4.1 .5 3.7 .5 -7.3 .5 10.5 .5 -2.1 .5 -13.8 .5 8 .5 3.1 .5 -13.9 .5 2.9 .5 12.3 .5 -11.4 .5 0 .5 4.9 .5 -4.7 .5 -4.8 .5 7.2 .5 4 .5 -7.1 .5 2.4 .5 10.3 .5 -9.5 .5 10.2 .5 -7.3 .5 -4.8 .5 4.1 .5 -4 .5 4.6 .5 5.2 .5 -8.7 .5 -5.3 .5 3 .5 4.6 .5 11 .5 3 .5 -15.7 .5 -8 .5 11.4 .5 3.9 .5 -5.1 .5 11 .5 -17.4 .5 6.2 .5 -.4 .5 6.4 .5 -15.9 .5 -5.8 .5 27.9 .5 -16.1 .5 3.4 .5 5.7 .5 -9.4 .5 2.2 .5 16.8 .5 -6.5 .5 6.6 .5 -31.3 .5 19 .5 -.9 .5 -18.3 .5 8.1 .5 2.7 .5 3.1 .5 12.6 .5 4.9 .5 -9.8 .5 -13.4 .5 .9 .5 3.4 .5 13.9 .5 -12.9 .5 -11.3 .5 23.1 .5 -15.8 .5 13.7 .5 -14.4 .5 2.4 .5 -1.2 .5 10.7 .5 -18.3 .5 9.4 .5 1.2 .5 -5.4 .5 5 .5 2.6 .5 -15 .5 16.2 .5 -21.6 .5 25.1 .5 -11.8 .5 11.8 .5 -13.6 .5 4.1 .5 -3.9 .5 -.7 .5 -10.7 .5 11 .5 2 .5 -5.5 .5 -.9 .5 5 .5 -7.9 .5 -7.4 .5 6.2 .5 -3.7 .5 2.7 .5 -4 .5 -3.4 .5 1.4 .5 -2.1 .5 .4 .5 -3 .5 .8 .5 -5.3 .5 -.8 .5 -2.1 .5 -.2 .5 -1.1 .5 -5.7 .5 -.8 .5 7.1 .5 .5 .5 -.3 .5 -3.3 .5 -2.8 .5 2.4 .5 16.6 .5 -24 .5 19.4 .5 10.6 .5 -12.6 .5 -13.3 .5 17.4 .5 -3.1 .5 -6.5 .5 10.1 .5 -6.1 .5 10.1 .5 -10.4 .5 8.2 .5 8.5 .5 -3.9 .5 -3.7 .5 8.7 .5 -18.8 .5 15.3 .5 4 .5 -6.9 .5 4.4 .5 -3 .5 .2 .5 8.7 .5 .4 .5 -11.9 .5 15.9 .5 -6.8 .5 -3.8 .5 4.1 .5 2.2 .5 1.4 .5 5.5 .5 -10.3 .5 10.8 .5 -12.9 .5 7.3 .5 1.7 .5 -.9 .5 -.7 .5 3 .5 -.8 .5 -.4 .5 2.3 .5 -4.9 .5 5.7 .5 -6.1 .5 3.5 .5 2.7 .5 4 .5 -2.7 .5 -2.3 .5 .6 .5 -1.5 .5 -2.1 .5 9.3 .5 -5.4 .5 1.6 .5 4 .5 -7.8 .5 .5 .5 18.9 .5 -18.3 .5 8.4 .5 2.6 .5 -13.7 .5 11.8 .5 -13.2 .5 -1.1 .5 3.7 .5 5.7 .5 -.1 .5 .2 .5 5.8 .5 0 .5 5.8 .5 -8.2 .5 -4.1 .5 2 .5 -1.9 .5 -12.7 .5 26.2 .5 -13.1 .5 4.6 .5 -.2 .5 7.2 .5 4.3 .5 -11 .5 .2 .5 1.5 .5 -15.7 .5 13 .5 5.2 .5 -3.2 .5 -11.2 .5 9 .5 .4 .5 2 .5 -1.9 .5 6 .5 -9.4 .5 6.5 .5 3.8 .5 -6.3 .5 3.9 .5 -5.6 .5 12 .5 -7.3 .5 2.1 .5 -8.6 .5 9.8 .5 4.3 .5 3.8 .5 -11.3 .5 -3.3 .5 5.7 .5 -5.9 .5 -7.3 .5 14.1 .5 -21.1 .5 10.1 .5 -2.6 .5 5 .5 18.8 .5 -2.9 .5 -8.5 .5 1.3 .5 -13.6 .5 14.6 .5 -2.3 .5 -8.2 .5 -10.9 .5 17.3 .5 2.6 .5 -1.8 .5 -.9 .5 6.7 .5 -6.2 .5 -2.8 .5 -1.3 .5 10.5 .5 -9.2 .5 2.8 .5 -8.5 .5 5.7 .5 .5 .5 4.3 .5 1 .5 2.1 .5 -9.6 .5 11.4 .5 -3.2 .5 -8.8 .5 -3.8 .5 13.4 .5 -2.4 .5 -1.1 .5 5.2 .5 4.6 .5 -7.1 .5 -3.8 .5 -9.6 .5 16.9 .5 3.2 .5 -9.1 .5 1.7 .5 -5.9 .5 14.6 .5 -.4 .5 -14.2 .5 -2.4 .5 -6.4 .5 14 .5 -6.2 .5 10 .5 -5.1 .5 -2.7 .5 6.3 .5 -5 .5 15.2 .5 -29.3 .5 15 .5 .8 .5 -11.6 .5 3.4 .5 7.8 .5 14.7 .5 -17.5 .5 17.1 .5 -10.9 .5 -3.4 .5 -.1 .5 5 .5 -6.6 .5 4.5 .5 -12.9 .5 -3.1 .6 21.4 .5 -16.4 .5 10.8 .5 -10.9 .5 10.3 .5 -4.5 .5 2.3 .5 3.8 .5 -1.1 .5 -3.5 .5 -13.6 .5 18.1 .5 .7 .5 -8 .5 4.2 .5 1.7 .5 .1 .5 3.1 .5 8 .5 -17 .5 -.4 .5 9.2 .5 -9.6 .5 -3.3 .5 15.3 .5 -14.6 .5 14.1 .5 -2.9 .5 -5.2 .5 3.5 .5 -2.7 .5 11.7 .5 -5.7 .5 -6.6 .5 2.2 .5 15.7 .5 -18.6 .5 9.5 .5 -21.4 .5 14.4 .5 -7.9 .5 -2.2 .5 8 .5 -1.8 .5 7.6 .5 .2 .5 -.2 .5 -7.1 .5 -5.4 .5 15.1 .5 -9.9 .5 2.9 .5 -7 .5 12.7 .5 -18.8 .5 7.6 .5 5.4 .5 5.4 .5 4.9 .5 -11 .5 10.1 .5 -9 .5 6.3 .5 -14.3 .5 5.3 .5 .1 .5 8.2 .5 -3.5 .5 0 .5 -8.6 .5 9.3 .5 .9 .5 4.3 .5 1.1 .5 -8.7 .5 -7 .5 16 .5 -9.3 .5 3.6 .5 -1.1 .5 5.2 .5 -.4 .5 -.9 .5 -13.6 .5 15.4 .5 1.3 .5 -9.5 .5 13.4 .5 -9 .5 2.9 .5 -6.2 .5 16.5 .5 -22 .5 14.4 .5 2.4 .5 -1.1 .5 -9.4 .5 .3 .5 -7.2 .5 9.9 .5 -2.9 .5 3.3 .5 -.1 .5 4 .5 -15.6 .5 19 .5 -13.1 .5 2.3 .5 5.7 .5 -11.9 .5 16.9 .5 -18.7 .5 12.1 .5 -2.9 .5 -2.9 .5 .9 .5 -7.7 .5 5.3 .5 3 .5 -.4 .5 1.9 .5 5.6 .5 -12.1 .5 6 .5 -3.9 .5 12 .5 -13.5 .5 -3 .5 8.6 .5 8.8 .5 -10.8 .5 6.4 .5 -3 .5 -5.9 .5 -2.6 .5 7 .5 9.9 .5 2.6 .5 2 .5 -22.9 .5 12.5 .5 -6.2 .5 -3.7 .5 6.5 .5 4.9 .5 -12 .5 17.2 .5 -13 .5 8.2 .5 -18.8 .5 20.1 .5 6.7 .5 -11.7 .5 -.1 .5 3.9 .5 -4.4 .5 -5.3 .5 7.7 .5 -6.1 .5 8.1 .5 -3.7 .5 5.4 .5 -11.1 .5 .4 .5 2.3 .5 -5.3 .5 7.1 .5 7.9 .5 -10.6 .5 -5.3 .5 7.4 .5 -3.9 .5 .4 .5 .9 .5 4.7 .5 -2.8 .5 3 .5 1.3 .5 -2.9 .5 9.9 .5 -13.3 .5 0 .5 -.5 .5 .5 .5 2.8 .5 -3.4 .5 14.3 .5 2 .5 -7.1 .5 -9.7 .5 18.5 .5 -9.5 .5 -3 .5 -5 .5 7.9 .5 -7.4 .5 11.6 .5 -12.6 .5 20.2 .5 -19.1 .5 1 .5 8.3 .5 -13.9 .5 5.8 .5 .8 .5 8.3 .5 -5.9 .5 -7.4 .5 7.5 .5 -3.4 .5 -3.7 .5 5.1 .5 -6.8 .5 8.3 .5 3.6 .5 7.5 .5 -16.3 .5 8.8 .5 1.9 .5 -3.7 .5 -2.8 .5 -5.3 .5 5.3 .5 9.7 .5 -3.9 .5 1.5 .5 .4 .5 -3.2 .5 3.5 .5 -17 .5 .3 .5 23.8 .5 -10.2 .5 8.4 .5 1 .5 -9.7 .5 1.2 .5 .5 .5 2 .5 -2.6 .5 -13.7 .5 9.1 .5 -7.1 .5 8.6 .5 8.9 .5 -6.2 .5 -1.3 .5 -2.7 .5 1.8 .5 2.8 .5 -3.5 .5 2.7 .5 .4 .5 -1.4 .5 -2.8 .5 14.7 .5 -9.1 .5 -2.2 .5 -10.8 .5 20.2 .5 .6 .5 -7.6 .5 -3.7 .5 8.9 .5 -8.9 .5 -13.8 .5 16.9 .5 -3.6 .5 -1.1 .5 6.5 .5 -20.5 .5 11.6 .5 17.9 .5 -3.8 .5 -15.4 .5 -6.8 .5 5.4 .5 4 .5 1.4 .5 -2.8 .5 1.4 .5 4.7 .5 1.7 .5 7.6 .5 -3.3 .5 -16.5 .5 -3.3 .5 22.5 .5 -5.8 .5 -2.7 .5 -6.1 .5 5.8 .5 4 .5 -8.2 .5 -8.2 .5 18 .5 -11.5 .5 2 .5 8.5 .5 -.7 .5 -5.6 .5 -1 .5 1.7 .5 6.7 .5 -13.7 .5 14 .5 -5.9 .5 .9 .5 -1.7 .5 1 .5 4.9 .5 .2 .5 -11.6 .5 7.9 .5 .3 .5 -10.5 .5 1.8 .5 2.4 .5 16 .5 -21.7 .5 3.3 .5 12.8 .5 3 .5 -6.6 .5 -19.1 .5 18.8 .5 -1 .5 1.1 .5 -11.7 .5 -.5 .5 -.1 .5 14.2 .5 -16.9 .5 6.9 .5 8.9 .5 -12.4 .5 13.1 .5 -15.2 .5 11.5 .5 -1.9 .5 14.5 .5 .1 .5 -14.8 .5 6.2 .5 -11.5 .5 3.7 .5 8.5 .5 -11.6 .5 -2.8 .5 9.4 .5 1.7 .5 -16.2 .5 17 .5 -6.6 .5 -5.4 .5 22.5 .5 -21.4 .5 5.4 .5 -6.7 .5 13.9 .5 .7 .5 5 .5 -11.6 .5 5 .5 .2 .5 -6.9 .5 2.6 .5 3.5 .5 -4.9 .5 0 .5 -2.9 .5 1.7 .5 -1.3 .5 -2 .5 -1.8 .5 3.2 .5 -.1 .5 -5.6 .5 1.3 .5 11.4 .5 -15.2 .5 7.2 .5 -1.7 .5 8.5 .5 -3.3 .5 3.1 .5 -1 .5 1.2 .5 -1.8 .5 -1.7 .5 2.7 .5 -2.7 .5 -3.6 .5 -.6 .5 3.5 .5 3.2 .5 9.5 .5 -11.4 .5 9.2 .5 -5.5 .5 -2.3 .5 -7.1 .5 8.5 .5 -5.4 .5 -5.4 .5 -1.1 .5 2.1 .5 4.2 .5 8.7 .5 -8.3 .5 -7.5 .5 12.4 .5 -1.9 .5 -.5 .5 -.2 .5 8.6 .5 -.6 .5 -1.5 .5 -10.6 .5 12.7 .5 -15.3 .5 6.9 .5 -7.4 .5 4.3 .5 9.2 .5 4.1 .5 -8.8 .5 -9.8 .5 6 .5 1 .5 -3.7 .5 18.4 .5 -25.4 .5 11.4 .5 -2.9 .5 10.2 .5 -13.7 .5 7 .5 5.3 .5 -1.4 .5 -9.2 .5 1.8 .5 -2.2 .5 13.3 .5 -13.4 .5 -3.2 .5 -1.5 .5 7.1 .5 19.5 .5 -25.1 .5 22.7 .5 -18.5 .5 -2.9 .5 9.6 .5 9.6 .5 -6.4 .5 -2.6 .5 -.8 .5 4.7 .5 4.2 .5 -9 .5 1.1 .5 .3 .5 -.1 .5 -14.2 .5 9.3 .5 3.6 .5 6.6 .5 -14.7 .5 11.5 .5 -5 .5 3 .5 7.9 .5 -4.9 .5 -3.6 .5 -3.3 .5 6.6 .5 -9.7 .5 -2.8 .5 13.2 .5 -7.3 .5 12.9 .5 4.3 .5 -13.8 .5 4.8 .5 -10.9 .5 -2.2 .5 10.8 .5 2.4 .5 4.2 .5 -8.5 .5 -.1 .5 -3.4 .5 6.4 .5 3.8 .5 5.4 .5 -18.9 .5 8.7 .5 -5.9 .5 .9 .5 8.9 .5 -9.6 .5 .2 .5 -1.1 .5 14.2 .5 .9 .5 -5.2 .5 -5 .5 -1.1 .5 3.9 .5 -2.7 .5 2.4 .5 -3.3 .5 1.6 .5 6.9 .5 -3.1 .5 1.6 .5 -6.7 .5 -6.5 .5 8.8 .5 -.3 .5 -2.2 .5 -11.1 .5 11.4 .5 1.2 .5 -12.7 .5 16.9 .5 -3.9 .5 3.7 .5 -11.4 .5 .4 .5 12.9 .5 -3.5 .5 9.1 .5 -18.1 .5 -1.7 .5 18.3 .5 -2.3 .5 -4.8 .5 -5.1 .5 -3.9 .5 3.3 .5 3.6 .5 -11" fill="none" stroke="#0b0908" stroke-width="1.4" stroke-linejoin="round"/>
<path d="M1915.7 880.8l.8 1.2 .8 4.3 .8 6.2 .8 -5.5 .8 -2.2 .8 2.3 .8 12.2 .8 -8.3 .8 -2.8 .8 4.6 .8 3.4 .8 .7 .8 7.6 .8 -8.5 .8 -5.5 .8 14 .8 -4.9 .8 .4 .8 -4 .8 -1.2 .8 11.8 .8 -13.4 .8 4.1 .8 -2.1 .8 11.6 .8 -4.8 .8 -4.4 .8 6.3 .8 5.4 .8 -12.6 .8 .3 .8 5.7 .8 -.7 .8 -5.9 .8 2.1 .8 2.7 .8 3.7 .8 -10.1 .8 8.8 .8 -1.2 .8 5.8 .8 -18.9 .8 7.5 .8 -1.2 .8 6.4 .8 -11.6 .8 1.1 .8 1.6 .8 -.2 .8 -2.1 .8 -8 .8 9.6 .8 -10.9 .8 1.2 .8 -2.6 .8 -7.1 .8 -3.7 .8 -8.5 .8 -4.5 .8 -7.1 .8 -7.9 .8 -6 .8 -7.2 .8 -4.3 .8 -8.4 .8 -7.6 .8 -6 .8 -7.7 .8 -5.2 .8 -8.4 .8 -9.2 .8 -8.4 .8 -3.9 .8 -8.8 .8 -8.9 .8 -2.4 .8 -8.7 .8 -1.4 .8 -6.9 .8 -8 .8 -4.5 .8 -8 .8 3.7 .8 -7.2 .9 -.6 .8 1.5 .8 -7.6 .8 1.1 .8 3.8 .8 6 .8 3.9 .8 7.2 .8 7.8 .8 7.5 .8 7.1 .8 7.2 .8 7.8 .8 8.2 .8 7.4 .8 6.9 .8 6.2 .8 8.6 .8 7.6 .8 8.9 .8 5.7 .8 9.5 .8 6.4 .8 6.2 .8 9.6 .8 5.2 .8 1.3 .8 8.3 .8 6.7 .8 6.4 .8 2.4 .8 8 .8 5.1 .8 3.6 .8 7.6 .8 2.2 .8 5.3 .8 1.8 .8 7 .8 3.4 .8 .3 .8 .2 .8 4.9 .8 2.8 .8 1.5 .8 .1 .8 6.4 .8 -3.6 .8 3.1 .8 7.3 .8 -8.1 .8 4.7 .8 2.3 .8 -3.1 .8 -1.5 .8 2.7 .8 -3.9 .8 9.7 .8 .6 .8 4 .8 5.8 .8 -6.6 .8 .7 .8 1.8 .8 -3.7 .8 -3.9 .8 3.8 .8 4.4 .8 -.3 .8 .8 .8 -2.4 .8 3.3 .8 -1.1 .8 1.1 .8 -4.4 .8 2.2 .8 4.1 .8 6.8 .8 -5.7 .8 2.5 .8 5.8 .8 -6.6 .8 -2.2 .8 -6.9 .8 7.2 .8 6.9 .8 -9.4 .8 2.9 .8 .9 .8 1.8 .8 -5.4 .8 7.9 .8 -.9 .8 -7 .8 -5.9 .8 12.6 .8 -2.1 .8 -.8 .8 -8.2 .8 3.9 .8 2 .8 1.8 .8 -1.9 .8 4 .8 -9.3 .8 -.9 .8 4.4 .8 4.7 .8 -11.1 .8 -1.2 .8 12.5 .8 -10.8 .8 2.8 .8 4.7 .8 -10.7 .8 3.9 .8 1 .8 -3.5 .8 -1.4 .8 -2.2 .8 .4 .8 5 .8 -14.1 .8 9.3 .8 -2.9 .8 -1 .8 -1.4 .8 -1.7 .8 .9 .8 -11.2 .8 8.5 .8 -1.8 .8 -4 .8 -2.1 .8 2 .8 2.4 .8 -3.1 .8 -2.5 .8 -13.2 .8 11.7 .8 -7.4 .8 -4.1 .8 2.3 .8 2.1 .8 -12.4 .8 8.2 .8 -6.1 .8 1.1 .8 -2.9 .8 2.8 .8 -3.8 .8 -4.3 .8 -1.8 .8 .1 .8 3.1 .8 -6.3 .8 4.9 .8 .6 .8 -4.8 .8 -9.8 .8 8.5 .8 -.4 .8 .7 .8 -3.3 .8 3.8 .8 -.4 .8 -6.4 .8 2.2 .8 3.8 .8 -5.5 .8 -1.2 .8 6.2 .8 -16.3 .8 14.5 .8 -6.2 .8 -5.9 .8 12.9 .8 3.1 .8 -3.9 .8 3.7 .8 3.5 .8 -4.1 .8 4.1 .8 2.9 .8 -4.6 .8 3 .8 -3 .8 -.4 .8 3.6 .8 2.1 .9 -.8 .8 1.6 .8 .4 .8 -.2 .8 -5.2 .8 .8 .8 -4.1 .8 11.6 .8 -2.9 .8 -5 .8 .8 .8 3.6 .8 -7.1 .8 1.5 .8 -1.8 .8 3.1 .8 5.2 .8 -7.4 .8 6.8 .8 -3.8 .8 -2.7 .8 4.1 .8 -8.2 .8 4.7 .8 -.5 .8 7.7 .8 -10.9 .8 2 .8 -6.4 .8 .2 .8 5.4 .8 3 .8 -2.8 .8 -11.1 .8 .7 .8 -3 .8 -2.4 .8 -4.9 .8 -7.6 .8 -8.8 .8 -8.8 .8 -10.8 .8 -9.6 .8 -8.7 .8 -12.9 .8 -14.5 .8 -16.7 .8 -16.5 .8 -16.9 .8 -15.2 .8 -13.3 .8 -12.5 .8 -13.1 .8 -11.6 .8 -13.3 .8 -12.5 .8 -12.4 .8 -12.8 .8 -12.8 .8 -13.3 .8 -13.1 .8 -13.8 .8 -12.5 .8 -15.5 .8 -17.6 .8 -18.4 .8 -16.9 .8 -15.6 .8 -9.1 .8 2 .8 -1.4 .8 13.5 .8 17.3 .8 20.6 .8 21.8 .8 22.1 .8 23.8 .8 29.2 .8 31.1 .8 30.4 .8 27.9 .8 28.1 .8 27.6 .8 24.5 .8 18.9 .8 15.1 .8 14.3 .8 13.3 .8 11.4 .8 10.2 .8 10.9 .8 6.6 .8 7.6 .8 6.2 .8 6 .8 6.2 .8 5.4 .8 2.6 .8 4.5 .8 7.3 .8 3.9 .8 -.3 .8 8 .8 -.3 .8 4 .8 2 .8 2 .8 -.5 .8 3.4 .8 -.4 .8 3.8 .8 0 .8 .9 .8 2.4 .8 3.6 .8 .4 .8 .2 .8 .4 .8 4 .8 5.5 .8 -4.2 .8 2 .8 -3.7 .8 2.1 .8 1.6 .8 8 .8 -2.7 .8 .6 .8 -2.4 .8 1.4 .8 2.4 .8 -1.6 .8 -4.2 .8 4.5 .8 .5 .8 -5.3 .8 -1.3 .8 7.2 .8 .1 .8 .9 .8 1.4 .8 1.4 .8 2.7 .8 -8.1 .8 6.1 .8 3.9 .8 -.2 .8 -8.5 .8 5.5 .8 .2 .8 -2.8 .8 -2.4 .8 3.5 .8 5.8 .8 -5.5 .8 1 .8 -.4 .8 5.5 .8 -3.6 .8 -7 .8 -1.8 .8 8.8 .8 -1.5 .8 .1 .8 7.9 .8 -.8 .8 -3.4 .8 2.6 .8 2.2 .8 -4.8 .8 -2 .8 -4.1 .8 8.8 .8 2.9 .8 -9.3 .8 2 .8 -.9 .8 5.2 .8 -3.5 .8 5.6 .8 -9.9 .8 13 .8 -5 .8 -7.2 .8 -2.9 .8 -2.1 .8 3.4 .8 -2.3 .8 -2.7 .8 -1.6 .9 -.3 .8 -1.8 .8 -2.5 .8 4.3 .8 -1.3 .8 -6.4 .8 .2 .8 -5.2 .8 1.6 .8 -9.4 .8 4.2 .8 -1.3 .8 -3 .8 -3.3 .8 .9 .8 -1.8 .8 4.7 .8 -10.8 .8 -2.3 .8 7.7 .8 -.2 .8 -1 .8 .2 .8 6 .8 3.1 .8 -6.8 .8 7.5 .8 -1.8 .8 1.9 .8 -1.8 .8 1.1 .8 5.9 .8 -6.5 .8 4 .8 2.7 .8 -3.9 .8 -.2 .8 1.4 .8 6.7 .8 -2.7 .8 -1.2 .8 -.8 .8 5.6 .8 -1.7 .8 .5 .8 -2.6 .8 2.7 .8 -1.2 .8 6.1 .8 -2.5 .8 -5.1 .8 7.5 .8 -2.8 .8 9.5 .8 -8.8 .8 2 .8 -2.7 .8 -.3 .8 1.2 .8 .4 .8 1.3 .8 5 .8 -4.8 .8 1.2 .8 -10.5 .8 12.8 .8 -14.8 .8 9.7 .8 1.4 .8 -3.4 .8 -4.3 .8 12.5 .8 -5.8 .8 -3.2 .8 6.2 .8 1.9 .8 -12.1 .8 4 .8 -8.9 .8 3.6 .8 3.9 .8 5.2 .8 -3.1 .8 6.3 .8 -6.6 .8 -10.1 .8 5.3 .8 8.3 .8 -2 .8 -3.5 .8 5.4 .8 -.8 .8 .6 .8 -9.2 .8 8.5 .8 -5.7 .8 2 .8 9.2 .8 -3 .8 2 .8 3 .8 -5.7 .8 .1 .8 3.5 .8 1 .8 -1.4 .8 1.6 .8 7.3 .8 -7.3 .8 1.3 .8 -2.8 .8 1.1 .8 4.9 .8 -1.5 .8 1.9 .8 -2.9 .8 7.1 .8 1.2 .8 -6.2 .8 5.5 .8 2 .8 -6.9 .8 -2.1 .8 6.6 .8 .6 .8 -9.8 .8 -1.1 .8 5.1 .8 8.9 .8 -4.4 .8 .5 .8 -6.8 .8 3.7 .8 -3.6 .8 2.6 .8 6.1 .8 -2.2 .8 0 .8 -1.1 .8 .2 .8 2 .8 -3.4 .8 5.2 .8 -3.2 .8 6.9 .8 -13.1 .8 8 .8 -2.2 .8 3.2 .8 -2.1 .8 -1.6 .8 4.2 .8 2.6 .8 -1.4 .8 2.5 .8 -3.7 .8 2.5 .8 -5.6 .8 .1 .8 4.2 .8 -6.6 .8 1 .8 4.8 .8 -4.3 .8 8.2 .8 -1.4 .8 -7.9 .8 6.2 .8 -4.1 .8 1.5 .8 -.4 .8 -.8 .8 .7 .8 -2.2 .8 -4.6 .8 8.3 .8 -.5 .8 -2.7 .8 3.8 .8 -3.6 .8 6.2 .8 -6.1 .8 4.9 .8 .7 .8 2.2 .8 -9.8 .8 4.1 .8 5.8 .8 -12.1 .8 3.3 .9 -.5 .8 2 .8 4 .8 -4.3 .8 4 .8 -.8 .8 -6.6 .8 5.9 .8 -1.4 .8 3.1 .8 .3 .8 -4 .8 -1.1 .8 5.3 .8 4.3 .8 -6.3 .8 1.3 .8 -4.7 .8 13.4 .8 -7.4 .8 -4.3 .8 4.4 .8 4.4 .8 -1.4 .8 -1.7 .8 -1.9 .8 -4.3 .8 2.8 .8 4.1 .8 1.5 .8 -1.2 .8 .8 .8 1.5 .8 -5.9 .8 .5 .8 1.2 .8 6.4 .8 -2.3 .8 .4 .8 -3.3 .8 .8 .8 1.8 .8 -2.6 .8 -.3 .8 3.7 .8 -1.8 .8 1.3 .8 5.3 .8 -1.2 .8 -5.2 .8 2.5 .8 .2 .8 -1.6 .8 3.5 .8 -2 .8 -1.4 .8 4.3 .8 -4.4 .8 -.2 .8 6.4 .8 -2.7 .8 -1.9 .8 4.5 .8 -4.9 .8 2.6 .8 -.1 .8 .4 .8 -2 .8 3.4 .8 6.5 .8 -3.8 .8 -1.2 .8 -2.6 .8 -3.7 .8 11.4 .8 -9.8 .8 5.9 .8 .4 .8 -1.1 .8 -4.3 .8 -7.2 .8 4.1 .8 1.5 .8 .5 .8 7.7 .8 -.7 .8 -1.9 .8 3.8 .8 -3.9 .8 -2.2 .8 -1 .8 .4 .8 -.6 .8 4.4 .8 1.2 .8 -6.3 .8 4.1 .8 -4.4 .8 6.5 .8 -8.7 .8 5.4 .8 -1.3 .8 -5.3 .8 -1.2 .8 1.8 .8 3.5 .8 1.9 .8 3.9 .8 -1.5 .8 -5.2 .8 5.3 .8 4.8 .8 -7 .8 -.6 .8 -1.5 .8 .6 .8 5.4 .8 -7.7 .8 6.4 .8 .3 .8 -3.9 .8 10.2 .8 -9.6 .8 -3.3 .8 6.9 .8 -6.9 .8 6.1 .8 -2.3 .8 1.4 .8 3.1 .8 -2.3 .8 1 .8 -3.1 .8 1.8 .8 -3.1 .8 1.5 .8 2.2 .8 4.1 .8 -1.5 .8 -.5 .8 -.5 .8 -4.8 .8 6 .8 .8 .8 3.9 .8 -6.2 .8 -6.3 .8 6.9 .8 3.4 .8 -7.9 .8 3.5 .8 2 .8 -2.7 .8 4.1 .8 -2.2 .8 2.5 .8 -9.6 .8 7.9 .8 -1.2 .8 1.2 .8 -3.6 .8 5.1 .8 -5.7 .8 7.1 .8 -6.4 .8 5.5 .8 -4.5 .8 2 .8 -1.1 .8 .7 .8 1.6 .8 -7.2 .8 11.7 .8 -4.3 .8 -1.1 .8 -1 .8 -4 .8 .4 .8 3.1 .8 -1 .8 3.8 .8 1.4 .8 -.3 .8 -2.5 .8 -2.6 .8 3.3 .8 2.4 .8 -5.2 .8 7 .8 -3.3 .9 -2.5 .8 1.4 .8 -.7 .8 2.8 .8 -8 .8 8.9 .8 -6.7 .8 9.5 .8 -6.8 .8 -5.2 .8 12.2 .8 -10.7 .8 -.7 .8 3.1 .8 4.2 .8 -1.5 .8 1.9 .8 -2.2 .8 3.4 .8 -1 .8 .5 .8 1 .8 -8.3 .8 5.8 .8 -1.3 .8 -1.3 .8 -2 .8 2.3 .8 .7 .8 -9.6 .8 8.7 .8 -.7 .8 -.6 .8 -.2 .8 -2.6 .8 .1 .8 -.4 .8 -3.8 .8 3.5 .8 3.3 .8 1 .8 -5.1 .8 -2 .8 -2.3 .8 7.3 .8 -1.5 .8 -1.1 .8 -6.3 .8 4.9 .8 -2.3 .8 -.9 .8 -.9 .8 .4 .8 -9.3 .8 1.7 .8 2.6 .8 -8.4 .8 2.1 .8 -7 .8 -2.5 .8 -1.3 .8 .2 .8 4.7 .8 -5.7 .8 -2.3 .8 -1.7 .8 2.7 .8 -.6 .8 1 .8 4.3 .8 -2.9 .8 3.6 .8 -1.6 .8 7.4 .8 .1 .8 -2 .8 -4 .8 1.3 .8 3.3 .8 1.6 .8 9.1 .8 -3.5 .8 -.8 .8 2.9 .8 3 .8 -4.6 .8 -.2 .8 6.1 .8 -1.2 .8 -6.9 .8 6.8 .8 -2.2 .8 8.8 .8 -4.9 .8 -3.6 .8 8.9 .8 -3.4 .8 -.5 .8 2.1 .8 -2.4 .8 -.9 .8 .8 .8 3.6 .8 3 .8 -4 .8 -.2 .8 9.9 .8 -5.2 .8 -3.9 .8 0 .8 4.8 .8 1.4 .8 -6.2 .8 4.6 .8 -4.5 .8 3.6 .8 .2 .8 3.2 .8 1.2 .8 -4.3 .8 -4.3 .8 7.9 .8 -7.8 .8 6.7 .8 4.6 .8 -6.2 .8 2.1 .8 -3.2 .8 -1.7 .8 7.3 .8 -4.7 .8 7.3 .8 -6.6 .8 -.2 .8 2 .8 1.1 .8 -1.7 .8 8.2 .8 -10.4 .8 4.7 .8 -3.2 .8 5.5 .8 -2.1 .8 -2.9 .8 .8 .8 .6 .8 .6 .8 -4.4 .8 9.7 .8 1.4 .8 .8 .8 .5 .8 -9.3 .8 -2.2 .8 4.4 .8 .4 .8 3.8 .8 -10 .8 5.4 .8 -2.1 .8 -1.2 .8 3.4 .8 -1.8 .8 2.5 .8 5.9 .8 -5 .8 .8 .8 .7 .8 -4.8 .8 4.9 .8 -.8 .8 -1.2 .8 5.6 .8 -9 .8 5.1 .8 -2.9 .8 3.4 .8 -5 .8 4.7 .8 -.8 .8 -2.9 .8 1.2 .8 5.5 .8 -4.5 .8 2.1 .8 .2 .8 2.1 .8 -4 .8 .1 .8 -1 .9 3.1 .8 .7 .8 -1.5 .8 -1 .8 .2 .8 -1.8 .8 2.7 .8 -1.8 .8 3.5 .8 -1.7 .8 .9 .8 -1.1 .8 -4.5 .8 -1.8 .8 1.4 .8 4.7 .8 2.5 .8 -1.9 .8 -1.7 .8 -2.5 .8 6.5 .8 3.1 .8 -8 .8 8.5 .8 -8.8 .8 .7 .8 -3.6 .8 4.1 .8 1.3 .8 -.3 .8 -.2 .8 7 .8 -6.1 .8 -2.3 .8 3.2 .8 .2 .8 5.8 .8 -11.9 .8 4 .8 5 .8 -1.7 .8 -.5 .8 -5.5 .8 5.5 .8 -2.9 .8 .4 .8 -.1 .8 4.1 .8 -.9 .8 -2.8 .8 3.9 .8 -2.2 .8 -3.9 .8 -1.3 .8 6.3 .8 -1.2 .8 3.9 .8 -5.7 .8 3 .8 -3.3 .8 3.1 .8 .7 .8 -4.3 .8 1 .8 1.7 .8 -1.9 .8 9.6 .8 -14.5 .8 8.3 .8 -1 .8 -6.6 .8 7.1 .8 -2.9 .8 -1.1 .8 4.4 .8 -.4 .8 1 .8 0 .8 -4.5 .8 1.5 .8 .6 .8 3.1 .8 -.2 .8 -1.2 .8 3.4 .8 -2.2 .8 .1 .8 -4.1 .8 2.3 .8 -1.5 .8 -4.5 .8 7.3 .8 1 .8 -.4 .8 2.4 .8 -1.8 .8 -3.6 .8 1.7 .8 -2.8 .8 -.1 .8 .6 .8 -1.6 .8 2.4 .8 5.6 .8 .5 .8 -5.4 .8 -2.6 .8 0 .8 4.3 .8 3 .8 -5.6 .8 -2.4 .8 3.3 .8 .8 .8 -.4 .8 -2.8 .8 1.2 .8 .6 .8 -4.2 .8 6.8 .8 -3.6 .8 4.8 .8 .9 .8 -6.7 .8 5.7 .8 3.8 .8 -10.8 .8 -.7 .8 3.9 .8 -1 .8 -3.1 .8 5.9 .8 .6 .8 -1 .8 0 .8 .1 .8 0 .8 -2.8 .8 .3 .8 5.3 .8 -2.5 .8 -2.4 .8 7.6 .8 -2.1 .8 -4.9 .8 1.8 .8 1.2 .8 -3 .8 4.3 .8 -3.8 .8 -3.7 .8 3.8 .8 -2 .8 1.8 .8 .3 .8 -.4 .8 4.2 .8 -3.4 .8 -1.7 .8 -.2 .8 1.8 .8 5.5 .8 -3.8 .8 .1 .8 -.7 .8 -.7 .8 -1 .8 2.3 .8 -2.4 .8 1.7 .8 .9 .8 -.3 .8 -2.8 .8 3.2 .8 -.8 .8 -4.2 .8 9.7 .8 -4.6 .8 -6 .8 1.6 .8 4 .8 -4.2 .8 1.2 .8 -2.4 .8 6.3 .8 -3.2 .8 9.3 .8 -6.8 .8 -.7 .8 .7 .9 -1.7 .8 1.6 .8 2.3 .8 -8.2 .8 2 .8 3.3 .8 4.8 .8 -6 .8 1.8 .8 5.3 .8 -7.3 .8 -1.7 .8 1.9 .8 4 .8 .8 .8 .1 .8 -1.5 .8 -2.6 .8 6.3 .8 -5.8 .8 0 .8 1.7 .8 3 .8 -2.3 .8 .1 .8 -1 .8 -3.1 .8 2 .8 1.8 .8 -5.5 .8 10.3 .8 -9.8 .8 -1 .8 .6 .8 2.9 .8 .6 .8 -1 .8 6.4 .8 -6.6 .8 5 .8 -1.3 .8 -1.9 .8 -3.6 .8 -3.8 .8 6.7 .8 2.1 .8 .3 .8 -1.1 .8 -2.7 .8 -.1 .8 -3.7 .8 8.8 .8 -1.2 .8 .7 .8 -5.9 .8 4.2 .8 .3 .8 -1.5 .8 4.2 .8 -1.5 .8 -3.4 .8 1.4 .8 -5.4 .8 6 .8 -.8 .8 -2.3 .8 1.3 .8 -.1 .8 4.5 .8 -1.4 .8 0 .8 -1.8 .8 .2 .8 -2.7 .8 2.5 .8 -.9 .8 -5.3 .8 6.7 .8 .2 .8 2.7 .8 -6.9 .8 2.1 .8 .1 .8 1.3 .8 -4.7 .8 1.9 .8 1 .8 .1 .8 1.1 .8 1.1 .8 -1.3 .8 1.1 .8 -.4 .8 1.2 .8 2.9 .8 -2.7 .8 .6 .8 2.3 .8 -.8 .8 -3.9 .8 -.7 .8 .3 .8 -.2 .8 0 .8 6.1 .8 -3.6 .8 -2.2 .8 -.8 .8 .5 .8 -5.7 .8 7.5 .8 1.2 .8 -5.7 .8 1.6 .8 6.4 .8 -2.4 .8 -1.7 .8 -1.4 .8 6.8 .8 -2.1 .8 3.2 .8 -5 .8 -5.3 .8 8.4 .8 -6.9 .8 5.7 .8 -3 .8 -2.4 .8 1.3 .8 1.1 .8 -.8 .8 -.6 .8 .9 .8 3 .8 -3.1 .8 3.9 .8 -2.3 .8 -4.4 .8 4.2 .8 .1 .8 6.1 .8 -6.4 .8 -1.6 .8 3.8 .8 -1.8 .8 -.8 .8 -2.1 .8 8 .8 -8.8 .8 2.6 .8 2.9 .8 -5.9 .8 7" fill="none" stroke="#0b0908" stroke-width="4.8" stroke-linejoin="round"/>
<path d="M1915.7 867.2l.5 7.7 .5 -6.5 .5 27.8 .5 -23.2 .5 22.7 .5 -6.5 .5 -2 .5 6.2 .5 -25 .5 23.6 .5 8.5 .5 1.5 .5 -13.7 .5 10.6 .5 1.6 .5 -10 .5 7 .5 1.5 .5 10.8 .5 -4.8 .5 -15.5 .5 4.8 .5 11.1 .5 -.4 .5 -4.7 .5 .4 .5 -8.5 .5 -3.3 .5 6.9 .5 3.5 .5 2.1 .5 -10.7 .5 14.7 .5 -13.5 .5 1.6 .5 .1 .5 -.4 .5 3 .5 7.9 .5 -25.9 .5 26.1 .5 -7.5 .5 -1.2 .5 -.1 .5 -8.1 .5 -1.5 .5 13.6 .5 5.2 .5 -1.5 .5 -16.6 .5 -7.2 .5 10.2 .5 16.2 .5 -1.3 .5 -1.2 .5 7.3 .5 -3.8 .5 6.7 .5 -21.2 .5 9.8 .5 -3.9 .5 -9.5 .5 13.2 .5 -2.6 .5 -11.7 .5 5.8 .5 .4 .5 3.8 .5 9.7 .5 -6.7 .5 .1 .5 -12.3 .5 7.7 .5 -6.4 .5 14.7 .5 -21.1 .5 -3 .5 28.7 .5 -23.1 .5 2.9 .5 -4.5 .5 9.2 .5 3.5 .5 -29.9 .5 29.5 .5 -9.5 .5 -1.8 .5 -8.3 .5 -3.5 .5 2.5 .5 -14.3 .5 1.6 .5 -3.8 .5 -2.6 .5 -2 .5 -7.4 .5 .3 .5 -6.3 .5 -3 .5 -4.7 .5 -3.6 .5 -5.9 .5 -5.5 .5 -2.3 .5 -7.6 .5 -2.9 .5 -5 .5 -.9 .5 -7.3 .5 -6.6 .5 -3 .5 0 .5 -9.6 .5 -4.7 .5 -3.6 .5 -2.6 .5 -3.6 .5 -7.5 .5 -1.5 .5 -5.8 .5 -6.6 .5 1.4 .5 -9.4 .5 2.5 .5 -7.5 .5 1.3 .5 -9.2 .5 -1.6 .5 -2 .5 -2.6 .5 -9.3 .5 -1.2 .5 -1.8 .5 -5.7 .5 -7.3 .5 25.5 .5 -8.7 .5 -13.4 .5 -5.8 .5 9.7 .5 4.2 .5 1.1 .5 -.5 .5 1.8 .5 3.6 .5 3.3 .5 10.7 .5 -1.2 .5 7.4 .5 4.4 .5 3.6 .5 5.6 .5 4.2 .5 1.8 .5 8.3 .5 1.8 .5 1.9 .5 6.8 .5 3 .5 2.4 .5 7.7 .5 7.3 .5 3.1 .5 6.4 .5 3.9 .5 6.6 .5 1.4 .5 6.7 .5 3.8 .5 3.8 .5 5 .5 7.2 .5 4 .5 3.2 .5 5.6 .5 -.3 .5 5.5 .5 3.3 .5 3.5 .5 .2 .5 7.6 .5 8.9 .5 -2.2 .5 7.5 .5 4 .5 -4 .5 6 .5 1.6 .5 6.1 .5 11.3 .5 -8.6 .5 -2.7 .5 11.3 .5 -1.5 .5 5.9 .5 2.4 .5 2.1 .5 1 .5 4.8 .5 3.2 .5 14 .5 -8.9 .5 2 .5 -3.9 .5 -5.6 .5 4.1 .5 4.4 .5 -6.7 .5 -8.1 .5 7.2 .5 6.8 .5 12.5 .5 11.6 .5 -12.8 .5 -4.8 .5 12.2 .5 2.4 .5 -10 .5 4.6 .5 -6.2 .5 -10.2 .5 11.7 .5 -13.4 .5 20.7 .5 2.9 .5 -6.3 .5 -9.5 .5 15 .5 2.6 .5 -8.4 .5 4.2 .5 20 .5 -16 .5 -15.6 .5 15.1 .5 -7.9 .5 6.3 .5 -19 .5 34.1 .5 -10.7 .5 -15.8 .5 12.8 .5 4.1 .5 -5 .5 20.1 .5 -23.6 .5 10.6 .5 -3.9 .5 8.2 .5 -8.9 .5 11.6 .5 -26.4 .5 6.9 .5 .9 .5 11.2 .5 10.4 .5 5.8 .5 -22.3 .5 11.2 .5 -11.6 .5 14.6 .5 -5.3 .5 1.4 .5 3.8 .5 6.9 .5 -16.3 .5 4.5 .5 2.9 .5 -21.7 .5 24.6 .5 -2.5 .5 -11.1 .5 .2 .5 5.4 .5 -17.1 .5 21.2 .5 -4.1 .5 21.3 .5 -8 .5 -18.1 .5 17.1 .5 -6.3 .5 -2 .5 -6.2 .5 21.4 .5 -24.4 .5 9.6 .5 -4.7 .5 3.2 .5 9.7 .5 -15.2 .5 7.2 .5 15.6 .5 -18.5 .5 -8.6 .5 8.4 .5 15.5 .5 -24.2 .5 8.5 .5 1.9 .5 -4.4 .5 2.3 .5 2.7 .6 -.5 .5 -8.9 .5 3.6 .5 3.1 .5 -3.5 .5 -9.1 .5 4.5 .5 10.9 .5 -17.6 .5 5.7 .5 -4.3 .5 11.7 .5 -2 .5 2.4 .5 -27.1 .5 12 .5 10.7 .5 -6.5 .5 2.9 .5 -12.1 .5 14.4 .5 -8.3 .5 -11.4 .5 5.7 .5 7.7 .5 14.1 .5 -18.6 .5 6.5 .5 -12.5 .5 8.9 .5 -1.4 .5 -3.5 .5 .9 .5 -15 .5 15.7 .5 .5 .5 -11.4 .5 -5.3 .5 12 .5 -2 .5 1.2 .5 1.4 .5 -23.7 .5 10.6 .5 8 .5 -4.6 .5 -7.7 .5 12.3 .5 -15.7 .5 2.1 .5 1.4 .5 1.7 .5 -3.2 .5 -2.5 .5 .5 .5 -8.8 .5 16 .5 -8.4 .5 -8.3 .5 4.1 .5 -6.3 .5 9.4 .5 -2.9 .5 2.1 .5 -18.5 .5 24 .5 -8.5 .5 6.2 .5 3.2 .5 -13.5 .5 -.4 .5 -6.1 .5 18.2 .5 -9.4 .5 6.5 .5 -11.7 .5 -2 .5 2.8 .5 -2.4 .5 5.4 .5 -13.8 .5 -4.1 .5 9.4 .5 -3.5 .5 -3.7 .5 3.8 .5 -8.7 .5 18 .5 -9.9 .5 9.3 .5 -7.6 .5 -9.7 .5 -14.9 .5 23.2 .5 -.8 .5 -1 .5 -22.1 .5 11.2 .5 4.3 .5 -5.6 .5 11.6 .5 -.8 .5 -20 .5 14.9 .5 4.6 .5 -1.2 .5 -12.2 .5 1.5 .5 5.3 .5 -9.6 .5 7.2 .5 8.8 .5 -11.9 .5 1.6 .5 6.5 .5 8.8 .5 -.2 .5 -4.4 .5 .9 .5 7.6 .5 -22 .5 13 .5 2.4 .5 2.5 .5 -6 .5 14.1 .5 -9.4 .5 3.3 .5 -8 .5 13.5 .5 5.8 .5 -23.2 .5 18.7 .5 -2.2 .5 8.8 .5 -21.9 .5 3.2 .5 10.4 .5 6.3 .5 -6.4 .5 5.2 .5 -13.2 .5 25.3 .5 -23.4 .5 7.6 .5 -23.1 .5 38.7 .5 -13 .5 -13 .5 16.3 .5 2.1 .5 -8.8 .5 -7.4 .5 -3.8 .5 -5.5 .5 15.7 .5 16.5 .5 -28.3 .5 28.1 .5 -20.4 .5 0 .5 -2 .5 13 .5 -8.1 .5 -.9 .5 -10.1 .5 6.6 .5 9.7 .5 -7.3 .5 2.3 .5 -1.7 .5 -7.8 .5 11.1 .5 -1.5 .5 -6.8 .5 6.8 .5 6.8 .5 -22.4 .5 11.7 .5 -6.3 .5 2.4 .5 4.2 .5 -11.2 .5 -2.5 .5 .3 .5 15.4 .5 -12.3 .5 -2.2 .5 .1 .5 -5.9 .5 .6 .5 6.1 .5 -1.5 .5 -5.5 .5 -3.7 .5 -1.4 .5 -3.8 .5 -1.8 .5 -5.4 .5 -6.8 .5 -7.9 .5 -4.3 .5 -5.7 .5 -5.4 .5 -6.7 .5 -5.3 .5 -7 .5 -10.2 .5 -9.2 .5 -9.9 .5 -10.8 .5 -10.4 .5 -10.2 .5 -10 .5 -9.3 .5 -9.8 .5 -8.8 .5 -7.5 .5 -9.3 .5 -6.6 .5 -7.1 .5 -8.8 .5 -8.1 .5 -6.3 .5 -8 .5 -7.9 .5 -8.9 .5 -7.9 .5 -7.4 .5 -8.5 .5 -8.4 .5 -8.6 .5 -9.3 .5 -6 .5 -8.3 .5 -10.1 .5 -7.3 .5 -9.4 .5 -11.1 .5 -11.9 .5 -11.5 .5 -11.2 .5 -10.2 .5 -10 .5 -7.8 .5 -2.9 .5 -.9 .5 8.9 .5 -6.5 .5 5.2 .5 7.6 .5 10.8 .5 11.9 .5 13.5 .5 13.6 .5 13.6 .5 13.6 .5 14.2 .5 16 .5 17.9 .5 19.3 .5 19.6 .5 19.4 .5 18.1 .5 16.8 .5 17.7 .5 17.9 .5 17.4 .5 16 .5 14.7 .5 12.8 .5 9.7 .5 9.9 .5 10.2 .5 6.4 .5 8.4 .5 9.8 .5 7.1 .5 5.6 .5 5.9 .5 4.7 .5 7.1 .5 4.3 .5 8.7 .5 -.7 .5 10.8 .5 -2.5 .5 .8 .5 9.6 .5 3.5 .5 .4 .5 1.7 .5 1.3 .5 4.9 .5 -2.9 .5 7.7 .5 4.8 .5 -1.2 .5 2 .5 -.5 .5 2.8 .5 -1.1 .5 10.4 .5 7.8 .5 -13.2 .5 5.5 .5 .3 .5 -.5 .5 8.2 .5 -17.6 .5 20.8 .5 2.6 .5 -8.6 .5 11.8 .5 -4.7 .5 4.2 .5 -6 .5 4.1 .5 5.1 .5 -9 .5 11.8 .5 -6.9 .5 -11.6 .5 9.4 .5 -4.3 .5 12.2 .5 -9.9 .5 16.1 .5 1.7 .5 -12.7 .5 -6.1 .5 11.9 .5 4.8 .5 9.8 .5 -7.4 .5 -5.8 .5 -6.4 .5 1.4 .5 -2.2 .5 8.3 .5 10.7 .5 -15.8 .5 11.3 .5 -4.6 .5 1.3 .5 11 .5 -13.8 .5 8.6 .5 .2 .5 8.6 .5 -12.9 .5 -4.8 .5 24.1 .5 -13.4 .5 -11.9 .5 21.2 .5 -6.5 .5 2.8 .5 -8.8 .5 -3.4 .5 7.1 .5 -7.8 .5 12.3 .5 -9 .5 5.5 .5 -16.7 .5 16.3 .5 -7.1 .5 4.2 .5 14 .5 -20 .5 14.9 .5 -3.5 .5 5.6 .5 -13.4 .5 4.5 .5 -1.9 .5 6.7 .5 -14.5 .5 16 .5 -.9 .5 .5 .5 -10 .5 -7.2 .5 16.4 .5 10 .5 -15.3 .5 -2.8 .5 -2.4 .5 8.8 .5 -7.4 .5 9.8 .5 -3 .5 -10.5 .5 20.1 .5 -26.4 .5 20.8 .5 -21.2 .5 12.8 .5 .3 .5 13.9 .5 -9.1 .5 2.4 .5 3.8 .5 -13.4 .5 10.7 .5 -1.7 .5 -2.3 .5 7.1 .5 -5.9 .5 -1.5 .5 6.5 .5 -7.1 .5 -14.9 .5 22.3 .5 -6.2 .5 6.5 .5 -8.4 .5 1.5 .5 21.3 .5 -26.2 .5 14.3 .5 -.9 .5 -18.6 .5 10.9 .5 -5.1 .5 .1 .5 5 .5 .7 .5 -11.5 .5 5.9 .5 3.8 .5 -11.6 .5 13.1 .5 -3.6 .5 -2.2 .5 4.6 .5 -9.1 .5 -.9 .5 -4.1 .5 1.3 .5 -9.9 .5 12.9 .5 -1.2 .5 -2.4 .5 .5 .5 .4 .5 1.1 .5 9.5 .5 -10 .5 -17.7 .5 4.4 .5 4.2 .5 -2.5 .5 -5.6 .5 2.2 .5 5 .5 -9.9 .5 0 .5 3.8 .5 3.2 .5 -.7 .5 -3.1 .5 -11.8 .5 15.3 .5 -17 .5 8.1 .5 1.3 .5 -.3 .5 -1.1 .5 2 .5 -4.4 .5 -4.3 .5 14.7 .5 -9.3 .5 -8.1 .5 14.4 .5 -.7 .5 -21.9 .5 35.3 .5 -22.2 .5 2.6 .5 -2.1 .5 20.8 .5 -19.1 .5 6 .5 12.5 .5 -9.1 .5 4 .5 -1.8 .5 2.4 .5 -18.3 .5 12.4 .5 1.3 .5 10.3 .5 .1 .5 -10.9 .5 2.9 .5 4.1 .5 4 .5 -17 .5 .8 .5 9.6 .5 4.2 .5 2.9 .5 3.9 .5 -2 .5 -22.6 .5 12.7 .5 21.3 .5 -26.5 .5 16.3 .5 2.5 .5 -7.2 .5 -4.5 .5 -.8 .5 2.6 .5 7.6 .5 2.1 .5 -5.4 .5 .6 .5 -7.8 .5 18.8 .5 -1.8 .5 -8 .5 -13 .5 15.6 .5 -.3 .5 -12.5 .5 16.4 .5 -11.4 .5 7.9 .5 -7.8 .5 -2.1 .5 4.3 .5 3.7 .5 -3.4 .5 -7.7 .5 16.1 .5 -5.1 .5 -7.7 .5 12 .5 9 .5 -14.5 .5 7.4 .5 -13.1 .5 11.1 .5 -14.4 .5 17 .5 -7.7 .5 -5.3 .5 -1.3 .5 11.1 .5 .9 .5 9.4 .5 -35.8 .5 21 .5 -14 .5 4.9 .5 15.5 .5 -14.2 .5 9.2 .5 -9 .5 7.3 .5 6.1 .5 -12.3 .5 -.7 .5 -.6 .5 -.8 .5 3.6 .5 -7.5 .5 10.7 .5 -8.4 .5 5.3 .5 -4.5 .5 3.6 .5 14.5 .5 -23.3 .5 7.6 .5 4 .5 1.7 .5 -1.7 .5 -9.6 .5 4.3 .5 -.3 .5 1.6 .5 12.2 .5 8.7 .5 -11.8 .5 -1.9 .5 -6.3 .5 11.6 .5 3.6 .5 -6.5 .5 -4.6 .5 7.8 .5 -13.1 .5 -1.3 .5 1.7 .5 5.3 .5 -4.4 .5 -.7 .5 23.5 .5 -10.9 .5 -5.2 .5 -3 .5 11 .5 -8.9 .5 20.9 .5 -12.4 .5 4.1 .5 .5 .5 -.8 .5 -7.9 .5 5.9 .5 9.1 .5 -15.1 .5 -7.9 .5 7.3 .5 -4.4 .5 6 .5 -3.4 .5 6.5 .5 .7 .5 -6.9 .5 12.6 .5 -11.6 .5 7.6 .5 3.7 .5 -5.2 .5 1 .5 5.3 .5 -1.1 .5 -8.2 .5 16 .5 -3.9 .5 -12.5 .5 15.6 .5 8.7 .5 -20.2 .5 -6.1 .5 16.6 .5 5.8 .5 -9.3 .5 1.2 .5 3.9 .5 -8.3 .5 .8 .5 -5.7 .5 4.7 .5 .4 .5 -2.1 .5 -2.4 .5 .2 .5 8.7 .5 -8 .5 -1.1 .5 7.6 .5 -1.3 .5 -17.5 .5 33.2 .5 -22.1 .5 11.2 .5 -4.8 .5 .8 .5 5.6 .5 .9 .5 -6.9 .5 10.3 .5 -5.5 .5 8.9 .5 -10.6 .5 3 .5 -5.8 .5 -5.3 .5 1.2 .5 4.2 .5 5.5 .5 -8.7 .6 -2 .5 5.3 .5 2.5 .5 -6.8 .5 16.1 .5 .9 .5 -11.2 .5 .1 .5 17.5 .5 -18.1 .5 -4.4 .5 7 .5 -6.7 .5 4.6 .5 -3.3 .5 -.6 .5 -1.3 .5 -5 .5 6.5 .5 -4.2 .5 4.1 .5 -.1 .5 7.4 .5 -5.9 .5 8.3 .5 -11.2 .5 14 .5 -4.7 .5 -2.1 .5 .4 .5 -5.7 .5 10.8 .5 -8 .5 -1.2 .5 -10 .5 26.2 .5 -16.7 .5 -6.5 .5 16.1 .5 .4 .5 -25.3 .5 31.2 .5 -19.3 .5 5.7 .5 -3.4 .5 20.3 .5 -12.9 .5 -7.4 .5 11.7 .5 -11.3 .5 -1.9 .5 4.7 .5 .3 .5 -4.8 .5 .6 .5 -6.4 .5 6 .5 21.1 .5 -13.4 .5 -4.3 .5 -9.8 .5 2.4 .5 16.4 .5 -.1 .5 4.7 .5 -7.3 .5 -23 .5 22.2 .5 -.3 .5 -7.1 .5 3.5 .5 -5.4 .5 12.9 .5 -2.1 .5 -.3 .5 4.6 .5 6.3 .5 .1 .5 -13.7 .5 1.5 .5 -21 .5 11.7 .5 2.1 .5 7.4 .5 1.2 .5 -7.8 .5 .1 .5 1.4 .5 -4.4 .5 4.5 .5 -.5 .5 -4.1 .5 7.4 .5 -9.8 .5 .1 .5 11.8 .5 -7 .5 -2.7 .5 7.3 .5 7.4 .5 -1.8 .5 .9 .5 -13.7 .5 -1.7 .5 18 .5 -5.6 .5 5.6 .5 -15.6 .5 10.4 .5 -9 .5 9.3 .5 -1.6 .5 -11 .5 8.6 .5 4.8 .5 -.3 .5 .8 .5 -8.8 .5 8.9 .5 -14.1 .5 15.7 .5 -3.5 .5 1.6 .5 6.1 .5 7.4 .5 -14.3 .5 -6.4 .5 1.7 .5 .4 .5 -3.3 .5 11.5 .5 -.5 .5 8.2 .5 -7.5 .5 -2.3 .5 -7.5 .5 13.2 .5 4.8 .5 -9.1 .5 -4.3 .5 17.3 .5 -18.5 .5 5.2 .5 3.8 .5 -1.3 .5 -7.6 .5 4.9 .5 -5.3 .5 1.9 .5 3.7 .5 5.1 .5 -9.6 .5 9.9 .5 -12.2 .5 7 .5 7.1 .5 -1.7 .5 -11.1 .5 14.1 .5 -15.5 .5 10.2 .5 3.3 .5 -6.3 .5 3.3 .5 -2.5 .5 -5.1 .5 8.7 .5 -2.7 .5 -1.4 .5 -2 .5 3.8 .5 -11.5 .5 15.7 .5 -14.2 .5 5.6 .5 14 .5 2.7 .5 -7.4 .5 -11.2 .5 -2.8 .5 16.1 .5 -4.9 .5 -18.3 .5 13.9 .5 2.4 .5 .4 .5 -8.8 .5 3.2 .5 13.3 .5 -4.7 .5 -9.3 .5 -6.2 .5 25 .5 -4.6 .5 6.8 .5 -16.8 .5 -12.8 .5 22.7 .5 -18.9 .5 5 .5 16 .5 -10.7 .5 -.2 .5 3.7 .5 1.6 .5 -8.7 .5 -9.8 .5 26 .5 -9.7 .5 6.2 .5 -5.7 .5 -13.7 .5 22.8 .5 -4.5 .5 3.6 .5 -13.7 .5 -7.3 .5 8.3 .5 8.7 .5 -23.4 .5 14.2 .5 -4 .5 3.6 .5 4.9 .5 7.7 .5 -26.3 .5 33.3 .5 -11.5 .5 -5.9 .5 .6 .5 3.2 .5 3.1 .5 -3 .5 2.2 .5 -12.6 .5 4.8 .5 .7 .5 12.2 .5 -9.5 .5 -3.9 .5 5.6 .5 -8.9 .5 11.9 .5 -5.1 .5 -1 .5 -.7 .5 -.1 .5 7.1 .5 1.6 .5 1.6 .5 -5.5 .5 -.2 .5 -6.1 .5 12 .5 -1.2 .5 -14.4 .5 4.4 .5 1.2 .5 .1 .5 -2.8 .5 17.6 .5 -5.4 .5 -18 .5 16 .5 -20.2 .5 29.3 .5 -14.3 .5 -5.7 .5 14.5 .5 1.6 .5 -11.8 .5 -1.7 .5 -6.5 .5 4.1 .5 1.8 .5 1.2 .5 2.1 .5 -6.5 .5 12.2 .5 -8.2 .5 -.7 .5 15.5 .5 -5.7 .5 -10.2 .5 3.5 .5 -.2 .5 -.2 .5 6.3 .5 -6.1 .5 -6.1 .5 -5.1 .5 12.3 .5 1.3 .5 -5.9 .5 17 .5 -16.1 .5 13.1 .5 -15.7 .5 4.5 .5 6.8 .5 1.9 .5 -5.1 .5 -2.5 .5 7.5 .5 -8.7 .5 2.1 .5 -3.6 .5 11.6 .5 -4.9 .5 -3.5 .5 -1.3 .5 8.5 .5 -1.5 .5 -2.2 .5 -5.2 .5 1 .5 -2.5 .5 22.4 .5 -17.2 .5 -5.7 .5 8.7 .5 -14.1 .5 22.1 .5 -5.9 .5 -3.2 .5 -2.8 .5 -2.5 .5 -9.4 .5 7.4 .5 13.3 .5 5.3 .5 -17.9 .5 2.2 .5 -3 .5 -4.3 .5 14.7 .5 -7 .5 -7.9 .5 20.6 .5 -4.9 .5 -5 .5 -6.6 .5 7.3 .5 8.2 .5 -6.1 .5 -7.5 .5 7.6 .5 -1.5 .5 12.9 .5 -10.5 .5 2.4 .5 2.2 .5 -9.3 .5 18.2 .5 -12.5 .5 -13.5 .5 9 .5 -15.4 .5 2.7 .5 20.8 .5 -3.9 .5 10 .5 -10.1 .5 -10.8 .5 6.9 .5 -6.2 .5 11.7 .5 3.2 .5 -15.8 .5 -8.3 .5 21.7 .5 -21.7 .5 4.3 .5 9.7 .5 6.1 .5 -3.9 .5 -7.7 .5 -1.6 .5 -5 .5 30.5 .5 -12.3 .5 .2 .5 -4.7 .5 -1.5 .5 13.8 .5 -11.2 .5 2 .5 -4.7 .5 3.1 .5 -2.2 .5 -7.3 .5 5.8 .5 -2.6 .5 -9.5 .5 12.9 .5 7.2 .5 -18 .5 13.9 .5 -10 .5 10.8 .5 -8.9 .5 16.1 .5 -18.7 .5 16.8 .5 -1.3 .5 .7 .5 -7.3 .5 -9.1 .5 6.9 .5 .8 .5 4.1 .5 -13.7 .5 14.5 .5 1.7 .5 1.9 .5 -4.4 .5 -11.3 .5 10.2 .5 -8.5 .5 8 .5 1.9 .5 -1.9 .5 1.4 .5 -6.3 .5 7.1 .5 -1.1 .5 8 .5 -4.4 .5 -18 .5 9.3 .5 -3.9 .5 4.1 .5 12.1 .5 -12.4 .5 -6.3 .5 10.3 .5 -3.5 .5 -7.2 .5 1.5 .5 11.5 .5 -11.4 .5 18.4 .5 -9.9 .5 -11.6 .5 9.8 .5 -7.9 .5 .8 .5 -7 .5 8.6 .5 -2.3 .5 -9.4 .5 1.1 .5 4.9 .5 -3.8 .5 4.4 .5 -4.2 .5 2.7 .5 0 .5 -.1 .5 -.1 .5 -8.5 .5 -1.7 .5 5.5 .5 -8.9 .5 4.9 .5 -6.9 .5 -3.6 .5 3.6 .5 -7.8 .5 6.4 .5 -3.3 .5 11 .5 -17.6 .5 13.3 .5 9.4 .5 -6.6 .5 -3.7 .5 -2.3 .5 7.4 .5 -13.1 .5 6.1 .5 8.6 .5 -13.8 .5 1.6 .5 -4.3 .5 7.4 .5 1.6 .5 -4.1 .5 -.3 .5 11.6 .5 11.7 .5 -28.8 .5 .7 .5 28 .5 -7.7 .5 -1.7 .5 -.1 .5 -.3 .5 8.6 .5 -7.3 .5 -11.4 .5 12.2 .5 -2.7 .5 2 .5 -2.6 .5 3.9 .5 -5.2 .5 4.8 .5 11.2 .5 -13.2 .5 4.8 .5 1.1 .5 4.3 .5 -2.4 .5 -1.7 .5 -3.3 .5 -2.2 .5 14.6 .5 -4.1 .5 4.9 .5 -3.6 .5 -8.4 .5 10 .5 -1.3 .5 -2.1 .5 -6.3 .5 2.1 .5 1.3 .5 9.4 .5 -3.7 .5 15.6 .5 -11.8 .5 4.2 .5 8.3 .5 -30.9 .5 12.8 .5 -3.7 .5 6.2 .5 -14.4 .5 20.6 .5 -4.6 .5 9 .5 -3 .5 -2.1 .5 -5.5 .5 4.9 .5 -3.4 .5 1.2 .5 -9.6 .5 15.4 .5 -4.6 .5 -8.5 .5 7.9 .5 3.1 .5 -9.3 .5 8.1 .5 -9.8 .5 -6.8 .5 7.9 .5 8.1 .5 -3 .5 3.6 .5 4.7 .5 -12.3 .5 12.7 .5 -13.5 .5 16.7 .5 3.7 .5 -7.8 .5 -4.5 .5 -.2 .5 .3 .5 16.5 .5 -23.1 .5 15.4 .5 -13.8 .5 13.2 .5 -3.4 .5 -3.4 .5 -6.4 .5 11.6 .5 -7.7 .5 -.2 .5 12.2 .5 -12.5 .5 2.4 .5 -2 .5 -2 .5 14.5 .5 -15 .5 7.2 .5 -1 .5 -1 .5 -1.7 .5 6.1 .5 -2.1 .5 8.8 .5 -25.1 .5 17.1 .5 -13 .5 11.5 .5 -6 .5 2.7 .5 3.6 .5 11.9 .5 -16.7 .5 10.4 .5 .4 .5 -3.8 .5 -14.5 .5 8.8 .5 4 .5 9.8 .5 -20.1 .5 14.1 .5 -3 .5 .5 .5 .7 .5 4.2 .5 -.1 .5 -5.4 .5 -1.8 .5 6.4 .5 -7 .5 -.7 .5 7.5 .5 -.5 .5 2.6 .5 6.9 .5 -12.1 .5 -6.8 .5 11.9 .5 4.1 .5 -14.6 .5 -1 .5 -7.4 .5 8 .5 11.5 .5 -6.8 .5 -2.3 .5 18.2 .5 -12.6 .5 -5.6 .5 9.6 .5 0 .5 .9 .5 -7.5 .5 -9.7 .5 5.7 .5 -7.3 .5 26.8 .5 -9.3 .5 -7.9 .5 -1.6 .5 -1.8 .5 3.5 .5 -2.1 .5 .4 .5 1.9 .5 16 .5 -6.7 .5 .4 .5 1.5 .5 -15 .5 12.8 .5 -9.3 .5 -4.9 .5 7.6 .5 -7.4 .5 22.5 .5 -14.9 .5 2.9 .5 -8.7 .5 -1.4 .5 9.5 .5 2.7 .5 3.2 .5 -8.7 .6 -5 .5 2.7 .5 -2.2 .5 4.8 .5 -2.4 .5 -.1 .5 5 .5 -.2 .5 7 .5 -4.1 .5 -6.4 .5 -6.2 .5 4.5 .5 .2 .5 -5.7 .5 3 .5 8.5 .5 -.8 .5 5.8 .5 -16.2 .5 1.4 .5 5.9 .5 -7.6 .5 7.2 .5 1.9 .5 0 .5 -5 .5 -.1 .5 2.2 .5 -6.8 .5 3.4 .5 0 .5 8.6 .5 -8.5 .5 12.7 .5 -4.4 .5 6.4 .5 3.7 .5 -20.2 .5 -.8 .5 -1.5 .5 -2 .5 10.5 .5 -5.7 .5 6.9 .5 -1.1 .5 4.6 .5 -6.6 .5 .1 .5 .4 .5 -.6 .5 19.4 .5 -12.7 .5 -8.2 .5 7.5 .5 -4.1 .5 2.8 .5 -8.7 .5 8.7 .5 -4.3 .5 7.8 .5 -.7 .5 -4.6 .5 2.3 .5 1.9 .5 -9 .5 13.1 .5 -1.8 .5 -5.9 .5 6.7 .5 -11.9 .5 1.2 .5 7.9 .5 -4.6 .5 -6.8 .5 12.3 .5 -6.1 .5 15.2 .5 -5 .5 -23 .5 24 .5 -15.2 .5 5.8 .5 5.2 .5 -13.1 .5 7.2 .5 -2.7 .5 -8.1 .5 10.7 .5 2.1 .5 -4.9 .5 -1.4 .5 3.8 .5 -.8 .5 10.4 .5 -2.3 .5 -7.7 .5 9.7 .5 -1 .5 -15.9 .5 8.5 .5 2.4 .5 -1 .5 0 .5 10.7 .5 -19.3 .5 -6.6 .5 20.1 .5 3.1 .5 -5.2 .5 2.3 .5 -2.8 .5 -3.6 .5 -3.7 .5 4.1 .5 -14.1 .5 27.2 .5 -13.6 .5 5 .5 -3.7 .5 -6.8 .5 13.4 .5 .9 .5 -1.8 .5 -8 .5 2.7 .5 15 .5 -18.2 .5 9 .5 4.5 .5 -6.3 .5 -2.7 .5 .5 .5 -.4 .5 -5.9 .5 -3.4 .5 5 .5 3.7 .5 -1.9 .5 -3.9 .5 10.6 .5 -5.1 .5 -2.4 .5 2.8 .5 7.5 .5 -10.6 .5 5 .5 -15.2 .5 7.3 .5 -2.1 .5 .3 .5 10.7 .5 -5.5 .5 2.3 .5 -9.3 .5 10.6 .5 -6.4 .5 3.9 .5 -4.5 .5 4.6 .5 6.5 .5 -2.9 .5 -13.5 .5 12.1 .5 -14 .5 8.7 .5 4.7 .5 1.9 .5 2.2 .5 -2.3 .5 6.3 .5 -5.1 .5 -15.9 .5 -.9 .5 10.1 .5 13.6 .5 -9.5 .5 -6.3 .5 3.2 .5 -2.6 .5 7.6 .5 -3.2 .5 3.3 .5 -10 .5 -5.5 .5 11.8 .5 1.6 .5 -7.9 .5 -3.2 .5 12.7 .5 3.3 .5 -4.2 .5 1.1 .5 3.4 .5 -20.7 .5 14.7 .5 -6 .5 12.7 .5 -10.8 .5 10.6 .5 1.8 .5 -16.8 .5 1.5 .5 3.8 .5 10.8 .5 -15.2 .5 -2.2 .5 9.8 .5 4.4 .5 -2.1 .5 -3.3 .5 -2.1 .5 8.1 .5 -7.2 .5 12.9 .5 -10 .5 -3.5 .5 -11.6 .5 18 .5 -8 .5 2.9 .5 8.1 .5 -7.3 .5 8.7 .5 -18.6 .5 21.7 .5 -16 .5 9.9 .5 -7.4 .5 6 .5 2.3 .5 4 .5 -1.4 .5 -7.1 .5 14 .5 -14.3 .5 3.2 .5 -6.8 .5 16.9 .5 -14 .5 7.7 .5 -11.4 .5 -8.9 .5 10.6 .5 -12.5 .5 7.6 .5 13.6 .5 -7.7 .5 9.9 .5 -8.9 .5 7.6 .5 -5 .5 -12.6 .5 7.8 .5 .5 .5 15.1 .5 -12.4 .5 2.4 .5 -1.7 .5 -3.6 .5 3.9 .5 -6.5 .5 8.1 .5 -4.1 .5 6.7 .5 -1.5 .5 -1.1 .5 -3.4 .5 6.1 .5 -9.5 .5 14.2 .5 -16.3 .5 -.4 .5 -1.7 .5 2.5 .5 7.5 .5 -10.1 .5 17.5 .5 -20.7 .5 5.7 .5 -6.6 .5 10.2 .5 -5.4 .5 -3 .5 14 .5 -2.5 .5 -1.7 .5 -.8 .5 -4.5 .5 7.4 .5 4.1 .5 -2.7 .5 -3 .5 5.8 .5 -8.9 .5 -4.6 .5 -2.2 .5 20.9 .5 -7 .5 3.6 .5 -.3 .5 -8.4 .5 16.1 .5 -18.7 .5 8.3 .5 2.3 .5 -5.9 .5 -.8 .5 3.8 .5 -4.9 .5 -2.6 .5 9.3 .5 -8.2 .5 -4 .5 4.6 .5 8.9 .5 -7.6 .5 4.5 .5 -9.2 .5 10.1 .5 -14 .5 14.7 .5 -2.4 .5 -11.7 .5 5.3 .5 1 .5 -4 .5 12.9 .5 -6.8 .5 -.3 .5 5.5 .5 -8.6 .5 -3.6 .5 17.3 .5 -8.9 .5 -3.4 .5 2.6 .5 -10.5 .5 6.5 .5 5.3 .5 -2.4 .5 3.3 .5 -2.2 .5 2 .5 3 .5 3.7 .5 -14.2 .5 5.1 .5 2.6 .5 -2 .5 1.6 .5 .8 .5 -2.4 .5 -6.7 .5 5.8 .5 -1.3 .5 -1.2 .5 -4.1 .5 15.6 .5 2.3 .5 -11.8 .5 6 .5 -.7 .5 3.5 .5 -11.4 .5 -10.2 .5 14.3 .5 -6 .5 6.8 .5 .7 .5 -9.2 .5 3.7 .5 -8.5 .5 1.6 .5 16.9 .5 -2.3 .5 -5.2 .5 -1.3 .5 1.7 .5 2.7 .5 -8.5 .5 6.2 .5 1.3 .5 3 .5 1 .5 5.2 .5 -23.3 .5 9.3 .5 5 .5 -5.5 .5 9.6 .5 -9.5 .5 6.9 .5 3.9 .5 -2 .5 -15.9 .5 10.7 .5 3.3 .5 -.1 .5 8 .5 -7.3 .5 1.2 .5 -7.2 .5 -8.5 .5 2 .5 12.3 .5 7.3 .5 -4.5 .5 -19 .5 -.3 .5 28.9 .5 -8.5 .5 -6.3 .5 -8.3 .5 -5.7 .5 11.7 .5 -1.8 .5 -1.3 .5 17.1 .5 -9.4 .5 -3.1 .5 4 .5 -1.6 .5 -10.4 .5 12.1 .5 -6.1 .5 -2.8 .5 3.3 .5 7.9 .5 3.5 .5 -2.6 .5 -18.8 .5 8.8 .5 -1.3 .5 6.4 .5 -6.2 .5 6.7 .5 -9.9 .5 -.9 .5 22.1 .5 -24.4 .5 17.6 .5 -7.8 .5 .4 .5 5 .5 4.2 .5 -17.4 .5 12.7 .5 -8.2 .5 6.1 .5 4.1 .5 7.1 .5 -10.6 .5 12.9 .5 -8.3 .5 -3.1 .5 -5.8 .5 2.5 .5 -3 .5 -.2 .5 1.8 .5 -.1 .5 6.3 .5 -.7 .5 10.6 .5 -13.6 .5 2 .5 11.7 .5 -14.4 .5 -1.7 .5 8.1 .5 .8 .5 -12.2 .5 1.3 .5 16.1 .5 -21.6 .5 13.5 .5 -6.1 .5 -5.4 .5 6.6 .5 8.3 .5 3 .5 -9.7 .5 -15 .5 13.5 .5 2.1 .5 1.8 .5 3.5 .5 -6.1 .5 -1.9 .5 -4.4 .5 .2 .5 8.9 .5 -5.5 .5 2.8 .5 -7.7 .5 1.4 .5 17.3 .5 -12.9 .5 .7 .5 6.5 .5 -18.3 .5 8.6 .5 -1.1 .5 11.6 .5 -13.3 .5 6.2 .5 3.9 .5 -5.1 .5 2.6 .5 6.5 .5 .5 .5 1 .5 -4.9 .5 4.8 .5 -8.6 .5 3.9 .5 .5 .5 -2.4 .5 -2.3 .5 -4 .5 7.5 .5 -6.7 .5 -1.6 .5 .7 .5 16.3 .5 -16.2 .5 4.6 .5 -6.9 .5 20.8 .5 -9 .5 -5 .5 -2.1 .5 6.8 .5 -7.5 .5 -9.7 .5 13.4 .5 -1.1 .5 -6.4 .5 1.5 .5 17.8 .5 -7.1 .5 -1.6 .5 -1.4" fill="none" stroke="#0b0908" stroke-width="1.4" stroke-linejoin="round"/>
<path d="M200.0 1034.0H1508.5" stroke="#0b0908" stroke-width="4"/>
<path d="M202.0 1034.0V1013.0M388.4 1034.0V1013.0M574.8 1034.0V1013.0M761.2 1034.0V1013.0M947.6 1034.0V1013.0M1134.0 1034.0V1013.0M1320.4 1034.0V1013.0M1506.8 1034.0V1013.0M295.2 1034.0V1022.0M481.6 1034.0V1022.0M668.0 1034.0V1022.0M854.4 1034.0V1022.0M1040.8 1034.0V1022.0M1227.2 1034.0V1022.0M1413.6 1034.0V1022.0" stroke="#0b0908" stroke-width="4"/>
<path d="M1849.0 1035.8H3149.7" stroke="#0b0908" stroke-width="4"/>
<path d="M1851.0 1035.8V1014.8M2110.3 1035.8V1014.8M2369.7 1035.8V1014.8M2629.0 1035.8V1014.8M2888.4 1035.8V1014.8M3147.7 1035.8V1014.8M1980.7 1035.8V1024.8M2240.0 1035.8V1024.8M2499.3 1035.8V1024.8M2758.7 1035.8V1024.8M3018.0 1035.8V1024.8" stroke="#0b0908" stroke-width="4"/>
<path d="M950.0 366.6H1505.5" stroke="#0b0908" stroke-width="3.6"/>
<path d="M952.0 366.6V357.1M1020.9 366.6V357.1M1089.8 366.6V357.1M1158.8 366.6V357.1M1227.7 366.6V357.1M1296.6 366.6V357.1M1365.5 366.6V357.1M1434.4 366.6V357.1M1503.4 366.6V357.1M986.5 366.6V361.1M1055.4 366.6V361.1M1124.3 366.6V361.1M1193.2 366.6V361.1M1262.1 366.6V361.1M1331.1 366.6V361.1M1400.0 366.6V361.1M1468.9 366.6V361.1" stroke="#0b0908" stroke-width="3.6"/>
<g font-family="'Liberation Serif','Noto Serif CJK SC',serif" fill="#0b0908">
<text x="203.5" y="1099.7" font-size="64.5" text-anchor="middle" >0</text>
<text x="389.4" y="1099.7" font-size="64.5" text-anchor="middle" >10</text>
<text x="575.3" y="1099.7" font-size="64.5" text-anchor="middle" >20</text>
<text x="761.2" y="1099.7" font-size="64.5" text-anchor="middle" >30</text>
<text x="947.1" y="1099.7" font-size="64.5" text-anchor="middle" >40</text>
<text x="1133.0" y="1099.7" font-size="64.5" text-anchor="middle" >50</text>
<text x="1318.9" y="1099.7" font-size="64.5" text-anchor="middle" >60</text>
<text x="1504.8" y="1099.7" font-size="64.5" text-anchor="middle" >70</text>
<text x="1847.0" y="1101.7" font-size="64.5" text-anchor="middle" >0</text>
<text x="2112.3" y="1101.7" font-size="64.5" text-anchor="middle" >20</text>
<text x="2371.7" y="1101.7" font-size="64.5" text-anchor="middle" >40</text>
<text x="2631.0" y="1101.7" font-size="64.5" text-anchor="middle" >60</text>
<text x="2891.4" y="1101.7" font-size="64.5" text-anchor="middle" >80</text>
<text x="3159.7" y="1101.7" font-size="64.5" text-anchor="middle" >100</text>
<text x="953.0" y="430.2" font-size="64.5" text-anchor="middle" >50</text>
<text x="1090.8" y="430.2" font-size="64.5" text-anchor="middle" >54</text>
<text x="1228.7" y="430.2" font-size="64.5" text-anchor="middle" >58</text>
<text x="1366.5" y="430.2" font-size="64.5" text-anchor="middle" >62</text>
<text x="1512.0" y="430.2" font-size="64.5" text-anchor="middle" >66</text>
<text x="12.8" y="670.6" font-size="62.3">LDHns-F</text>
<text x="253.3" y="690.6" font-size="36">4</text>
<text x="12.8" y="753.6" font-size="62.3">LDHns-F</text>
<text x="253.3" y="772.8" font-size="36">3</text>
<text x="12.8" y="826.8" font-size="62.3">LDHns-F</text>
<text x="253.3" y="846.0" font-size="36">2</text>
<text x="12.8" y="914.7" font-size="62.3">LDHns-F</text>
<text x="253.3" y="935.5" font-size="36">1</text>
<text x="2772.6" y="665.3" font-size="62.6">LDHns-F</text>
<text x="3012.1" y="685.4" font-size="36">4</text>
<text x="2772.6" y="771.4" font-size="62.6">LDHns-F</text>
<text x="3012.1" y="790.4" font-size="36">3</text>
<text x="2772.6" y="876.4" font-size="62.6">LDHns-F</text>
<text x="3012.1" y="896.5" font-size="36">2</text>
<text x="2772.6" y="983.0" font-size="62.6">LDHns-F</text>
<text x="3012.1" y="1002.7" font-size="36">1</text>
<text x="407.5" y="1015.5" font-size="63" text-anchor="middle" >003</text>
<text x="1995.5" y="412.3" font-size="63" text-anchor="middle" >003</text>
<text x="2116.5" y="557.7" font-size="63" text-anchor="middle" >006</text>
<text x="2648.5" y="640.3" font-size="63" text-anchor="middle" >110</text>
<text x="1247.0" y="341.2" font-size="63" text-anchor="middle" >110</text>
<text x="787.0" y="1201.0" font-size="63">2<tspan font-style="italic">&#952;</tspan>/(&#176;)</text>
<text x="2435.0" y="1201.0" font-size="63">2<tspan font-style="italic">&#952;</tspan>/(&#176;)</text>
<text x="1166.5" y="517.8" font-size="63">2<tspan font-style="italic">&#952;</tspan>/(&#176;)</text>
<text x="709.0" y="116.0" font-size="64.2" font-weight="300">迈拉膜</text>
<text x="2216.0" y="116.0" font-size="64.2" font-weight="300">迈拉膜</text>
<text x="381.5" y="1306.0" font-size="63.1" font-weight="300">(插图为该样品在<tspan dy="-3">60&#176;</tspan><tspan dy="3">左右的</tspan><tspan dy="-3">110</tspan><tspan dy="3">峰)</tspan></text>
<text x="318.0" y="1414.7" font-size="62.3">(</text>
<text x="345.5" y="1414.7" font-size="62.3">a</text>
<text x="377.5" y="1414.7" font-size="62.3">)</text>
<text x="1045.5" y="1414.7" font-size="62.3">LDHns-F</text>
<text x="418.0" y="1420.0" font-size="62.6" font-weight="300">覆盖迈拉膜测定的湿样</text>
<text x="1287.8" y="1435.2" font-size="34">1~4</text>
<text x="1934.0" y="1414.7" font-size="62.3">(</text>
<text x="1962.5" y="1414.7" font-size="62.3">b</text>
<text x="1996.0" y="1414.7" font-size="62.3">)</text>
<text x="2789.5" y="1414.7" font-size="62.3">LDHns-F</text>
<text x="2036.5" y="1420.0" font-size="62.6" font-weight="300">覆盖迈拉膜测定的冻干后的</text>
<text x="3032.0" y="1435.6" font-size="34">1~4</text>
</g>
<path d="M787.0 132.5L713.8 181.5" stroke="#0b0908" stroke-width="4.6"/>
<path d="M694.7 194.3L708.5 170.0L722.4 190.8Z" fill="#0b0908"/>
<path d="M2274.5 135.0L2208.9 192.8" stroke="#0b0908" stroke-width="4.6"/>
<path d="M2191.6 208.0L2202.1 182.1L2218.6 200.9Z" fill="#0b0908"/>
<path d="M403.0 965.0L403.0 932.5" stroke="#0b0908" stroke-width="4.4"/>
<path d="M403.0 904.5L411.2 934.5L394.8 934.5Z" fill="#0b0908"/>
<path d="M1301.0 322.0L1318.4 287.4" stroke="#0b0908" stroke-width="4.3"/>
<path d="M1328.3 267.8L1328.2 294.6L1306.8 283.8Z" fill="#0b0908"/>
<path d="M1047.5 487L1168 651" stroke="#0b0908" stroke-width="4.2" stroke-dasharray="15 9"/>
<path d="M1168 663H1474L1481 668V978L1474 984.5H1168" fill="none" stroke="#3a3a3a" stroke-width="2.0" stroke-dasharray="12.5 11"/>
<path d="M1168 663V984.5" fill="none" stroke="#3a3a3a" stroke-width="2.0" stroke-dasharray="12 11"/>
</svg></body></html>
